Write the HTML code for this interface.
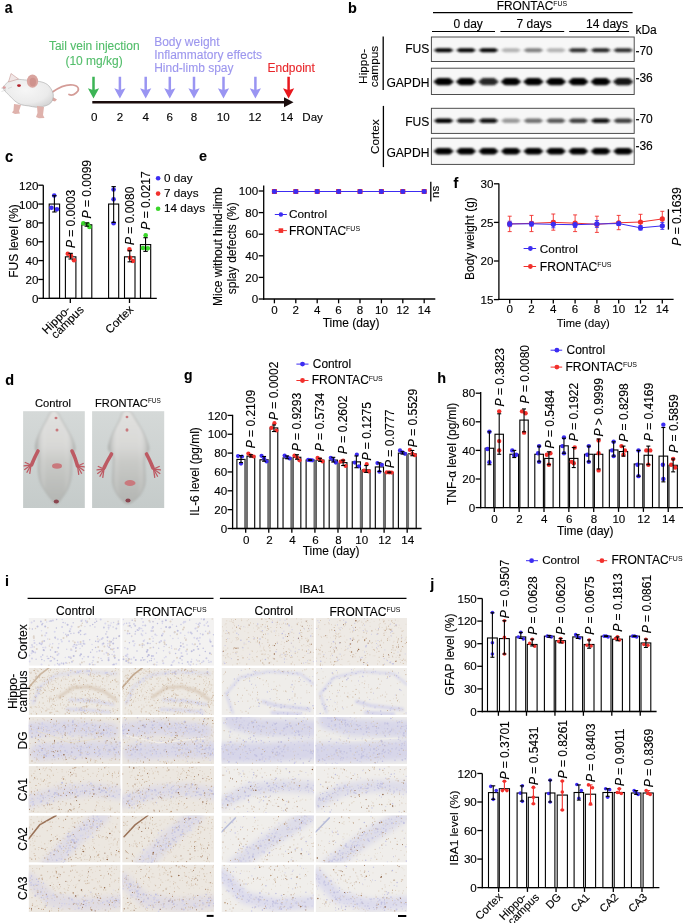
<!DOCTYPE html><html><head><meta charset="utf-8"><style>html,body{margin:0;padding:0;background:#fff;}svg{display:block;will-change:transform;}</style></head><body><svg width="685" height="923" viewBox="0 0 685 923" font-family="'Liberation Sans', sans-serif">
<defs>
<filter id="bl" filterUnits="userSpaceOnUse" x="400" y="0" width="285" height="200"><feGaussianBlur stdDeviation="0.8"/></filter>
<filter id="bl2" x="-20%" y="-60%" width="140%" height="220%"><feGaussianBlur stdDeviation="1.4"/></filter>
<filter id="bl3" filterUnits="userSpaceOnUse" x="0" y="0" width="685" height="923"><feGaussianBlur stdDeviation="2.6"/></filter>
<filter id="bl4" filterUnits="userSpaceOnUse" x="0" y="0" width="685" height="923"><feGaussianBlur stdDeviation="0.5"/></filter>
<filter id="bl1" filterUnits="userSpaceOnUse" x="0" y="0" width="685" height="923"><feGaussianBlur stdDeviation="1"/></filter>
</defs>
<style>text{stroke:currentColor;stroke-width:0.12px;paint-order:stroke;} tspan.s{stroke-width:0;}</style>
<rect width="685" height="923" fill="#fff"/>
<text transform="translate(4.8,12.8) scale(0.9,1.1)" font-size="15.5" font-weight="bold">a</text>
<text x="48.9" y="49.9" font-size="12" fill="#52bd6a" color="#52bd6a">Tail vein injection</text>
<text x="65.4" y="65.1" font-size="12" fill="#52bd6a" color="#52bd6a">(10 mg/kg)</text>
<text x="154.2" y="46.4" font-size="12" fill="#9c96ee" color="#9c96ee">Body weight</text>
<text x="154.2" y="59.2" font-size="12" fill="#9c96ee" color="#9c96ee">Inflammatory effects</text>
<text x="154.2" y="71.9" font-size="12" fill="#9c96ee" color="#9c96ee">Hind-limb spay</text>
<text x="267.5" y="71.9" font-size="12" fill="#e8262a" color="#e8262a">Endpoint</text>
<path d="M92.25,76.7 H94.75 V89.7 L99.1,88.2 L93.5,98.4 L87.9,88.2 L92.25,89.7 Z" fill="#3cb455"/>
<path d="M118.65,76.7 H121.15 V89.7 L125.5,88.2 L119.9,98.4 L114.3,88.2 L118.65,89.7 Z" fill="#9a95f2"/>
<path d="M144.45,76.7 H146.95 V89.7 L151.3,88.2 L145.7,98.4 L140.1,88.2 L144.45,89.7 Z" fill="#9a95f2"/>
<path d="M168.55,76.7 H171.05 V89.7 L175.4,88.2 L169.8,98.4 L164.2,88.2 L168.55,89.7 Z" fill="#9a95f2"/>
<path d="M192.75,76.7 H195.25 V89.7 L199.6,88.2 L194,98.4 L188.4,88.2 L192.75,89.7 Z" fill="#9a95f2"/>
<path d="M222.25,76.7 H224.75 V89.7 L229.1,88.2 L223.5,98.4 L217.9,88.2 L222.25,89.7 Z" fill="#9a95f2"/>
<path d="M254.15,76.7 H256.65 V89.7 L261,88.2 L255.4,98.4 L249.8,88.2 L254.15,89.7 Z" fill="#9a95f2"/>
<path d="M287.35,76.7 H289.85 V89.7 L294.2,88.2 L288.6,98.4 L283,88.2 L287.35,89.7 Z" fill="#e8181e"/>
<path d="M92.3,101 H284 V97.3 L293.5,102.3 L284,107.3 V103.6 H92.3 Z" fill="#1a0c0c"/>
<text x="94.3" y="121" font-size="11.6" text-anchor="middle">0</text>
<text x="119.9" y="121" font-size="11.6" text-anchor="middle">2</text>
<text x="145.7" y="121" font-size="11.6" text-anchor="middle">4</text>
<text x="169.8" y="121" font-size="11.6" text-anchor="middle">6</text>
<text x="194" y="121" font-size="11.6" text-anchor="middle">8</text>
<text x="223.3" y="121" font-size="11.6" text-anchor="middle">10</text>
<text x="255" y="121" font-size="11.6" text-anchor="middle">12</text>
<text x="286.7" y="121" font-size="11.6" text-anchor="middle">14</text>
<text x="302.3" y="121" font-size="11.6">Day</text>
<defs><radialGradient id="mbody" cx="0.45" cy="0.4" r="0.65"><stop offset="0" stop-color="#f6f6f6"/><stop offset="0.7" stop-color="#ebebeb"/><stop offset="1" stop-color="#d6d6d6"/></radialGradient></defs>
<path d="M52.5,92 C58,88 66,84 73,85 C79,86 80,90 76,93 C73,95.5 70,95 69,94.5" fill="none" stroke="#d49c97" stroke-width="1.7" stroke-linecap="round"/>
<path d="M51,96 L57,99.5 L55,101.5 L50,100 Z" fill="#dba8a2"/>
<path d="M3.1,87.3 C3.5,85.9 5.9,83.9 7.4,82.4 C9.0,81.0 10.5,79.1 12.4,78.6 C14.3,78.1 16.5,79.1 18.6,79.3 C20.7,79.5 21.7,79.6 24.8,79.9 C27.9,80.2 33.7,80.5 37.2,81.1 C40.7,81.7 43.6,82.3 45.9,83.6 C48.2,84.8 49.7,86.7 50.9,88.6 C52.1,90.5 53.1,92.7 53.3,94.8 C53.5,96.9 52.9,99.3 52.1,101.0 C51.3,102.7 50.0,103.8 48.4,104.7 C46.8,105.6 44.3,106.2 42.2,106.6 C40.1,107.0 38.3,107.3 36.0,107.2 C33.7,107.1 31.0,106.3 28.5,105.9 C26.0,105.5 23.4,105.5 21.1,104.7 C18.8,103.9 16.8,102.5 14.9,101.0 C13.0,99.5 11.6,97.7 9.9,96.0 C8.2,94.3 6.1,92.5 5.0,91.0 C3.9,89.5 2.7,88.7 3.1,87.3Z" fill="url(#mbody)" stroke="#a9a9a9" stroke-width="0.6"/>
<path d="M14,104 L13.5,110.5 L12,112.5 L15,114 L20,113.5 L19,111 L21,105 Z" fill="#dfb2ac"/>
<path d="M37,106 L37.5,113 L36,117 L39,118.3 L44.5,118 L43,115 L44,107 Z" fill="#dfb2ac"/>
<path d="M8.5,82 L11,73.5 L18.5,79 Z" fill="#f0e6e6" stroke="#c89a96" stroke-width="0.6"/>
<ellipse cx="32.5" cy="81.2" rx="5.6" ry="6.6" fill="#d9a49f"/>
<ellipse cx="32.8" cy="82" rx="3.2" ry="4.2" fill="#cf928d"/>
<ellipse cx="19" cy="85.6" rx="1.9" ry="1.3" fill="#b0202a"/>
<ellipse cx="4.2" cy="87.6" rx="1.6" ry="1.3" fill="#dc9c9c"/>
<path d="M6,89 L1,88 M6,90 L1.5,91.5 M8,88.5 L12,87" stroke="#b8b8b8" stroke-width="0.4"/>
<text transform="translate(348.1,12.7) scale(0.93,1.0)" font-size="15.5" font-weight="bold">b</text>
<text x="496.7" y="10.2" font-size="11.9">FRONTAC<tspan class="s" font-size="6.9" dy="-4.4">FUS</tspan></text>
<line x1="433" y1="12.6" x2="632.6" y2="12.6" stroke="#000" stroke-width="1.2"/>
<line x1="432" y1="31.5" x2="495" y2="31.5" stroke="#000" stroke-width="1.2"/>
<line x1="500.4" y1="31.5" x2="564.2" y2="31.5" stroke="#000" stroke-width="1.2"/>
<line x1="569.2" y1="31.5" x2="629.1" y2="31.5" stroke="#000" stroke-width="1.2"/>
<text x="453.5" y="28" font-size="12">0 day</text>
<text x="516.5" y="28" font-size="12">7 days</text>
<text x="586.1" y="28" font-size="12">14 days</text>
<text x="635.4" y="34" font-size="12">kDa</text>
<rect x="431.4" y="37" width="202.8" height="24.5" fill="#f7f7f7" stroke="#454545" stroke-width="0.95"/>
<rect x="431.4" y="68.2" width="202.8" height="26.3" fill="#f7f7f7" stroke="#454545" stroke-width="0.95"/>
<rect x="431.4" y="108.3" width="202.8" height="25.1" fill="#f7f7f7" stroke="#454545" stroke-width="0.95"/>
<rect x="431.4" y="138.2" width="202.8" height="26.2" fill="#f7f7f7" stroke="#454545" stroke-width="0.95"/>
<g filter="url(#bl)">
<rect x="435.4" y="48.2" width="16.4" height="4" rx="2" fill="rgb(0,0,0)"/>
<ellipse cx="443.6" cy="50.2" rx="10.25" ry="1.32" fill="rgb(0,0,0)"/>
<rect x="457.85" y="48.2" width="16.4" height="4" rx="2" fill="rgb(7,7,7)"/>
<ellipse cx="466.05" cy="50.2" rx="10.25" ry="1.32" fill="rgb(7,7,7)"/>
<rect x="480.3" y="48.2" width="16.4" height="4" rx="2" fill="rgb(7,7,7)"/>
<ellipse cx="488.5" cy="50.2" rx="10.25" ry="1.32" fill="rgb(7,7,7)"/>
<rect x="502.75" y="48.2" width="16.4" height="4" rx="2" fill="rgb(178,178,178)"/>
<ellipse cx="510.95" cy="50.2" rx="10.25" ry="1.32" fill="rgb(178,178,178)"/>
<rect x="525.2" y="48.2" width="16.4" height="4" rx="2" fill="rgb(127,127,127)"/>
<ellipse cx="533.4" cy="50.2" rx="10.25" ry="1.32" fill="rgb(127,127,127)"/>
<rect x="547.65" y="48.2" width="16.4" height="4" rx="2" fill="rgb(178,178,178)"/>
<ellipse cx="555.85" cy="50.2" rx="10.25" ry="1.32" fill="rgb(178,178,178)"/>
<rect x="570.1" y="48.2" width="16.4" height="4" rx="2" fill="rgb(45,45,45)"/>
<ellipse cx="578.3" cy="50.2" rx="10.25" ry="1.32" fill="rgb(45,45,45)"/>
<rect x="592.55" y="48.2" width="16.4" height="4" rx="2" fill="rgb(33,33,33)"/>
<ellipse cx="600.75" cy="50.2" rx="10.25" ry="1.32" fill="rgb(33,33,33)"/>
<rect x="615" y="48.2" width="16.4" height="4" rx="2" fill="rgb(45,45,45)"/>
<ellipse cx="623.2" cy="50.2" rx="10.25" ry="1.32" fill="rgb(45,45,45)"/>
<rect x="435.4" y="78.1" width="16.4" height="7.2" rx="3.6" fill="rgb(0,0,0)"/>
<ellipse cx="443.6" cy="81.7" rx="10.25" ry="2.38" fill="rgb(0,0,0)"/>
<rect x="457.85" y="78.1" width="16.4" height="7.2" rx="3.6" fill="rgb(0,0,0)"/>
<ellipse cx="466.05" cy="81.7" rx="10.25" ry="2.38" fill="rgb(0,0,0)"/>
<rect x="480.3" y="78.1" width="16.4" height="7.2" rx="3.6" fill="rgb(38,38,38)"/>
<ellipse cx="488.5" cy="81.7" rx="10.25" ry="2.38" fill="rgb(38,38,38)"/>
<rect x="502.75" y="78.1" width="16.4" height="7.2" rx="3.6" fill="rgb(0,0,0)"/>
<ellipse cx="510.95" cy="81.7" rx="10.25" ry="2.38" fill="rgb(0,0,0)"/>
<rect x="525.2" y="78.1" width="16.4" height="7.2" rx="3.6" fill="rgb(0,0,0)"/>
<ellipse cx="533.4" cy="81.7" rx="10.25" ry="2.38" fill="rgb(0,0,0)"/>
<rect x="547.65" y="78.1" width="16.4" height="7.2" rx="3.6" fill="rgb(0,0,0)"/>
<ellipse cx="555.85" cy="81.7" rx="10.25" ry="2.38" fill="rgb(0,0,0)"/>
<rect x="570.1" y="78.1" width="16.4" height="7.2" rx="3.6" fill="rgb(0,0,0)"/>
<ellipse cx="578.3" cy="81.7" rx="10.25" ry="2.38" fill="rgb(0,0,0)"/>
<rect x="592.55" y="78.1" width="16.4" height="7.2" rx="3.6" fill="rgb(0,0,0)"/>
<ellipse cx="600.75" cy="81.7" rx="10.25" ry="2.38" fill="rgb(0,0,0)"/>
<rect x="615" y="78.1" width="16.4" height="7.2" rx="3.6" fill="rgb(25,25,25)"/>
<ellipse cx="623.2" cy="81.7" rx="10.25" ry="2.38" fill="rgb(25,25,25)"/>
<rect x="435.4" y="118.5" width="16.4" height="4.4" rx="2.2" fill="rgb(0,0,0)"/>
<ellipse cx="443.6" cy="120.7" rx="10.25" ry="1.45" fill="rgb(0,0,0)"/>
<rect x="457.85" y="118.5" width="16.4" height="4.4" rx="2.2" fill="rgb(25,25,25)"/>
<ellipse cx="466.05" cy="120.7" rx="10.25" ry="1.45" fill="rgb(25,25,25)"/>
<rect x="480.3" y="118.5" width="16.4" height="4.4" rx="2.2" fill="rgb(12,12,12)"/>
<ellipse cx="488.5" cy="120.7" rx="10.25" ry="1.45" fill="rgb(12,12,12)"/>
<rect x="502.75" y="118.5" width="16.4" height="4.4" rx="2.2" fill="rgb(153,153,153)"/>
<ellipse cx="510.95" cy="120.7" rx="10.25" ry="1.45" fill="rgb(153,153,153)"/>
<rect x="525.2" y="118.5" width="16.4" height="4.4" rx="2.2" fill="rgb(114,114,114)"/>
<ellipse cx="533.4" cy="120.7" rx="10.25" ry="1.45" fill="rgb(114,114,114)"/>
<rect x="547.65" y="118.5" width="16.4" height="4.4" rx="2.2" fill="rgb(89,89,89)"/>
<ellipse cx="555.85" cy="120.7" rx="10.25" ry="1.45" fill="rgb(89,89,89)"/>
<rect x="570.1" y="118.5" width="16.4" height="4.4" rx="2.2" fill="rgb(63,63,63)"/>
<ellipse cx="578.3" cy="120.7" rx="10.25" ry="1.45" fill="rgb(63,63,63)"/>
<rect x="592.55" y="118.5" width="16.4" height="4.4" rx="2.2" fill="rgb(12,12,12)"/>
<ellipse cx="600.75" cy="120.7" rx="10.25" ry="1.45" fill="rgb(12,12,12)"/>
<rect x="615" y="118.5" width="16.4" height="4.4" rx="2.2" fill="rgb(63,63,63)"/>
<ellipse cx="623.2" cy="120.7" rx="10.25" ry="1.45" fill="rgb(63,63,63)"/>
<rect x="435.4" y="148" width="16.4" height="6.4" rx="3.2" fill="rgb(0,0,0)"/>
<ellipse cx="443.6" cy="151.2" rx="10.25" ry="2.11" fill="rgb(0,0,0)"/>
<rect x="457.85" y="148" width="16.4" height="6.4" rx="3.2" fill="rgb(0,0,0)"/>
<ellipse cx="466.05" cy="151.2" rx="10.25" ry="2.11" fill="rgb(0,0,0)"/>
<rect x="480.3" y="148" width="16.4" height="6.4" rx="3.2" fill="rgb(0,0,0)"/>
<ellipse cx="488.5" cy="151.2" rx="10.25" ry="2.11" fill="rgb(0,0,0)"/>
<rect x="502.75" y="148" width="16.4" height="6.4" rx="3.2" fill="rgb(0,0,0)"/>
<ellipse cx="510.95" cy="151.2" rx="10.25" ry="2.11" fill="rgb(0,0,0)"/>
<rect x="525.2" y="148" width="16.4" height="6.4" rx="3.2" fill="rgb(0,0,0)"/>
<ellipse cx="533.4" cy="151.2" rx="10.25" ry="2.11" fill="rgb(0,0,0)"/>
<rect x="547.65" y="148" width="16.4" height="6.4" rx="3.2" fill="rgb(0,0,0)"/>
<ellipse cx="555.85" cy="151.2" rx="10.25" ry="2.11" fill="rgb(0,0,0)"/>
<rect x="570.1" y="148" width="16.4" height="6.4" rx="3.2" fill="rgb(0,0,0)"/>
<ellipse cx="578.3" cy="151.2" rx="10.25" ry="2.11" fill="rgb(0,0,0)"/>
<rect x="592.55" y="148" width="16.4" height="6.4" rx="3.2" fill="rgb(0,0,0)"/>
<ellipse cx="600.75" cy="151.2" rx="10.25" ry="2.11" fill="rgb(0,0,0)"/>
<rect x="615" y="148" width="16.4" height="6.4" rx="3.2" fill="rgb(0,0,0)"/>
<ellipse cx="623.2" cy="151.2" rx="10.25" ry="2.11" fill="rgb(0,0,0)"/>
</g>
<text x="429.4" y="52.8" font-size="12.1" text-anchor="end">FUS</text>
<text x="429.4" y="87.2" font-size="12.1" text-anchor="end">GAPDH</text>
<text x="429.4" y="125.5" font-size="12.1" text-anchor="end">FUS</text>
<text x="429.4" y="156.6" font-size="12.1" text-anchor="end">GAPDH</text>
<text x="635.4" y="54.5" font-size="12">-70</text>
<text x="635.4" y="82.1" font-size="12">-36</text>
<text x="635.4" y="122.8" font-size="12">-70</text>
<text x="635.4" y="150.4" font-size="12">-36</text>
<line x1="383.2" y1="36.6" x2="383.2" y2="89.9" stroke="#000" stroke-width="1.3"/>
<line x1="383.4" y1="105.9" x2="383.4" y2="167.1" stroke="#000" stroke-width="1.3"/>
<text transform="translate(367.4,66.5) rotate(-90)" font-size="11.8" text-anchor="middle">Hippo-</text>
<text transform="translate(378.2,66.5) rotate(-90)" font-size="11.8" text-anchor="middle">campus</text>
<text transform="translate(378.6,136.7) rotate(-90)" font-size="11.8" text-anchor="middle">Cortex</text>
<text transform="translate(5.1,161.7) scale(0.95,1.06)" font-size="15.5" font-weight="bold">c</text>
<rect x="49.2" y="204.05" width="10.4" height="94.25" fill="#fff" stroke="#000" stroke-width="1.1"/>
<rect x="65.4" y="256.83" width="10.5" height="41.47" fill="#fff" stroke="#000" stroke-width="1.1"/>
<rect x="81.8" y="224.79" width="10" height="73.51" fill="#fff" stroke="#000" stroke-width="1.1"/>
<rect x="108.6" y="204.05" width="10.1" height="94.25" fill="#fff" stroke="#000" stroke-width="1.1"/>
<rect x="124.5" y="256.83" width="10.5" height="41.47" fill="#fff" stroke="#000" stroke-width="1.1"/>
<rect x="140.4" y="244.58" width="10.3" height="53.72" fill="#fff" stroke="#000" stroke-width="1.1"/>
<circle cx="54.2" cy="195.57" r="2.3" fill="#3c2cf2"/>
<circle cx="51.4" cy="207.82" r="2.3" fill="#3c2cf2"/>
<circle cx="56.9" cy="209.33" r="2.3" fill="#3c2cf2"/>
<line x1="54.4" y1="195.76" x2="54.4" y2="211.97" stroke="#000" stroke-width="1.1"/>
<line x1="52.2" y1="195.76" x2="56.6" y2="195.76" stroke="#000" stroke-width="1.1"/>
<line x1="52.2" y1="211.97" x2="56.6" y2="211.97" stroke="#000" stroke-width="1.1"/>
<circle cx="67.8" cy="253.81" r="2.3" fill="#f2302c"/>
<circle cx="71" cy="255.89" r="2.3" fill="#f2302c"/>
<circle cx="74" cy="260.22" r="2.3" fill="#f2302c"/>
<line x1="70.65" y1="253.34" x2="70.65" y2="259" stroke="#000" stroke-width="1.1"/>
<line x1="68.45" y1="253.34" x2="72.85" y2="253.34" stroke="#000" stroke-width="1.1"/>
<line x1="68.45" y1="259" x2="72.85" y2="259" stroke="#000" stroke-width="1.1"/>
<circle cx="83.3" cy="223.28" r="2.3" fill="#3ad62a"/>
<circle cx="87.9" cy="224.41" r="2.3" fill="#3ad62a"/>
<circle cx="89.5" cy="227.05" r="2.3" fill="#3ad62a"/>
<line x1="86.8" y1="222.9" x2="86.8" y2="226.2" stroke="#000" stroke-width="1.1"/>
<line x1="84.6" y1="222.9" x2="89" y2="222.9" stroke="#000" stroke-width="1.1"/>
<line x1="84.6" y1="226.2" x2="89" y2="226.2" stroke="#000" stroke-width="1.1"/>
<circle cx="113.6" cy="189.44" r="2.3" fill="#3c2cf2"/>
<circle cx="113.6" cy="199.34" r="2.3" fill="#3c2cf2"/>
<circle cx="113.6" cy="223.28" r="2.3" fill="#3c2cf2"/>
<line x1="113.65" y1="186.61" x2="113.65" y2="222.43" stroke="#000" stroke-width="1.1"/>
<line x1="111.45" y1="186.61" x2="115.85" y2="186.61" stroke="#000" stroke-width="1.1"/>
<line x1="111.45" y1="222.43" x2="115.85" y2="222.43" stroke="#000" stroke-width="1.1"/>
<circle cx="129.4" cy="249.38" r="2.3" fill="#f2302c"/>
<circle cx="130.2" cy="257.77" r="2.3" fill="#f2302c"/>
<circle cx="132.9" cy="260.98" r="2.3" fill="#f2302c"/>
<line x1="129.75" y1="250.7" x2="129.75" y2="261.83" stroke="#000" stroke-width="1.1"/>
<line x1="127.55" y1="250.7" x2="131.95" y2="250.7" stroke="#000" stroke-width="1.1"/>
<line x1="127.55" y1="261.83" x2="131.95" y2="261.83" stroke="#000" stroke-width="1.1"/>
<circle cx="145.7" cy="235.34" r="2.3" fill="#3ad62a"/>
<circle cx="143" cy="248.06" r="2.3" fill="#3ad62a"/>
<circle cx="147.8" cy="248.35" r="2.3" fill="#3ad62a"/>
<line x1="145.55" y1="237.7" x2="145.55" y2="251.36" stroke="#000" stroke-width="1.1"/>
<line x1="143.35" y1="237.7" x2="147.75" y2="237.7" stroke="#000" stroke-width="1.1"/>
<line x1="143.35" y1="251.36" x2="147.75" y2="251.36" stroke="#000" stroke-width="1.1"/>
<line x1="43.3" y1="185.2" x2="43.3" y2="298.95" stroke="#000" stroke-width="1.3"/>
<line x1="38.3" y1="298.3" x2="43.3" y2="298.3" stroke="#000" stroke-width="1.3"/>
<text x="38.4" y="302.9" font-size="11.6" text-anchor="end">0</text>
<line x1="38.3" y1="279.45" x2="43.3" y2="279.45" stroke="#000" stroke-width="1.3"/>
<text x="38.4" y="284.05" font-size="11.6" text-anchor="end">20</text>
<line x1="38.3" y1="260.6" x2="43.3" y2="260.6" stroke="#000" stroke-width="1.3"/>
<text x="38.4" y="265.2" font-size="11.6" text-anchor="end">40</text>
<line x1="38.3" y1="241.75" x2="43.3" y2="241.75" stroke="#000" stroke-width="1.3"/>
<text x="38.4" y="246.35" font-size="11.6" text-anchor="end">60</text>
<line x1="38.3" y1="222.9" x2="43.3" y2="222.9" stroke="#000" stroke-width="1.3"/>
<text x="38.4" y="227.5" font-size="11.6" text-anchor="end">80</text>
<line x1="38.3" y1="204.05" x2="43.3" y2="204.05" stroke="#000" stroke-width="1.3"/>
<text x="38.4" y="208.65" font-size="11.6" text-anchor="end">100</text>
<line x1="38.3" y1="185.2" x2="43.3" y2="185.2" stroke="#000" stroke-width="1.3"/>
<text x="38.4" y="189.8" font-size="11.6" text-anchor="end">120</text>
<line x1="42.65" y1="298.3" x2="156.8" y2="298.3" stroke="#000" stroke-width="1.3"/>
<line x1="70.3" y1="298.3" x2="70.3" y2="303" stroke="#000" stroke-width="1.3"/>
<line x1="129.5" y1="298.3" x2="129.5" y2="303" stroke="#000" stroke-width="1.3"/>
<text transform="translate(75.4,248.1) rotate(-90)" font-size="12"><tspan font-style="italic">P</tspan> = 0.0003</text>
<text transform="translate(90.6,218.4) rotate(-90)" font-size="12"><tspan font-style="italic">P</tspan> = 0.0099</text>
<text transform="translate(134.2,245) rotate(-90)" font-size="12"><tspan font-style="italic">P</tspan> = 0.0080</text>
<text transform="translate(150.4,229.7) rotate(-90)" font-size="12"><tspan font-style="italic">P</tspan> = 0.0217</text>
<text transform="translate(17.5,241) rotate(-90)" font-size="11.9" text-anchor="middle">FUS level (%)</text>
<text transform="translate(71,310.5) rotate(-45)" font-size="11.6" text-anchor="end">Hippo-</text>
<text transform="translate(84.5,310.5) rotate(-45)" font-size="11.6" text-anchor="end">campus</text>
<text transform="translate(134.2,310.1) rotate(-45)" font-size="11.6" text-anchor="end">Cortex</text>
<circle cx="158.1" cy="178.3" r="2.3" fill="#3c2cf2"/>
<text x="164.1" y="181.9" font-size="11.7">0 day</text>
<circle cx="158.1" cy="193.6" r="2.3" fill="#f2302c"/>
<text x="164.1" y="197.2" font-size="11.7">7 days</text>
<circle cx="158.1" cy="208.7" r="2.3" fill="#3ad62a"/>
<text x="164.1" y="212.3" font-size="11.7">14 days</text>
<text transform="translate(199.1,161.3) scale(0.93,1.0)" font-size="15.5" font-weight="bold">e</text>
<line x1="263.7" y1="185.4" x2="263.7" y2="299.65" stroke="#000" stroke-width="1.3"/>
<line x1="258.7" y1="299" x2="263.7" y2="299" stroke="#000" stroke-width="1.3"/>
<text x="258.2" y="303.1" font-size="11.6" text-anchor="end">0</text>
<line x1="258.7" y1="277.4" x2="263.7" y2="277.4" stroke="#000" stroke-width="1.3"/>
<text x="258.2" y="281.5" font-size="11.6" text-anchor="end">20</text>
<line x1="258.7" y1="255.8" x2="263.7" y2="255.8" stroke="#000" stroke-width="1.3"/>
<text x="258.2" y="259.9" font-size="11.6" text-anchor="end">40</text>
<line x1="258.7" y1="234.2" x2="263.7" y2="234.2" stroke="#000" stroke-width="1.3"/>
<text x="258.2" y="238.3" font-size="11.6" text-anchor="end">60</text>
<line x1="258.7" y1="212.6" x2="263.7" y2="212.6" stroke="#000" stroke-width="1.3"/>
<text x="258.2" y="216.7" font-size="11.6" text-anchor="end">80</text>
<line x1="258.7" y1="191" x2="263.7" y2="191" stroke="#000" stroke-width="1.3"/>
<text x="258.2" y="195.1" font-size="11.6" text-anchor="end">100</text>
<line x1="263.05" y1="299" x2="435.3" y2="299" stroke="#000" stroke-width="1.3"/>
<line x1="274.4" y1="299" x2="274.4" y2="303.3" stroke="#000" stroke-width="1.3"/>
<text x="274.4" y="314.1" font-size="11.6" text-anchor="middle">0</text>
<line x1="295.8" y1="299" x2="295.8" y2="303.3" stroke="#000" stroke-width="1.3"/>
<text x="295.8" y="314.1" font-size="11.6" text-anchor="middle">2</text>
<line x1="317.2" y1="299" x2="317.2" y2="303.3" stroke="#000" stroke-width="1.3"/>
<text x="317.2" y="314.1" font-size="11.6" text-anchor="middle">4</text>
<line x1="338.6" y1="299" x2="338.6" y2="303.3" stroke="#000" stroke-width="1.3"/>
<text x="338.6" y="314.1" font-size="11.6" text-anchor="middle">6</text>
<line x1="360" y1="299" x2="360" y2="303.3" stroke="#000" stroke-width="1.3"/>
<text x="360" y="314.1" font-size="11.6" text-anchor="middle">8</text>
<line x1="381.4" y1="299" x2="381.4" y2="303.3" stroke="#000" stroke-width="1.3"/>
<text x="381.4" y="314.1" font-size="11.6" text-anchor="middle">10</text>
<line x1="402.8" y1="299" x2="402.8" y2="303.3" stroke="#000" stroke-width="1.3"/>
<text x="402.8" y="314.1" font-size="11.6" text-anchor="middle">12</text>
<line x1="424.2" y1="299" x2="424.2" y2="303.3" stroke="#000" stroke-width="1.3"/>
<text x="424.2" y="314.1" font-size="11.6" text-anchor="middle">14</text>
<text x="351.1" y="326.6" font-size="12" text-anchor="middle">Time (day)</text>
<line x1="274.4" y1="191.5" x2="424.2" y2="191.5" stroke="#f2302c" stroke-width="1"/>
<line x1="274.4" y1="191.5" x2="424.2" y2="191.5" stroke="#3c2cf2" stroke-width="1"/>
<rect x="271.9" y="189" width="5" height="5" fill="#f2302c"/>
<circle cx="274.4" cy="191.5" r="2.5" fill="#3c2cf2"/>
<rect x="293.3" y="189" width="5" height="5" fill="#f2302c"/>
<circle cx="295.8" cy="191.5" r="2.5" fill="#3c2cf2"/>
<rect x="314.7" y="189" width="5" height="5" fill="#f2302c"/>
<circle cx="317.2" cy="191.5" r="2.5" fill="#3c2cf2"/>
<rect x="336.1" y="189" width="5" height="5" fill="#f2302c"/>
<circle cx="338.6" cy="191.5" r="2.5" fill="#3c2cf2"/>
<rect x="357.5" y="189" width="5" height="5" fill="#f2302c"/>
<circle cx="360" cy="191.5" r="2.5" fill="#3c2cf2"/>
<rect x="378.9" y="189" width="5" height="5" fill="#f2302c"/>
<circle cx="381.4" cy="191.5" r="2.5" fill="#3c2cf2"/>
<rect x="400.3" y="189" width="5" height="5" fill="#f2302c"/>
<circle cx="402.8" cy="191.5" r="2.5" fill="#3c2cf2"/>
<rect x="421.7" y="189" width="5" height="5" fill="#f2302c"/>
<circle cx="424.2" cy="191.5" r="2.5" fill="#3c2cf2"/>
<line x1="274.8" y1="214.5" x2="286.9" y2="214.5" stroke="#3c2cf2" stroke-width="1"/>
<circle cx="280.9" cy="214.5" r="2.2" fill="#3c2cf2"/>
<text x="289" y="217.7" font-size="11.8">Control</text>
<line x1="274.8" y1="230.6" x2="286.9" y2="230.6" stroke="#f2302c" stroke-width="1"/>
<rect x="278.6" y="228.3" width="4.6" height="4.6" fill="#f2302c"/>
<text x="289" y="235" font-size="12">FRONTAC<tspan class="s" font-size="6.96" dy="-3.6">FUS</tspan></text>
<line x1="430.8" y1="181.8" x2="430.8" y2="201.4" stroke="#000" stroke-width="1.3"/>
<text transform="translate(439.3,197.9) rotate(-90)" font-size="11.5">ns</text>
<text transform="translate(222.3,246.6) rotate(-90)" font-size="12" text-anchor="middle">Mice without hind-limb</text>
<text transform="translate(235.5,248.2) rotate(-90)" font-size="12" text-anchor="middle">splay defects (%)</text>
<text transform="translate(453.5,188.2) scale(0.93,1.0)" font-size="15.5" font-weight="bold">f</text>
<line x1="498.9" y1="183.4" x2="498.9" y2="299.95" stroke="#000" stroke-width="1.3"/>
<line x1="493.9" y1="299.6" x2="498.9" y2="299.6" stroke="#000" stroke-width="1.3"/>
<text x="493.4" y="303.7" font-size="11.6" text-anchor="end">15</text>
<line x1="493.9" y1="261" x2="498.9" y2="261" stroke="#000" stroke-width="1.3"/>
<text x="493.4" y="265.1" font-size="11.6" text-anchor="end">20</text>
<line x1="493.9" y1="222.4" x2="498.9" y2="222.4" stroke="#000" stroke-width="1.3"/>
<text x="493.4" y="226.5" font-size="11.6" text-anchor="end">25</text>
<line x1="493.9" y1="183.8" x2="498.9" y2="183.8" stroke="#000" stroke-width="1.3"/>
<text x="493.4" y="187.9" font-size="11.6" text-anchor="end">30</text>
<line x1="498.25" y1="299.3" x2="673.6" y2="299.3" stroke="#000" stroke-width="1.3"/>
<line x1="509.7" y1="299.3" x2="509.7" y2="303.6" stroke="#000" stroke-width="1.3"/>
<text x="509.7" y="313.4" font-size="11.6" text-anchor="middle">0</text>
<line x1="531.5" y1="299.3" x2="531.5" y2="303.6" stroke="#000" stroke-width="1.3"/>
<text x="531.5" y="313.4" font-size="11.6" text-anchor="middle">2</text>
<line x1="553.3" y1="299.3" x2="553.3" y2="303.6" stroke="#000" stroke-width="1.3"/>
<text x="553.3" y="313.4" font-size="11.6" text-anchor="middle">4</text>
<line x1="575.1" y1="299.3" x2="575.1" y2="303.6" stroke="#000" stroke-width="1.3"/>
<text x="575.1" y="313.4" font-size="11.6" text-anchor="middle">6</text>
<line x1="596.9" y1="299.3" x2="596.9" y2="303.6" stroke="#000" stroke-width="1.3"/>
<text x="596.9" y="313.4" font-size="11.6" text-anchor="middle">8</text>
<line x1="618.7" y1="299.3" x2="618.7" y2="303.6" stroke="#000" stroke-width="1.3"/>
<text x="618.7" y="313.4" font-size="11.6" text-anchor="middle">10</text>
<line x1="640.5" y1="299.3" x2="640.5" y2="303.6" stroke="#000" stroke-width="1.3"/>
<text x="640.5" y="313.4" font-size="11.6" text-anchor="middle">12</text>
<line x1="662.3" y1="299.3" x2="662.3" y2="303.6" stroke="#000" stroke-width="1.3"/>
<text x="662.3" y="313.4" font-size="11.6" text-anchor="middle">14</text>
<text x="583.3" y="326.8" font-size="11.2" text-anchor="middle">Time (day)</text>
<line x1="509.7" y1="216.2" x2="509.7" y2="231.6" stroke="#f2302c" stroke-width="0.9"/>
<line x1="507.7" y1="216.2" x2="511.7" y2="216.2" stroke="#f2302c" stroke-width="0.9"/>
<line x1="507.7" y1="231.6" x2="511.7" y2="231.6" stroke="#f2302c" stroke-width="0.9"/>
<line x1="531.5" y1="215.4" x2="531.5" y2="231.6" stroke="#f2302c" stroke-width="0.9"/>
<line x1="529.5" y1="215.4" x2="533.5" y2="215.4" stroke="#f2302c" stroke-width="0.9"/>
<line x1="529.5" y1="231.6" x2="533.5" y2="231.6" stroke="#f2302c" stroke-width="0.9"/>
<line x1="553.3" y1="214" x2="553.3" y2="230.2" stroke="#f2302c" stroke-width="0.9"/>
<line x1="551.3" y1="214" x2="555.3" y2="214" stroke="#f2302c" stroke-width="0.9"/>
<line x1="551.3" y1="230.2" x2="555.3" y2="230.2" stroke="#f2302c" stroke-width="0.9"/>
<line x1="575.1" y1="214.9" x2="575.1" y2="231.6" stroke="#f2302c" stroke-width="0.9"/>
<line x1="573.1" y1="214.9" x2="577.1" y2="214.9" stroke="#f2302c" stroke-width="0.9"/>
<line x1="573.1" y1="231.6" x2="577.1" y2="231.6" stroke="#f2302c" stroke-width="0.9"/>
<line x1="596.9" y1="216.2" x2="596.9" y2="232.4" stroke="#f2302c" stroke-width="0.9"/>
<line x1="594.9" y1="216.2" x2="598.9" y2="216.2" stroke="#f2302c" stroke-width="0.9"/>
<line x1="594.9" y1="232.4" x2="598.9" y2="232.4" stroke="#f2302c" stroke-width="0.9"/>
<line x1="618.7" y1="215.4" x2="618.7" y2="229.7" stroke="#f2302c" stroke-width="0.9"/>
<line x1="616.7" y1="215.4" x2="620.7" y2="215.4" stroke="#f2302c" stroke-width="0.9"/>
<line x1="616.7" y1="229.7" x2="620.7" y2="229.7" stroke="#f2302c" stroke-width="0.9"/>
<line x1="640.5" y1="214.3" x2="640.5" y2="228.4" stroke="#f2302c" stroke-width="0.9"/>
<line x1="638.5" y1="214.3" x2="642.5" y2="214.3" stroke="#f2302c" stroke-width="0.9"/>
<line x1="638.5" y1="228.4" x2="642.5" y2="228.4" stroke="#f2302c" stroke-width="0.9"/>
<line x1="662.3" y1="211.3" x2="662.3" y2="226.8" stroke="#f2302c" stroke-width="0.9"/>
<line x1="660.3" y1="211.3" x2="664.3" y2="211.3" stroke="#f2302c" stroke-width="0.9"/>
<line x1="660.3" y1="226.8" x2="664.3" y2="226.8" stroke="#f2302c" stroke-width="0.9"/>
<line x1="509.7" y1="221.24" x2="509.7" y2="226.65" stroke="#3c2cf2" stroke-width="0.9"/>
<line x1="507.7" y1="221.24" x2="511.7" y2="221.24" stroke="#3c2cf2" stroke-width="0.9"/>
<line x1="507.7" y1="226.65" x2="511.7" y2="226.65" stroke="#3c2cf2" stroke-width="0.9"/>
<line x1="531.5" y1="221.47" x2="531.5" y2="226.11" stroke="#3c2cf2" stroke-width="0.9"/>
<line x1="529.5" y1="221.47" x2="533.5" y2="221.47" stroke="#3c2cf2" stroke-width="0.9"/>
<line x1="529.5" y1="226.11" x2="533.5" y2="226.11" stroke="#3c2cf2" stroke-width="0.9"/>
<line x1="553.3" y1="220.86" x2="553.3" y2="227.8" stroke="#3c2cf2" stroke-width="0.9"/>
<line x1="551.3" y1="220.86" x2="555.3" y2="220.86" stroke="#3c2cf2" stroke-width="0.9"/>
<line x1="551.3" y1="227.8" x2="555.3" y2="227.8" stroke="#3c2cf2" stroke-width="0.9"/>
<line x1="575.1" y1="222.01" x2="575.1" y2="227.42" stroke="#3c2cf2" stroke-width="0.9"/>
<line x1="573.1" y1="222.01" x2="577.1" y2="222.01" stroke="#3c2cf2" stroke-width="0.9"/>
<line x1="573.1" y1="227.42" x2="577.1" y2="227.42" stroke="#3c2cf2" stroke-width="0.9"/>
<line x1="596.9" y1="220.47" x2="596.9" y2="227.42" stroke="#3c2cf2" stroke-width="0.9"/>
<line x1="594.9" y1="220.47" x2="598.9" y2="220.47" stroke="#3c2cf2" stroke-width="0.9"/>
<line x1="594.9" y1="227.42" x2="598.9" y2="227.42" stroke="#3c2cf2" stroke-width="0.9"/>
<line x1="618.7" y1="221.63" x2="618.7" y2="225.49" stroke="#3c2cf2" stroke-width="0.9"/>
<line x1="616.7" y1="221.63" x2="620.7" y2="221.63" stroke="#3c2cf2" stroke-width="0.9"/>
<line x1="616.7" y1="225.49" x2="620.7" y2="225.49" stroke="#3c2cf2" stroke-width="0.9"/>
<line x1="640.5" y1="225.49" x2="640.5" y2="230.12" stroke="#3c2cf2" stroke-width="0.9"/>
<line x1="638.5" y1="225.49" x2="642.5" y2="225.49" stroke="#3c2cf2" stroke-width="0.9"/>
<line x1="638.5" y1="230.12" x2="642.5" y2="230.12" stroke="#3c2cf2" stroke-width="0.9"/>
<line x1="662.3" y1="222.4" x2="662.3" y2="229.35" stroke="#3c2cf2" stroke-width="0.9"/>
<line x1="660.3" y1="222.4" x2="664.3" y2="222.4" stroke="#3c2cf2" stroke-width="0.9"/>
<line x1="660.3" y1="229.35" x2="664.3" y2="229.35" stroke="#3c2cf2" stroke-width="0.9"/>
<polyline points="509.7,223.94 531.5,223.33 553.3,222.4 575.1,223.17 596.9,224.33 618.7,222.79 640.5,222.01 662.3,218.93" fill="none" stroke="#f2302c" stroke-width="1"/>
<polyline points="509.7,223.94 531.5,223.79 553.3,224.33 575.1,224.72 596.9,223.94 618.7,223.56 640.5,227.8 662.3,225.87" fill="none" stroke="#3c2cf2" stroke-width="1"/>
<circle cx="509.7" cy="223.94" r="2.6" fill="#f2302c"/>
<circle cx="531.5" cy="223.33" r="2.6" fill="#f2302c"/>
<circle cx="553.3" cy="222.4" r="2.6" fill="#f2302c"/>
<circle cx="575.1" cy="223.17" r="2.6" fill="#f2302c"/>
<circle cx="596.9" cy="224.33" r="2.6" fill="#f2302c"/>
<circle cx="618.7" cy="222.79" r="2.6" fill="#f2302c"/>
<circle cx="640.5" cy="222.01" r="2.6" fill="#f2302c"/>
<circle cx="662.3" cy="218.93" r="2.6" fill="#f2302c"/>
<circle cx="509.7" cy="223.94" r="2.6" fill="#3c2cf2"/>
<circle cx="531.5" cy="223.79" r="2.6" fill="#3c2cf2"/>
<circle cx="553.3" cy="224.33" r="2.6" fill="#3c2cf2"/>
<circle cx="575.1" cy="224.72" r="2.6" fill="#3c2cf2"/>
<circle cx="596.9" cy="223.94" r="2.6" fill="#3c2cf2"/>
<circle cx="618.7" cy="223.56" r="2.6" fill="#3c2cf2"/>
<circle cx="640.5" cy="227.8" r="2.6" fill="#3c2cf2"/>
<circle cx="662.3" cy="225.87" r="2.6" fill="#3c2cf2"/>
<line x1="523.6" y1="248.5" x2="536.1" y2="248.5" stroke="#3c2cf2" stroke-width="1"/>
<circle cx="530.4" cy="248.5" r="2.4" fill="#3c2cf2"/>
<text x="539.8" y="252.5" font-size="11.8">Control</text>
<line x1="523.6" y1="266.5" x2="536.1" y2="266.5" stroke="#f2302c" stroke-width="1"/>
<circle cx="530.4" cy="266.5" r="2.4" fill="#f2302c"/>
<text x="539.8" y="270.6" font-size="12.1">FRONTAC<tspan class="s" font-size="7.02" dy="-3.63">FUS</tspan></text>
<line x1="668.4" y1="209.2" x2="668.4" y2="229.6" stroke="#000" stroke-width="1.3"/>
<text transform="translate(680.6,245.7) rotate(-90)" font-size="12"><tspan font-style="italic">P</tspan> = 0.1639</text>
<text transform="translate(473.7,238.6) rotate(-90)" font-size="11.9" text-anchor="middle">Body weight (g)</text>
<text transform="translate(5.3,384.5) scale(0.93,1.0)" font-size="15.5" font-weight="bold">d</text>
<text x="34.9" y="406.8" font-size="11.2">Control</text>
<text x="95.1" y="406.8" font-size="11.1">FRONTAC<tspan class="s" font-size="6.44" dy="-3.33">FUS</tspan></text>
<defs><linearGradient id="mp1" x1="0" y1="0" x2="0" y2="1"><stop offset="0" stop-color="#d5d9d8"/><stop offset="1" stop-color="#c5cbca"/></linearGradient><linearGradient id="mp1b" x1="0" y1="0" x2="0" y2="1"><stop offset="0" stop-color="#e2e2e0"/><stop offset="0.38" stop-color="#d8d8d6"/><stop offset="0.55" stop-color="#c9cac7"/><stop offset="0.8" stop-color="#bcbebb"/><stop offset="1" stop-color="#b3b5b2"/></linearGradient><linearGradient id="mp1s" x1="0" y1="0" x2="1" y2="0"><stop offset="0" stop-color="#8e9290" stop-opacity="0.6"/><stop offset="0.28" stop-color="#ffffff" stop-opacity="0"/><stop offset="0.72" stop-color="#ffffff" stop-opacity="0"/><stop offset="1" stop-color="#8e9290" stop-opacity="0.5"/></linearGradient><clipPath id="mp1c"><rect x="23.1" y="411.2" width="61.7" height="96.8"/></clipPath><filter id="mp1f" filterUnits="userSpaceOnUse" x="18.1" y="406.2" width="71.7" height="106.8"><feGaussianBlur stdDeviation="0.8"/></filter></defs>
<rect x="23.1" y="411.2" width="61.7" height="96.8" fill="url(#mp1)"/>
<g clip-path="url(#mp1c)">
<g filter="url(#mp1f)"><path d="M51.3,411.5 C52.97,410.08 54.75,410.08 56.5,411.5 C58.25,412.92 59.97,416.92 61.8,420 C63.63,423.08 65.68,426.67 67.5,430 C69.32,433.33 71.45,436.83 72.7,440 C73.95,443.17 75,446.75 75,449 C75,451.25 73.28,451.67 72.7,453.5 C72.12,455.33 71.7,457.25 71.5,460 C71.3,462.75 71.67,466.67 71.5,470 C71.33,473.33 71.25,476.67 70.5,480 C69.75,483.33 68.58,486.83 67,490 C65.42,493.17 62.75,496.67 61,499 C59.25,501.33 58,503.83 56.5,504 C55,504.17 53.75,502 52,500 C50.25,498 47.92,495 46,492 C44.08,489 41.75,485.67 40.5,482 C39.25,478.33 38.78,473.67 38.5,470 C38.22,466.33 38.87,462.75 38.8,460 C38.73,457.25 38.63,455.33 38.1,453.5 C37.57,451.67 35.82,451.25 35.6,449 C35.38,446.75 35.87,443.17 36.8,440 C37.73,436.83 39.58,433.33 41.2,430 C42.82,426.67 44.82,423.08 46.5,420 C48.18,416.92 49.63,412.92 51.3,411.5Z" fill="url(#mp1b)"/>
<path d="M51.3,411.5 C52.97,410.08 54.75,410.08 56.5,411.5 C58.25,412.92 59.97,416.92 61.8,420 C63.63,423.08 65.68,426.67 67.5,430 C69.32,433.33 71.45,436.83 72.7,440 C73.95,443.17 75,446.75 75,449 C75,451.25 73.28,451.67 72.7,453.5 C72.12,455.33 71.7,457.25 71.5,460 C71.3,462.75 71.67,466.67 71.5,470 C71.33,473.33 71.25,476.67 70.5,480 C69.75,483.33 68.58,486.83 67,490 C65.42,493.17 62.75,496.67 61,499 C59.25,501.33 58,503.83 56.5,504 C55,504.17 53.75,502 52,500 C50.25,498 47.92,495 46,492 C44.08,489 41.75,485.67 40.5,482 C39.25,478.33 38.78,473.67 38.5,470 C38.22,466.33 38.87,462.75 38.8,460 C38.73,457.25 38.63,455.33 38.1,453.5 C37.57,451.67 35.82,451.25 35.6,449 C35.38,446.75 35.87,443.17 36.8,440 C37.73,436.83 39.58,433.33 41.2,430 C42.82,426.67 44.82,423.08 46.5,420 C48.18,416.92 49.63,412.92 51.3,411.5Z" fill="url(#mp1s)" stroke="#a4a6a3" stroke-width="0.8"/></g>
<path d="M38,451 C37.42,452.17 35.58,455.67 34.5,458 C33.42,460.33 32,463.83 31.5,465" stroke="#bd5a63" stroke-width="3.6" stroke-linecap="round" fill="none"/>
<path d="M72,451 C72.5,452.17 74.08,455.5 75,458 C75.92,460.5 77.08,464.67 77.5,466" stroke="#bd5a63" stroke-width="3.6" stroke-linecap="round" fill="none"/>
<line x1="31" y1="465" x2="25.27" y2="462.48" stroke="#bd5a63" stroke-width="1.3" stroke-linecap="round"/>
<line x1="31" y1="465" x2="24.03" y2="465.89" stroke="#bd5a63" stroke-width="1.3" stroke-linecap="round"/>
<line x1="31" y1="465" x2="24.66" y2="469.46" stroke="#bd5a63" stroke-width="1.3" stroke-linecap="round"/>
<line x1="31" y1="465" x2="26.98" y2="472.23" stroke="#bd5a63" stroke-width="1.3" stroke-linecap="round"/>
<line x1="31" y1="465" x2="29.78" y2="473.39" stroke="#bd5a63" stroke-width="1.3" stroke-linecap="round"/>
<line x1="77.5" y1="466" x2="83.23" y2="463.48" stroke="#bd5a63" stroke-width="1.3" stroke-linecap="round"/>
<line x1="77.5" y1="466" x2="84.47" y2="466.89" stroke="#bd5a63" stroke-width="1.3" stroke-linecap="round"/>
<line x1="77.5" y1="466" x2="83.84" y2="470.46" stroke="#bd5a63" stroke-width="1.3" stroke-linecap="round"/>
<line x1="77.5" y1="466" x2="81.52" y2="473.23" stroke="#bd5a63" stroke-width="1.3" stroke-linecap="round"/>
<line x1="77.5" y1="466" x2="78.72" y2="474.39" stroke="#bd5a63" stroke-width="1.3" stroke-linecap="round"/>
<ellipse cx="57" cy="466" rx="5" ry="2.8" fill="#c9797d"/>
<ellipse cx="56" cy="418" rx="1.5" ry="1.2" fill="#c9797d"/>
<ellipse cx="57" cy="430" rx="1.5" ry="1.5" fill="#c9797d"/>
<ellipse cx="56.3" cy="501.5" rx="2.6" ry="2" fill="#8a4650"/>
</g>
<defs><linearGradient id="mp2" x1="0" y1="0" x2="0" y2="1"><stop offset="0" stop-color="#d5d9d8"/><stop offset="1" stop-color="#c5cbca"/></linearGradient><linearGradient id="mp2b" x1="0" y1="0" x2="0" y2="1"><stop offset="0" stop-color="#e2e2e0"/><stop offset="0.38" stop-color="#d8d8d6"/><stop offset="0.55" stop-color="#c9cac7"/><stop offset="0.8" stop-color="#bcbebb"/><stop offset="1" stop-color="#b3b5b2"/></linearGradient><linearGradient id="mp2s" x1="0" y1="0" x2="1" y2="0"><stop offset="0" stop-color="#8e9290" stop-opacity="0.6"/><stop offset="0.28" stop-color="#ffffff" stop-opacity="0"/><stop offset="0.72" stop-color="#ffffff" stop-opacity="0"/><stop offset="1" stop-color="#8e9290" stop-opacity="0.5"/></linearGradient><clipPath id="mp2c"><rect x="92.1" y="411.2" width="72.1" height="96.8"/></clipPath><filter id="mp2f" filterUnits="userSpaceOnUse" x="87.1" y="406.2" width="82.1" height="106.8"><feGaussianBlur stdDeviation="0.8"/></filter></defs>
<rect x="92.1" y="411.2" width="72.1" height="96.8" fill="url(#mp2)"/>
<g clip-path="url(#mp2c)">
<g filter="url(#mp2f)"><path d="M123.2,411.5 C124.95,410.08 128.08,410.08 130.2,411.5 C132.32,412.92 133.93,416.92 135.9,420 C137.87,423.08 140.25,426.67 142,430 C143.75,433.33 145.27,436.83 146.4,440 C147.53,443.17 148.95,446.33 148.8,449 C148.65,451.67 146.27,453.83 145.5,456 C144.73,458.17 144.28,458.83 144.2,462 C144.12,465.17 144.95,471.17 145,475 C145.05,478.83 145.33,481.67 144.5,485 C143.67,488.33 142.08,492.17 140,495 C137.92,497.83 134,500.58 132,502 C130,503.42 129.33,503.5 128,503.5 C126.67,503.5 125.83,503.58 124,502 C122.17,500.42 118.83,497 117,494 C115.17,491 113.67,487.67 113,484 C112.33,480.33 112.9,475.67 113,472 C113.1,468.33 113.58,464.67 113.6,462 C113.62,459.33 113.93,458.17 113.1,456 C112.27,453.83 109.07,451.67 108.6,449 C108.13,446.33 109.33,443.17 110.3,440 C111.27,436.83 112.83,433.33 114.4,430 C115.97,426.67 118.23,423.08 119.7,420 C121.17,416.92 121.45,412.92 123.2,411.5Z" fill="url(#mp2b)"/>
<path d="M123.2,411.5 C124.95,410.08 128.08,410.08 130.2,411.5 C132.32,412.92 133.93,416.92 135.9,420 C137.87,423.08 140.25,426.67 142,430 C143.75,433.33 145.27,436.83 146.4,440 C147.53,443.17 148.95,446.33 148.8,449 C148.65,451.67 146.27,453.83 145.5,456 C144.73,458.17 144.28,458.83 144.2,462 C144.12,465.17 144.95,471.17 145,475 C145.05,478.83 145.33,481.67 144.5,485 C143.67,488.33 142.08,492.17 140,495 C137.92,497.83 134,500.58 132,502 C130,503.42 129.33,503.5 128,503.5 C126.67,503.5 125.83,503.58 124,502 C122.17,500.42 118.83,497 117,494 C115.17,491 113.67,487.67 113,484 C112.33,480.33 112.9,475.67 113,472 C113.1,468.33 113.58,464.67 113.6,462 C113.62,459.33 113.93,458.17 113.1,456 C112.27,453.83 109.07,451.67 108.6,449 C108.13,446.33 109.33,443.17 110.3,440 C111.27,436.83 112.83,433.33 114.4,430 C115.97,426.67 118.23,423.08 119.7,420 C121.17,416.92 121.45,412.92 123.2,411.5Z" fill="url(#mp2s)" stroke="#a4a6a3" stroke-width="0.8"/></g>
<path d="M111.5,454 C110.83,455.17 108.75,458.67 107.5,461 C106.25,463.33 104.58,466.83 104,468" stroke="#bd5a63" stroke-width="3.6" stroke-linecap="round" fill="none"/>
<path d="M146.5,454 C147.08,455.17 148.92,458.67 150,461 C151.08,463.33 152.5,466.83 153,468" stroke="#bd5a63" stroke-width="3.6" stroke-linecap="round" fill="none"/>
<line x1="104" y1="469" x2="98.27" y2="466.48" stroke="#bd5a63" stroke-width="1.3" stroke-linecap="round"/>
<line x1="104" y1="469" x2="97.03" y2="469.89" stroke="#bd5a63" stroke-width="1.3" stroke-linecap="round"/>
<line x1="104" y1="469" x2="97.66" y2="473.46" stroke="#bd5a63" stroke-width="1.3" stroke-linecap="round"/>
<line x1="104" y1="469" x2="99.98" y2="476.23" stroke="#bd5a63" stroke-width="1.3" stroke-linecap="round"/>
<line x1="104" y1="469" x2="102.78" y2="477.39" stroke="#bd5a63" stroke-width="1.3" stroke-linecap="round"/>
<line x1="153.5" y1="469" x2="159.23" y2="466.48" stroke="#bd5a63" stroke-width="1.3" stroke-linecap="round"/>
<line x1="153.5" y1="469" x2="160.47" y2="469.89" stroke="#bd5a63" stroke-width="1.3" stroke-linecap="round"/>
<line x1="153.5" y1="469" x2="159.84" y2="473.46" stroke="#bd5a63" stroke-width="1.3" stroke-linecap="round"/>
<line x1="153.5" y1="469" x2="157.52" y2="476.23" stroke="#bd5a63" stroke-width="1.3" stroke-linecap="round"/>
<line x1="153.5" y1="469" x2="154.72" y2="477.39" stroke="#bd5a63" stroke-width="1.3" stroke-linecap="round"/>
<ellipse cx="130" cy="483" rx="5.5" ry="3" fill="#c9797d"/>
<ellipse cx="127" cy="417" rx="1.4" ry="1.2" fill="#c9797d"/>
<ellipse cx="127" cy="430" rx="1.5" ry="1.8" fill="#c9797d"/>
<ellipse cx="128" cy="500.5" rx="2.6" ry="2" fill="#8a4650"/>
</g>
<text transform="translate(183.9,379.6) scale(0.9,1.0)" font-size="15.5" font-weight="bold">g</text>
<rect x="236.9" y="459.41" width="8.2" height="69.09" fill="#fff" stroke="#000" stroke-width="1.1"/>
<rect x="247" y="456.12" width="7.7" height="72.38" fill="#fff" stroke="#000" stroke-width="1.1"/>
<rect x="259.97" y="459.79" width="8.2" height="68.71" fill="#fff" stroke="#000" stroke-width="1.1"/>
<rect x="270.07" y="427.94" width="7.7" height="100.56" fill="#fff" stroke="#000" stroke-width="1.1"/>
<rect x="283.04" y="457.91" width="8.2" height="70.59" fill="#fff" stroke="#000" stroke-width="1.1"/>
<rect x="293.14" y="457.25" width="7.7" height="71.25" fill="#fff" stroke="#000" stroke-width="1.1"/>
<rect x="306.11" y="460.07" width="8.2" height="68.43" fill="#fff" stroke="#000" stroke-width="1.1"/>
<rect x="316.21" y="460.07" width="7.7" height="68.43" fill="#fff" stroke="#000" stroke-width="1.1"/>
<rect x="329.18" y="460.07" width="8.2" height="68.43" fill="#fff" stroke="#000" stroke-width="1.1"/>
<rect x="339.28" y="462.62" width="7.7" height="65.88" fill="#fff" stroke="#000" stroke-width="1.1"/>
<rect x="352.25" y="461.87" width="8.2" height="66.63" fill="#fff" stroke="#000" stroke-width="1.1"/>
<rect x="362.35" y="469.88" width="7.7" height="58.62" fill="#fff" stroke="#000" stroke-width="1.1"/>
<rect x="375.32" y="466.95" width="8.2" height="61.55" fill="#fff" stroke="#000" stroke-width="1.1"/>
<rect x="385.42" y="472.42" width="7.7" height="56.08" fill="#fff" stroke="#000" stroke-width="1.1"/>
<rect x="398.39" y="453.1" width="8.2" height="75.4" fill="#fff" stroke="#000" stroke-width="1.1"/>
<rect x="408.49" y="453.85" width="7.7" height="74.65" fill="#fff" stroke="#000" stroke-width="1.1"/>
<rect x="244.6" y="459.41" width="2.9" height="69.09" fill="#707070"/>
<rect x="267.67" y="459.79" width="2.9" height="68.71" fill="#707070"/>
<rect x="290.74" y="457.91" width="2.9" height="70.59" fill="#707070"/>
<rect x="313.81" y="460.07" width="2.9" height="68.43" fill="#707070"/>
<rect x="336.88" y="462.62" width="2.9" height="65.88" fill="#707070"/>
<rect x="359.95" y="469.88" width="2.9" height="58.62" fill="#707070"/>
<rect x="383.02" y="472.42" width="2.9" height="56.08" fill="#707070"/>
<rect x="406.09" y="453.85" width="2.9" height="74.65" fill="#707070"/>
<circle cx="238" cy="456.12" r="2.1" fill="#3c2cf2"/>
<circle cx="242" cy="456.49" r="2.1" fill="#3c2cf2"/>
<circle cx="241" cy="463.56" r="2.1" fill="#3c2cf2"/>
<line x1="241" y1="455.55" x2="241" y2="462.52" stroke="#000" stroke-width="1.1"/>
<line x1="239" y1="455.55" x2="243" y2="455.55" stroke="#000" stroke-width="1.1"/>
<line x1="239" y1="462.52" x2="243" y2="462.52" stroke="#000" stroke-width="1.1"/>
<circle cx="248.35" cy="453.57" r="2.1" fill="#f2302c"/>
<circle cx="250.85" cy="455.55" r="2.1" fill="#f2302c"/>
<circle cx="253.65" cy="456.49" r="2.1" fill="#f2302c"/>
<line x1="250.85" y1="454.7" x2="250.85" y2="457.06" stroke="#000" stroke-width="1.1"/>
<line x1="248.85" y1="454.7" x2="252.85" y2="454.7" stroke="#000" stroke-width="1.1"/>
<line x1="248.85" y1="457.06" x2="252.85" y2="457.06" stroke="#000" stroke-width="1.1"/>
<circle cx="261.57" cy="455.83" r="2.1" fill="#3c2cf2"/>
<circle cx="264.07" cy="458.57" r="2.1" fill="#3c2cf2"/>
<circle cx="266.57" cy="461.49" r="2.1" fill="#3c2cf2"/>
<line x1="264.07" y1="456.49" x2="264.07" y2="461.21" stroke="#000" stroke-width="1.1"/>
<line x1="262.07" y1="456.49" x2="266.07" y2="456.49" stroke="#000" stroke-width="1.1"/>
<line x1="262.07" y1="461.21" x2="266.07" y2="461.21" stroke="#000" stroke-width="1.1"/>
<circle cx="274.42" cy="423.22" r="2.1" fill="#f2302c"/>
<circle cx="271.42" cy="427.94" r="2.1" fill="#f2302c"/>
<circle cx="276.42" cy="430.48" r="2.1" fill="#f2302c"/>
<line x1="273.92" y1="425.01" x2="273.92" y2="431.52" stroke="#000" stroke-width="1.1"/>
<line x1="271.92" y1="425.01" x2="275.92" y2="425.01" stroke="#000" stroke-width="1.1"/>
<line x1="271.92" y1="431.52" x2="275.92" y2="431.52" stroke="#000" stroke-width="1.1"/>
<circle cx="284.64" cy="455.55" r="2.1" fill="#3c2cf2"/>
<circle cx="287.14" cy="457.25" r="2.1" fill="#3c2cf2"/>
<circle cx="289.64" cy="458.38" r="2.1" fill="#3c2cf2"/>
<line x1="287.14" y1="455.93" x2="287.14" y2="458.75" stroke="#000" stroke-width="1.1"/>
<line x1="285.14" y1="455.93" x2="289.14" y2="455.93" stroke="#000" stroke-width="1.1"/>
<line x1="285.14" y1="458.75" x2="289.14" y2="458.75" stroke="#000" stroke-width="1.1"/>
<circle cx="294.49" cy="455.55" r="2.1" fill="#f2302c"/>
<circle cx="296.99" cy="457.25" r="2.1" fill="#f2302c"/>
<circle cx="299.49" cy="460.36" r="2.1" fill="#f2302c"/>
<line x1="296.99" y1="454.7" x2="296.99" y2="459.23" stroke="#000" stroke-width="1.1"/>
<line x1="294.99" y1="454.7" x2="298.99" y2="454.7" stroke="#000" stroke-width="1.1"/>
<line x1="294.99" y1="459.23" x2="298.99" y2="459.23" stroke="#000" stroke-width="1.1"/>
<circle cx="308.21" cy="459.89" r="2.1" fill="#3c2cf2"/>
<circle cx="310.21" cy="460.17" r="2.1" fill="#3c2cf2"/>
<circle cx="312.21" cy="460.36" r="2.1" fill="#3c2cf2"/>
<line x1="310.21" y1="459.7" x2="310.21" y2="460.45" stroke="#000" stroke-width="1.1"/>
<line x1="308.21" y1="459.7" x2="312.21" y2="459.7" stroke="#000" stroke-width="1.1"/>
<line x1="308.21" y1="460.45" x2="312.21" y2="460.45" stroke="#000" stroke-width="1.1"/>
<circle cx="317.56" cy="457.91" r="2.1" fill="#f2302c"/>
<circle cx="320.06" cy="459.41" r="2.1" fill="#f2302c"/>
<circle cx="322.56" cy="461.49" r="2.1" fill="#f2302c"/>
<line x1="320.06" y1="458.28" x2="320.06" y2="461.39" stroke="#000" stroke-width="1.1"/>
<line x1="318.06" y1="458.28" x2="322.06" y2="458.28" stroke="#000" stroke-width="1.1"/>
<line x1="318.06" y1="461.39" x2="322.06" y2="461.39" stroke="#000" stroke-width="1.1"/>
<circle cx="330.78" cy="457.81" r="2.1" fill="#3c2cf2"/>
<circle cx="333.28" cy="460.07" r="2.1" fill="#3c2cf2"/>
<circle cx="335.78" cy="462.62" r="2.1" fill="#3c2cf2"/>
<line x1="333.28" y1="457.34" x2="333.28" y2="462.05" stroke="#000" stroke-width="1.1"/>
<line x1="331.28" y1="457.34" x2="335.28" y2="457.34" stroke="#000" stroke-width="1.1"/>
<line x1="331.28" y1="462.05" x2="335.28" y2="462.05" stroke="#000" stroke-width="1.1"/>
<circle cx="340.63" cy="461.58" r="2.1" fill="#f2302c"/>
<circle cx="343.13" cy="460.64" r="2.1" fill="#f2302c"/>
<circle cx="345.63" cy="466.01" r="2.1" fill="#f2302c"/>
<line x1="343.13" y1="460.17" x2="343.13" y2="465.54" stroke="#000" stroke-width="1.1"/>
<line x1="341.13" y1="460.17" x2="345.13" y2="460.17" stroke="#000" stroke-width="1.1"/>
<line x1="341.13" y1="465.54" x2="345.13" y2="465.54" stroke="#000" stroke-width="1.1"/>
<circle cx="356.85" cy="454.61" r="2.1" fill="#3c2cf2"/>
<circle cx="354.85" cy="462.62" r="2.1" fill="#3c2cf2"/>
<circle cx="358.85" cy="466.3" r="2.1" fill="#3c2cf2"/>
<line x1="356.35" y1="455.93" x2="356.35" y2="467.71" stroke="#000" stroke-width="1.1"/>
<line x1="354.35" y1="455.93" x2="358.35" y2="455.93" stroke="#000" stroke-width="1.1"/>
<line x1="354.35" y1="467.71" x2="358.35" y2="467.71" stroke="#000" stroke-width="1.1"/>
<circle cx="366.7" cy="464.13" r="2.1" fill="#f2302c"/>
<circle cx="364.2" cy="470.72" r="2.1" fill="#f2302c"/>
<circle cx="368.7" cy="471.38" r="2.1" fill="#f2302c"/>
<line x1="366.2" y1="465.54" x2="366.2" y2="472.42" stroke="#000" stroke-width="1.1"/>
<line x1="364.2" y1="465.54" x2="368.2" y2="465.54" stroke="#000" stroke-width="1.1"/>
<line x1="364.2" y1="472.42" x2="368.2" y2="472.42" stroke="#000" stroke-width="1.1"/>
<circle cx="377.42" cy="463.09" r="2.1" fill="#3c2cf2"/>
<circle cx="381.92" cy="464.79" r="2.1" fill="#3c2cf2"/>
<circle cx="379.42" cy="471.76" r="2.1" fill="#3c2cf2"/>
<line x1="379.42" y1="462.81" x2="379.42" y2="471.48" stroke="#000" stroke-width="1.1"/>
<line x1="377.42" y1="462.81" x2="381.42" y2="462.81" stroke="#000" stroke-width="1.1"/>
<line x1="377.42" y1="471.48" x2="381.42" y2="471.48" stroke="#000" stroke-width="1.1"/>
<circle cx="386.77" cy="472.33" r="2.1" fill="#f2302c"/>
<circle cx="389.27" cy="472.42" r="2.1" fill="#f2302c"/>
<circle cx="391.77" cy="472.61" r="2.1" fill="#f2302c"/>
<line x1="389.27" y1="471.95" x2="389.27" y2="472.89" stroke="#000" stroke-width="1.1"/>
<line x1="387.27" y1="471.95" x2="391.27" y2="471.95" stroke="#000" stroke-width="1.1"/>
<line x1="387.27" y1="472.89" x2="391.27" y2="472.89" stroke="#000" stroke-width="1.1"/>
<circle cx="399.99" cy="450.46" r="2.1" fill="#3c2cf2"/>
<circle cx="402.49" cy="452.44" r="2.1" fill="#3c2cf2"/>
<circle cx="404.99" cy="453.85" r="2.1" fill="#3c2cf2"/>
<line x1="402.49" y1="451.69" x2="402.49" y2="454.04" stroke="#000" stroke-width="1.1"/>
<line x1="400.49" y1="451.69" x2="404.49" y2="451.69" stroke="#000" stroke-width="1.1"/>
<line x1="400.49" y1="454.04" x2="404.49" y2="454.04" stroke="#000" stroke-width="1.1"/>
<circle cx="409.84" cy="449.9" r="2.1" fill="#f2302c"/>
<circle cx="412.34" cy="453.85" r="2.1" fill="#f2302c"/>
<circle cx="414.84" cy="455.27" r="2.1" fill="#f2302c"/>
<line x1="412.34" y1="450.46" x2="412.34" y2="455.74" stroke="#000" stroke-width="1.1"/>
<line x1="410.34" y1="450.46" x2="414.34" y2="450.46" stroke="#000" stroke-width="1.1"/>
<line x1="410.34" y1="455.74" x2="414.34" y2="455.74" stroke="#000" stroke-width="1.1"/>
<line x1="232.6" y1="414.8" x2="232.6" y2="529.15" stroke="#000" stroke-width="1.3"/>
<line x1="227.6" y1="528.5" x2="232.6" y2="528.5" stroke="#000" stroke-width="1.3"/>
<text x="227.1" y="532.6" font-size="11.6" text-anchor="end">0</text>
<line x1="227.6" y1="509.65" x2="232.6" y2="509.65" stroke="#000" stroke-width="1.3"/>
<text x="227.1" y="513.75" font-size="11.6" text-anchor="end">20</text>
<line x1="227.6" y1="490.8" x2="232.6" y2="490.8" stroke="#000" stroke-width="1.3"/>
<text x="227.1" y="494.9" font-size="11.6" text-anchor="end">40</text>
<line x1="227.6" y1="471.95" x2="232.6" y2="471.95" stroke="#000" stroke-width="1.3"/>
<text x="227.1" y="476.05" font-size="11.6" text-anchor="end">60</text>
<line x1="227.6" y1="453.1" x2="232.6" y2="453.1" stroke="#000" stroke-width="1.3"/>
<text x="227.1" y="457.2" font-size="11.6" text-anchor="end">80</text>
<line x1="227.6" y1="434.25" x2="232.6" y2="434.25" stroke="#000" stroke-width="1.3"/>
<text x="227.1" y="438.35" font-size="11.6" text-anchor="end">100</text>
<line x1="227.6" y1="415.4" x2="232.6" y2="415.4" stroke="#000" stroke-width="1.3"/>
<text x="227.1" y="419.5" font-size="11.6" text-anchor="end">120</text>
<line x1="231.95" y1="528.5" x2="421.6" y2="528.5" stroke="#000" stroke-width="1.3"/>
<line x1="245.7" y1="528.5" x2="245.7" y2="532.8" stroke="#000" stroke-width="1.3"/>
<text x="246.3" y="544.2" font-size="11.6" text-anchor="middle">0</text>
<line x1="268.77" y1="528.5" x2="268.77" y2="532.8" stroke="#000" stroke-width="1.3"/>
<text x="269.37" y="544.2" font-size="11.6" text-anchor="middle">2</text>
<line x1="291.84" y1="528.5" x2="291.84" y2="532.8" stroke="#000" stroke-width="1.3"/>
<text x="292.44" y="544.2" font-size="11.6" text-anchor="middle">4</text>
<line x1="314.91" y1="528.5" x2="314.91" y2="532.8" stroke="#000" stroke-width="1.3"/>
<text x="315.51" y="544.2" font-size="11.6" text-anchor="middle">6</text>
<line x1="337.98" y1="528.5" x2="337.98" y2="532.8" stroke="#000" stroke-width="1.3"/>
<text x="338.58" y="544.2" font-size="11.6" text-anchor="middle">8</text>
<line x1="361.05" y1="528.5" x2="361.05" y2="532.8" stroke="#000" stroke-width="1.3"/>
<text x="361.65" y="544.2" font-size="11.6" text-anchor="middle">10</text>
<line x1="384.12" y1="528.5" x2="384.12" y2="532.8" stroke="#000" stroke-width="1.3"/>
<text x="384.72" y="544.2" font-size="11.6" text-anchor="middle">12</text>
<line x1="407.19" y1="528.5" x2="407.19" y2="532.8" stroke="#000" stroke-width="1.3"/>
<text x="407.79" y="544.2" font-size="11.6" text-anchor="middle">14</text>
<text x="331.1" y="554.8" font-size="12" text-anchor="middle">Time (day)</text>
<text transform="translate(199.1,471.5) rotate(-90)" font-size="11.9" text-anchor="middle">IL-6 level (pg/ml)</text>
<text transform="translate(255.15,448.3) rotate(-90)" font-size="12"><tspan font-style="italic">P</tspan> = 0.2109</text>
<text transform="translate(278.22,420) rotate(-90)" font-size="12"><tspan font-style="italic">P</tspan> = 0.0002</text>
<text transform="translate(301.29,451.3) rotate(-90)" font-size="12"><tspan font-style="italic">P</tspan> = 0.9293</text>
<text transform="translate(324.36,451.3) rotate(-90)" font-size="12"><tspan font-style="italic">P</tspan> = 0.5734</text>
<text transform="translate(347.43,454) rotate(-90)" font-size="12"><tspan font-style="italic">P</tspan> = 0.2602</text>
<text transform="translate(370.5,460.5) rotate(-90)" font-size="12"><tspan font-style="italic">P</tspan> = 0.1275</text>
<text transform="translate(393.57,468) rotate(-90)" font-size="12"><tspan font-style="italic">P</tspan> = 0.0777</text>
<text transform="translate(416.64,447.2) rotate(-90)" font-size="12"><tspan font-style="italic">P</tspan> = 0.5529</text>
<line x1="296.4" y1="364.1" x2="308.5" y2="364.1" stroke="#3c2cf2" stroke-width="1"/>
<circle cx="302.5" cy="364.1" r="2.4" fill="#3c2cf2"/>
<text x="312.8" y="367.9" font-size="11.9">Control</text>
<line x1="296.4" y1="380.5" x2="308.5" y2="380.5" stroke="#f2302c" stroke-width="1"/>
<circle cx="302.5" cy="380.5" r="2.4" fill="#f2302c"/>
<text x="311.7" y="384.3" font-size="12">FRONTAC<tspan class="s" font-size="6.96" dy="-3.6">FUS</tspan></text>
<text transform="translate(437.3,383.3) scale(0.93,1.0)" font-size="15.5" font-weight="bold">h</text>
<rect x="485.1" y="448.25" width="8.6" height="59.35" fill="#fff" stroke="#000" stroke-width="1.1"/>
<rect x="495" y="434.24" width="8.4" height="73.36" fill="#fff" stroke="#000" stroke-width="1.1"/>
<rect x="509.95" y="454.26" width="8.6" height="53.34" fill="#fff" stroke="#000" stroke-width="1.1"/>
<rect x="519.85" y="420.08" width="8.4" height="87.52" fill="#fff" stroke="#000" stroke-width="1.1"/>
<rect x="534.8" y="454.26" width="8.6" height="53.34" fill="#fff" stroke="#000" stroke-width="1.1"/>
<rect x="544.7" y="458.41" width="8.4" height="49.19" fill="#fff" stroke="#000" stroke-width="1.1"/>
<rect x="559.65" y="445.82" width="8.6" height="61.78" fill="#fff" stroke="#000" stroke-width="1.1"/>
<rect x="569.55" y="458.41" width="8.4" height="49.19" fill="#fff" stroke="#000" stroke-width="1.1"/>
<rect x="584.5" y="454.26" width="8.6" height="53.34" fill="#fff" stroke="#000" stroke-width="1.1"/>
<rect x="594.4" y="454.26" width="8.4" height="53.34" fill="#fff" stroke="#000" stroke-width="1.1"/>
<rect x="609.35" y="449.97" width="8.6" height="57.63" fill="#fff" stroke="#000" stroke-width="1.1"/>
<rect x="619.25" y="451.54" width="8.4" height="56.06" fill="#fff" stroke="#000" stroke-width="1.1"/>
<rect x="634.2" y="463.99" width="8.6" height="43.62" fill="#fff" stroke="#000" stroke-width="1.1"/>
<rect x="644.1" y="455.26" width="8.4" height="52.34" fill="#fff" stroke="#000" stroke-width="1.1"/>
<rect x="659.05" y="456.12" width="8.6" height="51.48" fill="#fff" stroke="#000" stroke-width="1.1"/>
<rect x="668.95" y="465.27" width="8.4" height="42.33" fill="#fff" stroke="#000" stroke-width="1.1"/>
<circle cx="489.4" cy="431.81" r="2.2" fill="#3c2cf2"/>
<circle cx="487.4" cy="448.97" r="2.2" fill="#3c2cf2"/>
<circle cx="489.4" cy="462.13" r="2.2" fill="#3c2cf2"/>
<line x1="489.4" y1="431.81" x2="489.4" y2="464.7" stroke="#000" stroke-width="1.1"/>
<line x1="487.4" y1="431.81" x2="491.4" y2="431.81" stroke="#000" stroke-width="1.1"/>
<line x1="487.4" y1="464.7" x2="491.4" y2="464.7" stroke="#000" stroke-width="1.1"/>
<circle cx="499.2" cy="411.36" r="2.2" fill="#f2302c"/>
<circle cx="499.2" cy="441.11" r="2.2" fill="#f2302c"/>
<circle cx="499.2" cy="450.4" r="2.2" fill="#f2302c"/>
<line x1="499.2" y1="413.79" x2="499.2" y2="454.26" stroke="#000" stroke-width="1.1"/>
<line x1="497.2" y1="413.79" x2="501.2" y2="413.79" stroke="#000" stroke-width="1.1"/>
<line x1="497.2" y1="454.26" x2="501.2" y2="454.26" stroke="#000" stroke-width="1.1"/>
<circle cx="512.25" cy="450.4" r="2.2" fill="#3c2cf2"/>
<circle cx="514.25" cy="455.41" r="2.2" fill="#3c2cf2"/>
<circle cx="516.25" cy="454.69" r="2.2" fill="#3c2cf2"/>
<line x1="514.25" y1="450.4" x2="514.25" y2="457.55" stroke="#000" stroke-width="1.1"/>
<line x1="512.25" y1="450.4" x2="516.25" y2="450.4" stroke="#000" stroke-width="1.1"/>
<line x1="512.25" y1="457.55" x2="516.25" y2="457.55" stroke="#000" stroke-width="1.1"/>
<circle cx="522.05" cy="411.36" r="2.2" fill="#f2302c"/>
<circle cx="525.55" cy="413.22" r="2.2" fill="#f2302c"/>
<circle cx="524.05" cy="432.67" r="2.2" fill="#f2302c"/>
<line x1="524.05" y1="408.93" x2="524.05" y2="431.81" stroke="#000" stroke-width="1.1"/>
<line x1="522.05" y1="408.93" x2="526.05" y2="408.93" stroke="#000" stroke-width="1.1"/>
<line x1="522.05" y1="431.81" x2="526.05" y2="431.81" stroke="#000" stroke-width="1.1"/>
<circle cx="539.1" cy="446.11" r="2.2" fill="#3c2cf2"/>
<circle cx="538.1" cy="453.26" r="2.2" fill="#3c2cf2"/>
<circle cx="539.1" cy="461.84" r="2.2" fill="#3c2cf2"/>
<line x1="539.1" y1="446.11" x2="539.1" y2="461.84" stroke="#000" stroke-width="1.1"/>
<line x1="537.1" y1="446.11" x2="541.1" y2="446.11" stroke="#000" stroke-width="1.1"/>
<line x1="537.1" y1="461.84" x2="541.1" y2="461.84" stroke="#000" stroke-width="1.1"/>
<circle cx="546.9" cy="454.69" r="2.2" fill="#f2302c"/>
<circle cx="550.4" cy="453.26" r="2.2" fill="#f2302c"/>
<circle cx="548.9" cy="464.7" r="2.2" fill="#f2302c"/>
<line x1="548.9" y1="451.83" x2="548.9" y2="464.7" stroke="#000" stroke-width="1.1"/>
<line x1="546.9" y1="451.83" x2="550.9" y2="451.83" stroke="#000" stroke-width="1.1"/>
<line x1="546.9" y1="464.7" x2="550.9" y2="464.7" stroke="#000" stroke-width="1.1"/>
<circle cx="563.95" cy="437.53" r="2.2" fill="#3c2cf2"/>
<circle cx="562.45" cy="446.11" r="2.2" fill="#3c2cf2"/>
<circle cx="563.95" cy="453.26" r="2.2" fill="#3c2cf2"/>
<line x1="563.95" y1="438.25" x2="563.95" y2="453.26" stroke="#000" stroke-width="1.1"/>
<line x1="561.95" y1="438.25" x2="565.95" y2="438.25" stroke="#000" stroke-width="1.1"/>
<line x1="561.95" y1="453.26" x2="565.95" y2="453.26" stroke="#000" stroke-width="1.1"/>
<circle cx="574.75" cy="447.54" r="2.2" fill="#f2302c"/>
<circle cx="571.75" cy="461.84" r="2.2" fill="#f2302c"/>
<circle cx="573.75" cy="463.27" r="2.2" fill="#f2302c"/>
<line x1="573.75" y1="447.54" x2="573.75" y2="467.56" stroke="#000" stroke-width="1.1"/>
<line x1="571.75" y1="447.54" x2="575.75" y2="447.54" stroke="#000" stroke-width="1.1"/>
<line x1="571.75" y1="467.56" x2="575.75" y2="467.56" stroke="#000" stroke-width="1.1"/>
<circle cx="588.8" cy="446.11" r="2.2" fill="#3c2cf2"/>
<circle cx="587.3" cy="454.69" r="2.2" fill="#3c2cf2"/>
<circle cx="588.8" cy="461.84" r="2.2" fill="#3c2cf2"/>
<line x1="588.8" y1="446.11" x2="588.8" y2="461.84" stroke="#000" stroke-width="1.1"/>
<line x1="586.8" y1="446.11" x2="590.8" y2="446.11" stroke="#000" stroke-width="1.1"/>
<line x1="586.8" y1="461.84" x2="590.8" y2="461.84" stroke="#000" stroke-width="1.1"/>
<circle cx="598.6" cy="440.39" r="2.2" fill="#f2302c"/>
<circle cx="598.6" cy="453.26" r="2.2" fill="#f2302c"/>
<circle cx="598.6" cy="470.42" r="2.2" fill="#f2302c"/>
<line x1="598.6" y1="438.96" x2="598.6" y2="468.99" stroke="#000" stroke-width="1.1"/>
<line x1="596.6" y1="438.96" x2="600.6" y2="438.96" stroke="#000" stroke-width="1.1"/>
<line x1="596.6" y1="468.99" x2="600.6" y2="468.99" stroke="#000" stroke-width="1.1"/>
<circle cx="613.65" cy="441.82" r="2.2" fill="#3c2cf2"/>
<circle cx="612.15" cy="450.4" r="2.2" fill="#3c2cf2"/>
<circle cx="613.65" cy="456.12" r="2.2" fill="#3c2cf2"/>
<line x1="613.65" y1="441.82" x2="613.65" y2="456.12" stroke="#000" stroke-width="1.1"/>
<line x1="611.65" y1="441.82" x2="615.65" y2="441.82" stroke="#000" stroke-width="1.1"/>
<line x1="611.65" y1="456.12" x2="615.65" y2="456.12" stroke="#000" stroke-width="1.1"/>
<circle cx="621.45" cy="446.11" r="2.2" fill="#f2302c"/>
<circle cx="624.95" cy="450.4" r="2.2" fill="#f2302c"/>
<circle cx="623.45" cy="454.69" r="2.2" fill="#f2302c"/>
<line x1="623.45" y1="446.11" x2="623.45" y2="456.12" stroke="#000" stroke-width="1.1"/>
<line x1="621.45" y1="446.11" x2="625.45" y2="446.11" stroke="#000" stroke-width="1.1"/>
<line x1="621.45" y1="456.12" x2="625.45" y2="456.12" stroke="#000" stroke-width="1.1"/>
<circle cx="638.5" cy="450.4" r="2.2" fill="#3c2cf2"/>
<circle cx="637.5" cy="464.7" r="2.2" fill="#3c2cf2"/>
<circle cx="638.5" cy="476.14" r="2.2" fill="#3c2cf2"/>
<line x1="638.5" y1="450.4" x2="638.5" y2="476.14" stroke="#000" stroke-width="1.1"/>
<line x1="636.5" y1="450.4" x2="640.5" y2="450.4" stroke="#000" stroke-width="1.1"/>
<line x1="636.5" y1="476.14" x2="640.5" y2="476.14" stroke="#000" stroke-width="1.1"/>
<circle cx="646.3" cy="450.4" r="2.2" fill="#f2302c"/>
<circle cx="650.3" cy="450.4" r="2.2" fill="#f2302c"/>
<circle cx="648.3" cy="464.7" r="2.2" fill="#f2302c"/>
<line x1="648.3" y1="446.11" x2="648.3" y2="464.7" stroke="#000" stroke-width="1.1"/>
<line x1="646.3" y1="446.11" x2="650.3" y2="446.11" stroke="#000" stroke-width="1.1"/>
<line x1="646.3" y1="464.7" x2="650.3" y2="464.7" stroke="#000" stroke-width="1.1"/>
<circle cx="663.35" cy="424.66" r="2.2" fill="#3c2cf2"/>
<circle cx="662.85" cy="464.7" r="2.2" fill="#3c2cf2"/>
<circle cx="663.35" cy="479" r="2.2" fill="#3c2cf2"/>
<line x1="663.35" y1="427.52" x2="663.35" y2="481.86" stroke="#000" stroke-width="1.1"/>
<line x1="661.35" y1="427.52" x2="665.35" y2="427.52" stroke="#000" stroke-width="1.1"/>
<line x1="661.35" y1="481.86" x2="665.35" y2="481.86" stroke="#000" stroke-width="1.1"/>
<circle cx="673.15" cy="458.98" r="2.2" fill="#f2302c"/>
<circle cx="671.15" cy="464.7" r="2.2" fill="#f2302c"/>
<circle cx="675.15" cy="467.56" r="2.2" fill="#f2302c"/>
<line x1="673.15" y1="458.98" x2="673.15" y2="471.85" stroke="#000" stroke-width="1.1"/>
<line x1="671.15" y1="458.98" x2="675.15" y2="458.98" stroke="#000" stroke-width="1.1"/>
<line x1="671.15" y1="471.85" x2="675.15" y2="471.85" stroke="#000" stroke-width="1.1"/>
<line x1="480.7" y1="392.1" x2="480.7" y2="508.25" stroke="#000" stroke-width="1.3"/>
<line x1="475.7" y1="507.6" x2="480.7" y2="507.6" stroke="#000" stroke-width="1.3"/>
<text x="475.2" y="511.7" font-size="11.6" text-anchor="end">0</text>
<line x1="475.7" y1="479" x2="480.7" y2="479" stroke="#000" stroke-width="1.3"/>
<text x="475.2" y="483.1" font-size="11.6" text-anchor="end">20</text>
<line x1="475.7" y1="450.4" x2="480.7" y2="450.4" stroke="#000" stroke-width="1.3"/>
<text x="475.2" y="454.5" font-size="11.6" text-anchor="end">40</text>
<line x1="475.7" y1="421.8" x2="480.7" y2="421.8" stroke="#000" stroke-width="1.3"/>
<text x="475.2" y="425.9" font-size="11.6" text-anchor="end">60</text>
<line x1="475.7" y1="393.2" x2="480.7" y2="393.2" stroke="#000" stroke-width="1.3"/>
<text x="475.2" y="397.3" font-size="11.6" text-anchor="end">80</text>
<line x1="480.05" y1="507.6" x2="683" y2="507.6" stroke="#000" stroke-width="1.3"/>
<line x1="494.3" y1="507.6" x2="494.3" y2="511.9" stroke="#000" stroke-width="1.3"/>
<text x="494.6" y="522.9" font-size="11.6" text-anchor="middle">0</text>
<line x1="519.15" y1="507.6" x2="519.15" y2="511.9" stroke="#000" stroke-width="1.3"/>
<text x="519.45" y="522.9" font-size="11.6" text-anchor="middle">2</text>
<line x1="544" y1="507.6" x2="544" y2="511.9" stroke="#000" stroke-width="1.3"/>
<text x="544.3" y="522.9" font-size="11.6" text-anchor="middle">4</text>
<line x1="568.85" y1="507.6" x2="568.85" y2="511.9" stroke="#000" stroke-width="1.3"/>
<text x="569.15" y="522.9" font-size="11.6" text-anchor="middle">6</text>
<line x1="593.7" y1="507.6" x2="593.7" y2="511.9" stroke="#000" stroke-width="1.3"/>
<text x="594" y="522.9" font-size="11.6" text-anchor="middle">8</text>
<line x1="618.55" y1="507.6" x2="618.55" y2="511.9" stroke="#000" stroke-width="1.3"/>
<text x="618.85" y="522.9" font-size="11.6" text-anchor="middle">10</text>
<line x1="643.4" y1="507.6" x2="643.4" y2="511.9" stroke="#000" stroke-width="1.3"/>
<text x="643.7" y="522.9" font-size="11.6" text-anchor="middle">12</text>
<line x1="668.25" y1="507.6" x2="668.25" y2="511.9" stroke="#000" stroke-width="1.3"/>
<text x="668.55" y="522.9" font-size="11.6" text-anchor="middle">14</text>
<text x="585.3" y="535.4" font-size="11.9" text-anchor="middle">Time (day)</text>
<text transform="translate(455.7,453.9) rotate(-90)" font-size="11.9" text-anchor="middle">TNF-α level (pg/ml)</text>
<text transform="translate(503.8,406.4) rotate(-90)" font-size="12"><tspan font-style="italic">P</tspan> = 0.3823</text>
<text transform="translate(528.65,403.4) rotate(-90)" font-size="12"><tspan font-style="italic">P</tspan> = 0.0080</text>
<text transform="translate(553.5,448.4) rotate(-90)" font-size="12"><tspan font-style="italic">P</tspan> = 0.5484</text>
<text transform="translate(578.35,441.2) rotate(-90)" font-size="12"><tspan font-style="italic">P</tspan> = 0.1922</text>
<text transform="translate(603.2,436.5) rotate(-90)" font-size="12"><tspan font-style="italic">P</tspan> &gt; 0.9999</text>
<text transform="translate(628.05,441.8) rotate(-90)" font-size="12"><tspan font-style="italic">P</tspan> = 0.8298</text>
<text transform="translate(652.9,441.2) rotate(-90)" font-size="12"><tspan font-style="italic">P</tspan> = 0.4169</text>
<text transform="translate(677.75,452.8) rotate(-90)" font-size="12"><tspan font-style="italic">P</tspan> = 0.5859</text>
<line x1="550.6" y1="350.2" x2="562.2" y2="350.2" stroke="#3c2cf2" stroke-width="1"/>
<circle cx="556.9" cy="350.2" r="2.4" fill="#3c2cf2"/>
<text x="566.5" y="354" font-size="12">Control</text>
<line x1="550.6" y1="367.1" x2="562.2" y2="367.1" stroke="#f2302c" stroke-width="1"/>
<circle cx="556.9" cy="367.1" r="2.4" fill="#f2302c"/>
<text x="565.4" y="371" font-size="12.1">FRONTAC<tspan class="s" font-size="7.02" dy="-3.63">FUS</tspan></text>
<text transform="translate(4.9,586) scale(0.93,1.0)" font-size="15.5" font-weight="bold">i</text>
<text x="120.3" y="593.6" font-size="12" text-anchor="middle">GFAP</text>
<line x1="27.6" y1="598.4" x2="213.5" y2="598.4" stroke="#000" stroke-width="1.3"/>
<text x="312.1" y="593.1" font-size="11.7" text-anchor="middle">IBA1</text>
<line x1="219.9" y1="598.4" x2="406.5" y2="598.4" stroke="#000" stroke-width="1.3"/>
<text x="56.1" y="614.5" font-size="12">Control</text>
<text x="135.5" y="616" font-size="12">FRONTAC<tspan class="s" font-size="6.96" dy="-3.6">FUS</tspan></text>
<text x="254.6" y="614.5" font-size="12">Control</text>
<text x="329.4" y="616" font-size="12">FRONTAC<tspan class="s" font-size="6.96" dy="-3.6">FUS</tspan></text>
<clipPath id="tc00"><rect x="28.6" y="618" width="92" height="47.8"/></clipPath>
<g clip-path="url(#tc00)">
<rect x="28.6" y="618" width="92" height="47.8" fill="#f3f2f1"/>
<path d="M41.0 656.7h0M86.9 622.5h0M84.6 644.0h0M40.1 643.6h0M58.6 653.8h0M54.7 631.7h0M105.3 623.4h0M71.5 650.1h0M29.6 661.5h0M85.5 634.1h0M110.2 625.4h0M31.6 653.2h0M45.4 647.6h0M113.9 651.7h0M70.4 628.9h0M41.5 664.4h0M57.8 639.3h0M86.1 621.5h0M61.9 641.5h0M77.8 642.3h0M32.6 646.7h0M73.2 646.6h0M45.2 635.6h0M116.2 663.7h0M109.7 643.2h0M31.6 622.4h0" stroke="#d9d8ec" stroke-width="2.0" stroke-linecap="round"/>
<path d="M63.5 663.9h0M95.7 641.2h0M50.7 656.4h0M63.6 663.3h0M94.9 622.5h0M56.6 619.5h0M116.2 638.3h0M55.1 637.5h0M34.1 620.9h0M51.2 660.7h0M41.8 659.6h0M75.6 648.0h0M42.7 655.0h0M32.0 645.0h0M97.4 636.5h0M110.7 649.1h0M76.8 645.1h0M92.7 624.6h0M75.6 651.3h0M102.0 660.5h0M63.1 622.4h0M70.9 658.3h0M48.7 658.5h0M105.9 634.0h0M50.5 650.1h0M96.6 621.2h0M56.4 628.1h0M32.4 629.0h0M81.1 620.9h0M90.6 652.2h0M44.0 650.6h0M57.4 660.4h0M39.4 643.2h0M113.8 638.3h0M66.8 635.7h0M81.6 620.9h0M95.6 647.6h0M82.2 646.1h0M74.3 644.6h0" stroke="#bfbfdd" stroke-width="1.5" stroke-linecap="round"/>
<path d="M47.5 658.5h0M94.9 664.8h0M95.8 619.0h0M101.0 658.4h0M113.4 648.7h0M34.1 640.4h0M112.6 664.7h0M47.1 656.3h0M118.4 620.9h0M99.8 639.9h0M113.6 622.6h0M58.9 643.7h0M114.0 648.5h0M92.1 662.7h0M107.9 643.8h0M82.1 620.1h0M44.3 660.7h0M82.4 658.8h0M107.4 640.7h0M43.0 647.6h0M96.9 651.8h0M85.6 620.4h0M49.4 621.3h0M65.3 623.0h0M66.7 649.2h0M78.9 644.3h0M52.7 643.8h0M84.0 656.8h0M47.8 638.9h0M107.5 645.9h0M108.3 625.3h0" stroke="#d2d1e8" stroke-width="1.5" stroke-linecap="round"/>
<path d="M36.8 644.7h0M58.5 664.8h0M108.5 660.7h0M104.0 654.1h0M31.0 647.5h0M46.6 622.0h0M117.0 624.8h0M84.9 626.6h0M102.3 644.8h0M108.6 629.1h0M73.9 646.3h0M50.0 644.3h0M65.3 657.6h0M63.5 632.7h0M62.2 619.4h0M53.0 657.4h0M112.1 654.5h0M54.8 665.1h0M102.3 643.8h0M75.5 645.1h0M41.5 630.8h0M70.6 649.9h0M80.0 648.4h0M92.0 644.4h0M111.1 622.9h0M59.6 664.1h0" stroke="#d9d8ec" stroke-width="1.5" stroke-linecap="round"/>
<path d="M109.1 647.2h0M98.2 641.4h0M80.1 655.5h0M88.2 656.7h0M54.4 658.7h0M42.0 624.5h0M114.5 655.6h0M58.2 647.7h0M103.9 627.5h0M29.3 655.6h0M44.2 641.0h0M41.4 644.2h0M40.9 621.5h0M89.7 664.2h0M55.1 637.4h0M117.8 647.9h0M118.8 660.0h0M72.0 661.8h0M75.9 647.8h0M51.0 620.9h0M83.6 643.6h0M68.1 635.1h0M116.3 628.4h0M99.5 650.7h0" stroke="#c9c9e2" stroke-width="2.0" stroke-linecap="round"/>
<path d="M80.4 664.8h0M80.6 634.4h0M87.3 622.3h0M36.1 659.2h0M55.5 637.9h0M84.3 634.4h0M65.8 634.3h0M94.9 626.9h0M106.8 631.8h0M61.1 639.8h0M93.0 660.8h0M57.6 663.4h0M42.7 623.6h0M90.1 625.7h0M70.9 633.5h0M73.2 622.8h0M92.4 649.8h0M73.9 633.3h0M92.7 664.8h0M113.1 627.0h0M109.2 654.4h0M89.7 639.7h0M113.0 639.9h0" stroke="#c9c9e2" stroke-width="1.5" stroke-linecap="round"/>
<path d="M73.1 660.7h0M87.5 621.3h0M80.0 664.0h0M35.5 628.6h0M66.9 663.3h0M79.2 626.6h0M93.4 664.7h0M119.0 636.4h0M108.0 655.2h0M66.7 636.7h0M49.3 645.9h0M76.3 651.1h0M107.9 621.6h0M52.5 657.3h0M118.2 622.1h0M48.9 665.3h0M98.5 657.8h0M89.4 618.8h0M57.1 651.7h0M73.0 640.9h0M49.6 639.3h0M71.0 649.0h0M71.0 657.3h0M84.1 661.7h0M34.3 647.0h0M69.4 662.7h0M47.9 627.8h0M97.9 639.1h0M111.2 649.3h0M82.3 623.2h0" stroke="#ddd2c8" stroke-width="1.5" stroke-linecap="round"/>
<path d="M66.0 662.8h0M62.1 626.9h0M52.9 620.4h0M102.7 637.9h0M34.5 643.0h0M93.5 657.2h0M46.4 633.0h0M108.6 627.5h0M80.7 643.9h0M35.2 652.6h0M100.7 619.6h0M97.7 662.0h0M42.1 643.1h0M106.6 652.7h0M108.5 658.0h0M83.4 641.1h0M71.6 626.6h0M68.8 657.1h0M57.5 655.0h0M50.4 661.0h0M59.4 664.8h0M101.7 639.0h0M61.6 663.2h0M69.1 641.2h0M32.0 658.5h0M70.2 657.6h0" stroke="#d2d1e8" stroke-width="2.0" stroke-linecap="round"/>
<path d="M33.2 651.7h0M119.3 636.1h0M32.4 651.0h0M118.4 623.7h0M81.0 654.3h0M80.4 630.8h0M111.0 641.7h0M73.7 655.9h0M69.7 631.2h0M113.2 643.5h0M78.7 632.5h0M107.5 637.3h0M67.6 624.8h0M45.2 626.6h0M113.9 664.4h0M55.4 652.1h0M43.6 650.1h0M108.6 660.1h0M114.8 657.8h0M103.4 643.5h0M37.5 626.4h0" stroke="#bfbfdd" stroke-width="2.0" stroke-linecap="round"/>
<path d="M102.2 651.1h0M42.4 641.4h0M109.9 645.3h0M98.2 647.0h0M104.4 646.6h0M33.9 638.0h0M36.8 648.9h0M63.5 638.1h0M97.8 662.1h0M33.8 636.2h0M78.4 627.0h0M81.3 625.6h0M112.5 649.4h0M33.7 637.0h0M29.3 628.6h0M114.1 656.2h0M80.6 642.1h0M74.8 642.4h0M41.9 635.6h0M109.6 641.4h0M45.5 619.9h0M108.0 653.8h0M81.9 662.6h0M52.1 647.6h0" stroke="#ddd2c8" stroke-width="2.0" stroke-linecap="round"/>
</g>
<clipPath id="tc10"><rect x="122.2" y="618" width="91.8" height="47.8"/></clipPath>
<g clip-path="url(#tc10)">
<rect x="122.2" y="618" width="91.8" height="47.8" fill="#f3f2f1"/>
<path d="M197.3 646.6h0M157.5 623.5h0M142.5 657.7h0M142.3 645.2h0M199.8 623.6h0M147.5 656.5h0M197.3 630.9h0M203.2 648.2h0M143.4 660.0h0M151.3 660.4h0M129.6 633.6h0M199.9 644.1h0M175.6 653.5h0M176.5 626.2h0M135.1 634.0h0M137.4 629.9h0M182.7 656.3h0M166.2 644.8h0M129.4 642.7h0M134.0 623.9h0M132.2 620.2h0M196.9 638.8h0M198.3 624.2h0M205.3 651.5h0M137.0 650.9h0M199.1 626.1h0M181.3 656.3h0" stroke="#bfbfdd" stroke-width="1.5" stroke-linecap="round"/>
<path d="M181.4 653.0h0M172.6 662.2h0M209.4 632.5h0M143.1 621.9h0M169.5 652.2h0M174.0 660.8h0M164.6 640.6h0M165.9 656.7h0M199.9 637.7h0M162.6 660.4h0M185.3 621.7h0M129.4 623.0h0M142.7 630.8h0M152.9 630.8h0M184.0 621.8h0M188.4 632.4h0M180.6 633.1h0M204.4 625.3h0M183.5 622.7h0M131.3 659.3h0M194.3 637.8h0M151.7 631.0h0M162.9 633.7h0M186.3 651.2h0M134.1 645.4h0M131.4 663.0h0M183.7 646.9h0M151.4 631.0h0M190.4 665.1h0M209.9 640.8h0M142.3 635.3h0M211.0 661.8h0" stroke="#d9d8ec" stroke-width="2.0" stroke-linecap="round"/>
<path d="M209.5 631.3h0M169.2 647.6h0M126.1 659.1h0M162.8 661.0h0M130.3 663.3h0M123.4 656.7h0M211.3 654.2h0M200.3 663.8h0M150.0 647.9h0M159.2 619.0h0M193.3 664.1h0M131.8 636.0h0M125.0 630.5h0M134.9 618.5h0M174.7 649.1h0M142.3 647.0h0M212.2 619.0h0M152.9 621.5h0M150.8 647.8h0M176.2 649.0h0M183.0 644.1h0M184.8 638.0h0M197.9 661.0h0M208.4 626.1h0M133.6 641.6h0M156.3 643.6h0M128.2 625.9h0M125.2 641.2h0M153.2 631.1h0M169.8 653.5h0" stroke="#ddd2c8" stroke-width="1.5" stroke-linecap="round"/>
<path d="M207.5 621.9h0M126.3 656.0h0M151.5 658.6h0M153.3 647.3h0M150.1 643.4h0M153.5 647.6h0M179.6 648.7h0M149.6 660.7h0M182.3 663.5h0M153.1 621.7h0M135.4 620.9h0M153.5 664.6h0M156.5 653.1h0M138.5 630.3h0M182.0 660.0h0M213.5 634.7h0M201.9 662.5h0M199.3 661.1h0M198.5 640.7h0M199.6 655.3h0M181.0 624.4h0M135.5 631.5h0M180.7 642.8h0M144.8 659.7h0M126.6 623.2h0M158.7 648.3h0M153.0 641.3h0M209.0 662.2h0M141.3 634.1h0M150.0 621.9h0M137.4 630.1h0M147.5 662.1h0M189.6 619.9h0M144.0 645.1h0M187.1 653.9h0" stroke="#c9c9e2" stroke-width="1.5" stroke-linecap="round"/>
<path d="M191.7 633.6h0M190.8 632.6h0M148.7 655.2h0M191.2 661.7h0M128.6 662.5h0M198.3 648.9h0M187.8 662.1h0M145.3 625.5h0M141.0 660.2h0M206.4 658.3h0M212.5 646.0h0M159.5 642.3h0M180.2 658.2h0M193.7 650.1h0M153.0 627.1h0M202.8 634.4h0M162.4 621.6h0M135.2 625.8h0" stroke="#c9c9e2" stroke-width="2.0" stroke-linecap="round"/>
<path d="M196.2 623.4h0M184.8 635.5h0M206.4 623.3h0M209.9 639.3h0M153.2 638.2h0M156.8 635.5h0M186.3 638.9h0M123.3 619.6h0M124.4 623.5h0M123.5 624.8h0M191.1 662.3h0M147.3 650.8h0M178.2 638.2h0M196.5 664.4h0M208.5 660.5h0M204.4 619.1h0M171.6 648.2h0M170.3 635.8h0M144.5 639.9h0M198.9 641.0h0M194.0 644.8h0M152.0 636.5h0M161.1 628.5h0M172.4 624.7h0M141.7 628.5h0M164.4 657.7h0M191.7 659.3h0M197.0 628.1h0M134.1 624.0h0M186.1 651.1h0M134.9 643.8h0M127.7 657.1h0M162.4 623.6h0" stroke="#d9d8ec" stroke-width="1.5" stroke-linecap="round"/>
<path d="M146.8 651.7h0M191.7 651.3h0M123.5 659.3h0M139.5 628.5h0M129.8 625.7h0M210.6 641.7h0M147.5 650.0h0M166.1 627.0h0M148.6 654.9h0M177.7 630.7h0M135.8 659.9h0M161.9 635.5h0M209.9 653.3h0M126.2 661.0h0M171.5 665.2h0M180.8 646.0h0M169.3 627.5h0M147.7 643.2h0M170.2 627.3h0M128.7 659.0h0M165.9 620.3h0M203.9 619.5h0M152.0 656.0h0" stroke="#bfbfdd" stroke-width="2.0" stroke-linecap="round"/>
<path d="M143.6 641.0h0M195.4 628.5h0M127.6 633.4h0M127.6 648.7h0M155.3 634.4h0M151.6 630.8h0M152.4 627.9h0M163.3 663.3h0M125.8 655.7h0M197.4 638.2h0M139.4 628.0h0M178.8 650.1h0M153.2 656.0h0M203.4 661.2h0M133.0 641.2h0M161.1 641.0h0M174.5 632.6h0M199.7 623.2h0M133.9 657.4h0M141.8 618.6h0M208.2 626.0h0M127.4 654.4h0" stroke="#d2d1e8" stroke-width="2.0" stroke-linecap="round"/>
<path d="M178.7 662.4h0M187.0 645.1h0M172.2 619.4h0M131.3 627.4h0M199.8 643.4h0M205.6 631.2h0M196.5 660.1h0M145.8 633.2h0M171.5 645.9h0M183.1 643.4h0M124.9 647.8h0M209.7 633.0h0M157.0 662.2h0M133.8 641.0h0M142.9 625.4h0M201.4 618.9h0M164.1 646.6h0M155.4 618.5h0M131.6 636.5h0M192.4 644.0h0M179.0 663.1h0M188.8 663.9h0M163.5 650.8h0M156.7 665.0h0M200.4 633.7h0M154.4 659.1h0M172.9 638.4h0" stroke="#d2d1e8" stroke-width="1.5" stroke-linecap="round"/>
<path d="M135.1 620.5h0M127.9 630.9h0M174.8 631.9h0M149.3 620.8h0M170.5 621.6h0M149.7 639.0h0M142.5 644.0h0M187.1 649.6h0M128.0 660.7h0M195.0 644.3h0M184.0 627.4h0M185.9 639.9h0M207.9 633.6h0M154.5 664.6h0M183.0 629.4h0M164.3 642.2h0M139.6 644.9h0M177.0 657.8h0M164.7 644.0h0M198.2 626.9h0M164.3 631.6h0M129.3 659.3h0M177.1 634.2h0" stroke="#ddd2c8" stroke-width="2.0" stroke-linecap="round"/>
</g>
<clipPath id="tc20"><rect x="221.5" y="618" width="92.5" height="47.8"/></clipPath>
<g clip-path="url(#tc20)">
<rect x="221.5" y="618" width="92.5" height="47.8" fill="#eeeae5"/>
<path d="M309.9 644.2h0M236.9 652.1h0M262.4 662.9h0M263.0 663.2h0M235.6 619.5h0M246.8 664.1h0M301.5 663.3h0M287.1 654.6h0M264.2 650.1h0M265.4 634.1h0M261.1 631.7h0M267.9 642.3h0M308.4 640.8h0M257.2 656.8h0M301.1 632.5h0M280.4 627.5h0M226.3 639.6h0M268.0 657.8h0M302.3 649.9h0M307.9 631.3h0M233.0 622.3h0M277.2 642.2h0M290.9 657.5h0M267.9 640.0h0M233.6 648.8h0" stroke="#c8b198" stroke-width="1.0" stroke-linecap="round"/>
<path d="M227.4 631.6h0M242.0 655.8h0M236.2 640.7h0M277.6 621.1h0M223.5 647.9h0M229.9 657.6h0M226.6 627.2h0M232.5 640.9h0M224.9 624.9h0M276.6 625.4h0M264.8 618.8h0M248.8 624.2h0M256.0 642.0h0M304.8 651.1h0M243.0 650.2h0M307.8 662.5h0M226.8 654.7h0M307.6 620.5h0M286.7 653.2h0M297.7 651.6h0M237.3 651.8h0M278.8 633.8h0M265.4 624.6h0M282.0 628.4h0M302.3 632.9h0M225.1 650.7h0M229.6 638.6h0M223.0 663.7h0M225.0 655.8h0M274.9 658.9h0M248.0 627.3h0M229.4 621.2h0M309.0 650.5h0M260.0 647.0h0M300.1 640.3h0M261.0 624.6h0M307.3 638.2h0M270.1 655.6h0M244.8 631.3h0M275.8 630.9h0M264.0 646.2h0M281.8 641.7h0M260.0 630.9h0M308.6 659.9h0M257.6 627.3h0M256.7 652.4h0M275.7 633.0h0M253.5 628.1h0M286.7 640.9h0M245.2 627.2h0M312.9 657.3h0" stroke="#ddd0bf" stroke-width="0.5" stroke-linecap="round"/>
<path d="M237.1 663.8h0M258.9 628.3h0M241.0 626.4h0M256.6 656.7h0M311.7 628.7h0M236.1 637.6h0M299.3 642.2h0M226.3 662.6h0M227.8 648.1h0M236.8 638.9h0M231.5 619.8h0M291.4 643.4h0M271.1 631.2h0M226.0 623.8h0M233.2 632.2h0M250.7 642.3h0M223.2 655.7h0M292.4 657.1h0M283.4 648.6h0M307.9 645.5h0M312.8 636.4h0M233.1 652.4h0M289.5 655.8h0M235.1 630.9h0M226.0 650.0h0M294.5 664.9h0M248.1 648.1h0M305.8 638.3h0M293.3 640.6h0M309.4 625.8h0M237.2 663.9h0M273.6 658.6h0M272.9 645.3h0M241.7 620.6h0M307.4 625.5h0M235.4 652.4h0M276.7 649.5h0M228.1 656.8h0M242.3 647.3h0M266.0 619.4h0" stroke="#bfa386" stroke-width="0.5" stroke-linecap="round"/>
<path d="M265.4 638.4h0M292.5 662.1h0M232.4 628.1h0M261.2 626.8h0M296.6 624.1h0M313.3 652.5h0M301.4 622.1h0M268.1 654.5h0M261.7 650.9h0M301.5 645.6h0M222.0 636.1h0M264.1 664.8h0M237.7 637.5h0M288.6 633.9h0M277.1 624.2h0M296.7 618.8h0M291.3 656.8h0M247.2 620.8h0M254.7 631.6h0M297.6 624.7h0M259.5 641.6h0M229.6 634.0h0M262.2 643.6h0M284.1 646.4h0M253.4 623.6h0M246.0 644.1h0M297.7 652.6h0M265.2 627.7h0M303.6 628.1h0M289.2 635.7h0M234.4 625.8h0M309.7 653.2h0M308.2 663.6h0M303.8 644.6h0M311.9 619.1h0M262.3 632.1h0M286.1 624.2h0M257.5 629.2h0M247.5 657.4h0M254.2 661.0h0M268.4 646.6h0M257.0 625.9h0M258.8 627.4h0M301.1 619.3h0M273.5 664.7h0M284.3 655.2h0M222.4 626.8h0M231.2 642.3h0M273.2 645.5h0M306.8 640.4h0M284.4 642.7h0M276.2 622.4h0M269.1 663.6h0" stroke="#c8b198" stroke-width="0.5" stroke-linecap="round"/>
<path d="M301.1 635.2h0M263.0 637.4h0M290.0 650.1h0M264.1 654.7h0M300.6 625.3h0M231.1 621.5h0M307.2 622.7h0M293.4 637.4h0M281.8 657.4h0M267.4 625.8h0M248.1 632.8h0M252.3 657.4h0M273.0 658.1h0M302.1 645.9h0M307.6 640.1h0M298.9 659.9h0M253.1 659.3h0M263.6 648.9h0M281.9 634.4h0M311.9 633.9h0M244.1 644.7h0M270.9 627.5h0M279.6 624.1h0M265.9 651.1h0M309.8 663.5h0M269.7 656.2h0M226.8 620.8h0M241.3 619.1h0M293.8 633.3h0M223.4 630.9h0M260.8 660.1h0" stroke="#ddd0bf" stroke-width="1.0" stroke-linecap="round"/>
<path d="M237.6 639.8h0M270.9 662.1h0M304.8 655.7h0M280.5 654.3h0M299.5 640.2h0M280.0 657.0h0M288.0 639.9h0M299.5 660.2h0M278.8 635.6h0M291.8 627.0h0M306.1 646.1h0M309.0 646.6h0M246.4 639.7h0M233.9 624.0h0M253.3 636.5h0M262.3 659.2h0M260.9 626.2h0M257.4 651.2h0M281.1 644.4h0M248.5 619.5h0M266.3 621.9h0M293.0 646.1h0M260.4 645.9h0M281.9 624.2h0M232.7 665.1h0M257.7 624.7h0M263.7 647.4h0M300.5 635.0h0M254.6 637.7h0M263.0 653.9h0M286.8 659.3h0M257.3 642.3h0M251.3 650.9h0M233.5 620.4h0M236.2 653.9h0M272.6 620.4h0M230.6 654.1h0M239.8 663.0h0M268.4 658.8h0M227.1 655.0h0M297.5 656.6h0M256.2 625.9h0M310.4 644.8h0M271.7 632.3h0M295.7 648.1h0M311.4 625.4h0M260.2 651.0h0M263.7 664.7h0M309.5 630.7h0M276.4 630.9h0M312.6 633.5h0M298.2 622.6h0" stroke="#d3bfa8" stroke-width="0.5" stroke-linecap="round"/>
<path d="M262.7 624.7h0M270.0 650.9h0M277.4 622.3h0M288.6 640.5h0M262.0 654.2h0M260.5 660.9h0M257.5 641.0h0M261.9 619.0h0M308.6 628.4h0M285.8 656.2h0M267.4 626.4h0M297.4 624.1h0M263.6 634.6h0M261.8 619.1h0M223.6 651.1h0M307.7 641.7h0M248.8 637.5h0M310.1 660.2h0M262.2 637.0h0M300.4 630.3h0M291.2 663.9h0M268.7 629.0h0M243.0 657.8h0M295.2 653.2h0" stroke="#bfa386" stroke-width="1.0" stroke-linecap="round"/>
<path d="M308.7 639.8h0M265.2 654.1h0M267.3 621.5h0M252.5 651.2h0M288.9 649.0h0M227.8 653.7h0M289.4 652.5h0M277.1 661.2h0M225.7 657.8h0M291.9 632.3h0M280.0 655.7h0M254.0 639.4h0M267.0 630.5h0M240.4 629.2h0M226.3 641.6h0M312.8 619.4h0M267.5 628.4h0M250.5 622.9h0M283.4 623.2h0M276.7 627.5h0M238.5 638.9h0M247.1 639.2h0M269.9 647.9h0M243.0 657.9h0M285.8 636.5h0M275.7 635.5h0M225.9 633.5h0M238.0 656.5h0M271.1 619.1h0M301.9 638.7h0" stroke="#d3bfa8" stroke-width="1.0" stroke-linecap="round"/>
<path d="M304.4 628.9h0M238.6 625.6h0M277.5 643.5h0M283.9 631.2h0M299.0 649.6h0M226.3 630.7h0M238.4 634.7h0M284.5 662.2h0M274.2 631.1h0M244.1 643.1h0M293.3 647.0h0M291.6 655.5h0M225.1 645.6h0M285.2 654.5h0M249.8 654.3h0M291.2 643.1h0M292.1 629.7h0M231.3 658.7h0M295.2 651.4h0M285.3 634.8h0M249.1 659.3h0" stroke="#bebddf" stroke-width="1.0" stroke-linecap="round"/>
<path d="M222.4 651.7h0M307.4 660.8h0M227.8 638.6h0M280.0 620.1h0M282.0 654.4h0M285.5 623.8h0M243.8 626.7h0M308.0 653.4h0M259.7 644.7h0M305.9 662.5h0M265.1 626.7h0M224.0 662.1h0M227.8 633.5h0M268.0 633.9h0M309.0 629.0h0M235.9 653.5h0M288.9 624.5h0M308.6 649.6h0M285.0 620.2h0M290.1 632.0h0M290.9 651.0h0M303.5 663.1h0M313.3 661.6h0" stroke="#c8c7e5" stroke-width="1.0" stroke-linecap="round"/>
<path d="M283.2 638.0h0M248.9 641.4h0M276.0 651.8h0M298.3 638.5h0M254.1 638.2h0M242.9 647.8h0M262.4 630.8h0M224.8 663.4h0M299.5 633.3h0M284.5 659.0h0M257.7 623.9h0M236.8 633.2h0" stroke="#c8c7e5" stroke-width="1.5" stroke-linecap="round"/>
<path d="M310.8 635.9h0M282.3 633.6h0M240.9 640.2h0M265.4 659.5h0M289.1 625.7h0M260.0 639.1h0M272.3 622.3h0" stroke="#bebddf" stroke-width="1.5" stroke-linecap="round"/>
<path d="M274.4 645.6h0M238.0 648.1h0M306.2 621.2h0M298.4 638.2h0M302.2 626.3h0" stroke="#86593a" stroke-width="1.0" stroke-linecap="round"/>
<path d="M238.0 659.7h0M249.1 625.1h0M311.5 644.2h0M286.9 641.4h0M269.2 662.9h0M288.8 633.7h0M274.2 658.9h0M287.6 636.5h0M310.7 652.1h0" stroke="#946848" stroke-width="1.0" stroke-linecap="round"/>
<path d="M234.2 647.8h0M269.2 618.6h0M286.2 651.7h0M259.3 642.9h0M236.6 627.2h0M301.8 636.6h0M275.6 643.7h0M223.2 651.4h0M239.9 628.3h0" stroke="#a57a56" stroke-width="1.0" stroke-linecap="round"/>
<path d="M257.4 638.0h0M303.1 657.5h0M228.8 632.8h0M286.9 619.1h0M283.9 653.0h0M269.3 645.2h0M306.6 651.2h0M287.7 623.9h0" stroke="#b58f6c" stroke-width="1.0" stroke-linecap="round"/>
<path d="M236.0 648.3h0" stroke="#a57a56" stroke-width="1.5" stroke-linecap="round"/>
<path d="M274.4 653.9h0" stroke="#946848" stroke-width="1.5" stroke-linecap="round"/>
</g>
<clipPath id="tc30"><rect x="315.6" y="618" width="91.4" height="47.8"/></clipPath>
<g clip-path="url(#tc30)">
<rect x="315.6" y="618" width="91.4" height="47.8" fill="#eeeae5"/>
<path d="M359.9 627.8h0M378.8 651.4h0M388.9 637.0h0M380.1 623.5h0M339.4 620.6h0M346.9 639.9h0M341.5 656.2h0M362.4 625.2h0M324.9 662.3h0M379.1 624.9h0M331.6 646.4h0M331.6 643.8h0M348.9 661.3h0M385.2 630.0h0M337.2 650.0h0M404.7 660.3h0M316.7 658.2h0M392.0 620.5h0M361.9 622.3h0M333.6 649.5h0M345.8 649.4h0M341.9 659.3h0M331.7 664.4h0M338.5 633.6h0M401.3 649.2h0M331.6 624.7h0M393.5 663.7h0M349.8 629.1h0M324.0 636.4h0M378.4 630.2h0M330.9 662.1h0M318.5 634.7h0M330.5 662.0h0M329.5 630.2h0M367.3 618.7h0M357.2 629.6h0M400.4 662.4h0M355.1 656.8h0M330.7 655.8h0M405.7 660.1h0M340.4 620.7h0M345.4 642.4h0M383.0 656.3h0M323.0 656.9h0M366.2 663.8h0" stroke="#c8b198" stroke-width="0.5" stroke-linecap="round"/>
<path d="M385.1 623.7h0M368.0 620.7h0M372.4 642.6h0M335.7 638.0h0M369.9 654.8h0M379.0 651.4h0M378.6 629.4h0M377.3 648.9h0M318.2 627.1h0M355.6 618.6h0M371.7 643.2h0M357.5 622.0h0M395.3 620.1h0M321.5 645.2h0M365.9 630.7h0M395.3 650.2h0M350.4 655.5h0M392.5 656.2h0M329.2 623.9h0M392.6 622.4h0M392.8 656.9h0M337.0 634.3h0M324.9 624.6h0M398.6 638.5h0M389.1 655.7h0M366.6 633.5h0M328.7 622.8h0M350.7 647.5h0M355.9 653.4h0M397.7 641.0h0M339.0 628.1h0M339.1 659.5h0M330.5 651.2h0M345.7 624.9h0M377.4 664.0h0M363.4 623.8h0M383.1 619.9h0M358.8 621.2h0M335.0 642.4h0M367.3 653.7h0M391.7 649.8h0M336.7 636.7h0M379.5 641.7h0M383.7 642.8h0M352.7 632.1h0M383.9 633.4h0M335.1 647.7h0M335.6 638.8h0M320.1 654.0h0M318.4 649.3h0M334.5 664.6h0" stroke="#bfa386" stroke-width="0.5" stroke-linecap="round"/>
<path d="M402.6 646.5h0M391.6 652.5h0M384.1 635.3h0M316.2 649.4h0M340.8 636.3h0M392.9 645.7h0M364.5 640.7h0M400.9 651.1h0M387.7 638.8h0M339.1 637.0h0M383.0 665.1h0M353.9 639.4h0M331.8 629.9h0M353.1 654.7h0M335.2 635.8h0M394.1 623.4h0M365.2 655.5h0M402.1 631.2h0M383.7 621.8h0M330.3 647.3h0M345.2 623.7h0M333.6 665.1h0M377.9 633.7h0M358.9 640.2h0M393.0 647.8h0M335.9 661.6h0M402.2 660.4h0M397.6 642.3h0M351.7 625.4h0M360.5 660.7h0M353.1 638.1h0" stroke="#bfa386" stroke-width="1.0" stroke-linecap="round"/>
<path d="M325.4 652.7h0M399.3 649.6h0M390.1 663.1h0M348.2 647.8h0M347.7 661.6h0M339.0 654.1h0M384.3 632.6h0M358.1 641.3h0M406.0 624.3h0M349.6 651.5h0M381.5 639.3h0M370.0 622.5h0M316.6 648.0h0M389.5 624.7h0M347.1 649.5h0M354.4 655.2h0M342.1 665.2h0M406.3 661.7h0M386.1 632.6h0M355.7 618.7h0M397.3 648.5h0M344.8 654.7h0M364.2 632.5h0M364.9 658.9h0M370.2 642.5h0M357.3 648.7h0M320.4 636.4h0M402.6 663.4h0M362.9 650.4h0M406.2 637.0h0M398.0 621.1h0M404.8 640.4h0M341.3 648.7h0M358.9 631.0h0M377.4 644.4h0M330.4 637.8h0M392.5 649.7h0M401.5 637.0h0M361.6 621.2h0M337.3 622.0h0M388.7 626.1h0M344.3 636.0h0M383.9 629.4h0M318.2 654.5h0M374.1 621.4h0M373.2 655.8h0M406.1 637.8h0M397.3 655.6h0M393.3 642.4h0M398.7 627.7h0M344.7 641.6h0M329.5 632.1h0" stroke="#ddd0bf" stroke-width="0.5" stroke-linecap="round"/>
<path d="M322.2 645.7h0M376.7 652.2h0M320.4 647.6h0M375.9 641.0h0M340.9 664.6h0M318.8 653.8h0M394.5 626.2h0M322.5 665.1h0M394.0 641.3h0M387.3 639.7h0M393.0 645.7h0M395.9 625.8h0M403.3 630.6h0M330.2 658.8h0M379.4 661.8h0M320.6 663.3h0M328.1 618.5h0M339.9 633.2h0M396.6 637.2h0M320.3 657.5h0M393.9 650.2h0M340.2 630.4h0M345.7 646.4h0M391.9 628.9h0M327.0 637.7h0M344.3 626.2h0" stroke="#ddd0bf" stroke-width="1.0" stroke-linecap="round"/>
<path d="M334.2 652.4h0M398.2 639.2h0M357.5 641.3h0M396.2 625.8h0M355.4 630.4h0M381.2 640.8h0M388.4 626.2h0M357.4 642.2h0M398.6 644.9h0M366.0 621.8h0M335.4 643.8h0M391.4 621.0h0M374.4 650.2h0M334.2 627.5h0M363.8 632.2h0M383.5 664.9h0M323.4 656.2h0M387.5 640.5h0M367.3 620.5h0M383.5 654.3h0M322.3 651.8h0M386.7 629.2h0M389.1 629.0h0M352.9 631.1h0M405.2 643.6h0M379.1 657.3h0M384.2 621.0h0M396.6 661.0h0" stroke="#c8b198" stroke-width="1.0" stroke-linecap="round"/>
<path d="M372.2 647.1h0M370.1 626.3h0M377.1 630.6h0M365.8 657.5h0M405.7 639.3h0M386.4 659.2h0M375.6 629.3h0M371.7 619.1h0M329.0 651.5h0M401.5 635.6h0M401.8 640.9h0M343.8 655.4h0M399.2 625.1h0M382.1 627.5h0M390.7 635.7h0M374.9 655.8h0M328.8 642.3h0M400.9 628.3h0M318.3 625.6h0M396.1 657.3h0M374.0 649.4h0M338.5 634.9h0M331.8 654.3h0M331.9 653.4h0M403.7 647.0h0M366.7 632.4h0M359.5 657.0h0M333.5 636.0h0M392.5 633.4h0M400.1 659.4h0M388.8 620.4h0M353.5 628.3h0M378.0 660.8h0M363.9 660.2h0M349.8 664.0h0M358.7 648.2h0M401.4 635.1h0M324.2 657.1h0M366.4 651.5h0M342.5 628.4h0M327.0 635.7h0M319.9 629.1h0M326.5 658.3h0M398.7 640.2h0M350.3 632.1h0M359.4 620.5h0M389.8 640.2h0" stroke="#d3bfa8" stroke-width="0.5" stroke-linecap="round"/>
<path d="M393.8 633.3h0M401.4 638.7h0M321.6 637.1h0M403.7 659.2h0M335.9 633.2h0M345.0 650.4h0M379.6 619.8h0M365.1 629.1h0M373.3 649.6h0M320.4 620.5h0M399.1 657.3h0M357.9 635.7h0M395.9 661.4h0M394.0 653.4h0M396.2 625.2h0M386.3 627.1h0M337.5 660.9h0M389.0 657.4h0M350.6 638.7h0M386.8 628.8h0M357.9 661.7h0M362.9 637.1h0M335.2 625.3h0M379.4 627.1h0M381.4 647.4h0M403.5 663.5h0" stroke="#d3bfa8" stroke-width="1.0" stroke-linecap="round"/>
<path d="M376.6 647.8h0M390.3 624.1h0M391.3 636.0h0M363.3 664.3h0M332.5 655.6h0M343.7 620.1h0M340.0 629.4h0M378.2 646.1h0M378.6 628.5h0M337.4 624.9h0M384.1 658.6h0M364.7 625.2h0M384.5 664.2h0M324.0 654.6h0M352.1 640.1h0M363.2 630.6h0M364.3 618.7h0M390.7 632.7h0M364.7 652.0h0M401.9 637.7h0M340.1 654.2h0M316.8 628.5h0M367.1 631.2h0M354.8 623.4h0M335.5 631.0h0" stroke="#bebddf" stroke-width="1.0" stroke-linecap="round"/>
<path d="M392.0 631.2h0M320.8 661.3h0M345.9 622.3h0M365.9 646.7h0M333.4 641.8h0M393.1 663.7h0M350.4 638.8h0M390.1 662.5h0M396.0 625.1h0" stroke="#bebddf" stroke-width="1.5" stroke-linecap="round"/>
<path d="M341.1 627.5h0M384.9 649.9h0M333.1 647.9h0M319.1 622.5h0M371.4 634.3h0M335.6 646.7h0M378.0 640.5h0M390.9 661.8h0M376.6 643.5h0M352.9 627.4h0M405.2 654.0h0M329.4 620.2h0M316.5 661.1h0M367.7 662.6h0M347.9 648.6h0M349.2 645.7h0M360.5 658.3h0M398.0 652.1h0M351.2 643.8h0M337.5 658.1h0M317.9 620.7h0" stroke="#c8c7e5" stroke-width="1.0" stroke-linecap="round"/>
<path d="M392.4 663.8h0M337.9 660.3h0M353.8 630.2h0M377.1 634.3h0M387.3 660.6h0M366.2 645.5h0M339.7 642.9h0M362.0 657.6h0" stroke="#c8c7e5" stroke-width="1.5" stroke-linecap="round"/>
<path d="M368.1 643.2h0M357.6 650.9h0M343.6 624.7h0M395.8 661.3h0M398.4 647.0h0M399.9 655.1h0M363.9 662.5h0M388.6 654.8h0M340.1 642.7h0M352.5 640.3h0" stroke="#86593a" stroke-width="1.0" stroke-linecap="round"/>
<path d="M334.3 651.0h0M336.3 648.0h0M360.9 659.7h0M369.7 641.0h0M391.0 630.0h0" stroke="#946848" stroke-width="1.0" stroke-linecap="round"/>
<path d="M320.3 665.1h0M352.8 656.8h0M385.1 630.6h0M334.6 630.4h0M371.9 630.9h0M380.2 645.2h0M355.5 627.4h0M325.7 635.7h0" stroke="#a57a56" stroke-width="1.0" stroke-linecap="round"/>
<path d="M396.7 647.0h0M319.9 650.2h0M383.6 656.4h0M390.1 629.4h0M401.3 641.6h0M406.5 642.4h0M336.8 657.2h0M334.5 661.7h0M366.2 638.3h0" stroke="#b58f6c" stroke-width="1.0" stroke-linecap="round"/>
<path d="M351.5 652.1h0M367.6 665.2h0M350.3 644.1h0M364.7 640.1h0" stroke="#a57a56" stroke-width="1.5" stroke-linecap="round"/>
<path d="M358.6 649.5h0" stroke="#946848" stroke-width="1.5" stroke-linecap="round"/>
<path d="M355.9 620.7h0" stroke="#86593a" stroke-width="1.5" stroke-linecap="round"/>
</g>
<clipPath id="tc01"><rect x="28.6" y="667.9" width="92" height="47"/></clipPath>
<g clip-path="url(#tc01)">
<rect x="28.6" y="667.9" width="92" height="47" fill="#ede9e3"/>
<path d="M33.2,703.15 L39.64,686.7 L56.2,674.95 L83.8,671.66 L116,673.54" fill="none" stroke="#dfdde8" stroke-opacity="0.8" stroke-width="3.76" stroke-linecap="round" stroke-linejoin="round" filter="url(#bl1)"/>
<path d="M70,699.86 L93,700.8 L113.24,704.56" fill="none" stroke="#dcdae8" stroke-opacity="1" stroke-width="3.29" stroke-linecap="round" stroke-linejoin="round" filter="url(#bl1)"/>
<path d="M67.24,709.26 L88.4,710.2 L109.56,712.08" fill="none" stroke="#dcdae8" stroke-opacity="1" stroke-width="3.29" stroke-linecap="round" stroke-linejoin="round" filter="url(#bl1)"/>
<path d="M58.96,697.04 L72.76,687.64 L88.4,686.7 L104.04,691.4 L116,699.86" fill="none" stroke="#c4a88b" stroke-opacity="0.4" stroke-width="3.29" stroke-linecap="round" stroke-linejoin="round" filter="url(#bl1)"/>
<path d="M106.8 673.2h0M31.1 700.5h0M94.4 702.0h0M101.5 712.7h0" stroke="#d0cfe7" stroke-width="1.0" stroke-linecap="round"/>
<path d="M35.9 695.5h0M77.5 671.0h0M79.4 671.6h0M51.5 677.7h0M106.0 703.0h0M86.6 702.1h0M84.0 710.2h0M102.7 711.0h0M93.0 710.7h0" stroke="#d6d5ea" stroke-width="1.5" stroke-linecap="round"/>
<path d="M74.2 672.9h0M90.3 701.6h0" stroke="#d6d5ea" stroke-width="1.0" stroke-linecap="round"/>
<path d="M39.0 693.5h0M68.4 675.2h0M36.0 696.4h0M87.1 670.9h0M88.7 674.8h0M37.7 689.7h0M41.0 686.2h0M78.3 699.7h0M81.1 710.3h0M81.0 707.9h0M84.7 710.8h0" stroke="#c1c0df" stroke-width="1.5" stroke-linecap="round"/>
<path d="M36.9 688.1h0M111.2 674.2h0M113.4 673.7h0" stroke="#c1c0df" stroke-width="1.0" stroke-linecap="round"/>
<path d="M77.7 672.1h0M80.5 671.1h0M104.6 702.9h0" stroke="#d6d5ea" stroke-width="2.0" stroke-linecap="round"/>
<path d="M76.8 673.1h0M33.5 700.9h0M38.2 692.9h0M53.6 676.6h0M99.0 699.9h0M105.2 703.5h0M84.2 701.7h0M76.1 710.2h0" stroke="#d0cfe7" stroke-width="1.5" stroke-linecap="round"/>
<path d="M37.5 690.9h0M82.4 710.2h0M76.7 708.0h0" stroke="#c8c7e2" stroke-width="1.0" stroke-linecap="round"/>
<path d="M105.6 672.9h0M35.2 700.8h0" stroke="#d0cfe7" stroke-width="2.0" stroke-linecap="round"/>
<path d="M40.1 689.2h0M107.0 672.5h0M70.8 670.4h0M78.5 672.5h0M87.7 700.2h0M88.7 700.8h0M82.8 698.9h0M79.7 709.5h0" stroke="#c8c7e2" stroke-width="1.5" stroke-linecap="round"/>
<path d="M89.1 671.1h0" stroke="#c8c7e2" stroke-width="2.0" stroke-linecap="round"/>
<path d="M28.6,687.64 L39.64,674.95 L48.84,667.9" fill="none" stroke="#cbb6a0" stroke-width="1.6" stroke-linecap="round" filter="url(#bl4)"/>
<path d="M69.9 689.3h0M51.1 691.6h0M69.2 702.1h0M82.4 671.5h0M87.1 700.4h0M85.3 695.2h0M54.1 701.2h0M76.2 686.1h0M78.0 688.0h0M53.6 699.4h0M101.2 705.3h0M90.7 673.0h0M42.8 697.8h0M49.6 699.2h0M96.6 712.7h0M85.2 713.5h0M41.3 669.5h0M100.6 714.2h0M38.0 687.1h0M72.9 680.9h0M41.4 711.9h0M102.5 682.0h0M71.9 697.1h0M110.0 710.7h0M71.2 684.7h0M83.1 712.1h0M74.0 684.2h0M89.7 686.9h0M97.0 705.4h0M47.1 680.1h0M36.7 713.7h0M51.3 705.8h0" stroke="#c8b198" stroke-width="1.0" stroke-linecap="round"/>
<path d="M37.2 687.2h0M83.8 682.3h0M52.1 684.7h0M118.1 684.4h0M50.1 670.2h0M86.0 713.9h0M102.7 684.5h0M49.7 677.5h0M89.4 675.8h0M88.1 705.6h0M37.0 670.0h0M70.0 711.0h0M70.7 672.6h0M81.8 707.8h0M81.2 687.5h0M74.7 671.7h0M77.5 713.3h0M114.9 694.7h0M102.8 689.0h0M101.5 714.3h0M43.9 684.7h0M89.7 700.9h0M79.8 680.1h0M60.8 687.4h0M58.4 684.1h0M51.2 679.7h0M39.2 691.7h0M68.6 684.3h0M74.4 680.0h0M39.9 680.6h0M41.9 707.5h0M38.6 688.0h0M117.2 692.6h0M39.1 703.1h0M106.8 680.9h0M97.8 708.2h0M64.4 688.0h0M98.1 680.3h0M41.3 669.5h0M116.3 673.7h0M112.5 671.1h0M71.2 700.4h0M30.3 707.1h0M39.9 673.2h0M99.8 713.8h0M72.1 685.8h0M45.2 690.7h0M49.2 690.6h0M98.4 692.8h0M50.0 712.7h0M35.4 687.1h0M82.9 670.5h0M67.9 674.3h0M84.1 709.0h0M63.8 676.4h0M53.3 698.5h0M60.4 691.2h0M58.4 672.6h0" stroke="#c8b198" stroke-width="0.5" stroke-linecap="round"/>
<path d="M41.3 687.7h0M115.6 668.5h0M96.8 706.5h0M75.6 705.0h0M29.6 703.6h0M39.9 675.7h0M67.0 709.5h0M54.5 714.4h0M47.1 709.0h0M87.4 693.5h0M108.1 676.8h0M36.8 707.2h0M64.7 708.8h0M92.9 673.6h0M89.1 696.9h0M108.7 674.9h0M112.9 709.2h0M85.8 679.6h0M79.3 676.0h0M100.7 706.9h0M42.2 677.4h0M48.1 682.6h0M51.3 698.2h0M106.8 676.7h0M62.2 708.1h0M38.0 671.0h0M33.6 679.5h0M76.2 688.0h0M90.4 668.5h0M81.4 714.3h0M103.3 677.9h0M40.9 694.3h0M69.5 681.3h0M108.7 684.7h0M97.9 704.8h0M41.3 690.7h0M94.5 714.0h0M75.6 704.6h0M79.5 676.3h0M30.7 693.4h0M88.4 691.3h0M49.3 672.5h0M30.5 680.8h0M46.9 710.3h0M108.1 697.6h0M61.2 681.1h0M101.6 701.6h0M80.8 687.9h0" stroke="#bfa386" stroke-width="0.5" stroke-linecap="round"/>
<path d="M52.7 686.7h0M96.8 686.5h0M86.9 674.1h0M48.2 698.3h0M49.3 709.2h0M57.8 679.2h0M80.5 692.0h0M77.8 698.8h0M115.1 709.6h0M101.5 710.6h0M62.7 677.9h0M58.7 711.8h0M85.4 690.4h0M57.7 705.1h0M73.1 681.2h0M83.6 678.9h0M98.4 675.5h0M44.7 705.5h0M48.7 688.7h0M49.7 678.9h0M118.5 694.7h0M56.3 696.9h0M80.5 712.9h0M116.6 701.4h0M55.7 678.5h0M95.5 686.0h0M63.4 705.4h0M35.7 712.2h0M54.3 704.3h0M113.0 702.3h0M52.1 707.5h0M75.8 699.5h0M85.6 699.8h0M35.3 672.2h0M109.2 697.3h0M52.0 701.0h0M81.7 713.9h0M33.0 683.7h0M71.0 676.4h0M82.2 708.1h0M103.7 711.1h0M54.4 669.5h0M29.7 689.2h0M114.8 671.2h0M35.7 682.5h0M34.9 668.7h0M43.2 670.1h0M119.0 682.9h0M65.6 684.7h0M95.1 700.1h0M33.6 711.3h0M48.8 684.2h0M43.2 703.2h0M32.6 686.3h0M44.8 689.6h0M40.2 690.8h0M50.4 682.9h0M99.2 687.4h0M48.4 675.1h0M104.9 670.9h0M102.3 700.4h0M45.6 687.6h0M50.5 713.1h0" stroke="#d3bfa8" stroke-width="0.5" stroke-linecap="round"/>
<path d="M47.6 679.3h0M34.0 670.5h0M74.1 679.2h0M115.2 680.1h0M30.9 673.1h0M82.2 691.4h0M113.4 673.9h0M60.1 697.7h0M36.5 676.1h0M65.2 713.9h0M112.6 680.4h0M53.4 690.0h0M69.4 713.4h0M30.9 684.8h0M54.3 695.7h0M115.2 697.0h0M68.1 705.1h0M99.5 710.2h0M57.2 711.2h0M35.7 697.7h0M104.7 702.5h0M49.6 701.0h0M92.2 701.0h0M36.1 681.4h0M42.9 677.7h0M107.1 674.3h0M117.2 710.4h0M47.7 686.0h0M93.5 694.0h0M97.9 709.6h0" stroke="#bfa386" stroke-width="1.0" stroke-linecap="round"/>
<path d="M73.4 704.2h0M68.6 710.4h0M46.4 684.2h0M88.1 699.1h0M56.0 711.2h0M79.1 710.2h0M55.3 697.8h0M51.8 681.1h0M42.7 693.2h0M91.7 670.8h0M97.2 704.0h0M89.9 689.6h0M60.3 696.3h0M54.5 689.1h0M39.3 707.0h0M79.7 683.0h0M54.3 709.0h0M86.4 702.8h0M53.5 704.4h0M110.8 681.9h0M77.0 686.1h0M29.7 694.7h0M83.6 700.8h0M57.1 673.9h0M75.4 698.3h0M47.7 701.0h0M89.4 701.3h0M41.0 679.9h0M87.4 712.6h0M116.0 681.8h0M50.0 698.1h0M53.0 684.3h0M39.4 702.1h0M105.6 710.3h0" stroke="#d3bfa8" stroke-width="1.0" stroke-linecap="round"/>
<path d="M74.1 686.8h0M56.9 671.8h0M66.0 706.2h0M81.9 689.0h0M90.3 672.8h0M59.8 713.0h0M96.4 679.8h0M82.8 679.1h0M35.3 678.4h0M91.8 713.4h0M82.0 696.0h0M59.9 670.9h0M34.7 672.1h0M89.7 686.6h0M81.0 678.2h0M33.8 686.0h0M106.0 670.1h0M98.5 686.3h0M95.4 690.1h0M33.0 679.3h0M76.4 693.6h0M92.1 704.6h0M53.8 671.6h0M92.2 712.0h0M67.4 679.3h0M75.1 693.3h0M91.9 675.9h0M120.1 693.1h0M31.9 677.9h0M97.5 700.9h0M105.5 689.3h0M72.2 669.0h0M48.5 676.3h0M69.6 710.3h0M45.9 679.3h0M91.8 704.3h0M111.5 675.1h0M100.6 714.1h0M29.2 688.6h0M40.1 691.4h0M113.6 710.8h0M36.2 679.5h0" stroke="#ddd0bf" stroke-width="0.5" stroke-linecap="round"/>
<path d="M62.2 699.9h0M35.4 706.5h0M88.7 711.5h0M55.6 674.2h0M91.3 676.7h0M95.0 701.1h0M53.2 672.5h0M43.2 702.8h0M73.7 687.9h0M69.7 712.8h0M113.3 703.8h0M99.9 697.0h0M95.7 684.0h0M118.6 701.9h0M61.8 688.6h0M106.0 705.5h0M47.5 676.8h0M51.9 699.2h0M75.7 700.8h0M86.5 703.3h0M75.8 695.0h0M79.9 698.0h0M113.0 708.5h0M37.2 682.2h0M82.2 694.4h0M48.3 687.6h0M108.4 700.2h0M50.3 707.0h0M93.7 678.3h0M107.0 679.0h0M43.1 703.5h0M95.4 695.1h0M71.1 692.7h0" stroke="#ddd0bf" stroke-width="1.0" stroke-linecap="round"/>
<path d="M108.3 705.5h0M68.9 686.8h0M50.9 696.0h0M35.4 679.1h0M109.9 689.0h0M35.9 707.4h0M79.7 680.5h0M49.3 702.7h0M95.7 710.9h0M45.8 710.7h0M32.8 689.4h0M78.9 707.8h0M34.2 706.8h0M96.7 676.5h0M31.5 689.9h0M75.4 681.6h0M42.0 672.4h0M35.9 673.8h0M67.0 711.0h0M115.3 712.3h0M56.5 700.1h0M60.5 697.6h0M116.1 668.9h0M87.7 684.8h0M100.0 686.7h0M29.4 693.9h0M79.7 708.9h0M43.6 688.6h0M40.2 710.1h0M51.5 675.9h0M35.0 680.3h0M48.3 709.1h0M98.4 674.8h0M37.0 692.4h0M63.7 679.1h0M49.5 697.1h0M78.4 680.8h0M97.6 705.3h0" stroke="#d3bfa8" stroke-width="0.5" stroke-linecap="round"/>
<path d="M89.5 702.1h0M66.2 689.3h0M112.5 693.3h0M52.6 704.0h0M60.5 703.7h0M44.1 679.6h0M90.6 700.2h0M86.6 710.4h0M86.5 705.4h0M110.7 703.2h0M78.7 680.7h0M29.4 698.7h0M75.7 683.7h0M55.5 681.0h0M117.9 681.3h0M53.8 698.2h0M68.6 668.7h0M36.3 714.1h0M103.4 702.0h0M92.5 697.8h0M56.8 695.2h0M66.1 706.7h0M51.7 676.3h0M31.5 713.9h0M54.7 687.7h0M88.7 694.4h0M94.6 699.7h0M50.5 670.3h0M86.3 703.2h0M72.6 701.3h0M37.9 677.6h0M81.6 712.8h0M78.7 680.5h0M109.8 675.6h0M64.3 669.3h0M67.9 704.2h0M58.0 678.1h0M72.5 702.0h0M97.9 692.4h0M98.8 702.6h0M87.3 706.4h0M46.6 696.2h0M57.2 671.5h0M50.9 699.1h0M91.2 686.6h0M68.6 713.5h0M64.1 704.7h0M110.7 682.2h0M110.5 712.6h0M62.1 673.2h0M117.9 708.7h0" stroke="#bfa386" stroke-width="0.5" stroke-linecap="round"/>
<path d="M54.1 680.6h0M65.2 678.9h0M56.5 669.4h0M72.3 693.8h0M96.7 673.0h0M40.5 689.9h0M72.2 670.8h0M109.1 702.1h0M58.1 669.2h0M35.8 688.4h0M118.5 669.7h0M68.8 692.2h0M52.0 709.6h0M108.5 689.0h0M39.7 675.9h0M104.2 688.5h0M30.5 690.5h0M60.7 705.2h0M94.5 674.4h0M39.5 676.6h0M103.9 700.8h0M98.0 705.7h0M37.0 690.8h0M116.6 681.6h0M44.0 689.3h0M44.5 684.3h0M90.5 676.1h0M84.7 713.5h0M89.8 695.4h0M33.6 689.5h0M73.6 690.2h0M114.5 679.7h0M93.4 712.4h0M42.7 681.0h0M100.5 686.0h0M109.2 701.1h0M119.0 695.0h0M57.7 673.9h0M52.4 699.9h0M31.3 672.2h0M117.8 710.6h0M50.1 675.6h0M40.1 668.6h0M29.7 687.0h0M91.3 669.3h0M62.6 702.3h0M90.4 713.6h0M99.1 672.7h0M66.4 700.3h0M72.7 680.0h0M68.3 699.6h0" stroke="#c8b198" stroke-width="0.5" stroke-linecap="round"/>
<path d="M58.0 688.8h0M65.5 677.0h0M114.8 679.9h0M82.1 707.0h0M51.9 674.8h0M39.4 678.2h0M106.4 675.9h0M34.3 682.5h0M38.8 671.7h0M105.3 703.3h0M83.1 680.8h0M50.9 711.9h0M59.2 696.0h0M88.5 687.5h0M82.7 670.1h0M38.6 707.7h0M96.9 676.5h0M31.8 706.4h0M31.0 707.4h0M80.1 673.8h0M46.9 691.7h0M29.4 683.4h0M41.7 697.3h0M50.6 676.3h0M60.1 693.0h0M50.9 679.3h0M35.8 669.5h0M54.4 674.0h0M96.4 686.1h0M119.7 674.1h0M46.7 707.4h0M82.4 709.4h0M77.4 679.1h0M69.1 689.8h0M95.0 712.2h0M96.4 712.9h0M71.8 687.9h0M51.6 669.5h0M84.3 708.4h0M120.1 670.8h0M100.7 699.5h0M99.8 707.5h0M55.9 680.0h0M50.1 684.3h0M43.7 709.5h0M66.3 697.8h0M104.8 682.1h0M52.4 708.1h0" stroke="#ddd0bf" stroke-width="0.5" stroke-linecap="round"/>
<path d="M73.8 711.0h0M55.8 678.5h0M31.0 707.3h0M97.5 698.4h0M48.5 681.2h0M112.3 693.4h0M110.5 688.7h0M68.6 710.1h0M95.9 697.6h0M46.0 711.0h0M40.1 687.4h0M84.6 706.8h0M85.1 695.0h0M83.2 706.7h0M112.0 671.5h0M44.5 681.3h0M91.9 683.4h0M86.7 681.0h0M61.4 680.2h0M35.0 700.9h0M101.4 694.6h0M35.9 673.7h0M90.7 698.1h0M54.5 687.8h0M43.4 692.6h0" stroke="#c8b198" stroke-width="1.0" stroke-linecap="round"/>
<path d="M81.2 677.8h0M31.3 685.1h0M35.4 677.0h0M48.5 683.0h0M81.1 698.4h0M63.2 696.5h0M102.9 678.8h0M55.3 705.5h0M90.3 674.8h0M93.8 676.2h0M83.4 684.5h0M113.2 711.1h0M113.8 689.4h0M104.8 690.5h0M99.6 675.9h0M83.9 712.1h0M52.0 689.5h0M75.3 672.0h0M45.0 690.3h0M67.2 712.3h0M119.3 695.8h0M34.3 670.4h0M57.5 688.4h0M50.0 712.9h0M89.1 699.9h0M80.3 702.7h0M86.3 706.6h0" stroke="#bfa386" stroke-width="1.0" stroke-linecap="round"/>
<path d="M68.5 702.2h0M114.6 713.3h0M30.2 697.1h0M95.0 690.3h0M31.9 708.3h0M100.0 691.5h0M56.2 682.5h0M117.0 682.4h0M101.6 681.1h0M87.6 701.8h0M60.6 685.3h0M42.8 687.3h0M84.9 706.9h0M71.9 690.9h0M112.5 701.5h0M89.4 694.8h0M73.5 686.5h0M35.6 700.0h0M29.3 689.5h0M115.6 670.5h0M100.3 711.1h0M65.2 671.7h0M60.3 704.1h0M115.9 678.8h0M92.7 684.0h0M68.6 677.1h0M38.7 705.3h0M86.7 710.6h0M63.2 671.3h0M34.8 684.3h0M76.8 685.3h0M31.0 713.6h0M88.6 691.8h0M35.1 677.0h0" stroke="#ddd0bf" stroke-width="1.0" stroke-linecap="round"/>
<path d="M92.5 680.2h0M87.1 698.3h0M51.8 712.6h0M75.2 697.4h0M37.4 690.6h0M44.8 677.7h0M86.8 707.4h0M29.9 688.4h0M29.7 672.2h0M66.0 679.3h0M39.4 677.6h0M97.4 676.6h0M37.9 671.2h0M87.0 669.2h0M34.4 696.9h0M48.6 670.9h0M62.6 699.5h0M97.1 714.2h0M33.4 693.4h0M116.8 701.9h0M104.9 685.9h0M68.1 670.4h0M39.9 675.0h0M60.1 698.2h0M50.5 669.9h0M42.8 708.4h0M69.2 688.0h0M116.4 686.9h0M83.0 673.4h0M85.9 706.1h0M100.6 676.1h0M94.1 678.6h0" stroke="#d3bfa8" stroke-width="1.0" stroke-linecap="round"/>
</g>
<clipPath id="tc11"><rect x="122.2" y="667.9" width="91.8" height="47"/></clipPath>
<g clip-path="url(#tc11)">
<rect x="122.2" y="667.9" width="91.8" height="47" fill="#ede9e3"/>
<path d="M126.79,703.15 L133.22,686.7 L149.74,674.95 L177.28,671.66 L209.41,673.54" fill="none" stroke="#dfdde8" stroke-opacity="0.8" stroke-width="3.76" stroke-linecap="round" stroke-linejoin="round" filter="url(#bl1)"/>
<path d="M163.51,699.86 L186.46,700.8 L206.66,704.56" fill="none" stroke="#dcdae8" stroke-opacity="1" stroke-width="3.29" stroke-linecap="round" stroke-linejoin="round" filter="url(#bl1)"/>
<path d="M160.76,709.26 L181.87,710.2 L202.98,712.08" fill="none" stroke="#dcdae8" stroke-opacity="1" stroke-width="3.29" stroke-linecap="round" stroke-linejoin="round" filter="url(#bl1)"/>
<path d="M152.49,697.04 L166.26,687.64 L181.87,686.7 L197.48,691.4 L209.41,699.86" fill="none" stroke="#c4a88b" stroke-opacity="0.4" stroke-width="3.29" stroke-linecap="round" stroke-linejoin="round" filter="url(#bl1)"/>
<path d="M207.3 673.0h0M185.9 672.9h0M188.6 673.1h0M152.9 674.9h0M188.4 702.4h0M183.1 699.5h0M198.7 704.3h0M198.1 711.3h0" stroke="#d0cfe7" stroke-width="1.5" stroke-linecap="round"/>
<path d="M172.8 672.6h0M207.2 672.0h0M126.1 702.0h0M174.8 672.2h0M143.1 678.4h0M151.2 677.1h0M185.8 700.7h0M181.6 700.5h0M170.0 699.8h0M167.5 710.2h0M202.4 714.2h0" stroke="#c8c7e2" stroke-width="1.5" stroke-linecap="round"/>
<path d="M127.8 700.8h0M191.4 670.1h0M137.0 686.7h0M157.8 673.3h0M156.1 674.7h0M188.0 672.1h0M199.2 704.2h0M161.9 710.0h0M189.9 709.9h0M174.5 711.3h0" stroke="#d6d5ea" stroke-width="1.5" stroke-linecap="round"/>
<path d="M165.2 674.0h0M174.9 671.9h0M165.3 673.3h0M130.7 695.8h0M207.7 672.1h0M174.3 701.1h0M200.3 713.1h0" stroke="#c1c0df" stroke-width="1.5" stroke-linecap="round"/>
<path d="M140.1 682.0h0M192.3 671.9h0M130.7 694.8h0M200.9 709.5h0" stroke="#d0cfe7" stroke-width="2.0" stroke-linecap="round"/>
<path d="M178.3 669.9h0M144.2 681.0h0" stroke="#c8c7e2" stroke-width="1.0" stroke-linecap="round"/>
<path d="M175.6 674.0h0M197.4 702.8h0" stroke="#c8c7e2" stroke-width="2.0" stroke-linecap="round"/>
<path d="M130.5 691.9h0M126.4 702.1h0" stroke="#d6d5ea" stroke-width="1.0" stroke-linecap="round"/>
<path d="M168.4 671.8h0M166.6 673.3h0M171.1 700.1h0M173.0 700.8h0" stroke="#d0cfe7" stroke-width="1.0" stroke-linecap="round"/>
<path d="M171.5 698.9h0M189.8 711.7h0M189.2 710.3h0" stroke="#d6d5ea" stroke-width="2.0" stroke-linecap="round"/>
<path d="M170.7 709.7h0" stroke="#c1c0df" stroke-width="1.0" stroke-linecap="round"/>
<path d="M122.2,687.64 L133.22,674.95 L142.4,667.9" fill="none" stroke="#c2a88e" stroke-width="1.6" stroke-linecap="round" filter="url(#bl4)"/>
<path d="M212.9 671.9h0M160.3 695.2h0M203.2 705.8h0M145.5 678.3h0M172.5 690.4h0M185.1 696.8h0M204.8 676.3h0M158.4 693.3h0M163.9 710.2h0M127.8 678.0h0M125.2 708.7h0M175.2 709.2h0M127.0 677.1h0M133.3 689.8h0M182.1 669.7h0M203.7 683.5h0M143.1 686.1h0M130.2 692.3h0M181.6 705.9h0M205.5 705.4h0M177.9 689.7h0M163.6 687.0h0M145.3 680.8h0M177.2 700.1h0M153.5 688.8h0M175.7 703.3h0M189.7 682.4h0M137.6 692.0h0M132.2 691.5h0M198.8 672.3h0M189.1 670.9h0M167.3 685.9h0" stroke="#ddd0bf" stroke-width="1.0" stroke-linecap="round"/>
<path d="M176.9 677.9h0M175.7 702.4h0M146.7 692.6h0M209.3 707.3h0M207.2 669.0h0M188.8 675.4h0M167.8 679.9h0M135.6 697.2h0M194.8 678.7h0M211.2 685.0h0M152.4 677.2h0M131.8 713.0h0M175.2 711.7h0M137.5 689.5h0M171.5 696.1h0M168.9 680.7h0M206.4 692.1h0M184.4 669.9h0M180.9 683.2h0M201.4 702.9h0M130.3 693.7h0M168.3 703.7h0M213.2 700.8h0M194.1 679.3h0M211.7 698.3h0M197.9 676.2h0M151.0 679.2h0M180.9 699.4h0M170.4 678.7h0M167.7 678.2h0M184.7 711.1h0" stroke="#c8b198" stroke-width="1.0" stroke-linecap="round"/>
<path d="M195.6 687.8h0M127.4 687.7h0M182.1 683.4h0M122.7 689.7h0M124.3 700.3h0M128.5 679.9h0M205.6 685.2h0M186.6 707.7h0M210.4 704.3h0M196.9 712.7h0M160.2 678.2h0M178.2 695.3h0M199.8 676.6h0M126.2 675.4h0M172.5 696.1h0M199.6 701.7h0M208.7 705.8h0M201.1 674.7h0M134.8 675.2h0M201.3 696.7h0M125.0 676.8h0M177.3 713.3h0M127.2 694.3h0M175.9 711.4h0M126.2 692.1h0M191.9 709.9h0M150.1 706.7h0M196.6 695.4h0M158.0 710.5h0M130.7 693.7h0M151.4 672.3h0M208.6 706.1h0M193.2 691.4h0" stroke="#d3bfa8" stroke-width="1.0" stroke-linecap="round"/>
<path d="M191.8 671.0h0M175.3 698.1h0M123.3 685.1h0M184.6 670.3h0M126.6 689.4h0M127.8 678.3h0M209.6 681.8h0M146.0 671.2h0M158.9 711.5h0M212.6 697.0h0M131.5 699.7h0M129.6 685.7h0M138.3 678.3h0M174.1 705.3h0M205.0 694.1h0M179.8 705.9h0M139.4 695.7h0M182.0 668.7h0M146.0 711.8h0M131.3 705.5h0M151.2 684.3h0M176.2 694.9h0M173.7 694.3h0M174.9 673.2h0M149.2 713.1h0M176.0 671.2h0M178.3 678.3h0M174.1 714.4h0M166.4 689.0h0M168.4 679.2h0" stroke="#bfa386" stroke-width="1.0" stroke-linecap="round"/>
<path d="M167.9 713.8h0M193.3 711.2h0M122.8 671.6h0M145.2 691.6h0M139.2 680.7h0M187.2 703.2h0M154.2 688.4h0M185.5 689.4h0M161.6 700.4h0M206.4 690.7h0M140.8 700.3h0M125.1 698.4h0M204.4 710.1h0M138.4 700.2h0M200.1 709.7h0M129.9 686.4h0M172.6 685.1h0M174.5 681.8h0M149.9 688.4h0M128.7 709.6h0M135.8 701.2h0M139.5 706.6h0M181.4 709.1h0M198.8 675.0h0M151.8 691.4h0M196.1 687.9h0M148.4 697.0h0M132.0 677.2h0M165.9 676.4h0M206.8 712.4h0M209.1 705.9h0M177.6 712.9h0M147.2 672.1h0M203.8 679.5h0M209.6 690.5h0M173.9 692.7h0M178.6 711.2h0M158.8 686.4h0M187.7 693.9h0M189.0 691.1h0M205.9 703.9h0M154.8 701.1h0M139.9 673.9h0M192.5 674.3h0M142.4 689.0h0M175.2 676.5h0M198.1 691.5h0M174.7 686.0h0M151.1 690.0h0M195.4 689.0h0M212.8 685.0h0M173.3 673.1h0" stroke="#d3bfa8" stroke-width="0.5" stroke-linecap="round"/>
<path d="M126.3 678.2h0M133.3 701.2h0M188.0 710.4h0M133.0 702.4h0M180.7 703.2h0M164.4 671.8h0M174.0 689.0h0M141.4 711.6h0M161.2 669.5h0M131.2 714.0h0M182.9 673.6h0M191.3 702.0h0M158.4 671.7h0M149.5 672.2h0M208.0 687.2h0M129.6 670.6h0M130.6 711.8h0M154.1 689.8h0M151.7 697.0h0M208.2 674.8h0M191.2 701.4h0M176.3 701.0h0M132.8 689.4h0M147.8 683.1h0M149.9 705.5h0M209.5 684.0h0M198.5 703.0h0M191.5 705.1h0M127.2 700.9h0M177.5 695.3h0M130.1 700.6h0M199.8 676.3h0M163.8 690.1h0M147.2 675.3h0M148.1 669.3h0M206.1 673.0h0M210.1 689.0h0M170.7 670.6h0M168.3 683.5h0M176.1 695.7h0M204.3 681.7h0M168.2 693.3h0" stroke="#bfa386" stroke-width="0.5" stroke-linecap="round"/>
<path d="M160.2 707.6h0M156.3 702.7h0M154.1 708.2h0M125.3 681.8h0M141.0 690.6h0M175.4 694.2h0M158.5 699.6h0M148.4 671.8h0M201.6 677.2h0M135.1 673.6h0M210.9 710.6h0M182.7 679.9h0M194.3 713.9h0M182.1 694.2h0M150.7 699.4h0M138.0 698.6h0M165.8 684.6h0M164.4 685.8h0M125.6 675.4h0M140.4 670.0h0M175.1 693.6h0M129.0 714.0h0M138.8 672.0h0M207.5 694.3h0M185.2 712.5h0M149.9 693.3h0M163.8 696.3h0M123.3 688.7h0M144.0 706.7h0M185.6 669.1h0M165.9 671.7h0M162.4 687.0h0M143.9 673.2h0M143.1 694.8h0M146.9 705.1h0M208.4 678.7h0M144.0 673.4h0M172.7 685.2h0M193.2 686.8h0M164.7 699.6h0M187.9 677.2h0M190.4 671.3h0M187.6 687.5h0M141.5 712.7h0M152.7 689.3h0M164.0 698.4h0M199.9 692.2h0M131.8 690.1h0M192.5 707.7h0M211.9 703.8h0M168.0 674.2h0M197.2 686.2h0M205.1 689.7h0M133.1 672.8h0M127.5 674.5h0M126.1 703.8h0M196.6 699.2h0M188.4 690.7h0M186.4 683.1h0M137.0 689.3h0M186.2 669.5h0M152.1 704.9h0M137.3 693.2h0M151.1 710.7h0" stroke="#c8b198" stroke-width="0.5" stroke-linecap="round"/>
<path d="M144.6 697.1h0M151.2 675.0h0M196.2 702.8h0M124.6 694.1h0M141.7 697.6h0M200.3 676.5h0M211.1 689.7h0M129.9 706.4h0M158.3 681.6h0M187.5 691.2h0M134.4 698.9h0M125.8 680.0h0M205.3 692.6h0M194.6 710.1h0M125.9 696.2h0M180.2 708.1h0M164.6 701.7h0M170.7 681.7h0M143.2 705.1h0M149.9 689.7h0M167.7 669.9h0M192.4 704.2h0M202.6 709.4h0M165.7 713.9h0M145.5 673.5h0M172.9 696.1h0M170.6 671.2h0M152.6 676.7h0M147.8 671.6h0M188.2 692.8h0M155.8 703.3h0M128.8 713.1h0M161.6 681.3h0M206.2 687.9h0M172.2 691.0h0M146.3 705.6h0M201.3 695.9h0M141.6 673.7h0M128.7 692.2h0M144.4 685.1h0M155.3 707.4h0M153.6 712.5h0M131.2 694.4h0M204.7 698.6h0M145.0 669.6h0M140.6 711.4h0M136.0 709.2h0M156.2 703.7h0M183.0 684.1h0M136.1 694.0h0M178.7 712.5h0M138.2 679.2h0M207.6 702.6h0M205.8 676.2h0M155.0 675.3h0M186.4 703.1h0" stroke="#ddd0bf" stroke-width="0.5" stroke-linecap="round"/>
<path d="M141.1 710.8h0M141.6 691.8h0M190.1 687.2h0M152.1 693.9h0M190.3 710.7h0M189.1 702.8h0M125.1 714.2h0M191.2 704.4h0M158.6 714.0h0M206.7 683.3h0M171.4 679.9h0M189.1 695.9h0M127.9 675.7h0M207.5 691.2h0M140.3 687.4h0M135.7 693.4h0M167.6 688.9h0M193.9 669.9h0M196.0 683.5h0M188.2 710.6h0M146.1 696.8h0M156.1 675.1h0M205.5 711.4h0M163.3 690.6h0M211.5 714.4h0M182.0 680.5h0M178.2 669.6h0M131.6 704.1h0M168.6 700.9h0M174.3 676.0h0M154.0 700.4h0M140.4 674.3h0M166.5 686.5h0M206.3 677.9h0M194.9 687.8h0M175.4 697.6h0M152.3 705.4h0M144.1 669.9h0M138.6 682.3h0M162.9 712.8h0M132.8 679.2h0M126.1 696.0h0M184.6 707.4h0M138.9 683.1h0M133.1 694.4h0M130.4 677.0h0M182.1 703.7h0M167.5 687.7h0M174.1 702.0h0M153.1 674.1h0M147.6 690.5h0" stroke="#bfa386" stroke-width="0.5" stroke-linecap="round"/>
<path d="M158.7 711.7h0M191.9 692.5h0M173.6 690.6h0M148.8 702.2h0M130.6 700.5h0M138.8 707.1h0M203.2 692.9h0M165.3 698.6h0M172.8 708.3h0M157.9 673.5h0M129.0 683.3h0M185.4 685.2h0M187.3 701.4h0M180.2 686.6h0M195.7 673.6h0M149.5 668.7h0M152.8 687.7h0M211.5 700.6h0M128.4 675.3h0M170.6 700.4h0M161.6 691.9h0M179.8 704.2h0M141.9 669.2h0M170.6 673.5h0M180.2 712.7h0M138.5 671.8h0M135.6 677.4h0M131.3 673.7h0M147.0 681.8h0M129.4 705.3h0M212.8 692.4h0M199.6 689.4h0" stroke="#d3bfa8" stroke-width="1.0" stroke-linecap="round"/>
<path d="M176.9 680.5h0M125.7 699.4h0M143.1 671.9h0M143.5 682.3h0M161.2 691.5h0M171.3 705.3h0M153.8 671.2h0M178.7 713.8h0M179.5 679.0h0M177.0 708.8h0M131.4 704.6h0M173.5 687.3h0M157.1 670.2h0M188.9 703.7h0M142.9 696.3h0M199.7 671.7h0M157.8 698.6h0M127.1 693.9h0M144.6 687.1h0M180.1 691.5h0M142.8 708.3h0M130.6 697.3h0M206.2 710.0h0M173.4 702.9h0M148.8 686.5h0M169.2 708.8h0M177.2 673.3h0M162.0 712.4h0M189.6 709.2h0M208.3 704.0h0M193.0 669.4h0M189.8 680.1h0M134.3 707.2h0M159.6 680.1h0M188.7 689.7h0M199.6 710.2h0M210.8 684.2h0M133.7 700.9h0M143.2 675.7h0M129.5 697.8h0M157.3 677.7h0M158.4 700.6h0M142.9 684.3h0M166.5 683.6h0M138.8 672.7h0M135.5 695.3h0M145.7 677.3h0M133.7 700.5h0" stroke="#ddd0bf" stroke-width="0.5" stroke-linecap="round"/>
<path d="M146.9 678.7h0M181.6 677.8h0M130.5 697.8h0M134.5 668.8h0M149.2 673.5h0M211.6 688.0h0M208.4 685.1h0M205.6 691.3h0M154.8 670.1h0M150.4 690.3h0M157.9 693.7h0M190.9 671.5h0M164.1 706.3h0M169.7 710.2h0M186.0 702.8h0M130.8 710.6h0M195.0 689.0h0M164.4 699.1h0M180.6 712.9h0M190.8 678.5h0M163.5 702.7h0M123.3 691.3h0M133.6 679.6h0M180.6 705.9h0M204.3 673.4h0M198.3 704.7h0M144.4 699.9h0M182.7 713.4h0M154.1 673.3h0M155.6 707.8h0M209.5 713.6h0M165.7 712.7h0M187.1 698.5h0M156.9 683.4h0M141.6 670.5h0M203.6 680.0h0M191.7 668.6h0M158.1 683.9h0M129.0 683.0h0M213.0 695.2h0M146.0 698.9h0M172.9 684.3h0M189.8 695.9h0M138.5 681.0h0" stroke="#c8b198" stroke-width="0.5" stroke-linecap="round"/>
<path d="M177.4 686.9h0M124.7 694.3h0M164.5 693.3h0M136.4 682.8h0M180.7 704.2h0M127.0 669.0h0M189.6 671.3h0M156.8 679.2h0M131.5 711.9h0M209.4 682.8h0M135.2 686.1h0M158.5 677.9h0M177.4 699.0h0M178.6 711.8h0M149.2 702.1h0M156.3 678.7h0M141.6 689.9h0M157.5 679.1h0M212.8 696.2h0M182.7 685.4h0M212.2 673.8h0M145.4 683.9h0M206.1 680.8h0M162.9 674.1h0M132.7 684.7h0M128.1 710.9h0M213.1 705.3h0M156.2 693.9h0M126.6 682.2h0M170.8 702.9h0" stroke="#ddd0bf" stroke-width="1.0" stroke-linecap="round"/>
<path d="M183.1 702.3h0M212.6 679.4h0M185.6 707.0h0M144.0 707.3h0M181.3 678.6h0M127.1 692.5h0M163.7 696.1h0M189.7 706.9h0M179.8 703.5h0M189.2 676.9h0M139.6 685.7h0M187.3 690.1h0M141.6 705.0h0M131.1 685.5h0M194.1 670.5h0M125.7 707.5h0M172.7 688.0h0M190.5 703.5h0M142.2 672.5h0M145.9 702.3h0M163.1 680.8h0M186.6 672.0h0M175.5 680.6h0M159.7 702.6h0M174.8 682.8h0M186.8 683.3h0M134.2 672.6h0M158.4 681.0h0M129.3 671.5h0M182.6 714.2h0M170.1 683.3h0M149.8 678.1h0M203.8 694.3h0M203.8 691.7h0M156.2 696.0h0M142.3 695.9h0M122.7 696.7h0M182.9 705.1h0M199.9 677.1h0M210.1 675.6h0M153.8 694.8h0M210.5 690.9h0M151.8 694.1h0M149.5 679.1h0M123.7 693.3h0M168.0 682.9h0M206.0 693.6h0M149.4 670.6h0M186.4 698.9h0M183.7 676.1h0M148.4 699.6h0M199.5 699.0h0M177.4 683.6h0M197.4 705.7h0M124.2 684.9h0" stroke="#d3bfa8" stroke-width="0.5" stroke-linecap="round"/>
<path d="M209.5 707.1h0M187.6 705.9h0M208.4 702.1h0M123.6 688.5h0M181.4 702.5h0M203.8 690.3h0M199.7 684.3h0M172.0 690.7h0M201.4 705.6h0M163.8 685.5h0M167.5 699.7h0M126.9 702.6h0M196.2 670.6h0M211.8 702.9h0M141.6 684.7h0M158.6 707.8h0M151.7 690.4h0M155.0 686.3h0" stroke="#c8b198" stroke-width="1.0" stroke-linecap="round"/>
<path d="M164.9 669.4h0M181.7 670.8h0M187.4 670.9h0M167.5 697.5h0M168.0 669.6h0M207.3 673.3h0M208.0 704.6h0M149.8 671.3h0M162.8 684.3h0M135.4 668.7h0M187.7 701.7h0M152.0 705.6h0M156.5 710.6h0M181.6 675.2h0M204.3 688.8h0M172.2 674.0h0M185.5 669.7h0M141.8 709.0h0M199.4 698.3h0M123.6 681.0h0M144.8 698.5h0M213.2 695.4h0M157.7 700.5h0M170.9 681.8h0M128.6 693.0h0M195.4 702.5h0M150.7 714.3h0M185.4 706.0h0" stroke="#bfa386" stroke-width="1.0" stroke-linecap="round"/>
</g>
<clipPath id="tc21"><rect x="221.5" y="667.9" width="92.5" height="47"/></clipPath>
<g clip-path="url(#tc21)">
<rect x="221.5" y="667.9" width="92.5" height="47" fill="#efedea"/>
<path d="M232.6,712.55 L226.12,693.75 L240,677.3 L267.75,671.66 L300.12,673.54 L314,684.35" fill="none" stroke="#dcdbea" stroke-opacity="1" stroke-width="2.82" stroke-linecap="round" stroke-linejoin="round" filter="url(#bl1)"/>
<path d="M263.12,701.74 L277,705.5 L309.38,709.26" fill="none" stroke="#d9d8ea" stroke-opacity="1" stroke-width="3.76" stroke-linecap="round" stroke-linejoin="round" filter="url(#bl1)"/>
<path d="M272.38,712.55 L300.12,713.96" fill="none" stroke="#d8d7ea" stroke-opacity="1" stroke-width="3.76" stroke-linecap="round" stroke-linejoin="round" filter="url(#bl1)"/>
<path d="M260.1 672.7h0M234.4 684.8h0M242.8 676.9h0M266.3 671.8h0M257.9 672.9h0M264.1 701.0h0M283.2 707.6h0" stroke="#d6d5ea" stroke-width="1.0" stroke-linecap="round"/>
<path d="M307.0 678.7h0M297.4 673.6h0M287.7 671.9h0M264.3 673.3h0M280.5 672.7h0M256.8 672.1h0M301.4 707.5h0M288.3 713.6h0M281.1 712.9h0" stroke="#d6d5ea" stroke-width="1.5" stroke-linecap="round"/>
<path d="M230.5 707.1h0M288.3 672.7h0M274.8 671.5h0M276.0 705.2h0M281.0 704.8h0M266.1 702.0h0M274.1 705.9h0M277.9 713.8h0M283.6 712.8h0" stroke="#c8c7e2" stroke-width="1.5" stroke-linecap="round"/>
<path d="M283.2 671.7h0M310.1 680.8h0M281.1 707.6h0" stroke="#c8c7e2" stroke-width="2.0" stroke-linecap="round"/>
<path d="M248.0 674.3h0M234.6 685.2h0M231.3 710.3h0M296.9 673.1h0M295.5 708.1h0M267.8 705.0h0M287.6 713.8h0M287.7 712.8h0" stroke="#d0cfe7" stroke-width="1.5" stroke-linecap="round"/>
<path d="M292.7 673.7h0M251.3 674.9h0M245.4 677.0h0M238.5 680.6h0M284.5 706.8h0M284.4 706.2h0M307.4 707.8h0M293.1 706.7h0M297.3 714.8h0" stroke="#c1c0df" stroke-width="1.5" stroke-linecap="round"/>
<path d="M237.6 679.0h0M246.5 676.2h0" stroke="#d0cfe7" stroke-width="1.0" stroke-linecap="round"/>
<path d="M269.6 672.6h0" stroke="#c1c0df" stroke-width="1.0" stroke-linecap="round"/>
<path d="M226.9 693.8h0" stroke="#d6d5ea" stroke-width="2.0" stroke-linecap="round"/>
<path d="M298.9 708.1h0" stroke="#d0cfe7" stroke-width="2.0" stroke-linecap="round"/>
<path d="M226.9 709.9h0M292.4 681.1h0M297.6 697.9h0M275.8 689.3h0M301.0 697.9h0M242.6 701.3h0M287.5 699.4h0M291.5 670.9h0M246.9 678.7h0M306.6 669.2h0M224.9 693.1h0M278.8 669.6h0M303.8 674.7h0M262.8 673.6h0M249.2 677.8h0M241.8 676.4h0M295.3 680.9h0M265.4 702.8h0M244.7 688.2h0M275.0 673.6h0M306.8 690.9h0M286.3 691.8h0M248.8 694.0h0M306.3 709.5h0M246.0 711.5h0M301.0 685.3h0M263.4 684.7h0M252.4 698.9h0M246.0 711.2h0M302.6 670.8h0" stroke="#c8b198" stroke-width="0.5" stroke-linecap="round"/>
<path d="M259.8 703.8h0M236.6 682.9h0M252.2 683.8h0M293.1 704.7h0M294.9 684.1h0M285.7 678.9h0M254.9 679.0h0M236.9 679.2h0M299.0 678.7h0M277.0 699.2h0M273.7 710.2h0M288.3 702.0h0M312.7 682.8h0M270.6 698.9h0M256.9 706.6h0M283.4 672.9h0M265.7 682.0h0M297.5 712.3h0M230.6 685.2h0M292.7 710.1h0" stroke="#ddd0bf" stroke-width="0.5" stroke-linecap="round"/>
<path d="M224.4 673.8h0M263.0 680.1h0M258.8 699.1h0M222.4 682.6h0M256.6 687.3h0M276.4 693.9h0M285.0 704.7h0M250.9 706.7h0M274.0 669.9h0M253.5 688.2h0M230.0 712.5h0M288.7 671.0h0M253.6 706.2h0M269.4 691.5h0M228.2 694.4h0M274.1 700.6h0M268.2 684.0h0" stroke="#ddd0bf" stroke-width="1.0" stroke-linecap="round"/>
<path d="M273.3 689.4h0M294.6 670.4h0M252.5 692.1h0M261.3 701.8h0M242.6 695.3h0M257.6 677.5h0M250.3 695.2h0M291.0 687.2h0M247.9 701.1h0M257.5 694.7h0M293.3 689.0h0M234.8 702.8h0" stroke="#d3bfa8" stroke-width="1.0" stroke-linecap="round"/>
<path d="M309.4 702.2h0M294.3 712.5h0M274.0 681.8h0M305.3 714.1h0M230.7 701.5h0M284.1 671.2h0M281.1 671.1h0M277.6 670.3h0M293.3 700.7h0M245.3 679.8h0M268.6 686.3h0M274.4 708.7h0M227.2 687.9h0M227.6 688.1h0M223.3 674.6h0M255.6 701.0h0M306.8 684.7h0M309.7 676.7h0M280.1 685.9h0M279.3 685.1h0M240.8 710.6h0M283.7 691.2h0" stroke="#d3bfa8" stroke-width="0.5" stroke-linecap="round"/>
<path d="M258.8 702.6h0M266.4 680.8h0M312.9 669.1h0M243.9 680.4h0M304.9 669.8h0M257.6 692.3h0M227.3 695.4h0M246.9 690.4h0M248.2 713.1h0M235.1 704.4h0" stroke="#c8b198" stroke-width="1.0" stroke-linecap="round"/>
<path d="M277.1 690.7h0M237.5 694.8h0M295.0 694.1h0M311.2 685.9h0M294.9 696.0h0M282.3 671.5h0M270.0 707.7h0M249.7 668.7h0M285.7 691.1h0M313.4 708.2h0M222.5 695.6h0M225.5 672.1h0M259.9 678.6h0M299.0 681.6h0M309.6 702.7h0" stroke="#bfa386" stroke-width="1.0" stroke-linecap="round"/>
<path d="M241.1 698.0h0M290.2 708.7h0M294.2 687.0h0M276.5 686.3h0M274.9 689.1h0M256.9 698.0h0M306.9 692.8h0M223.4 681.4h0M292.1 698.0h0M299.6 677.5h0M238.6 674.7h0M259.1 670.9h0M274.9 710.7h0M238.2 688.3h0M293.7 673.5h0M250.2 707.5h0M287.4 671.3h0M275.8 703.1h0M287.6 675.4h0M242.1 712.1h0M309.3 692.5h0M255.5 670.5h0M279.7 699.5h0M249.4 678.8h0M245.2 669.4h0M276.9 697.5h0M253.7 674.3h0" stroke="#bfa386" stroke-width="0.5" stroke-linecap="round"/>
<path d="M271.5 689.4h0M298.0 674.9h0M253.1 671.2h0M270.1 698.7h0M308.7 679.7h0M255.5 673.2h0M309.8 711.6h0M301.7 712.8h0M312.8 676.6h0M292.5 691.6h0M249.6 708.5h0M300.5 703.2h0M308.4 708.6h0" stroke="#c8c7e5" stroke-width="1.0" stroke-linecap="round"/>
<path d="M304.1 681.5h0M228.3 692.3h0M251.6 684.4h0M270.9 706.8h0M279.0 671.0h0M229.3 699.5h0M255.7 685.2h0M287.3 714.2h0M300.3 679.8h0M238.3 701.5h0M241.2 670.3h0" stroke="#bebddf" stroke-width="1.0" stroke-linecap="round"/>
<path d="M234.4 679.1h0M254.9 671.8h0M267.4 692.0h0M258.9 706.2h0M249.6 681.0h0" stroke="#c8c7e5" stroke-width="1.5" stroke-linecap="round"/>
<path d="M257.9 700.1h0M292.0 684.7h0M289.6 699.7h0M259.4 703.6h0M313.0 705.7h0M295.1 703.8h0" stroke="#bebddf" stroke-width="1.5" stroke-linecap="round"/>
</g>
<clipPath id="tc31"><rect x="315.6" y="667.9" width="91.4" height="47"/></clipPath>
<g clip-path="url(#tc31)">
<rect x="315.6" y="667.9" width="91.4" height="47" fill="#efedea"/>
<path d="M326.57,712.55 L320.17,693.75 L333.88,677.3 L361.3,671.66 L393.29,673.54 L407,684.35" fill="none" stroke="#dcdbea" stroke-opacity="1" stroke-width="2.82" stroke-linecap="round" stroke-linejoin="round" filter="url(#bl1)"/>
<path d="M356.73,701.74 L370.44,705.5 L402.43,709.26" fill="none" stroke="#d9d8ea" stroke-opacity="1" stroke-width="3.76" stroke-linecap="round" stroke-linejoin="round" filter="url(#bl1)"/>
<path d="M365.87,712.55 L393.29,713.96" fill="none" stroke="#d8d7ea" stroke-opacity="1" stroke-width="3.76" stroke-linecap="round" stroke-linejoin="round" filter="url(#bl1)"/>
<path d="M385.5 674.0h0M371.5 672.4h0M375.0 707.0h0" stroke="#c1c0df" stroke-width="1.0" stroke-linecap="round"/>
<path d="M331.8 678.9h0M345.1 675.9h0M325.2 708.3h0M351.9 672.4h0M324.0 705.4h0M363.6 672.5h0M322.2 704.1h0M373.2 672.0h0M330.7 683.0h0M326.8 706.5h0M358.7 701.1h0M363.3 703.1h0M364.0 701.9h0M367.5 711.5h0" stroke="#c8c7e2" stroke-width="1.5" stroke-linecap="round"/>
<path d="M385.7 672.4h0M401.0 708.4h0" stroke="#d6d5ea" stroke-width="1.0" stroke-linecap="round"/>
<path d="M334.3 677.8h0M360.8 671.4h0" stroke="#d0cfe7" stroke-width="1.0" stroke-linecap="round"/>
<path d="M389.7 672.8h0M358.1 671.8h0M324.2 707.8h0M331.5 678.8h0M370.6 706.1h0M357.1 701.9h0M391.6 713.9h0M373.6 712.8h0" stroke="#d6d5ea" stroke-width="1.5" stroke-linecap="round"/>
<path d="M337.0 676.5h0M391.7 707.6h0M382.2 706.9h0" stroke="#c8c7e2" stroke-width="1.0" stroke-linecap="round"/>
<path d="M375.4 671.6h0M324.3 688.8h0M398.6 677.5h0M357.1 702.3h0M375.0 707.7h0M393.2 708.9h0M398.9 708.6h0" stroke="#d0cfe7" stroke-width="1.5" stroke-linecap="round"/>
<path d="M333.5 678.0h0" stroke="#d6d5ea" stroke-width="2.0" stroke-linecap="round"/>
<path d="M396.5 675.7h0M356.0 673.4h0M380.7 711.0h0M381.4 714.5h0M367.8 711.3h0" stroke="#c1c0df" stroke-width="1.5" stroke-linecap="round"/>
<path d="M323.5 690.5h0" stroke="#c8c7e2" stroke-width="2.0" stroke-linecap="round"/>
<path d="M325.5 688.8h0" stroke="#c1c0df" stroke-width="2.0" stroke-linecap="round"/>
<path d="M390.6 708.8h0" stroke="#d0cfe7" stroke-width="2.0" stroke-linecap="round"/>
<path d="M386.8 694.2h0M364.2 687.6h0M364.8 668.8h0M329.4 691.4h0M337.4 690.4h0M323.1 678.3h0M394.5 675.2h0M347.0 707.1h0M344.4 693.0h0M381.6 681.1h0M392.4 705.8h0M365.0 700.9h0M359.3 692.8h0M339.6 683.9h0M362.1 682.7h0M363.5 708.3h0M329.5 697.1h0M404.4 670.5h0M325.2 704.3h0" stroke="#bfa386" stroke-width="0.5" stroke-linecap="round"/>
<path d="M369.4 710.5h0M344.2 677.0h0M402.8 709.6h0M346.9 696.5h0M404.1 713.7h0M370.7 689.5h0M390.2 676.0h0M397.4 701.0h0M338.3 711.4h0M345.1 676.3h0M386.9 673.9h0M390.8 685.7h0M357.9 701.2h0M366.9 672.3h0M325.5 676.8h0M368.7 684.8h0M400.0 682.1h0M333.6 710.2h0M364.9 681.1h0M332.4 693.6h0M383.1 705.8h0M388.5 672.4h0M322.2 682.9h0M379.1 688.4h0M351.4 705.6h0M399.7 710.6h0M339.8 685.1h0M319.8 698.1h0" stroke="#c8b198" stroke-width="0.5" stroke-linecap="round"/>
<path d="M399.1 708.2h0M385.2 696.9h0M318.8 679.5h0M333.0 673.9h0M371.0 692.3h0M342.4 681.3h0M347.8 697.1h0M352.4 705.1h0M368.2 712.9h0M342.3 686.5h0M320.0 696.1h0M354.2 712.9h0M396.3 698.0h0" stroke="#c8b198" stroke-width="1.0" stroke-linecap="round"/>
<path d="M332.4 706.1h0M367.7 676.1h0M322.5 695.2h0M372.8 673.8h0M403.8 694.9h0M366.9 705.3h0M322.9 713.6h0M350.0 694.7h0M337.6 707.0h0M393.4 698.7h0M390.9 670.1h0M323.0 671.7h0M323.6 713.1h0M334.4 701.2h0M328.8 701.9h0M373.8 699.1h0M345.8 675.9h0M325.1 696.3h0M340.5 677.7h0M337.5 673.7h0M365.1 703.8h0M398.4 699.5h0M355.1 685.6h0M365.8 710.4h0M340.4 696.2h0M327.9 685.7h0M354.7 668.5h0M388.6 675.1h0" stroke="#ddd0bf" stroke-width="0.5" stroke-linecap="round"/>
<path d="M346.0 686.7h0M339.6 690.3h0M353.0 691.4h0M380.0 684.3h0M380.8 696.0h0M342.3 706.9h0M366.8 692.8h0M317.4 672.8h0M351.7 680.9h0M379.1 705.3h0M390.1 700.6h0M382.4 695.1h0M350.9 675.4h0M364.4 683.7h0" stroke="#d3bfa8" stroke-width="1.0" stroke-linecap="round"/>
<path d="M359.2 698.1h0M355.3 694.4h0M347.8 696.4h0M378.3 679.0h0M331.8 685.7h0M387.4 677.0h0M405.9 674.6h0M392.6 671.2h0M396.4 695.2h0M352.9 697.1h0M387.6 710.5h0M377.6 687.9h0M335.5 709.0h0M361.1 710.3h0M336.9 696.1h0M394.8 709.8h0M356.1 689.4h0M397.4 700.7h0" stroke="#bfa386" stroke-width="1.0" stroke-linecap="round"/>
<path d="M316.8 685.1h0M329.5 705.7h0M337.5 672.2h0M376.4 688.6h0M397.3 683.6h0M348.0 693.0h0M348.8 697.9h0M353.4 670.0h0M406.5 681.4h0M377.7 697.9h0M337.3 702.2h0M316.4 673.3h0" stroke="#ddd0bf" stroke-width="1.0" stroke-linecap="round"/>
<path d="M316.7 689.2h0M337.0 704.0h0M328.6 686.4h0M322.9 682.8h0M359.6 684.6h0M363.3 705.2h0M371.9 689.2h0M368.5 687.1h0M373.6 668.9h0M342.3 700.8h0M328.9 710.8h0M364.9 670.6h0M367.6 697.3h0M371.3 688.4h0M399.4 702.0h0M373.2 669.8h0M358.9 691.0h0M359.8 677.0h0M385.5 692.1h0M391.8 703.5h0M386.7 701.1h0" stroke="#d3bfa8" stroke-width="0.5" stroke-linecap="round"/>
<path d="M348.0 678.2h0M399.8 689.6h0M346.8 679.7h0M327.1 699.8h0M332.4 672.9h0M320.2 713.5h0" stroke="#bebddf" stroke-width="1.5" stroke-linecap="round"/>
<path d="M335.1 702.5h0M342.6 707.7h0M321.4 668.6h0M330.7 699.5h0M379.9 674.0h0M395.3 695.0h0M363.2 676.7h0" stroke="#c8c7e5" stroke-width="1.0" stroke-linecap="round"/>
<path d="M343.2 708.9h0M364.0 706.8h0M372.7 713.4h0M373.4 693.2h0M351.7 669.7h0M398.7 707.8h0M346.3 674.6h0M390.2 710.5h0M406.0 713.0h0M369.8 699.6h0M324.9 709.4h0M338.1 692.6h0M339.2 678.5h0M398.6 672.9h0M387.1 678.5h0M401.0 690.6h0M328.4 683.6h0M358.5 680.9h0M336.3 670.5h0" stroke="#bebddf" stroke-width="1.0" stroke-linecap="round"/>
<path d="M389.7 676.6h0M344.9 675.7h0M362.6 676.3h0" stroke="#c8c7e5" stroke-width="1.5" stroke-linecap="round"/>
</g>
<clipPath id="tc02"><rect x="28.6" y="716.9" width="92" height="47.1"/></clipPath>
<g clip-path="url(#tc02)">
<rect x="28.6" y="716.9" width="92" height="47.1" fill="#ebe6df"/>
<path d="M28.6,730.09 L65.4,727.26 L111.4,731.03" fill="none" stroke="#dad8e7" stroke-opacity="1" stroke-width="15.07" stroke-linecap="round" stroke-linejoin="round" filter="url(#bl3)"/>
<path d="M37.8,752.23 L74.6,749.87 L120.6,749.87" fill="none" stroke="#dad8e7" stroke-opacity="1" stroke-width="16.96" stroke-linecap="round" stroke-linejoin="round" filter="url(#bl3)"/>
<path d="M103.0 732.9h0M37.3 728.9h0M107.1 732.4h0M110.1 749.7h0M120.1 742.8h0M46.2 756.1h0M98.8 751.0h0M116.2 747.3h0M95.5 753.2h0M54.4 757.1h0M80.6 751.4h0M100.0 754.1h0M65.1 750.7h0" stroke="#c8c7e2" stroke-width="2.0" stroke-linecap="round"/>
<path d="M54.4 735.6h0M53.6 725.9h0M68.6 726.2h0M38.7 726.9h0M41.8 728.4h0M110.8 730.3h0M40.4 736.7h0M84.8 724.8h0M38.8 728.3h0M59.5 728.9h0M106.3 733.1h0M65.0 729.1h0M35.5 736.3h0M53.8 731.4h0M31.0 730.7h0M86.0 733.0h0M86.0 735.8h0M62.4 737.4h0M81.9 736.1h0M108.5 728.6h0M73.0 720.4h0M95.7 725.2h0M94.9 726.5h0M107.0 745.2h0M80.3 752.1h0M111.9 746.2h0M46.3 756.3h0M80.7 748.9h0M114.5 750.2h0M58.0 743.0h0M51.2 751.2h0M98.5 755.4h0M67.1 752.3h0M108.2 754.3h0M120.0 746.2h0M43.9 748.2h0M61.4 746.6h0M86.8 754.1h0" stroke="#c8c7e2" stroke-width="1.5" stroke-linecap="round"/>
<path d="M95.5 729.5h0M73.3 736.1h0M42.0 726.6h0M47.7 728.1h0M98.6 730.8h0M44.7 733.4h0M109.6 734.0h0M86.8 726.7h0M36.2 729.8h0M45.6 726.2h0M83.7 725.5h0M87.2 727.0h0M102.5 731.7h0M104.4 723.8h0M57.7 730.3h0M98.5 731.3h0M42.3 722.8h0M60.6 732.1h0M90.7 731.8h0M29.9 731.7h0M50.1 732.4h0M34.0 727.3h0M86.3 730.0h0M53.7 745.2h0M94.7 750.4h0M64.0 747.2h0M39.2 745.8h0M105.5 745.6h0M41.5 749.9h0M43.5 744.9h0M80.8 753.1h0M76.6 757.4h0M59.1 755.6h0M116.6 752.7h0M119.3 752.9h0M83.9 748.1h0M117.0 744.7h0M60.8 747.0h0M111.3 750.6h0M71.1 743.9h0M62.0 746.1h0M114.2 749.8h0M107.4 751.6h0" stroke="#d0cfe7" stroke-width="1.5" stroke-linecap="round"/>
<path d="M93.7 731.3h0M31.2 724.6h0M42.3 731.6h0M46.9 726.5h0M78.0 726.3h0M63.5 731.1h0M89.4 753.6h0M80.0 746.8h0M60.6 746.1h0M113.4 749.7h0M39.6 752.2h0M70.2 754.1h0" stroke="#c1c0df" stroke-width="1.0" stroke-linecap="round"/>
<path d="M61.2 727.2h0M44.5 724.4h0M106.9 727.5h0M77.6 724.7h0M108.5 736.5h0M106.2 732.5h0M45.9 736.8h0M38.1 730.2h0M36.6 729.6h0M76.4 731.1h0M29.6 731.8h0M81.6 737.8h0M69.0 733.7h0M74.0 723.8h0M72.1 736.4h0M86.5 730.8h0M62.0 733.9h0M108.3 726.3h0M72.8 725.5h0M39.6 737.1h0M67.1 750.4h0M71.1 748.8h0M52.0 747.0h0M43.8 752.7h0M89.9 749.1h0M48.6 755.7h0M102.6 745.6h0M79.3 755.2h0M60.7 747.1h0M61.6 741.1h0M95.0 749.5h0M61.4 753.7h0M77.1 750.3h0M73.7 746.2h0M59.5 747.0h0M87.4 749.9h0M49.5 754.3h0M41.8 747.9h0M92.6 744.2h0M91.7 744.4h0M102.4 752.8h0M99.0 750.0h0" stroke="#d6d5ea" stroke-width="1.5" stroke-linecap="round"/>
<path d="M36.9 732.2h0M72.8 728.6h0M42.3 723.9h0M95.1 738.0h0M58.4 756.1h0M105.5 741.6h0M88.6 745.9h0M90.7 746.7h0" stroke="#d0cfe7" stroke-width="2.0" stroke-linecap="round"/>
<path d="M103.9 730.2h0M94.6 736.6h0M38.4 728.2h0M69.4 733.6h0M108.4 752.1h0M49.1 752.8h0M82.3 747.7h0M41.9 750.6h0" stroke="#d0cfe7" stroke-width="1.0" stroke-linecap="round"/>
<path d="M92.3 731.8h0M86.2 731.6h0M46.8 731.1h0M57.1 730.4h0M86.7 723.7h0M55.6 725.8h0M70.7 732.0h0M72.9 724.7h0M92.1 724.9h0M86.8 723.5h0M95.1 730.1h0M79.2 740.8h0M46.6 753.3h0M86.9 747.5h0M77.2 748.6h0M44.7 754.7h0M38.4 750.9h0M39.1 740.9h0M80.8 749.3h0M60.8 751.9h0M99.8 750.1h0M81.2 746.8h0M116.1 752.5h0M58.5 754.4h0M75.6 758.5h0M88.0 754.4h0M53.8 747.2h0M40.2 746.6h0" stroke="#c1c0df" stroke-width="1.5" stroke-linecap="round"/>
<path d="M31.9 737.1h0M101.2 733.8h0M72.8 721.9h0M71.9 752.2h0M44.3 755.1h0M109.2 750.0h0M41.9 750.3h0M113.9 748.4h0M80.5 754.7h0" stroke="#c1c0df" stroke-width="2.0" stroke-linecap="round"/>
<path d="M79.9 728.6h0M66.7 726.9h0M64.6 722.7h0M70.0 734.4h0M51.2 746.4h0M45.7 750.4h0M87.9 749.5h0" stroke="#d6d5ea" stroke-width="2.0" stroke-linecap="round"/>
<path d="M41.4 727.9h0M29.0 725.7h0M62.5 735.9h0M65.0 729.4h0M88.4 746.9h0M47.6 752.2h0M70.9 742.2h0M46.0 743.8h0M58.0 751.8h0M113.2 748.2h0" stroke="#c8c7e2" stroke-width="1.0" stroke-linecap="round"/>
<path d="M61.8 727.5h0M32.9 724.8h0M120.3 750.5h0M43.0 752.9h0M82.0 748.6h0M51.0 748.0h0M89.0 744.0h0" stroke="#d6d5ea" stroke-width="1.0" stroke-linecap="round"/>
<path d="M37.8,731.03 L70,742.8 L102.2,738.1" fill="none" stroke="#e6ded2" stroke-width="1" stroke-linecap="round" filter="url(#bl4)"/>
<path d="M42.2 748.5h0M118.6 752.0h0M56.5 721.1h0M55.7 750.7h0M38.2 739.6h0M35.7 738.1h0M38.6 728.2h0M100.4 758.8h0M76.7 725.7h0M115.7 759.1h0M98.8 736.9h0" stroke="#b58f6c" stroke-width="1.0" stroke-linecap="round"/>
<path d="M75.2 728.8h0M100.3 720.2h0M65.2 733.0h0M86.5 758.5h0M61.2 741.8h0M32.0 761.0h0M35.3 742.5h0M44.7 742.3h0M74.7 731.0h0" stroke="#a57a56" stroke-width="1.0" stroke-linecap="round"/>
<path d="M29.6 718.8h0M57.4 751.2h0M116.0 742.0h0M66.1 759.5h0M30.9 726.2h0M115.0 733.7h0M65.3 735.2h0M103.9 730.3h0M103.7 729.8h0M53.3 755.6h0" stroke="#946848" stroke-width="1.0" stroke-linecap="round"/>
<path d="M45.7 736.1h0M53.2 751.6h0M51.5 719.5h0M65.2 727.1h0M114.5 739.2h0M54.5 741.8h0M99.4 727.2h0M30.4 754.8h0M64.0 725.4h0M107.1 740.6h0M85.9 758.1h0M84.7 743.2h0M38.4 735.2h0M54.6 740.4h0" stroke="#86593a" stroke-width="1.0" stroke-linecap="round"/>
<path d="M117.5 718.9h0M63.9 754.8h0" stroke="#86593a" stroke-width="1.5" stroke-linecap="round"/>
<path d="M96.7 733.2h0" stroke="#b58f6c" stroke-width="1.5" stroke-linecap="round"/>
<path d="M44.0 757.2h0" stroke="#a57a56" stroke-width="1.5" stroke-linecap="round"/>
<path d="M82.0 722.3h0M97.8 731.8h0M118.4 737.4h0M82.4 737.8h0M84.3 740.9h0M86.6 742.6h0M116.1 746.0h0M111.3 760.4h0M49.4 736.6h0M104.5 746.6h0M65.3 757.0h0M65.2 760.1h0M108.6 726.8h0M42.0 742.7h0M43.9 756.0h0M112.6 732.2h0M43.8 719.4h0M38.7 760.7h0M51.1 748.7h0M41.4 755.7h0M35.1 762.6h0M50.7 719.6h0M33.8 729.8h0M41.7 739.7h0" stroke="#ddd0bf" stroke-width="1.0" stroke-linecap="round"/>
<path d="M105.1 752.1h0M31.3 761.2h0M32.3 749.8h0M119.5 748.1h0M119.9 717.6h0M79.2 732.2h0M72.2 735.7h0M101.9 720.7h0M69.4 741.3h0M78.7 723.1h0M70.8 737.3h0M110.1 749.5h0M94.0 747.6h0M97.2 761.4h0M65.6 728.1h0M109.0 744.1h0M90.4 758.9h0M110.8 732.5h0M39.4 755.1h0M42.3 752.8h0M59.3 722.3h0M65.1 724.2h0M53.1 735.8h0M48.2 747.1h0M78.3 723.2h0M108.5 763.3h0M37.7 740.0h0M55.9 742.5h0M32.1 737.4h0M114.8 719.0h0M90.8 724.0h0M47.1 759.9h0M91.3 738.6h0M91.0 722.8h0M83.3 746.8h0M89.3 717.8h0M42.2 732.5h0M113.6 752.3h0M62.3 744.6h0M118.4 746.4h0M50.0 741.7h0M87.0 760.1h0M113.5 757.7h0M37.5 730.8h0M95.5 732.7h0M32.4 729.8h0M113.4 753.6h0M29.6 729.1h0" stroke="#ddd0bf" stroke-width="0.5" stroke-linecap="round"/>
<path d="M70.6 755.9h0M62.5 758.3h0M44.2 760.4h0M70.3 742.4h0M110.3 735.0h0M45.6 748.6h0M85.5 745.0h0M59.6 748.2h0M63.6 759.9h0M112.1 743.9h0M74.9 724.9h0M46.2 729.4h0M40.4 728.2h0M36.9 759.4h0M53.0 747.5h0M113.7 737.6h0M71.8 758.3h0M108.6 719.6h0M33.2 719.1h0M38.2 726.6h0M109.5 752.3h0M82.2 757.1h0M56.5 721.9h0M78.9 735.7h0M52.6 749.4h0M106.7 718.0h0M78.6 730.9h0M79.7 739.5h0M112.9 726.3h0M110.4 732.5h0M62.2 735.8h0M46.6 751.3h0M79.0 737.7h0M99.3 727.8h0M76.9 745.7h0M108.4 724.8h0M102.6 756.4h0M77.9 720.7h0M91.7 735.8h0M62.7 744.5h0M59.0 737.6h0M108.2 751.3h0M81.8 721.6h0" stroke="#d3bfa8" stroke-width="0.5" stroke-linecap="round"/>
<path d="M54.9 759.8h0M92.1 723.0h0M105.8 743.5h0M64.2 755.0h0M43.1 740.7h0M82.2 758.1h0M100.3 733.4h0M103.7 748.5h0M61.0 733.8h0M39.9 724.2h0M67.6 733.0h0M47.8 720.8h0M53.6 724.1h0M71.3 751.9h0M106.6 730.1h0M110.9 744.0h0M97.7 756.5h0M47.4 734.3h0M33.4 751.0h0M65.2 729.0h0M65.8 758.7h0M92.0 734.5h0M55.0 729.5h0M73.2 758.3h0M68.6 720.4h0M52.2 763.5h0M110.0 725.5h0M58.7 751.1h0M71.3 756.0h0M88.8 729.1h0M54.7 724.2h0M95.7 760.7h0M74.8 748.3h0M109.9 760.0h0M73.8 747.3h0M77.9 742.8h0M38.9 723.4h0M56.7 724.1h0M115.1 756.8h0M71.7 748.1h0M67.5 738.2h0M106.0 726.7h0M98.3 748.6h0" stroke="#bfa386" stroke-width="0.5" stroke-linecap="round"/>
<path d="M119.7 759.8h0M88.8 727.8h0M111.8 738.2h0M84.4 730.3h0M81.1 730.7h0M98.6 732.9h0M91.0 733.8h0M82.2 728.4h0M64.6 734.6h0M117.2 744.4h0M119.3 754.1h0M113.5 719.5h0M37.5 754.8h0M92.9 725.5h0M43.7 758.1h0M37.1 759.2h0M75.0 724.3h0M57.2 731.7h0M71.0 742.4h0M50.5 722.4h0M43.6 729.9h0M68.0 724.9h0M79.7 741.6h0M82.9 729.2h0M112.0 758.6h0M90.0 730.7h0M54.1 743.6h0M69.2 757.8h0M65.5 757.1h0M89.6 747.7h0M106.2 741.9h0" stroke="#c8b198" stroke-width="1.0" stroke-linecap="round"/>
<path d="M71.0 742.8h0M51.9 751.6h0M90.4 760.7h0M91.5 720.2h0M81.3 737.2h0M49.5 734.5h0M114.8 749.5h0M117.1 728.2h0M75.0 759.6h0M111.2 742.7h0M52.5 743.9h0M115.1 754.9h0M101.5 736.5h0M90.9 759.2h0M81.0 752.8h0M32.1 733.2h0M99.0 741.3h0M29.6 748.5h0M78.5 750.7h0M31.4 729.0h0M102.7 762.7h0M95.1 762.1h0M100.2 725.7h0M34.6 751.7h0M74.2 743.8h0M94.6 752.4h0M54.2 752.5h0M97.4 747.0h0M60.3 750.7h0M94.4 749.5h0M87.8 752.2h0M58.4 758.8h0M103.7 734.9h0M87.5 762.2h0M84.4 721.8h0M81.1 718.1h0" stroke="#bfa386" stroke-width="1.0" stroke-linecap="round"/>
<path d="M110.0 751.2h0M82.2 753.0h0M39.8 752.5h0M54.1 743.2h0M96.0 760.6h0M84.8 718.9h0M58.4 733.1h0M46.9 754.0h0M36.8 749.9h0M62.6 726.6h0M110.2 717.7h0M58.9 723.4h0M105.7 742.3h0M68.4 721.1h0M99.1 721.0h0M72.3 725.6h0M51.9 727.2h0M44.0 755.9h0M48.2 753.1h0M32.0 752.2h0M75.0 756.8h0M45.1 749.9h0M91.2 744.7h0M105.4 749.9h0M88.7 734.2h0M36.5 758.1h0M84.3 741.5h0" stroke="#d3bfa8" stroke-width="1.0" stroke-linecap="round"/>
<path d="M111.2 725.5h0M49.7 730.3h0M73.5 759.5h0M104.4 748.2h0M93.1 728.6h0M97.9 720.7h0M52.1 759.8h0M115.2 759.6h0M117.1 727.5h0M50.4 746.0h0M77.4 746.3h0M99.1 752.8h0M97.0 735.1h0M48.0 750.9h0M89.6 747.1h0M81.2 745.7h0M94.2 760.1h0M30.2 743.5h0M97.8 733.1h0M101.2 732.4h0M64.7 741.5h0M91.8 719.4h0M110.2 741.7h0M65.2 733.1h0M99.3 730.7h0M35.4 745.8h0M80.1 750.4h0M79.3 739.0h0M35.7 722.7h0M37.7 719.9h0M74.8 719.1h0M61.6 755.6h0M36.4 760.2h0M75.7 739.7h0M70.3 740.1h0M48.6 750.6h0M44.6 720.1h0M42.6 743.5h0M34.8 757.5h0M100.6 736.4h0M75.9 726.5h0M73.2 739.6h0M94.7 719.9h0M48.2 730.5h0M67.0 762.9h0M38.3 750.2h0M40.2 733.2h0M68.3 754.9h0M42.9 718.6h0M85.7 751.6h0M43.4 727.5h0M103.6 750.0h0M119.3 721.9h0M94.0 739.2h0" stroke="#c8b198" stroke-width="0.5" stroke-linecap="round"/>
</g>
<clipPath id="tc12"><rect x="122.2" y="716.9" width="91.8" height="47.1"/></clipPath>
<g clip-path="url(#tc12)">
<rect x="122.2" y="716.9" width="91.8" height="47.1" fill="#ebe6df"/>
<path d="M122.2,730.09 L158.92,727.26 L204.82,731.03" fill="none" stroke="#dad8e7" stroke-opacity="1" stroke-width="15.07" stroke-linecap="round" stroke-linejoin="round" filter="url(#bl3)"/>
<path d="M131.38,752.23 L168.1,749.87 L214,749.87" fill="none" stroke="#dad8e7" stroke-opacity="1" stroke-width="16.96" stroke-linecap="round" stroke-linejoin="round" filter="url(#bl3)"/>
<path d="M187.3 731.2h0M151.2 727.6h0M161.6 726.4h0M143.4 726.1h0M203.0 724.9h0M160.8 725.2h0M203.2 730.0h0M124.8 729.5h0M197.2 737.5h0M189.8 738.7h0M125.4 719.9h0M194.2 731.0h0M175.9 728.8h0M180.1 724.7h0M151.7 722.1h0M188.6 750.1h0M154.6 750.2h0M196.4 748.5h0M166.6 751.7h0M197.3 749.9h0M185.9 753.9h0M195.7 741.6h0M160.5 753.3h0M158.4 759.9h0M151.2 754.9h0M189.7 750.1h0M185.8 749.4h0M211.4 751.1h0M199.4 747.9h0M137.5 750.3h0M172.7 747.0h0M147.5 738.5h0M213.2 749.0h0M164.3 751.1h0M156.4 753.8h0M146.9 753.0h0M175.2 751.4h0M210.5 744.8h0" stroke="#c8c7e2" stroke-width="1.5" stroke-linecap="round"/>
<path d="M179.4 726.4h0M181.4 731.2h0M142.6 729.1h0M184.1 725.4h0M126.3 728.9h0M182.3 730.4h0M145.6 725.6h0M166.6 727.9h0M164.4 725.0h0M175.0 735.5h0M164.3 727.2h0M139.3 721.3h0M140.4 720.9h0M171.3 735.4h0M159.3 722.8h0M154.9 754.0h0M168.4 755.2h0M155.7 754.5h0M157.9 746.2h0M137.4 750.3h0M167.4 761.0h0M197.1 755.5h0M192.5 752.2h0M152.5 751.1h0M187.4 748.6h0M158.5 756.5h0M211.3 754.2h0M208.8 749.5h0M139.9 756.1h0M210.4 742.1h0M210.8 752.8h0M136.3 750.5h0M148.6 739.2h0" stroke="#d6d5ea" stroke-width="1.5" stroke-linecap="round"/>
<path d="M199.0 732.0h0M185.2 728.1h0M123.5 733.5h0M181.0 727.6h0M175.7 723.6h0M139.5 731.1h0M186.6 725.6h0M200.1 731.6h0M148.2 737.7h0M122.4 726.8h0M191.2 729.0h0M161.3 741.7h0M145.3 757.2h0M200.8 744.4h0M204.2 749.5h0M208.2 752.7h0M156.2 751.7h0M165.0 749.5h0M135.2 752.0h0M204.7 756.1h0M150.2 751.0h0M177.0 748.0h0M175.7 754.8h0M205.3 749.3h0M182.3 748.3h0M199.4 751.7h0M136.9 745.3h0M141.0 749.0h0" stroke="#c1c0df" stroke-width="1.5" stroke-linecap="round"/>
<path d="M189.3 728.9h0M177.0 724.8h0M168.8 729.0h0M204.1 719.6h0M184.7 721.5h0M153.0 728.1h0M182.9 745.1h0M139.8 750.6h0M178.4 743.7h0M197.6 751.2h0" stroke="#d0cfe7" stroke-width="2.0" stroke-linecap="round"/>
<path d="M197.8 730.3h0M153.0 736.8h0M159.9 724.3h0M178.9 731.7h0M192.9 731.6h0M148.2 733.0h0M146.8 731.3h0M184.3 733.8h0M178.9 727.7h0M162.1 723.1h0M174.8 731.4h0M136.5 734.8h0M199.8 737.3h0M154.7 724.2h0M137.6 717.5h0M195.7 725.3h0M165.7 734.5h0M172.1 735.0h0M171.6 728.1h0M213.4 754.7h0M185.5 744.8h0M209.4 746.8h0M187.3 747.8h0M185.6 748.8h0M210.1 760.2h0M178.2 745.6h0M172.0 751.7h0M139.3 754.0h0M176.3 754.0h0M165.6 746.6h0M199.0 744.0h0M179.6 747.6h0M206.2 751.1h0M138.4 746.9h0M181.2 745.1h0M186.8 755.6h0" stroke="#d0cfe7" stroke-width="1.5" stroke-linecap="round"/>
<path d="M125.9 724.6h0M195.7 727.4h0M137.5 732.8h0M186.6 730.7h0M202.8 737.5h0M176.7 734.7h0M187.2 728.9h0M169.9 728.3h0M195.6 730.0h0M151.2 745.0h0M173.7 747.9h0M209.9 755.5h0M187.4 761.3h0M213.0 749.6h0M136.8 746.6h0" stroke="#c1c0df" stroke-width="1.0" stroke-linecap="round"/>
<path d="M122.4 725.1h0M140.2 721.6h0M189.5 726.1h0M203.3 731.9h0M126.2 728.9h0M159.1 725.2h0M191.4 725.0h0M198.0 748.0h0M209.1 750.1h0M171.6 748.3h0M157.0 741.7h0M168.7 752.7h0M207.1 748.5h0" stroke="#c8c7e2" stroke-width="1.0" stroke-linecap="round"/>
<path d="M190.8 731.7h0M172.6 728.6h0M166.9 725.7h0M164.4 725.2h0M171.4 735.8h0M204.0 732.0h0M210.6 745.1h0M136.5 741.8h0M152.1 750.1h0M153.4 750.5h0M211.5 745.3h0" stroke="#d6d5ea" stroke-width="2.0" stroke-linecap="round"/>
<path d="M138.2 730.2h0M143.8 730.4h0M158.6 726.9h0M133.4 730.3h0M169.5 726.4h0M160.0 751.3h0M201.0 752.7h0M210.3 749.5h0M131.5 754.0h0M177.6 751.6h0" stroke="#d6d5ea" stroke-width="1.0" stroke-linecap="round"/>
<path d="M195.1 723.6h0M173.3 727.9h0M189.7 732.7h0M140.5 752.5h0M196.7 754.2h0M135.3 756.6h0" stroke="#d0cfe7" stroke-width="1.0" stroke-linecap="round"/>
<path d="M152.7 725.3h0M184.7 722.0h0M144.7 727.3h0M123.3 730.6h0M143.5 725.4h0M196.9 739.8h0M178.6 740.2h0M201.0 747.0h0M210.7 754.0h0M140.6 744.3h0M133.3 749.5h0M203.0 741.2h0M209.4 747.8h0" stroke="#c1c0df" stroke-width="2.0" stroke-linecap="round"/>
<path d="M195.2 729.7h0M144.4 725.4h0M131.7 754.6h0M205.9 748.2h0M144.7 739.6h0M181.8 753.0h0M141.0 749.6h0M196.8 746.1h0M209.6 748.8h0" stroke="#c8c7e2" stroke-width="2.0" stroke-linecap="round"/>
<path d="M126.79,735.74 L158.92,742.8 L204.82,738.1" fill="none" stroke="#f1ede8" stroke-width="1.4" stroke-linecap="round" filter="url(#bl4)"/>
<path d="M166.6 751.7h0M184.6 743.8h0M141.4 735.6h0M127.2 733.5h0M149.3 760.1h0M143.4 762.1h0M204.9 753.4h0M155.1 732.4h0M203.6 721.3h0M194.4 744.0h0M165.8 742.4h0M188.5 752.4h0" stroke="#946848" stroke-width="1.0" stroke-linecap="round"/>
<path d="M133.2 736.0h0M126.0 749.6h0M174.4 760.4h0M135.3 747.2h0M190.8 752.2h0M185.9 727.4h0M179.0 744.3h0M202.3 745.9h0M138.8 728.3h0M171.3 742.1h0M144.8 733.1h0M212.5 720.5h0" stroke="#a57a56" stroke-width="1.0" stroke-linecap="round"/>
<path d="M137.1 749.8h0M175.9 732.7h0M198.9 762.4h0M142.9 725.3h0M172.2 740.1h0M175.1 737.5h0M179.0 750.0h0M208.1 718.8h0M166.4 717.7h0M154.0 721.2h0" stroke="#86593a" stroke-width="1.0" stroke-linecap="round"/>
<path d="M192.8 742.0h0M130.8 750.4h0M146.5 719.2h0M166.5 763.4h0M188.1 756.3h0M128.3 745.6h0M132.3 725.8h0M190.8 751.1h0M168.3 741.3h0M213.0 723.5h0" stroke="#b58f6c" stroke-width="1.0" stroke-linecap="round"/>
<path d="M177.1 735.8h0" stroke="#b58f6c" stroke-width="1.5" stroke-linecap="round"/>
<path d="M169.6 724.1h0" stroke="#a57a56" stroke-width="1.5" stroke-linecap="round"/>
<path d="M128.7 730.3h0" stroke="#946848" stroke-width="1.5" stroke-linecap="round"/>
<path d="M161.5 727.8h0" stroke="#86593a" stroke-width="1.5" stroke-linecap="round"/>
<path d="M129.5 752.1h0M158.9 719.6h0M179.3 726.6h0M178.7 728.2h0M211.6 717.8h0M185.8 762.3h0M199.1 731.8h0M140.2 736.1h0M168.9 744.1h0M125.4 736.3h0M206.9 719.7h0M148.1 740.0h0M154.0 733.0h0M211.6 763.0h0M140.8 720.7h0M184.0 747.3h0M137.9 753.2h0M190.3 744.5h0M179.2 757.5h0M176.7 718.8h0M143.2 717.6h0M212.0 735.0h0M178.2 756.5h0M143.3 719.2h0M199.4 723.9h0M188.7 741.9h0M178.4 760.8h0M179.2 755.5h0M170.4 724.3h0M189.9 746.9h0M127.0 752.8h0M139.5 744.0h0M132.7 762.7h0M156.9 726.8h0M186.5 726.8h0M200.4 737.3h0M145.4 753.3h0M181.4 721.7h0M129.4 755.7h0M160.9 754.7h0M169.6 722.0h0M133.4 759.6h0M145.0 744.5h0" stroke="#ddd0bf" stroke-width="0.5" stroke-linecap="round"/>
<path d="M165.6 761.4h0M192.1 758.1h0M144.8 741.1h0M150.5 732.3h0M207.1 736.5h0M174.0 759.2h0M141.1 753.6h0M154.3 749.4h0M137.9 740.4h0M138.5 736.7h0M166.9 725.8h0M208.5 754.1h0M202.4 758.0h0M129.2 739.7h0M185.0 731.9h0M176.3 738.4h0M181.8 736.2h0M207.1 740.3h0M199.1 732.3h0M172.0 725.9h0M205.8 718.2h0M190.5 763.2h0M197.7 762.4h0M175.4 727.8h0M186.7 758.7h0M159.7 740.0h0M169.4 738.7h0M151.3 737.3h0M197.9 743.1h0M178.9 723.6h0M208.2 742.9h0M206.8 729.4h0M168.7 762.1h0M213.3 732.2h0M193.0 726.5h0M193.6 737.6h0M194.1 728.7h0M148.2 737.5h0M185.3 742.6h0M133.0 733.6h0M167.7 733.5h0M152.0 751.1h0M182.8 736.0h0M210.3 717.9h0M195.0 755.3h0M130.4 755.2h0M202.6 731.2h0M160.2 717.9h0M125.6 724.7h0" stroke="#c8b198" stroke-width="0.5" stroke-linecap="round"/>
<path d="M186.8 754.1h0M148.5 749.9h0M206.5 725.2h0M195.6 762.7h0M169.3 731.4h0M124.6 726.9h0M137.3 760.1h0M194.4 758.7h0M163.4 750.2h0M175.2 732.3h0M149.5 742.5h0M145.2 749.6h0M179.3 755.8h0M153.5 718.6h0M201.3 749.7h0M211.6 734.1h0M188.7 733.0h0M162.2 756.2h0M207.8 755.0h0M166.3 752.2h0M163.9 728.9h0M137.7 722.8h0M133.4 726.1h0M128.9 755.3h0M197.1 752.5h0M136.5 762.7h0M149.0 762.8h0M167.1 720.8h0M154.5 742.4h0M183.2 755.2h0M157.7 760.4h0M163.1 740.7h0M137.3 743.5h0M143.1 762.9h0M123.1 740.0h0M186.3 761.1h0M180.6 747.2h0M178.0 731.0h0M174.7 723.1h0M203.9 760.6h0M178.3 722.9h0M193.2 719.9h0M187.9 763.2h0M187.7 744.4h0M205.7 757.0h0M181.0 754.3h0M178.1 744.1h0M202.0 745.0h0M180.3 740.8h0M205.3 737.1h0M213.4 741.2h0M137.6 740.2h0M192.6 719.2h0" stroke="#d3bfa8" stroke-width="0.5" stroke-linecap="round"/>
<path d="M171.3 741.2h0M174.4 739.1h0M183.0 760.2h0M179.2 750.8h0M182.7 749.7h0M166.0 722.0h0M182.3 745.1h0M128.5 723.2h0M167.6 756.7h0M200.4 741.3h0M198.2 723.4h0M206.1 746.2h0M141.9 720.7h0M203.9 723.0h0M187.4 745.3h0M123.3 748.3h0M186.9 729.1h0M205.7 758.2h0M183.6 755.3h0M208.4 758.3h0M147.8 740.0h0M183.9 753.7h0M155.0 732.0h0M130.6 747.7h0M127.6 741.9h0M123.5 739.7h0M171.1 726.7h0M130.8 726.2h0M123.6 735.8h0M206.3 733.2h0M194.2 753.8h0M193.7 751.1h0" stroke="#ddd0bf" stroke-width="1.0" stroke-linecap="round"/>
<path d="M185.7 757.1h0M140.1 720.6h0M183.2 724.5h0M202.5 729.7h0M154.0 749.7h0M166.0 749.7h0M174.0 744.8h0M212.6 736.1h0M168.6 740.9h0M204.3 742.8h0M133.5 748.1h0M144.7 756.9h0M197.2 739.4h0M131.2 746.1h0M172.0 762.2h0M203.0 753.7h0M127.6 752.0h0M166.2 762.4h0M187.1 738.8h0M209.9 738.0h0M137.3 718.0h0M142.2 731.5h0M161.3 719.6h0M164.4 762.9h0M174.9 748.0h0M131.7 746.1h0M173.6 740.0h0M211.4 730.0h0M204.4 736.5h0M160.1 761.6h0M171.1 763.2h0M183.5 734.0h0M207.7 745.4h0M211.2 735.4h0M157.2 722.4h0M187.1 749.0h0M199.1 732.4h0M149.8 721.0h0M135.3 749.2h0M184.8 752.9h0M152.6 736.4h0M206.6 757.5h0M138.0 758.6h0M210.8 755.2h0M157.9 745.7h0M204.4 726.1h0M177.1 734.0h0M147.7 758.5h0M199.5 719.9h0M142.0 755.1h0" stroke="#bfa386" stroke-width="0.5" stroke-linecap="round"/>
<path d="M152.9 747.3h0M140.9 742.3h0M171.1 732.5h0M204.5 718.6h0M192.2 762.2h0M183.2 732.6h0M145.1 726.7h0M168.6 720.2h0M177.5 755.9h0M202.4 724.0h0M201.3 753.9h0M152.3 729.1h0M164.4 737.6h0M175.5 735.5h0M161.4 737.5h0M182.0 723.4h0M180.6 743.3h0M148.8 719.5h0M181.2 740.9h0M133.5 734.9h0M133.8 726.5h0M212.4 753.1h0M167.8 726.9h0M146.6 724.4h0M202.8 749.3h0M202.9 723.8h0M163.8 761.8h0M124.3 742.5h0" stroke="#bfa386" stroke-width="1.0" stroke-linecap="round"/>
<path d="M168.9 718.1h0M180.3 749.5h0M200.6 739.0h0M145.4 736.8h0M212.1 727.0h0M167.2 754.2h0M180.3 729.9h0M165.1 731.6h0M185.0 722.7h0M126.6 718.9h0M140.7 738.6h0M158.9 729.5h0M198.3 727.2h0M166.7 743.5h0M188.0 756.8h0M128.4 748.7h0M194.9 748.3h0M182.1 741.5h0M196.3 738.9h0M152.6 753.7h0M163.4 718.3h0M141.0 725.8h0M206.9 745.1h0M129.7 736.9h0M128.2 761.9h0M196.3 737.4h0M145.1 746.1h0M177.8 743.6h0M174.6 725.3h0M181.3 745.4h0M191.6 739.8h0M151.9 743.3h0M154.4 727.6h0M139.8 738.6h0" stroke="#d3bfa8" stroke-width="1.0" stroke-linecap="round"/>
<path d="M157.8 749.3h0M207.5 723.4h0M196.0 730.3h0M194.0 718.3h0M206.3 724.5h0M188.8 752.7h0M210.2 745.5h0M150.3 737.2h0M140.4 761.0h0M201.9 734.9h0M128.2 760.2h0M124.8 717.6h0M165.0 723.9h0M152.2 740.3h0M185.7 722.1h0M164.7 730.2h0M136.8 744.6h0" stroke="#c8b198" stroke-width="1.0" stroke-linecap="round"/>
</g>
<clipPath id="tc22"><rect x="221.5" y="716.9" width="92.5" height="47.1"/></clipPath>
<g clip-path="url(#tc22)">
<rect x="221.5" y="716.9" width="92.5" height="47.1" fill="#eeedea"/>
<path d="M232.6,720.67 L258.5,727.26 L314,728.67" fill="none" stroke="#d8d7e9" stroke-opacity="1" stroke-width="16.96" stroke-linecap="round" stroke-linejoin="round" filter="url(#bl3)"/>
<path d="M221.5,752.7 L267.75,752.7 L314,749.87" fill="none" stroke="#d7d6e9" stroke-opacity="1" stroke-width="19.78" stroke-linecap="round" stroke-linejoin="round" filter="url(#bl3)"/>
<path d="M276.2 728.4h0M308.5 737.4h0M248.7 738.4h0M301.8 736.1h0M306.2 721.1h0M273.7 722.9h0M258.3 727.9h0M258.6 729.2h0M241.1 717.8h0M270.6 732.0h0M242.1 722.6h0M309.5 733.5h0M244.2 720.8h0M243.1 752.4h0M291.0 742.8h0M277.9 755.4h0M278.8 755.8h0M222.8 748.9h0M264.5 748.4h0M229.9 757.3h0M280.7 759.4h0M267.5 747.2h0M262.9 749.1h0M288.0 750.9h0M234.8 752.5h0M267.1 752.0h0M290.7 751.0h0M259.6 759.2h0M283.6 756.0h0M239.8 758.7h0M298.6 741.7h0M231.1 752.1h0M232.7 749.6h0" stroke="#d0cfe7" stroke-width="1.5" stroke-linecap="round"/>
<path d="M235.5 722.2h0M246.7 721.6h0M296.9 731.4h0M304.1 717.4h0M257.9 727.3h0M291.1 727.4h0M296.3 731.1h0M302.9 726.8h0M295.6 727.7h0M240.1 728.4h0M235.8 727.6h0M265.1 727.4h0M274.1 733.8h0M308.7 727.5h0M289.4 731.4h0M285.7 730.0h0M274.9 731.7h0M306.2 732.0h0M266.2 735.0h0M301.1 724.3h0M307.5 728.3h0M311.9 724.2h0M258.8 725.8h0M240.3 730.3h0M264.2 754.0h0M302.4 755.5h0M267.1 756.1h0M270.1 752.8h0M260.7 753.3h0M282.5 748.1h0M228.8 749.1h0M264.7 757.7h0M286.1 752.5h0M248.2 745.2h0M277.2 758.9h0M229.3 742.5h0M293.3 750.7h0M238.4 755.3h0M255.5 751.6h0M292.9 751.9h0M224.4 745.9h0M243.5 760.7h0M278.6 761.2h0M244.1 743.1h0M252.8 759.5h0M298.8 746.0h0M285.9 752.4h0M234.5 756.2h0M265.5 753.3h0M237.5 754.9h0M304.6 749.3h0M279.0 752.9h0" stroke="#d6d5ea" stroke-width="1.5" stroke-linecap="round"/>
<path d="M276.5 723.3h0M272.6 725.2h0M296.3 724.9h0M243.3 727.9h0M243.5 725.6h0M276.2 729.4h0M283.9 728.7h0M238.7 728.2h0M264.1 726.4h0M287.3 724.3h0M248.2 724.9h0M295.7 732.5h0M255.0 720.2h0M253.5 726.6h0M240.9 724.7h0M253.9 736.1h0M253.6 722.3h0M261.0 731.5h0M247.7 728.1h0M299.0 723.2h0M236.9 718.0h0M285.7 720.6h0M233.2 754.3h0M312.2 753.6h0M275.3 754.3h0M265.4 756.3h0M228.9 761.9h0M313.9 751.8h0M236.3 762.3h0M249.3 748.7h0M303.3 762.9h0M256.3 741.8h0M238.3 748.8h0M283.6 749.6h0M228.5 754.3h0M285.0 745.1h0M272.9 749.8h0M279.7 753.7h0M247.3 753.6h0M309.3 761.2h0M300.4 758.8h0M288.7 738.3h0M270.0 757.0h0M224.8 745.0h0" stroke="#c1c0df" stroke-width="1.5" stroke-linecap="round"/>
<path d="M298.4 731.3h0M299.2 734.7h0M252.3 722.8h0M275.1 724.0h0M290.9 726.1h0M287.2 726.8h0M284.3 728.3h0M261.7 754.3h0M278.4 746.7h0M311.1 751.7h0M281.2 741.9h0M256.2 755.7h0M272.9 752.2h0M259.7 759.7h0M277.1 752.3h0" stroke="#c1c0df" stroke-width="2.0" stroke-linecap="round"/>
<path d="M266.7 722.2h0M280.2 733.5h0M262.8 726.4h0M239.6 726.6h0M230.7 742.1h0M282.0 751.4h0M277.7 754.4h0M245.2 746.4h0" stroke="#c8c7e2" stroke-width="2.0" stroke-linecap="round"/>
<path d="M285.9 724.7h0M296.8 730.7h0M234.2 729.8h0M309.4 735.2h0M269.6 741.5h0M253.3 750.3h0M248.8 758.9h0M221.6 746.5h0M293.0 749.1h0M294.6 744.6h0" stroke="#c1c0df" stroke-width="1.0" stroke-linecap="round"/>
<path d="M278.7 727.6h0M244.7 730.2h0M301.8 726.4h0M260.3 740.2h0M249.6 723.0h0M236.2 754.8h0M263.4 748.1h0M306.4 753.9h0M229.3 736.8h0M302.9 755.4h0M295.6 751.4h0M293.2 750.0h0M292.8 756.5h0" stroke="#d6d5ea" stroke-width="1.0" stroke-linecap="round"/>
<path d="M230.9 728.1h0M307.5 728.6h0M303.5 724.6h0M300.7 731.3h0M256.5 727.4h0M233.5 721.7h0M306.0 734.0h0M300.2 734.4h0M239.7 721.4h0M274.1 731.0h0M283.2 755.3h0M274.7 758.0h0M252.2 751.3h0M235.6 749.9h0M245.2 759.2h0" stroke="#d0cfe7" stroke-width="1.0" stroke-linecap="round"/>
<path d="M250.5 737.6h0M304.6 724.7h0M294.9 735.3h0M289.4 725.0h0M236.3 722.1h0M274.0 733.7h0M249.1 723.3h0M283.1 731.1h0M259.7 725.9h0M273.0 736.1h0M236.6 721.8h0M284.2 734.9h0M304.7 727.5h0M236.2 719.4h0M278.5 742.1h0M232.3 753.1h0M250.7 750.4h0M256.8 756.4h0M255.7 748.4h0M231.6 746.9h0M311.0 758.3h0M313.8 750.4h0M262.9 757.0h0M298.1 754.2h0M288.1 749.2h0M271.8 751.5h0M221.9 748.7h0M232.8 744.9h0M227.7 749.8h0M264.4 761.3h0M280.8 748.7h0M309.6 745.0h0M228.9 761.6h0M301.3 738.6h0M310.3 752.9h0M288.0 747.3h0M282.2 755.7h0M232.4 753.2h0M303.6 750.5h0M247.0 758.3h0M262.3 759.0h0M279.4 752.9h0" stroke="#c8c7e2" stroke-width="1.5" stroke-linecap="round"/>
<path d="M244.4 732.0h0M309.5 729.3h0M302.2 722.5h0M257.9 729.2h0M268.9 756.2h0M287.0 749.0h0M244.7 747.9h0M279.2 746.0h0M279.4 749.2h0" stroke="#c8c7e2" stroke-width="1.0" stroke-linecap="round"/>
<path d="M285.1 727.4h0M276.2 727.7h0M230.3 731.8h0M228.5 750.4h0M304.2 745.6h0M232.9 753.6h0M269.2 758.9h0M263.7 742.7h0M284.1 747.9h0M246.0 741.8h0M284.7 752.0h0M254.1 749.5h0" stroke="#d0cfe7" stroke-width="2.0" stroke-linecap="round"/>
<path d="M248.8 716.9h0M273.8 725.4h0M243.3 725.2h0M253.5 729.2h0M305.2 755.8h0M289.5 749.9h0M244.0 755.6h0M262.1 751.5h0M265.2 756.4h0M238.7 756.5h0M256.3 760.5h0M257.9 754.0h0" stroke="#d6d5ea" stroke-width="2.0" stroke-linecap="round"/>
<path d="M226.8 750.2h0M243.5 745.3h0M268.2 737.6h0M256.4 760.6h0M308.0 726.9h0M237.6 763.2h0M285.1 745.8h0M294.4 731.2h0M292.3 727.9h0M266.3 728.1h0M236.9 741.0h0" stroke="#d3bfa8" stroke-width="1.0" stroke-linecap="round"/>
<path d="M312.4 738.5h0M270.8 744.1h0M262.0 723.3h0M227.7 744.5h0M261.3 726.6h0M262.2 760.3h0M248.6 754.1h0M229.7 745.6h0M300.1 727.7h0M294.6 757.1h0M228.9 731.4h0M232.1 734.1h0M293.4 737.8h0M252.6 759.5h0M243.9 744.7h0M230.9 754.2h0M292.4 758.9h0M306.2 724.7h0" stroke="#ddd0bf" stroke-width="0.5" stroke-linecap="round"/>
<path d="M238.7 735.1h0M255.2 732.3h0M309.5 726.6h0M276.0 752.8h0M234.9 744.1h0M273.9 756.7h0M307.3 742.9h0M260.9 734.3h0M245.7 756.7h0M293.5 751.8h0M261.3 731.6h0M295.2 751.3h0M230.4 753.1h0M225.4 747.2h0M296.3 761.9h0M228.4 731.9h0M242.3 727.2h0M225.0 720.2h0M251.6 732.1h0M262.7 753.7h0M248.9 731.5h0M227.6 750.8h0" stroke="#d3bfa8" stroke-width="0.5" stroke-linecap="round"/>
<path d="M284.2 735.4h0M308.7 761.4h0M309.7 731.3h0M274.5 731.6h0M234.8 724.6h0M233.0 720.0h0M253.9 750.0h0M226.5 745.0h0M230.8 752.5h0M269.8 733.2h0M280.8 718.1h0M301.6 721.3h0M312.4 751.0h0M292.2 759.6h0M224.0 758.9h0M276.1 748.6h0M270.1 727.1h0M240.8 718.1h0M227.5 760.3h0M242.5 749.8h0" stroke="#c8b198" stroke-width="0.5" stroke-linecap="round"/>
<path d="M302.3 741.4h0M266.6 732.8h0M246.0 751.6h0M294.5 755.3h0M225.4 722.6h0M302.6 736.4h0M228.0 741.8h0M228.9 744.3h0M250.4 752.3h0M245.2 730.7h0M283.4 756.0h0M226.1 749.7h0M278.7 742.1h0M310.7 750.0h0M311.1 728.4h0M261.3 729.7h0M294.4 758.7h0M223.5 751.9h0M284.1 746.8h0M265.8 758.9h0M240.5 754.4h0M277.9 760.1h0" stroke="#bfa386" stroke-width="0.5" stroke-linecap="round"/>
<path d="M256.7 722.2h0M253.5 727.0h0M267.4 723.0h0M240.0 746.7h0M236.1 749.2h0M298.4 723.4h0M264.5 751.6h0M224.1 730.7h0M262.8 749.5h0" stroke="#bfa386" stroke-width="1.0" stroke-linecap="round"/>
<path d="M303.2 725.3h0M258.5 740.5h0M264.8 742.4h0M270.5 761.2h0M299.8 747.5h0M291.9 728.6h0M289.4 723.6h0M281.9 730.4h0M249.8 733.4h0M287.9 750.2h0M260.8 718.9h0M301.8 750.2h0M295.2 738.7h0M275.6 732.5h0M295.1 737.1h0" stroke="#ddd0bf" stroke-width="1.0" stroke-linecap="round"/>
<path d="M254.0 733.3h0M241.4 744.2h0M248.4 731.5h0M244.5 741.7h0M239.3 725.1h0M252.6 763.3h0M259.0 748.0h0M237.1 738.3h0M298.5 724.3h0M272.7 752.9h0M251.9 721.4h0M301.4 721.5h0M274.0 729.7h0M290.0 723.0h0M302.3 729.0h0M230.0 737.3h0M288.6 740.3h0M276.1 755.3h0M307.5 719.1h0" stroke="#c8b198" stroke-width="1.0" stroke-linecap="round"/>
<path d="M253.5 735.5h0M250.3 739.4h0M292.1 733.0h0M274.5 748.6h0M256.9 726.2h0M258.6 725.4h0M268.3 735.1h0M286.1 734.1h0M260.5 730.8h0M249.9 750.4h0M308.0 751.2h0M237.0 750.1h0M310.1 760.0h0M229.7 735.2h0M301.8 731.0h0M255.5 738.9h0M232.3 719.2h0M292.8 729.0h0M289.5 760.8h0M253.0 740.9h0M240.0 738.2h0" stroke="#bebddf" stroke-width="1.0" stroke-linecap="round"/>
<path d="M243.3 740.2h0M298.6 732.0h0M226.8 719.0h0M309.7 727.3h0M254.9 754.7h0M240.1 757.8h0" stroke="#bebddf" stroke-width="1.5" stroke-linecap="round"/>
<path d="M295.0 762.3h0M265.5 750.7h0M294.4 763.2h0M223.9 723.0h0M281.1 761.7h0M252.3 742.0h0M296.1 718.6h0M261.4 740.7h0M303.1 720.7h0M306.0 750.3h0" stroke="#c8c7e5" stroke-width="1.5" stroke-linecap="round"/>
<path d="M261.1 743.9h0M223.2 752.7h0M226.4 723.8h0M274.7 747.4h0M240.0 757.0h0" stroke="#c8c7e5" stroke-width="1.0" stroke-linecap="round"/>
</g>
<clipPath id="tc32"><rect x="315.6" y="716.9" width="91.4" height="47.1"/></clipPath>
<g clip-path="url(#tc32)">
<rect x="315.6" y="716.9" width="91.4" height="47.1" fill="#eeedea"/>
<path d="M326.57,720.67 L352.16,727.26 L407,728.67" fill="none" stroke="#d8d7e9" stroke-opacity="1" stroke-width="16.96" stroke-linecap="round" stroke-linejoin="round" filter="url(#bl3)"/>
<path d="M315.6,752.7 L361.3,752.7 L407,749.87" fill="none" stroke="#d7d6e9" stroke-opacity="1" stroke-width="19.78" stroke-linecap="round" stroke-linejoin="round" filter="url(#bl3)"/>
<path d="M327.9 718.3h0M383.5 733.2h0M329.0 723.9h0M371.3 723.5h0M340.3 727.9h0M401.3 728.5h0M363.5 734.2h0M388.5 732.7h0M357.1 751.6h0M395.0 760.3h0M318.0 750.1h0M395.7 743.5h0M382.1 753.6h0M334.0 754.7h0M391.2 752.2h0" stroke="#d0cfe7" stroke-width="2.0" stroke-linecap="round"/>
<path d="M404.5 735.9h0M400.1 732.3h0M332.8 729.4h0M389.9 730.7h0M388.7 725.8h0M379.7 725.2h0M331.1 718.7h0M382.6 731.7h0M331.3 721.1h0M391.7 728.3h0M384.6 728.4h0M365.7 726.0h0M331.0 727.9h0M388.1 724.0h0M393.9 730.1h0M340.0 724.7h0M395.9 733.0h0M401.6 720.9h0M400.2 740.8h0M405.1 741.6h0M318.8 755.3h0M373.2 753.0h0M317.6 751.9h0M325.7 748.0h0M368.7 757.8h0M330.8 753.9h0M360.0 761.6h0M380.6 758.8h0M316.8 749.3h0M333.9 748.1h0M353.8 755.0h0M342.5 759.9h0M329.1 745.3h0M355.4 758.6h0M383.1 748.9h0M362.6 756.6h0M323.7 746.5h0" stroke="#d0cfe7" stroke-width="1.5" stroke-linecap="round"/>
<path d="M347.1 730.3h0M377.3 728.7h0M384.0 731.7h0M395.3 730.6h0M329.4 717.5h0M398.8 725.4h0M335.7 718.0h0M395.0 731.6h0M392.4 726.9h0M361.6 730.4h0M368.3 728.0h0M374.3 728.8h0M360.6 723.1h0M384.1 726.0h0M332.5 748.1h0M373.7 749.3h0M387.0 750.2h0M319.1 744.5h0M401.9 750.9h0M375.9 754.1h0M385.2 747.2h0M327.6 752.5h0M365.3 742.7h0M404.8 743.1h0M346.2 752.8h0M371.8 754.0h0M400.0 755.2h0M388.8 744.4h0M379.9 747.6h0M319.7 749.7h0M374.8 751.9h0M350.1 758.4h0M369.3 747.0h0M396.9 746.5h0M370.3 756.2h0M398.1 753.7h0M382.5 757.0h0M364.7 758.1h0M366.2 750.3h0M370.3 745.1h0M367.9 755.7h0M400.2 753.7h0M384.6 746.6h0M398.3 756.1h0" stroke="#d6d5ea" stroke-width="1.5" stroke-linecap="round"/>
<path d="M352.2 720.6h0M389.9 732.0h0M404.9 729.8h0M345.5 730.1h0M401.3 745.7h0M342.8 754.0h0M347.1 757.1h0M346.0 743.4h0" stroke="#c1c0df" stroke-width="1.0" stroke-linecap="round"/>
<path d="M390.4 731.5h0M377.1 733.2h0M378.6 727.9h0M376.6 728.0h0M401.6 726.5h0M403.9 732.7h0M385.0 723.0h0M359.9 725.6h0M366.5 731.7h0M345.5 722.6h0M358.2 726.3h0M372.9 726.6h0M391.6 730.1h0M356.4 724.8h0M403.8 733.4h0M360.6 728.7h0M376.1 731.0h0M397.6 726.3h0M397.5 722.7h0M406.9 728.2h0M387.5 728.8h0M344.9 724.0h0M355.4 729.5h0M399.2 721.9h0M399.2 750.3h0M382.3 751.2h0M388.5 753.1h0M382.7 744.4h0M357.3 760.3h0M361.6 754.0h0M384.7 752.4h0M324.8 760.3h0M384.7 745.6h0M382.5 761.3h0M321.6 748.0h0M370.4 750.1h0M364.8 749.2h0M401.4 748.4h0M402.1 743.8h0M392.0 748.7h0M346.8 752.9h0M388.2 750.1h0M340.9 751.1h0M315.6 745.7h0M402.5 760.0h0M373.9 753.1h0M350.1 748.5h0M363.2 752.1h0M363.6 755.7h0M361.2 757.9h0M390.3 738.9h0M376.5 750.4h0M339.1 748.4h0M343.3 758.0h0M405.2 758.8h0" stroke="#c1c0df" stroke-width="1.5" stroke-linecap="round"/>
<path d="M342.1 722.2h0M406.1 725.7h0M349.2 725.9h0M354.1 732.2h0M328.2 726.3h0M368.6 727.3h0M329.2 726.4h0M399.7 722.0h0M385.3 736.3h0M398.5 739.2h0M337.6 719.2h0M350.3 717.1h0M340.1 719.7h0M351.6 725.3h0M347.1 732.1h0M349.3 726.6h0M361.2 729.2h0M384.9 723.9h0M338.3 719.9h0M385.0 735.5h0M340.6 758.7h0M398.7 737.2h0M370.4 749.0h0M376.7 757.2h0M330.6 738.9h0M359.0 754.4h0M375.3 763.1h0M362.2 755.6h0M395.8 749.1h0M396.5 747.8h0M383.7 749.5h0M335.8 751.7h0M334.5 754.2h0M389.7 751.0h0M354.5 755.0h0M385.4 751.5h0M323.0 759.4h0M357.2 752.1h0M326.7 754.8h0M404.5 745.2h0M340.1 751.7h0M382.1 753.7h0M368.5 757.9h0M341.7 757.5h0M366.9 754.2h0" stroke="#c8c7e2" stroke-width="1.5" stroke-linecap="round"/>
<path d="M367.6 728.0h0M335.7 718.4h0M342.7 720.0h0M362.2 739.5h0M381.3 740.2h0M350.6 751.0h0M382.9 750.8h0" stroke="#c8c7e2" stroke-width="2.0" stroke-linecap="round"/>
<path d="M354.9 722.7h0M343.6 733.2h0M385.2 731.4h0M346.9 720.6h0M381.9 727.2h0M337.1 763.7h0M366.3 749.9h0M341.3 745.8h0M336.9 755.9h0" stroke="#d6d5ea" stroke-width="2.0" stroke-linecap="round"/>
<path d="M335.3 725.1h0M387.4 723.4h0M403.6 735.5h0M347.6 724.5h0M361.7 756.8h0M336.3 750.2h0M378.9 754.0h0M374.0 748.9h0M319.2 759.9h0M381.6 741.5h0" stroke="#c1c0df" stroke-width="2.0" stroke-linecap="round"/>
<path d="M345.7 724.8h0M331.2 717.0h0M365.3 729.0h0M350.1 732.2h0M353.8 724.1h0M345.0 721.0h0M351.6 722.0h0M350.2 745.7h0M364.4 751.2h0M368.5 746.5h0M378.2 760.0h0M397.4 753.4h0M390.1 754.2h0M359.2 750.3h0M402.6 748.5h0M355.9 752.1h0M328.7 741.6h0" stroke="#c8c7e2" stroke-width="1.0" stroke-linecap="round"/>
<path d="M326.2 724.2h0M334.0 726.0h0M402.9 734.8h0M342.6 719.1h0M342.9 754.2h0M319.7 756.9h0M338.2 743.1h0M326.2 757.9h0M383.6 752.6h0M388.9 744.2h0" stroke="#d0cfe7" stroke-width="1.0" stroke-linecap="round"/>
<path d="M399.7 731.0h0M349.9 751.4h0M334.9 755.6h0M403.6 742.8h0M382.2 754.7h0M343.9 750.0h0M386.3 757.1h0M321.9 748.9h0" stroke="#d6d5ea" stroke-width="1.0" stroke-linecap="round"/>
<path d="M320.17,733.38 L352.16,740.45 L397.86,738.1" fill="none" stroke="#efedea" stroke-width="1.4" stroke-linecap="round" filter="url(#bl4)"/>
<path d="M361.8 748.2h0M318.3 761.3h0M351.7 726.2h0M346.7 740.9h0M355.2 758.4h0M378.0 757.1h0M402.0 722.6h0M375.1 757.7h0M349.4 742.0h0M405.6 731.1h0M370.2 756.3h0M350.7 762.2h0" stroke="#c8b198" stroke-width="1.0" stroke-linecap="round"/>
<path d="M392.8 720.1h0M347.1 752.4h0M336.7 728.8h0M350.6 758.0h0M395.9 728.1h0M396.5 756.7h0M405.9 737.6h0M317.4 743.7h0M382.8 731.8h0M387.1 745.8h0M399.6 752.2h0M364.6 743.1h0M349.5 735.1h0M379.5 757.0h0M322.7 761.4h0M319.0 737.5h0M375.3 751.3h0M346.8 759.1h0M350.0 728.0h0M331.6 738.4h0M393.2 730.9h0M332.8 758.8h0M361.5 762.0h0M360.3 717.6h0M362.4 737.2h0M344.3 719.3h0M366.4 759.6h0M380.2 733.1h0M405.6 755.8h0M403.6 735.7h0" stroke="#ddd0bf" stroke-width="0.5" stroke-linecap="round"/>
<path d="M322.0 743.7h0M369.0 732.5h0M331.9 755.8h0M343.0 743.6h0M342.3 724.3h0M320.0 730.6h0M389.7 734.7h0M321.8 751.0h0M344.0 741.5h0M383.3 749.8h0M373.0 738.5h0M392.1 743.9h0M322.3 758.7h0M340.2 752.1h0M371.8 717.6h0M339.8 720.3h0M385.0 745.9h0M356.3 721.1h0M379.8 753.4h0M366.0 722.7h0M366.2 725.4h0M388.7 743.0h0" stroke="#bfa386" stroke-width="0.5" stroke-linecap="round"/>
<path d="M384.4 735.2h0M378.3 742.8h0M333.5 758.8h0M343.5 732.7h0M381.0 740.4h0M317.0 721.9h0M322.6 722.4h0M365.1 756.5h0M382.1 741.6h0M393.0 729.0h0M384.7 757.5h0M326.9 757.4h0M329.0 759.0h0M340.3 756.8h0M405.5 737.0h0M383.9 732.8h0M331.5 759.0h0M367.8 735.1h0M318.1 723.2h0M333.3 733.2h0M369.0 728.9h0M389.0 732.1h0M339.6 750.4h0M373.0 742.2h0M356.0 717.9h0M402.3 726.5h0M369.2 736.4h0M375.3 748.9h0M334.1 744.0h0M329.3 734.1h0M362.1 727.3h0M322.2 722.7h0M375.3 742.7h0M340.3 736.3h0" stroke="#d3bfa8" stroke-width="0.5" stroke-linecap="round"/>
<path d="M357.7 746.4h0M374.2 724.9h0M371.7 722.3h0M349.1 736.1h0M371.2 746.2h0M400.6 727.5h0M352.8 754.0h0M331.5 725.9h0M405.8 750.4h0M399.1 731.2h0M327.8 749.9h0M380.2 745.3h0M360.5 745.0h0M337.4 749.9h0M379.8 741.6h0M318.4 731.2h0M402.5 737.9h0M392.7 717.5h0M354.2 729.3h0M348.8 731.5h0M353.8 757.9h0M383.5 756.1h0" stroke="#ddd0bf" stroke-width="1.0" stroke-linecap="round"/>
<path d="M365.3 740.1h0M376.1 726.5h0M357.2 729.4h0M322.3 744.9h0M328.9 756.6h0M337.0 752.9h0M403.3 750.2h0M375.0 762.5h0M377.2 723.3h0M335.6 719.6h0M369.6 745.0h0M377.4 754.4h0M334.7 717.7h0M320.0 741.9h0M370.9 760.0h0M341.4 721.9h0M400.0 754.4h0M362.0 750.2h0" stroke="#bfa386" stroke-width="1.0" stroke-linecap="round"/>
<path d="M334.9 720.5h0M355.7 752.4h0M376.2 734.6h0M337.1 731.9h0M337.9 755.2h0M399.3 744.8h0M350.8 723.9h0M383.4 756.2h0M372.8 742.7h0M373.3 721.4h0M355.9 748.0h0M390.5 751.2h0M366.4 741.1h0M340.2 740.0h0M376.7 747.8h0" stroke="#d3bfa8" stroke-width="1.0" stroke-linecap="round"/>
<path d="M385.5 731.1h0M316.3 735.0h0M325.0 731.6h0M372.9 755.0h0M326.8 735.8h0M336.0 729.0h0M331.9 746.6h0M378.6 749.4h0M379.7 745.6h0M396.8 721.0h0M404.3 743.2h0M357.7 724.7h0M369.2 752.6h0M366.6 727.4h0M344.6 731.0h0M383.0 743.2h0M397.8 733.8h0" stroke="#c8b198" stroke-width="0.5" stroke-linecap="round"/>
<path d="M341.3 753.4h0M339.6 726.9h0M335.3 762.8h0M390.0 744.2h0M354.7 718.8h0M357.4 725.4h0M349.0 721.8h0M329.9 718.6h0M384.3 756.4h0M326.1 763.4h0M369.4 729.3h0M372.1 739.3h0M384.9 742.4h0M366.6 755.9h0M340.8 760.3h0" stroke="#c8c7e5" stroke-width="1.0" stroke-linecap="round"/>
<path d="M367.0 756.8h0M377.5 762.0h0M332.2 763.4h0M402.0 759.9h0M338.6 756.0h0M339.2 739.0h0M400.7 728.7h0M329.3 741.5h0M341.0 751.8h0M377.8 746.4h0M339.6 724.0h0M355.6 739.2h0M366.8 732.4h0M378.4 749.3h0M374.2 726.1h0M403.9 726.3h0M366.8 729.0h0" stroke="#bebddf" stroke-width="1.0" stroke-linecap="round"/>
<path d="M336.5 742.5h0M324.2 749.7h0M332.5 729.4h0M335.3 726.1h0M348.2 738.3h0" stroke="#c8c7e5" stroke-width="1.5" stroke-linecap="round"/>
<path d="M345.6 726.0h0M345.1 720.2h0M390.9 718.6h0M344.2 751.7h0M331.8 720.9h0" stroke="#bebddf" stroke-width="1.5" stroke-linecap="round"/>
</g>
<clipPath id="tc03"><rect x="28.6" y="766.1" width="92" height="47.2"/></clipPath>
<g clip-path="url(#tc03)">
<rect x="28.6" y="766.1" width="92" height="47.2" fill="#ece7e0"/>
<path d="M28.6,801.5 L60.8,792.06 L93,789.7 L120.6,793.48" fill="none" stroke="#dfdce5" stroke-opacity="1" stroke-width="13.22" stroke-linecap="round" stroke-linejoin="round" filter="url(#bl3)"/>
<path d="M33.0 801.8h0M82.5 785.5h0M93.5 790.5h0M93.5 787.4h0M100.5 792.2h0M53.5 801.0h0M94.8 793.7h0M58.6 795.4h0M52.1 796.6h0M109.4 795.0h0" stroke="#c1c0df" stroke-width="1.5" stroke-linecap="round"/>
<path d="M89.4 789.1h0M68.0 793.8h0M76.7 791.7h0M70.8 792.9h0M103.8 790.0h0M87.0 785.6h0M63.1 790.9h0M73.9 790.8h0M83.4 793.8h0M86.8 785.1h0M111.3 796.6h0M34.1 804.8h0M70.0 784.6h0M84.7 787.9h0M72.2 790.4h0M95.8 789.1h0M38.3 792.3h0M67.2 792.4h0" stroke="#d6d5ea" stroke-width="1.5" stroke-linecap="round"/>
<path d="M32.7 805.0h0M43.3 797.9h0M39.9 799.1h0M116.6 790.9h0M70.7 790.8h0M115.1 797.6h0M65.3 795.0h0M74.2 785.2h0M100.5 784.4h0M71.0 793.9h0M120.3 789.7h0M62.0 795.9h0M56.2 792.7h0M71.9 793.6h0M64.6 788.8h0M65.4 793.9h0M43.1 795.7h0M47.1 802.7h0M37.6 798.3h0" stroke="#d0cfe7" stroke-width="1.5" stroke-linecap="round"/>
<path d="M40.5 802.1h0M86.9 791.3h0M40.6 795.6h0M108.8 789.4h0M31.2 802.3h0" stroke="#d6d5ea" stroke-width="2.0" stroke-linecap="round"/>
<path d="M41.4 801.2h0M49.2 790.9h0M55.0 793.1h0M99.4 788.9h0M85.1 791.2h0M47.5 803.4h0M101.8 790.5h0M62.1 782.7h0M106.1 792.2h0" stroke="#c1c0df" stroke-width="2.0" stroke-linecap="round"/>
<path d="M72.0 790.6h0M97.1 789.8h0M94.3 787.6h0M43.4 799.6h0M57.3 790.4h0M105.8 787.8h0M50.3 793.8h0" stroke="#d0cfe7" stroke-width="1.0" stroke-linecap="round"/>
<path d="M57.3 794.3h0M77.9 795.8h0M113.2 796.0h0" stroke="#c8c7e2" stroke-width="2.0" stroke-linecap="round"/>
<path d="M66.4 791.7h0M89.5 784.9h0M49.9 795.6h0M83.2 792.9h0M92.2 793.2h0M76.5 791.1h0" stroke="#d6d5ea" stroke-width="1.0" stroke-linecap="round"/>
<path d="M80.5 791.4h0M119.1 794.6h0M115.7 786.4h0M99.4 787.5h0M43.0 797.5h0M109.8 787.9h0M54.5 794.6h0M48.1 795.4h0M102.9 791.0h0M104.3 790.4h0M89.9 791.5h0M89.8 793.8h0M82.3 790.9h0M92.1 785.3h0M75.2 794.0h0M49.1 790.3h0" stroke="#c8c7e2" stroke-width="1.5" stroke-linecap="round"/>
<path d="M30.8 794.7h0M85.1 790.6h0M113.3 796.4h0M45.3 797.5h0" stroke="#c1c0df" stroke-width="1.0" stroke-linecap="round"/>
<path d="M40.8 795.8h0M32.1 798.7h0M90.9 783.5h0M33.4 804.0h0M76.2 789.8h0M76.7 791.9h0" stroke="#d0cfe7" stroke-width="2.0" stroke-linecap="round"/>
<path d="M80.0 794.1h0M68.8 792.1h0" stroke="#c8c7e2" stroke-width="1.0" stroke-linecap="round"/>
<path d="M107.2 796.3h0M70.8 810.0h0M29.5 809.3h0M70.7 772.4h0M72.5 792.8h0M59.1 809.6h0M117.1 784.3h0M70.7 804.0h0M76.6 800.6h0M68.2 811.0h0" stroke="#86593a" stroke-width="1.0" stroke-linecap="round"/>
<path d="M63.5 793.3h0M64.4 789.4h0M44.5 779.9h0M37.3 790.1h0M112.3 775.8h0M36.0 785.5h0M74.1 808.7h0M47.5 804.9h0M118.5 773.1h0M99.5 780.5h0M58.7 794.0h0M49.8 804.9h0M80.7 781.6h0M76.1 776.1h0M107.3 774.5h0" stroke="#b58f6c" stroke-width="1.0" stroke-linecap="round"/>
<path d="M93.0 789.6h0M66.4 795.6h0M79.7 804.4h0M74.9 767.7h0M92.3 796.5h0M72.0 774.7h0M99.1 789.1h0M69.4 792.6h0M39.6 769.4h0M104.8 767.8h0M84.4 792.9h0" stroke="#946848" stroke-width="1.0" stroke-linecap="round"/>
<path d="M105.6 788.1h0M73.0 768.3h0M60.9 795.4h0M31.3 791.9h0M44.0 805.8h0M34.4 777.8h0M65.6 785.7h0M69.7 809.6h0M34.4 794.6h0" stroke="#a57a56" stroke-width="1.0" stroke-linecap="round"/>
<path d="M63.5 779.0h0" stroke="#b58f6c" stroke-width="1.5" stroke-linecap="round"/>
<path d="M75.8 796.9h0" stroke="#86593a" stroke-width="1.5" stroke-linecap="round"/>
<path d="M93.8 794.0h0" stroke="#a57a56" stroke-width="1.5" stroke-linecap="round"/>
<path d="M116.5 777.5h0M40.2 773.5h0M90.6 776.5h0M55.9 796.5h0M47.9 783.9h0M70.2 795.1h0M112.2 808.0h0M41.6 781.0h0M46.8 812.1h0M58.4 789.1h0M109.9 806.0h0M47.6 803.1h0M62.1 771.8h0M114.4 771.9h0M119.8 775.7h0M69.7 787.8h0M108.6 786.1h0M108.6 771.2h0M103.5 774.1h0M30.8 800.3h0M90.8 798.2h0M68.5 771.5h0M102.4 806.7h0M74.0 800.9h0M107.3 790.5h0M75.3 797.1h0M65.6 780.0h0M61.0 787.7h0M50.1 777.9h0M77.1 788.0h0" stroke="#ddd0bf" stroke-width="1.0" stroke-linecap="round"/>
<path d="M110.0 792.0h0M58.2 786.6h0M107.3 784.7h0M49.0 800.6h0M104.0 808.1h0M33.7 779.7h0M40.6 773.8h0M111.1 781.5h0M61.8 778.5h0M95.9 806.9h0M47.8 804.3h0M67.7 812.2h0M35.2 795.2h0M65.5 805.2h0M51.5 767.2h0M94.5 810.4h0M108.8 767.6h0M79.0 768.0h0M104.6 801.4h0M112.6 777.7h0M117.2 811.2h0M98.2 802.9h0M78.6 807.7h0M31.7 791.3h0M42.2 795.0h0M53.6 794.2h0M31.3 793.6h0M88.0 774.0h0M85.9 803.6h0M37.3 805.7h0M60.2 812.2h0M106.1 766.6h0M47.9 792.0h0M114.5 772.3h0M64.0 776.5h0M42.0 804.7h0M44.8 770.6h0M57.0 792.4h0M101.6 779.6h0M67.8 791.7h0M110.2 800.8h0M119.1 812.3h0M38.8 807.1h0M43.6 798.2h0" stroke="#c8b198" stroke-width="0.5" stroke-linecap="round"/>
<path d="M104.3 810.4h0M60.2 789.0h0M55.5 787.1h0M101.6 796.5h0M66.6 772.0h0M70.5 793.6h0M69.0 812.7h0M97.0 802.2h0M112.2 783.7h0M77.2 800.9h0M49.0 795.7h0M49.3 809.0h0M74.6 789.0h0M116.8 785.3h0M33.8 799.0h0M115.5 786.8h0M106.5 798.3h0M74.8 793.3h0M47.2 778.4h0M38.0 811.8h0M70.4 782.0h0M93.9 793.6h0M83.3 777.5h0M108.1 808.7h0M88.7 796.3h0M53.1 774.1h0M109.1 785.2h0M96.5 794.4h0M72.6 788.1h0M35.3 788.3h0M70.7 780.8h0M38.0 769.4h0M65.9 811.8h0M115.0 773.5h0M70.7 798.3h0M33.9 810.4h0M46.1 780.8h0M77.2 795.6h0M105.1 798.0h0M84.3 800.1h0M107.7 780.9h0M45.6 784.2h0M92.5 811.9h0M33.9 793.5h0M58.1 802.3h0M74.7 795.0h0" stroke="#d3bfa8" stroke-width="0.5" stroke-linecap="round"/>
<path d="M112.5 782.9h0M89.7 784.6h0M66.4 803.8h0M43.3 768.2h0M96.6 776.1h0M50.6 769.7h0M61.5 787.7h0M42.8 800.8h0M71.6 804.9h0M29.5 795.2h0M106.9 788.9h0M40.2 784.7h0M103.1 796.8h0M104.2 810.6h0M103.3 776.0h0M33.9 773.5h0M62.1 769.7h0M91.2 786.0h0M114.1 792.1h0M38.7 783.5h0M109.4 809.8h0M60.7 804.1h0M90.4 793.2h0M82.0 809.6h0M75.2 786.8h0M49.2 769.3h0M73.6 773.2h0M34.5 791.4h0M87.8 769.3h0M63.5 792.4h0M98.6 771.5h0M30.5 782.3h0M49.7 776.2h0M98.4 768.8h0M88.6 800.2h0M78.6 787.1h0M35.0 771.1h0" stroke="#d3bfa8" stroke-width="1.0" stroke-linecap="round"/>
<path d="M66.2 783.3h0M110.5 809.8h0M30.2 806.0h0M52.1 808.2h0M41.7 794.0h0M72.0 782.7h0M34.1 808.8h0M96.4 805.3h0M71.5 810.8h0M82.8 766.7h0M35.0 778.2h0M49.5 804.2h0M103.8 787.6h0M93.3 785.8h0M115.0 812.4h0M33.2 811.4h0M47.3 775.2h0M48.1 786.2h0M31.7 775.8h0M112.4 773.7h0M101.0 785.4h0M51.8 804.5h0M111.3 790.8h0M61.3 809.5h0M75.6 787.0h0M75.9 767.4h0M48.6 791.2h0" stroke="#bfa386" stroke-width="1.0" stroke-linecap="round"/>
<path d="M109.8 796.0h0M99.1 800.6h0M57.8 772.5h0M106.8 793.3h0M99.2 806.0h0M31.2 774.2h0M74.6 796.0h0M44.6 807.7h0M70.7 780.7h0M42.5 781.3h0M31.1 770.9h0M31.5 787.8h0M97.8 786.4h0M87.4 782.7h0M51.1 810.3h0M96.8 801.7h0M67.5 799.3h0M79.0 783.7h0M53.7 807.6h0M36.2 776.3h0M32.5 798.4h0M47.8 774.8h0M54.4 801.6h0M31.9 775.8h0M92.5 792.7h0M84.0 810.0h0M42.7 769.3h0M94.0 785.2h0M57.0 808.9h0M74.1 810.2h0M82.3 792.4h0M102.2 808.8h0M56.1 790.3h0M54.4 799.9h0M81.2 776.0h0M39.0 791.6h0M56.2 781.9h0M34.1 800.3h0M46.5 793.9h0M114.2 783.0h0M40.1 789.5h0M110.3 807.1h0M29.3 795.4h0M60.0 798.7h0M45.8 804.4h0M79.0 779.9h0M70.7 773.5h0M111.7 775.0h0" stroke="#ddd0bf" stroke-width="0.5" stroke-linecap="round"/>
<path d="M73.2 809.4h0M74.9 797.5h0M61.1 784.4h0M37.3 779.0h0M49.1 782.8h0M58.7 801.4h0M54.5 797.5h0M95.5 810.6h0M53.3 775.4h0M43.6 781.0h0M101.5 769.3h0M29.4 782.1h0M62.8 801.6h0M85.2 770.9h0M105.1 797.2h0M86.7 790.9h0M79.5 806.9h0M66.1 803.0h0M112.3 786.9h0M51.3 770.9h0M70.5 776.0h0M43.3 781.5h0M119.4 804.1h0M71.0 789.7h0M58.9 788.0h0" stroke="#c8b198" stroke-width="1.0" stroke-linecap="round"/>
<path d="M44.7 792.8h0M72.3 785.9h0M51.1 804.4h0M74.0 806.8h0M59.5 808.0h0M46.4 767.9h0M82.6 771.0h0M88.6 774.6h0M119.0 771.2h0M70.7 810.2h0M37.0 766.9h0M57.9 785.6h0M76.2 774.1h0M77.5 811.9h0M45.6 808.4h0M34.5 805.3h0M74.4 770.3h0M110.8 808.1h0M109.3 772.9h0M37.8 794.1h0M83.9 771.5h0M118.4 776.5h0M97.3 774.4h0M104.6 795.9h0M83.7 779.5h0M40.9 779.1h0M110.8 808.4h0M103.7 788.3h0M49.7 798.5h0M58.4 806.6h0M95.0 809.4h0M56.5 769.4h0M87.3 785.6h0M62.5 777.0h0M99.1 792.1h0M31.4 810.9h0M68.4 774.7h0M70.0 769.5h0M94.6 786.9h0M85.5 811.6h0M98.6 797.2h0M74.9 768.0h0M75.1 773.7h0M105.3 788.6h0M89.0 781.8h0M54.2 785.3h0M45.3 768.9h0M93.0 773.3h0M50.2 782.6h0" stroke="#bfa386" stroke-width="0.5" stroke-linecap="round"/>
</g>
<clipPath id="tc13"><rect x="122.2" y="766.1" width="91.8" height="47.2"/></clipPath>
<g clip-path="url(#tc13)">
<rect x="122.2" y="766.1" width="91.8" height="47.2" fill="#ece7e0"/>
<path d="M122.2,801.5 L154.33,792.06 L186.46,789.7 L214,793.48" fill="none" stroke="#dfdce5" stroke-opacity="1" stroke-width="13.22" stroke-linecap="round" stroke-linejoin="round" filter="url(#bl3)"/>
<path d="M128.1 800.3h0M205.6 793.7h0M145.7 798.2h0M166.7 791.8h0M155.0 792.2h0M171.6 789.6h0M200.2 792.1h0M144.9 795.5h0M124.0 801.9h0" stroke="#d0cfe7" stroke-width="1.0" stroke-linecap="round"/>
<path d="M151.2 791.3h0M148.5 795.7h0" stroke="#d6d5ea" stroke-width="2.0" stroke-linecap="round"/>
<path d="M139.6 795.9h0M158.5 793.1h0M198.7 788.6h0M140.6 797.9h0M128.3 803.2h0M172.1 792.9h0M128.4 796.2h0M130.0 794.2h0M173.1 786.3h0M176.2 790.9h0M167.2 785.0h0M160.4 797.1h0M178.7 789.1h0M148.8 790.0h0M145.0 798.2h0M203.5 790.7h0M152.3 790.7h0M129.0 803.8h0M140.6 792.0h0M195.7 795.4h0" stroke="#c1c0df" stroke-width="1.5" stroke-linecap="round"/>
<path d="M132.1 805.1h0M170.9 788.9h0M189.3 788.5h0M177.3 789.4h0M209.8 789.8h0M156.2 795.1h0M133.7 792.9h0M171.6 787.6h0M129.3 800.3h0M156.0 791.1h0M199.3 794.5h0M185.4 786.8h0M156.5 802.7h0M169.5 791.8h0M129.1 807.8h0M163.2 792.4h0M175.9 792.1h0" stroke="#c8c7e2" stroke-width="1.5" stroke-linecap="round"/>
<path d="M146.5 791.8h0M185.9 795.1h0" stroke="#d0cfe7" stroke-width="2.0" stroke-linecap="round"/>
<path d="M161.8 787.6h0M189.2 793.4h0M207.8 793.9h0M213.6 787.5h0M136.8 796.6h0M130.6 797.0h0M174.1 791.1h0M164.9 795.7h0M172.6 791.9h0M171.7 793.0h0M187.1 794.7h0M143.4 798.0h0M167.5 786.1h0M164.0 791.9h0M146.7 797.2h0M149.7 787.4h0" stroke="#d6d5ea" stroke-width="1.5" stroke-linecap="round"/>
<path d="M210.0 790.1h0M171.3 796.7h0M186.4 793.7h0M143.7 800.6h0M201.0 794.7h0M129.4 795.9h0M152.4 798.5h0" stroke="#c8c7e2" stroke-width="2.0" stroke-linecap="round"/>
<path d="M130.8 799.8h0M126.5 796.9h0M181.2 790.8h0M130.6 803.5h0" stroke="#d6d5ea" stroke-width="1.0" stroke-linecap="round"/>
<path d="M126.6 800.9h0M146.2 795.2h0M137.4 803.0h0M198.3 792.0h0M209.5 794.6h0M202.8 778.3h0M123.8 798.3h0M173.2 790.1h0" stroke="#c1c0df" stroke-width="1.0" stroke-linecap="round"/>
<path d="M168.5 789.7h0M194.2 788.3h0M188.6 791.3h0M188.1 785.0h0M134.1 804.1h0M160.3 791.7h0M150.9 789.7h0M191.9 796.0h0M134.3 808.0h0M146.5 796.6h0M127.4 795.1h0M172.0 793.2h0M131.2 801.2h0" stroke="#d0cfe7" stroke-width="1.5" stroke-linecap="round"/>
<path d="M196.9 792.2h0M192.3 784.5h0M213.4 793.9h0M211.6 790.9h0M155.0 790.1h0" stroke="#c1c0df" stroke-width="2.0" stroke-linecap="round"/>
<path d="M213.0 793.5h0M160.4 794.6h0" stroke="#c8c7e2" stroke-width="1.0" stroke-linecap="round"/>
<path d="M186.3 777.7h0M211.7 786.3h0M129.8 805.7h0M195.8 784.7h0M138.7 790.3h0M127.9 801.7h0M179.4 779.5h0M204.7 792.9h0M148.8 789.3h0M137.1 791.0h0M186.8 798.4h0M196.4 788.8h0" stroke="#946848" stroke-width="1.0" stroke-linecap="round"/>
<path d="M202.8 801.9h0" stroke="#946848" stroke-width="1.5" stroke-linecap="round"/>
<path d="M178.8 803.4h0M208.1 776.5h0M149.6 785.8h0M179.2 794.4h0M188.3 770.4h0M156.2 767.7h0M204.7 795.3h0M209.1 779.6h0M126.4 803.7h0M212.0 793.8h0M192.0 767.5h0M141.4 785.1h0M179.5 787.1h0" stroke="#b58f6c" stroke-width="1.0" stroke-linecap="round"/>
<path d="M185.0 786.9h0M133.0 786.0h0M122.8 774.0h0M160.6 797.3h0M132.1 799.1h0M202.9 778.6h0M142.7 794.3h0M194.6 776.6h0M137.3 779.4h0" stroke="#a57a56" stroke-width="1.0" stroke-linecap="round"/>
<path d="M129.3 767.1h0M198.6 774.8h0M206.3 803.7h0M137.7 805.9h0M147.6 773.6h0M135.0 784.2h0M154.1 810.8h0M159.4 811.1h0M161.8 798.1h0M168.9 769.9h0" stroke="#86593a" stroke-width="1.0" stroke-linecap="round"/>
<path d="M133.8 768.0h0M178.4 792.8h0" stroke="#86593a" stroke-width="1.5" stroke-linecap="round"/>
<path d="M171.1 811.6h0" stroke="#b58f6c" stroke-width="1.5" stroke-linecap="round"/>
<path d="M166.7 806.2h0M178.2 806.6h0M172.0 781.7h0M135.5 785.3h0M159.6 792.6h0M131.1 775.7h0M211.1 786.7h0M140.3 806.5h0M170.3 777.8h0M182.9 796.5h0M132.0 771.8h0M141.5 806.7h0M204.3 773.9h0M174.4 785.6h0M211.1 781.7h0M173.1 769.8h0M166.8 782.8h0M152.8 803.4h0M157.6 796.6h0M171.4 790.0h0M146.0 769.3h0M159.0 810.0h0M187.0 789.3h0M145.9 792.1h0M132.9 793.6h0M212.9 793.6h0M132.5 770.2h0M128.6 786.1h0M176.0 804.3h0M162.7 784.1h0M138.8 793.2h0M173.4 797.1h0M168.6 791.9h0M166.1 800.5h0M178.1 781.5h0M172.8 807.9h0M149.7 770.4h0M152.5 771.1h0M182.7 771.6h0M137.5 786.5h0M137.0 783.2h0M198.7 805.2h0M187.7 791.5h0M194.5 782.3h0M191.3 810.5h0M148.8 808.2h0M137.9 793.4h0M142.7 770.9h0M178.6 772.9h0M144.0 767.6h0M137.7 789.9h0" stroke="#d3bfa8" stroke-width="0.5" stroke-linecap="round"/>
<path d="M153.9 809.9h0M137.6 775.2h0M148.6 777.0h0M131.9 807.8h0M139.4 772.7h0M134.3 796.9h0M163.6 787.6h0M170.0 782.9h0M184.6 803.6h0M186.6 772.7h0M138.6 775.4h0M141.0 776.0h0M158.0 772.0h0M160.3 792.2h0M127.3 783.6h0M210.6 798.9h0M139.0 793.1h0M144.5 768.1h0M167.6 768.0h0M211.5 778.5h0M146.8 781.5h0M206.1 780.9h0M167.0 809.4h0M178.7 804.0h0M204.4 793.3h0M144.6 782.2h0M139.5 801.7h0M187.2 775.2h0M142.5 779.5h0M191.0 787.1h0M194.0 779.5h0M177.3 809.9h0M128.1 790.6h0" stroke="#bfa386" stroke-width="1.0" stroke-linecap="round"/>
<path d="M208.0 792.3h0M155.2 771.3h0M132.4 791.3h0M179.0 778.7h0M144.6 771.0h0M157.6 784.4h0M184.5 771.2h0M176.4 798.6h0M211.5 804.0h0M170.1 812.5h0M210.9 786.9h0M203.0 808.2h0M171.2 803.1h0M192.2 769.4h0M139.9 783.5h0M205.6 806.7h0M129.8 772.0h0M167.1 799.0h0M125.2 793.2h0M205.4 809.5h0M142.4 808.6h0M131.9 775.4h0M177.6 777.4h0M206.5 779.0h0M213.3 808.3h0M134.9 789.7h0M140.2 802.8h0" stroke="#ddd0bf" stroke-width="1.0" stroke-linecap="round"/>
<path d="M209.6 803.8h0M207.8 810.9h0M181.6 796.5h0M189.5 767.7h0M200.0 770.5h0M148.1 772.8h0M202.3 804.0h0M193.7 802.8h0M210.6 769.5h0M210.4 772.9h0M206.8 799.0h0M176.5 782.9h0M210.1 793.4h0M196.4 787.1h0M209.2 795.4h0M176.6 809.7h0M170.4 798.6h0M163.2 767.6h0M195.0 791.7h0M147.0 788.5h0M193.3 767.2h0M205.1 793.2h0M182.6 779.8h0M165.2 785.4h0M132.7 797.2h0M168.7 770.4h0M139.5 769.7h0M180.0 796.6h0M194.8 805.5h0M204.0 793.7h0M168.6 794.8h0M194.5 810.4h0M163.6 787.7h0M164.7 805.3h0M173.3 796.9h0M189.0 775.4h0M181.7 801.7h0M134.9 777.2h0M164.5 795.6h0M194.9 785.2h0" stroke="#bfa386" stroke-width="0.5" stroke-linecap="round"/>
<path d="M133.6 787.7h0M149.2 774.0h0M153.0 773.8h0M161.8 794.7h0M151.6 768.7h0M161.8 799.9h0M202.4 771.4h0M184.1 803.8h0M202.3 775.8h0M162.2 784.3h0M176.9 797.7h0M190.7 796.9h0M145.7 781.4h0M136.5 767.8h0M188.3 770.6h0M153.8 804.7h0M153.1 802.9h0M163.1 777.3h0M196.7 768.1h0M148.7 791.1h0M205.0 797.0h0M143.3 799.3h0M178.0 775.0h0M183.6 805.2h0M126.8 790.9h0M167.4 771.0h0M177.0 771.4h0M139.5 788.6h0M189.3 767.6h0M136.8 810.0h0M162.4 810.7h0M131.9 812.1h0M157.7 771.4h0M139.7 782.4h0M160.9 794.3h0M145.7 793.8h0M143.5 788.2h0M158.6 774.2h0M181.7 773.3h0M145.3 805.5h0M164.1 784.1h0M179.5 800.6h0M180.0 776.9h0M193.0 772.9h0M166.0 775.6h0M185.0 808.6h0M197.3 785.1h0M183.4 770.5h0M130.3 777.4h0M191.1 776.6h0M139.1 766.8h0" stroke="#c8b198" stroke-width="0.5" stroke-linecap="round"/>
<path d="M147.9 812.8h0M185.5 791.7h0M200.4 798.3h0M154.7 811.7h0M143.4 804.5h0M186.7 807.6h0M200.2 781.9h0M206.2 785.5h0M147.4 800.4h0M135.4 779.2h0M163.2 800.3h0M144.5 771.0h0M171.1 801.2h0M126.4 792.5h0M189.4 771.2h0M206.5 812.5h0M178.1 781.7h0M166.9 770.8h0M197.3 787.3h0M138.8 805.0h0M144.2 797.1h0M177.4 767.1h0M149.2 780.3h0M194.7 785.0h0M145.2 792.9h0M153.3 773.0h0M140.3 804.5h0M134.5 812.2h0M181.1 786.6h0" stroke="#d3bfa8" stroke-width="1.0" stroke-linecap="round"/>
<path d="M129.1 804.7h0M164.9 787.2h0M142.7 775.6h0M137.2 801.0h0M187.2 806.9h0M191.2 784.9h0M152.9 798.6h0M139.1 808.2h0M206.9 778.5h0M180.8 774.2h0M206.6 801.7h0M135.9 792.4h0M142.5 791.0h0M152.6 783.6h0M176.0 792.7h0M159.7 796.6h0M169.4 804.9h0M199.6 799.3h0M128.1 800.6h0M186.8 784.3h0M208.4 789.5h0M139.8 807.3h0M191.3 783.5h0M207.2 800.9h0M182.8 768.9h0M158.5 797.9h0M193.2 791.8h0M132.7 792.8h0M155.3 802.3h0M185.8 784.8h0M178.2 785.7h0M154.3 778.2h0M152.0 794.2h0" stroke="#c8b198" stroke-width="1.0" stroke-linecap="round"/>
<path d="M212.0 780.7h0M200.2 767.3h0M191.0 789.1h0M123.4 802.0h0M157.6 805.0h0M136.2 803.9h0M143.4 779.3h0M140.7 769.1h0M135.0 801.0h0M169.1 802.2h0M185.2 779.4h0M163.3 798.1h0M145.0 797.2h0M142.5 784.2h0M182.0 773.0h0M146.8 801.1h0M208.7 795.4h0M204.3 777.8h0M197.0 776.4h0M161.3 807.0h0M128.6 812.8h0M161.9 806.2h0M207.8 798.5h0M176.6 785.5h0M139.0 781.4h0M132.0 798.7h0M151.0 801.9h0M192.9 803.3h0M174.1 789.5h0M194.7 769.4h0M175.5 801.3h0M182.3 812.8h0M184.3 793.7h0M205.8 777.1h0M137.8 768.2h0M207.2 787.2h0M173.6 803.5h0M165.8 800.1h0M179.0 796.9h0M191.5 781.2h0M135.8 788.5h0M191.7 772.5h0" stroke="#ddd0bf" stroke-width="0.5" stroke-linecap="round"/>
</g>
<clipPath id="tc23"><rect x="221.5" y="766.1" width="92.5" height="47.2"/></clipPath>
<g clip-path="url(#tc23)">
<rect x="221.5" y="766.1" width="92.5" height="47.2" fill="#f0eeeb"/>
<path d="M221.5,802.92 L249.25,789.7 L281.62,785.92 L314,787.34" fill="none" stroke="#dedde9" stroke-opacity="1" stroke-width="12.27" stroke-linecap="round" stroke-linejoin="round" filter="url(#bl3)"/>
<path d="M283.8 783.1h0M312.1 791.2h0M288.4 788.2h0M227.1 799.7h0M313.7 792.6h0M297.3 785.9h0M240.1 789.6h0M265.6 789.7h0M224.4 801.0h0M233.0 793.5h0M238.2 794.0h0M260.5 793.3h0M275.7 792.6h0M301.5 788.6h0M233.6 796.8h0M259.5 786.8h0M250.9 782.3h0M225.4 794.9h0" stroke="#d6d5ea" stroke-width="1.5" stroke-linecap="round"/>
<path d="M227.4 796.8h0M229.0 796.4h0M237.5 796.2h0M251.8 790.0h0M276.3 785.5h0M305.3 787.9h0M260.9 789.3h0M240.4 796.7h0M289.2 790.2h0M273.4 791.7h0M251.2 790.5h0M293.8 789.0h0M298.6 787.7h0" stroke="#c8c7e2" stroke-width="1.5" stroke-linecap="round"/>
<path d="M284.7 785.8h0M245.7 795.8h0M259.2 790.3h0M270.8 788.1h0M311.2 788.1h0M290.5 787.8h0" stroke="#d0cfe7" stroke-width="2.0" stroke-linecap="round"/>
<path d="M285.8 784.8h0M231.4 795.2h0M265.5 788.8h0M260.2 797.4h0M313.3 785.6h0M232.0 800.7h0M257.2 787.8h0M298.0 789.2h0M278.9 789.1h0M237.8 799.7h0M308.5 790.6h0M252.3 789.7h0M261.9 787.9h0" stroke="#d0cfe7" stroke-width="1.5" stroke-linecap="round"/>
<path d="M231.3 797.5h0M278.9 787.6h0M228.2 800.8h0M248.4 788.4h0M308.0 784.2h0M275.3 779.6h0M268.2 786.5h0M292.3 779.6h0M272.9 787.8h0M283.8 783.4h0M242.5 787.5h0M274.9 789.2h0M273.9 784.8h0M307.9 780.7h0M276.6 786.5h0M269.2 785.7h0M299.2 787.5h0" stroke="#c1c0df" stroke-width="1.5" stroke-linecap="round"/>
<path d="M233.2 801.8h0M226.5 807.6h0M276.9 788.3h0M273.0 789.4h0M254.9 781.9h0" stroke="#d6d5ea" stroke-width="1.0" stroke-linecap="round"/>
<path d="M226.2 799.0h0M248.4 796.0h0M245.1 792.2h0M307.3 786.8h0M270.6 790.2h0M267.1 783.2h0" stroke="#c1c0df" stroke-width="2.0" stroke-linecap="round"/>
<path d="M306.0 790.4h0M236.0 799.9h0M308.7 792.1h0M236.1 790.2h0" stroke="#c8c7e2" stroke-width="1.0" stroke-linecap="round"/>
<path d="M258.4 789.5h0M275.4 783.8h0M258.2 787.4h0" stroke="#d0cfe7" stroke-width="1.0" stroke-linecap="round"/>
<path d="M244.4 798.5h0M283.6 786.0h0M250.1 795.1h0M229.8 801.3h0M223.1 803.7h0M230.4 795.6h0" stroke="#d6d5ea" stroke-width="2.0" stroke-linecap="round"/>
<path d="M238.5 798.2h0M251.2 785.7h0M265.8 796.7h0M231.7 797.7h0" stroke="#c8c7e2" stroke-width="2.0" stroke-linecap="round"/>
<path d="M312.1 789.4h0M232.1 799.7h0M264.5 781.3h0" stroke="#c1c0df" stroke-width="1.0" stroke-linecap="round"/>
<path d="M253.3 806.6h0M249.9 789.0h0M289.9 784.1h0M287.8 786.0h0M296.9 801.0h0M264.9 772.7h0M268.7 790.0h0M294.6 802.4h0M264.1 797.3h0M271.9 779.4h0M231.1 803.6h0M225.1 767.5h0M233.6 799.9h0M296.4 801.4h0M238.3 772.7h0M301.2 812.7h0M229.3 771.6h0M280.5 780.0h0M277.8 791.4h0M283.2 787.3h0M270.8 801.9h0M261.6 799.8h0" stroke="#bfa386" stroke-width="0.5" stroke-linecap="round"/>
<path d="M266.0 808.4h0M229.3 773.0h0M225.9 808.0h0M262.2 777.6h0M244.5 791.1h0M277.2 768.7h0M263.5 796.6h0M277.6 799.4h0M259.3 809.1h0M254.7 786.4h0M270.1 796.2h0" stroke="#c8b198" stroke-width="1.0" stroke-linecap="round"/>
<path d="M253.7 789.3h0M299.4 791.2h0M231.3 792.6h0M302.7 799.2h0M294.0 771.5h0M260.4 801.0h0M239.8 787.6h0M260.2 773.1h0M297.5 811.5h0M245.9 780.4h0M257.0 775.2h0M273.9 805.7h0M253.8 782.4h0M282.9 790.7h0M256.5 787.0h0M228.1 769.3h0M293.2 798.4h0M292.8 808.3h0M244.8 774.1h0M229.4 809.3h0M229.4 801.2h0M263.7 811.9h0M313.5 767.9h0M300.0 800.9h0M277.2 783.3h0M238.0 789.2h0M288.4 800.8h0M243.5 773.0h0M280.0 769.4h0M275.6 791.7h0M310.4 788.4h0M227.0 793.6h0" stroke="#d3bfa8" stroke-width="0.5" stroke-linecap="round"/>
<path d="M257.7 798.2h0M243.3 806.0h0M237.4 769.3h0M275.8 771.0h0M300.1 771.0h0M305.0 810.3h0M222.1 807.6h0M252.4 788.7h0M252.1 809.0h0M255.4 784.8h0M254.2 807.2h0M226.1 796.8h0M243.9 774.1h0M278.8 797.4h0M273.3 782.8h0M233.1 798.5h0M225.2 787.0h0M268.9 797.4h0M293.9 779.6h0M280.7 771.1h0M241.7 780.9h0" stroke="#bfa386" stroke-width="1.0" stroke-linecap="round"/>
<path d="M282.7 800.7h0M313.4 790.3h0M253.6 811.5h0M276.1 803.3h0M291.6 782.0h0M286.7 811.3h0M251.4 806.1h0M267.1 803.8h0M300.4 780.2h0M232.3 793.8h0M305.8 800.0h0M288.2 802.2h0M239.9 807.2h0M261.6 768.8h0M257.7 770.3h0M301.8 771.4h0M229.3 781.0h0" stroke="#d3bfa8" stroke-width="1.0" stroke-linecap="round"/>
<path d="M249.3 771.8h0M283.2 779.0h0M286.4 769.9h0M237.7 800.4h0M273.0 770.3h0M310.9 799.1h0M274.7 788.5h0M253.5 796.5h0M264.2 793.1h0M287.8 786.7h0M263.5 806.4h0M281.5 780.0h0M255.5 796.3h0M249.0 811.7h0M266.5 806.0h0M294.1 806.2h0M270.0 783.7h0" stroke="#ddd0bf" stroke-width="0.5" stroke-linecap="round"/>
<path d="M222.5 805.0h0M281.4 808.1h0M236.6 807.3h0M306.1 786.2h0M279.1 806.6h0M247.1 808.6h0M277.5 773.7h0M239.6 773.0h0M231.4 805.1h0M234.2 786.4h0M310.1 811.6h0M255.5 775.7h0M255.9 777.7h0M246.0 788.1h0M222.0 800.0h0M302.6 808.3h0M255.6 797.0h0M241.2 783.8h0M252.0 769.3h0M272.4 805.4h0M224.8 775.2h0M291.8 789.2h0M238.2 812.7h0M260.0 799.8h0M239.0 774.7h0" stroke="#c8b198" stroke-width="0.5" stroke-linecap="round"/>
<path d="M277.7 766.7h0M224.7 793.5h0M296.6 785.3h0M299.3 781.4h0M312.3 767.1h0M249.5 781.6h0M275.2 777.5h0M308.0 775.0h0M274.2 780.4h0M234.2 769.8h0M311.5 773.7h0M293.0 776.5h0M288.5 778.1h0M301.0 800.0h0M266.4 775.5h0M275.6 790.5h0M247.7 777.2h0M281.9 810.5h0M244.4 776.6h0M254.5 772.9h0M264.8 810.3h0M280.1 773.3h0M238.7 796.9h0M274.5 799.7h0M223.2 808.0h0" stroke="#ddd0bf" stroke-width="1.0" stroke-linecap="round"/>
<path d="M253.7 790.4h0M288.8 802.0h0M289.7 771.8h0M223.0 775.2h0M294.2 782.9h0M236.6 781.7h0M267.1 804.2h0" stroke="#a57a56" stroke-width="1.0" stroke-linecap="round"/>
<path d="M230.4 778.2h0M282.2 786.4h0M269.1 800.7h0M297.2 806.7h0" stroke="#946848" stroke-width="1.0" stroke-linecap="round"/>
<path d="M227.7 805.1h0" stroke="#946848" stroke-width="1.5" stroke-linecap="round"/>
<path d="M250.7 786.6h0M232.5 778.9h0M285.7 810.0h0M278.1 806.4h0M248.3 800.1h0M238.3 790.5h0M287.0 808.3h0M282.4 799.4h0" stroke="#86593a" stroke-width="1.0" stroke-linecap="round"/>
<path d="M255.8 790.2h0M312.4 769.5h0" stroke="#86593a" stroke-width="1.5" stroke-linecap="round"/>
<path d="M299.5 785.7h0" stroke="#b58f6c" stroke-width="1.5" stroke-linecap="round"/>
<path d="M256.7 776.2h0M283.7 800.4h0M238.0 806.7h0M270.7 774.9h0M264.0 792.2h0" stroke="#b58f6c" stroke-width="1.0" stroke-linecap="round"/>
<path d="M283.6 789.5h0M286.8 801.4h0M226.6 771.1h0M285.4 785.8h0M283.7 810.8h0M298.8 774.6h0M259.2 802.1h0M285.3 804.8h0M253.3 772.5h0M241.4 776.5h0M262.1 776.9h0M298.7 796.6h0M270.3 796.0h0M245.3 787.3h0M243.0 771.0h0M233.9 801.6h0" stroke="#bebddf" stroke-width="1.0" stroke-linecap="round"/>
<path d="M276.2 778.3h0M253.7 774.8h0M248.9 782.3h0" stroke="#bebddf" stroke-width="1.5" stroke-linecap="round"/>
<path d="M288.9 782.7h0M300.6 790.3h0M252.5 777.9h0M257.9 783.5h0M256.7 776.1h0M240.3 773.7h0M247.7 811.5h0M305.9 772.5h0M266.0 812.5h0" stroke="#c8c7e5" stroke-width="1.0" stroke-linecap="round"/>
<path d="M286.1 768.7h0M263.5 800.7h0M281.9 788.4h0M289.5 772.4h0M234.5 808.9h0M295.2 778.7h0M248.8 801.9h0" stroke="#c8c7e5" stroke-width="1.5" stroke-linecap="round"/>
</g>
<clipPath id="tc33"><rect x="315.6" y="766.1" width="91.4" height="47.2"/></clipPath>
<g clip-path="url(#tc33)">
<rect x="315.6" y="766.1" width="91.4" height="47.2" fill="#f0eeeb"/>
<path d="M315.6,802.92 L343.02,789.7 L375.01,785.92 L407,787.34" fill="none" stroke="#dedde9" stroke-opacity="1" stroke-width="12.27" stroke-linecap="round" stroke-linejoin="round" filter="url(#bl3)"/>
<path d="M405.1 783.7h0M368.2 783.6h0M403.8 786.1h0M360.3 788.2h0M337.4 788.0h0M319.5 798.3h0M387.4 785.4h0M325.9 801.7h0M377.1 785.3h0M361.8 786.6h0M368.9 791.0h0M393.8 787.6h0M371.6 785.9h0M381.1 781.7h0M327.9 799.4h0M377.5 780.8h0M403.3 794.5h0M372.2 780.6h0" stroke="#d6d5ea" stroke-width="1.5" stroke-linecap="round"/>
<path d="M329.5 795.6h0M367.6 791.6h0M331.7 796.5h0M374.7 787.1h0M385.3 787.8h0M351.6 796.8h0" stroke="#c8c7e2" stroke-width="1.0" stroke-linecap="round"/>
<path d="M347.0 787.2h0M390.2 791.3h0M385.7 778.2h0M359.5 790.8h0M330.5 798.4h0M368.6 785.2h0M358.0 785.6h0M336.0 792.9h0M340.6 788.2h0M348.0 789.8h0M345.3 786.4h0M382.3 786.9h0" stroke="#d0cfe7" stroke-width="1.5" stroke-linecap="round"/>
<path d="M328.5 794.8h0M345.6 787.3h0M381.2 787.0h0M396.9 789.6h0M381.6 783.9h0" stroke="#d0cfe7" stroke-width="2.0" stroke-linecap="round"/>
<path d="M337.6 800.2h0M378.2 788.0h0M318.8 800.0h0M344.3 786.0h0M371.3 786.0h0M320.6 800.3h0M344.0 788.2h0M394.0 791.0h0M368.6 784.7h0M349.8 787.0h0M378.1 783.6h0M334.6 792.3h0M365.1 788.2h0M345.4 795.2h0M337.9 791.1h0M326.8 792.6h0M377.7 787.6h0M345.0 785.2h0" stroke="#c8c7e2" stroke-width="1.5" stroke-linecap="round"/>
<path d="M339.2 787.2h0M323.5 798.4h0M337.9 794.8h0M393.4 793.2h0M406.3 792.0h0" stroke="#c1c0df" stroke-width="1.0" stroke-linecap="round"/>
<path d="M338.9 789.3h0M374.6 790.1h0M347.9 791.7h0M341.3 790.5h0" stroke="#d6d5ea" stroke-width="2.0" stroke-linecap="round"/>
<path d="M339.4 788.5h0M378.7 788.4h0M368.1 788.1h0M377.5 785.5h0M318.0 805.6h0M322.4 800.0h0M337.1 784.8h0M385.2 787.2h0M367.0 788.5h0M382.7 783.2h0M389.6 786.0h0M322.8 793.5h0M351.5 790.1h0M380.8 783.6h0M325.9 798.9h0M379.9 786.3h0M332.8 793.5h0M347.6 793.9h0" stroke="#c1c0df" stroke-width="1.5" stroke-linecap="round"/>
<path d="M352.8 790.0h0M406.4 786.2h0M357.4 785.0h0" stroke="#d6d5ea" stroke-width="1.0" stroke-linecap="round"/>
<path d="M360.9 787.7h0M366.3 792.6h0M318.5 806.6h0M354.2 792.5h0" stroke="#c8c7e2" stroke-width="2.0" stroke-linecap="round"/>
<path d="M381.0 785.2h0M353.6 788.7h0" stroke="#d0cfe7" stroke-width="1.0" stroke-linecap="round"/>
<path d="M319.3 798.5h0M323.1 798.6h0" stroke="#c1c0df" stroke-width="2.0" stroke-linecap="round"/>
<path d="M401.6 803.0h0M328.1 777.2h0M381.5 804.4h0M394.8 770.6h0M319.6 797.7h0M372.8 802.8h0M321.9 808.9h0M342.9 790.7h0M383.8 772.7h0M341.9 783.0h0M359.3 795.7h0M336.6 805.9h0M329.8 796.1h0M382.8 788.0h0M343.6 810.0h0M341.9 802.5h0M396.0 780.3h0M403.7 811.1h0M367.7 778.8h0M332.8 800.4h0M346.4 809.2h0M388.4 772.8h0M399.5 800.6h0M323.2 787.0h0M329.0 782.3h0M388.6 790.7h0M389.2 766.9h0M382.4 810.5h0M328.0 786.9h0M328.8 768.9h0M356.7 779.8h0" stroke="#bfa386" stroke-width="0.5" stroke-linecap="round"/>
<path d="M368.4 769.6h0M371.6 784.9h0M404.8 769.7h0M363.0 788.8h0M389.8 789.2h0M337.2 775.4h0M341.0 768.9h0M397.0 778.6h0M349.0 783.3h0M371.8 805.7h0M322.8 786.3h0M391.8 794.3h0M383.7 783.3h0" stroke="#d3bfa8" stroke-width="1.0" stroke-linecap="round"/>
<path d="M330.0 781.8h0M403.6 798.1h0M324.9 791.4h0M333.4 773.1h0M330.9 794.3h0M388.8 799.4h0M330.2 801.3h0M363.1 805.5h0M387.6 804.3h0M365.1 785.7h0M366.7 811.3h0M343.3 802.3h0M376.8 794.4h0M359.9 786.6h0M354.0 801.6h0M358.0 777.0h0M396.7 787.6h0M317.3 806.3h0M354.1 795.6h0M371.7 801.4h0M318.8 803.9h0M382.0 789.1h0M355.8 796.8h0" stroke="#ddd0bf" stroke-width="0.5" stroke-linecap="round"/>
<path d="M347.6 785.0h0M331.3 797.6h0M367.5 784.0h0M350.6 791.0h0M387.1 779.1h0M331.6 777.1h0M343.4 788.2h0M355.1 797.5h0M399.4 794.1h0M384.9 810.1h0M388.9 778.7h0M353.1 775.5h0M400.2 769.5h0M341.6 803.7h0M379.6 804.4h0M373.8 805.9h0M349.9 810.6h0M394.3 796.9h0M333.7 778.2h0M323.9 801.2h0M331.6 785.9h0M369.0 811.3h0M389.4 781.9h0" stroke="#bfa386" stroke-width="1.0" stroke-linecap="round"/>
<path d="M335.2 787.9h0M401.6 797.1h0M373.2 782.3h0M335.0 792.5h0M388.8 802.0h0M339.3 776.1h0M339.4 789.7h0M402.4 803.2h0M382.5 812.2h0M406.0 768.3h0M373.3 803.1h0M352.0 786.4h0M330.2 800.6h0M399.8 771.8h0M371.5 812.0h0M376.5 799.2h0M365.8 786.4h0M405.8 803.6h0" stroke="#d3bfa8" stroke-width="0.5" stroke-linecap="round"/>
<path d="M399.7 804.9h0M375.1 774.6h0M369.0 810.4h0M388.2 766.7h0M352.3 802.8h0M320.1 792.7h0M386.2 790.2h0M320.2 799.0h0M385.2 774.5h0M401.5 812.7h0M363.3 769.4h0M379.7 770.0h0M399.4 792.1h0M404.3 790.0h0M350.7 792.9h0M379.1 774.9h0M339.0 777.1h0M402.7 789.0h0M347.9 777.2h0M327.8 774.0h0M346.2 776.6h0M336.5 768.2h0M366.0 790.5h0M395.3 806.0h0M379.2 804.4h0M332.2 777.4h0M335.3 790.3h0" stroke="#c8b198" stroke-width="0.5" stroke-linecap="round"/>
<path d="M372.5 780.1h0M349.3 805.0h0M402.0 782.5h0M359.5 794.5h0M372.8 767.2h0M343.3 769.1h0M368.4 780.2h0M334.6 789.6h0M394.4 776.8h0M362.2 792.8h0M359.2 794.8h0M318.4 779.6h0M374.4 767.3h0M329.1 806.4h0M338.9 778.6h0M357.4 774.7h0M387.7 793.2h0M327.1 787.9h0" stroke="#c8b198" stroke-width="1.0" stroke-linecap="round"/>
<path d="M334.6 782.7h0M382.1 788.5h0M324.4 770.3h0M403.6 774.3h0M387.1 804.4h0M390.2 800.8h0M351.4 803.1h0M346.6 770.8h0M318.9 779.4h0M357.8 777.2h0M350.5 772.9h0M342.5 772.9h0M349.5 781.7h0M353.8 801.6h0M360.5 802.8h0M393.0 806.9h0M362.3 784.5h0" stroke="#ddd0bf" stroke-width="1.0" stroke-linecap="round"/>
<path d="M327.5 788.4h0M366.1 799.6h0M351.2 778.6h0M404.1 780.3h0M355.0 790.5h0M367.0 808.4h0M326.0 782.1h0M323.7 806.6h0" stroke="#86593a" stroke-width="1.0" stroke-linecap="round"/>
<path d="M382.9 794.4h0M392.6 806.0h0" stroke="#86593a" stroke-width="1.5" stroke-linecap="round"/>
<path d="M381.9 804.7h0M368.7 806.0h0M403.5 783.1h0M361.4 807.2h0M358.9 794.9h0M385.2 810.8h0" stroke="#946848" stroke-width="1.0" stroke-linecap="round"/>
<path d="M359.5 796.5h0M334.2 768.4h0M374.1 769.0h0M365.7 772.9h0M351.1 796.4h0" stroke="#b58f6c" stroke-width="1.0" stroke-linecap="round"/>
<path d="M369.7 770.6h0M404.3 811.3h0M344.6 769.8h0M382.9 770.3h0M398.1 780.9h0M334.7 803.9h0" stroke="#a57a56" stroke-width="1.0" stroke-linecap="round"/>
<path d="M390.3 804.2h0" stroke="#b58f6c" stroke-width="1.5" stroke-linecap="round"/>
<path d="M399.9 790.5h0M399.2 811.7h0M358.4 788.1h0M362.9 770.6h0M379.9 785.0h0M382.2 784.4h0M367.1 788.5h0M406.1 776.4h0M379.5 795.7h0M384.3 768.6h0M390.2 776.5h0M320.4 794.7h0M381.3 797.1h0M331.6 809.9h0" stroke="#bebddf" stroke-width="1.0" stroke-linecap="round"/>
<path d="M355.9 793.2h0M379.7 769.2h0M391.2 774.2h0M330.1 812.0h0M334.2 788.5h0M335.4 774.4h0M326.8 796.7h0" stroke="#bebddf" stroke-width="1.5" stroke-linecap="round"/>
<path d="M392.6 803.7h0M390.0 789.4h0M394.2 792.0h0M320.6 784.4h0M372.0 808.1h0" stroke="#c8c7e5" stroke-width="1.5" stroke-linecap="round"/>
<path d="M324.6 811.4h0M394.6 773.7h0M326.9 806.5h0M394.1 773.9h0M360.7 778.0h0M388.9 779.8h0M385.8 806.6h0M354.7 774.0h0M346.9 790.2h0" stroke="#c8c7e5" stroke-width="1.0" stroke-linecap="round"/>
</g>
<clipPath id="tc04"><rect x="28.6" y="815.5" width="92" height="47.1"/></clipPath>
<g clip-path="url(#tc04)">
<rect x="28.6" y="815.5" width="92" height="47.1" fill="#ece7e0"/>
<path d="M48.84,864.96 L74.6,839.05 L102.2,815.5" fill="none" stroke="#dfdce5" stroke-opacity="1" stroke-width="16.01" stroke-linecap="round" stroke-linejoin="round" filter="url(#bl3)"/>
<path d="M72.3 832.3h0M58.0 846.2h0M93.3 823.4h0M68.0 845.3h0M85.2 830.0h0M87.0 831.5h0M72.2 833.0h0" stroke="#d0cfe7" stroke-width="1.0" stroke-linecap="round"/>
<path d="M76.1 846.2h0M64.9 847.6h0M74.8 843.0h0M70.2 848.0h0M99.5 825.5h0M59.2 858.4h0M66.8 843.4h0M52.5 860.0h0M83.4 822.3h0M87.3 828.2h0M59.5 845.7h0M101.5 820.7h0M70.3 850.5h0M50.6 855.8h0" stroke="#d0cfe7" stroke-width="1.5" stroke-linecap="round"/>
<path d="M95.2 821.1h0M57.1 852.9h0M82.5 835.2h0M91.3 826.7h0M90.6 834.1h0M98.6 821.7h0M93.4 825.7h0M55.4 855.9h0M47.8 861.8h0M90.3 826.2h0M87.4 837.4h0M68.9 839.8h0" stroke="#d6d5ea" stroke-width="1.5" stroke-linecap="round"/>
<path d="M76.3 841.5h0M100.7 821.2h0M69.9 845.6h0M54.3 851.0h0M56.8 860.5h0M94.4 820.1h0M68.3 833.4h0M93.3 818.5h0M67.7 854.9h0M61.5 848.7h0M50.8 853.1h0M93.1 825.1h0M84.0 829.5h0M70.3 835.7h0M92.8 837.2h0M74.5 836.2h0M70.0 836.2h0M81.3 829.7h0M73.8 839.7h0" stroke="#c1c0df" stroke-width="1.5" stroke-linecap="round"/>
<path d="M60.1 846.8h0M80.8 828.6h0M73.4 840.4h0M86.7 824.9h0M74.1 841.9h0" stroke="#c8c7e2" stroke-width="2.0" stroke-linecap="round"/>
<path d="M80.7 835.8h0M68.1 840.5h0M88.3 836.8h0M69.1 847.9h0" stroke="#d6d5ea" stroke-width="2.0" stroke-linecap="round"/>
<path d="M73.6 842.8h0M69.0 837.8h0M74.2 841.4h0" stroke="#c1c0df" stroke-width="1.0" stroke-linecap="round"/>
<path d="M64.6 861.1h0M93.2 815.8h0M48.9 859.5h0M96.7 820.6h0M84.7 828.0h0M63.4 862.4h0M91.4 826.7h0M68.1 850.5h0M98.8 819.0h0M56.5 860.0h0M76.7 842.0h0M66.9 852.5h0" stroke="#c8c7e2" stroke-width="1.5" stroke-linecap="round"/>
<path d="M87.1 822.2h0M67.6 851.6h0M51.6 857.8h0M92.8 823.0h0" stroke="#c8c7e2" stroke-width="1.0" stroke-linecap="round"/>
<path d="M71.8 840.7h0M60.9 856.0h0M68.2 840.3h0" stroke="#d6d5ea" stroke-width="1.0" stroke-linecap="round"/>
<path d="M67.7 836.6h0M72.1 839.7h0M97.1 827.1h0M74.9 848.0h0" stroke="#c1c0df" stroke-width="2.0" stroke-linecap="round"/>
<path d="M97.3 816.4h0M61.5 859.1h0M56.8 850.9h0M78.1 839.7h0" stroke="#d0cfe7" stroke-width="2.0" stroke-linecap="round"/>
<path d="M28.6,839.05 L39.64,824.92 L56.2,815.5" fill="none" stroke="#9a7258" stroke-width="1.5" stroke-linecap="round" filter="url(#bl4)"/>
<path d="M63.2 827.6h0M94.4 848.6h0M35.0 855.7h0M38.9 821.3h0M74.9 822.8h0M97.9 855.2h0M96.9 830.6h0M115.9 854.8h0M35.6 859.0h0M51.6 840.5h0M98.1 855.7h0M93.3 821.7h0M91.0 828.1h0M45.0 849.7h0M72.0 818.8h0" stroke="#b58f6c" stroke-width="1.0" stroke-linecap="round"/>
<path d="M90.6 857.0h0M50.5 841.0h0M57.6 838.9h0M54.0 854.7h0M75.9 854.3h0M89.4 821.0h0M65.7 819.3h0M104.9 853.2h0M84.1 825.2h0" stroke="#86593a" stroke-width="1.0" stroke-linecap="round"/>
<path d="M60.2 840.5h0M65.0 859.3h0M44.8 858.0h0M41.7 821.4h0M31.8 859.2h0M70.2 857.3h0M68.7 858.9h0M67.1 816.2h0M115.7 826.9h0" stroke="#a57a56" stroke-width="1.0" stroke-linecap="round"/>
<path d="M83.3 845.8h0M116.6 850.5h0M71.1 842.2h0M32.4 829.1h0M71.2 859.7h0M102.2 823.9h0M41.8 848.3h0M74.8 827.4h0M74.9 843.0h0M107.3 837.8h0M73.2 834.6h0" stroke="#946848" stroke-width="1.0" stroke-linecap="round"/>
<path d="M83.2 851.5h0M109.9 833.6h0M107.2 859.4h0" stroke="#86593a" stroke-width="1.5" stroke-linecap="round"/>
<path d="M118.7 851.6h0" stroke="#b58f6c" stroke-width="1.5" stroke-linecap="round"/>
<path d="M34.1 845.5h0M34.9 841.2h0M93.7 819.9h0M75.2 851.2h0M40.0 836.1h0M107.7 857.6h0M99.3 837.5h0M66.3 846.0h0M100.2 826.7h0M92.5 833.1h0M92.7 827.1h0M103.1 858.1h0M70.0 857.8h0M117.1 843.9h0M52.4 822.3h0M97.1 823.6h0M78.4 823.1h0M75.4 851.7h0M106.0 839.2h0M85.6 849.0h0M63.1 838.2h0M90.5 824.4h0M99.1 857.5h0M63.8 850.5h0M92.8 839.7h0" stroke="#d3bfa8" stroke-width="1.0" stroke-linecap="round"/>
<path d="M63.0 850.7h0M48.5 843.2h0M113.1 843.4h0M57.1 817.1h0M32.5 840.5h0M108.8 841.0h0M98.9 845.0h0M58.1 852.3h0M41.0 845.8h0M91.7 845.5h0M97.2 823.9h0M56.0 821.9h0M53.6 845.7h0M63.7 846.8h0M68.7 816.2h0M88.7 834.2h0M43.3 817.0h0M112.9 828.9h0M52.5 849.7h0M61.1 852.7h0M67.6 830.8h0M33.0 846.2h0M52.1 821.9h0M70.4 831.5h0M39.6 858.4h0M31.6 825.2h0M52.8 850.4h0M51.4 826.6h0M85.7 834.1h0M61.6 861.5h0M52.4 828.2h0M112.8 823.7h0M88.0 843.2h0M68.8 849.8h0M51.4 849.4h0M50.8 843.9h0M30.3 838.1h0M31.1 824.1h0M59.3 836.6h0M83.0 835.1h0M49.9 841.4h0M52.5 860.1h0M111.9 855.7h0M31.7 851.6h0M61.6 827.6h0M81.0 842.1h0M120.1 831.1h0M72.9 821.3h0M40.4 822.8h0M103.3 825.4h0M74.0 817.1h0M41.5 842.2h0M71.1 825.9h0M34.3 835.4h0M99.3 830.3h0M85.0 852.3h0M35.1 839.2h0" stroke="#ddd0bf" stroke-width="0.5" stroke-linecap="round"/>
<path d="M55.7 836.5h0M119.9 832.2h0M68.8 861.2h0M46.6 821.5h0M49.8 853.0h0M77.9 858.5h0M29.1 827.2h0M47.2 830.7h0M55.2 850.2h0M100.1 824.1h0M89.3 860.2h0M65.9 848.7h0M80.4 821.5h0M34.1 853.6h0M72.5 846.7h0M98.7 835.1h0M88.2 819.5h0M112.0 831.1h0M73.2 847.2h0M44.8 843.8h0M81.8 816.6h0M84.6 846.5h0M41.3 822.9h0M106.3 836.8h0M63.4 846.3h0M119.3 851.6h0M114.9 839.3h0M82.5 822.6h0M68.1 843.0h0M64.2 833.5h0M61.1 843.4h0M33.8 822.7h0M48.1 854.4h0M57.4 850.2h0M94.5 856.9h0M98.7 836.7h0M103.1 836.5h0M38.9 847.5h0M100.6 860.3h0" stroke="#c8b198" stroke-width="1.0" stroke-linecap="round"/>
<path d="M71.5 835.3h0M51.6 847.2h0M96.3 852.4h0M33.2 843.2h0M62.1 856.8h0M43.0 861.8h0M31.6 816.7h0M79.0 844.6h0M106.3 832.4h0M53.3 840.1h0M116.0 828.3h0M43.1 855.4h0M104.5 847.2h0M94.5 859.5h0M42.5 827.4h0M29.5 828.0h0M84.0 846.0h0M116.9 852.7h0M38.4 857.8h0M115.2 827.6h0M118.0 847.6h0M50.9 829.1h0M47.1 857.2h0M100.4 835.5h0M72.7 826.5h0M55.2 848.5h0M109.1 844.3h0M109.9 821.9h0M83.7 849.2h0M68.2 835.9h0M85.2 841.4h0M89.6 858.9h0M118.3 831.0h0M111.8 816.5h0M30.6 841.4h0M99.7 851.5h0M83.3 824.1h0M39.0 828.4h0M49.0 840.7h0M66.9 841.2h0" stroke="#d3bfa8" stroke-width="0.5" stroke-linecap="round"/>
<path d="M61.2 854.8h0M53.2 837.8h0M77.5 821.2h0M75.4 848.6h0M105.7 837.4h0M106.5 857.1h0M88.5 817.3h0M96.4 851.5h0M87.0 859.5h0M93.5 816.9h0M83.8 856.1h0M111.2 837.8h0M34.3 835.7h0M77.8 818.1h0M63.6 820.8h0M111.1 852.8h0M30.1 858.1h0M40.7 823.5h0M79.8 826.4h0M57.0 835.3h0M113.2 845.1h0M65.9 859.9h0M82.8 838.7h0M49.8 822.4h0M77.2 848.7h0M36.7 836.2h0M94.1 843.3h0M108.6 817.7h0M107.3 855.6h0M72.7 823.2h0M108.1 856.0h0M40.0 823.9h0M64.9 838.9h0M104.7 827.3h0M32.6 838.6h0M68.4 848.1h0M85.2 855.2h0M108.8 828.2h0M38.4 849.7h0M115.8 855.8h0M118.8 840.3h0M113.8 861.3h0M79.0 817.7h0M109.7 829.3h0M75.7 837.8h0" stroke="#c8b198" stroke-width="0.5" stroke-linecap="round"/>
<path d="M102.1 836.8h0M84.7 851.3h0M88.4 831.0h0M110.3 847.3h0M84.8 859.4h0M119.6 853.0h0M76.8 839.1h0M111.0 853.0h0M37.2 836.5h0M97.8 861.4h0M47.5 858.9h0M109.4 849.4h0M70.3 845.0h0M50.3 821.9h0M98.7 854.5h0M117.1 845.0h0M36.9 828.0h0M119.6 857.1h0M47.1 847.6h0M63.5 820.2h0M92.5 823.9h0M115.0 838.3h0M80.5 848.2h0M78.2 831.1h0M89.9 826.7h0M63.4 852.7h0M100.2 826.2h0M30.3 844.9h0M96.3 835.5h0M99.1 830.6h0M118.8 838.8h0M56.4 844.3h0M30.0 857.8h0M30.5 833.3h0M116.9 824.2h0M89.6 847.8h0M113.6 840.0h0M31.0 819.6h0M58.2 842.2h0M70.2 840.4h0M74.7 842.9h0M102.8 821.8h0M30.8 824.9h0M92.9 841.4h0M90.8 859.0h0M112.1 835.1h0" stroke="#bfa386" stroke-width="0.5" stroke-linecap="round"/>
<path d="M117.5 842.0h0M117.8 818.2h0M98.8 854.3h0M79.6 830.4h0M93.4 847.2h0M51.5 834.7h0M58.7 818.7h0M43.0 848.6h0M51.0 826.4h0M45.5 849.2h0M69.0 831.9h0M97.7 828.5h0M74.0 826.4h0M110.5 816.0h0M76.0 857.5h0M35.2 849.1h0M82.5 849.6h0M111.3 854.6h0M81.5 854.1h0M59.2 826.6h0M56.4 839.1h0M81.2 860.0h0M85.2 838.6h0M80.1 857.7h0M58.5 851.3h0M68.4 854.8h0M47.8 859.7h0M54.4 849.8h0" stroke="#bfa386" stroke-width="1.0" stroke-linecap="round"/>
<path d="M111.1 843.6h0M33.8 822.9h0M119.5 849.4h0M72.2 856.2h0M114.2 832.1h0M89.5 855.3h0M92.8 829.2h0M41.8 819.2h0M96.4 856.9h0M46.1 851.5h0M48.1 861.1h0M102.0 837.9h0M41.2 821.1h0M33.5 835.3h0M29.9 827.1h0M49.0 822.3h0M85.7 833.0h0M94.1 839.4h0M92.9 850.0h0M64.7 851.2h0M37.2 816.9h0M46.6 854.0h0M106.6 836.9h0M69.0 828.4h0M103.8 859.4h0M33.0 837.0h0" stroke="#ddd0bf" stroke-width="1.0" stroke-linecap="round"/>
</g>
<clipPath id="tc14"><rect x="122.2" y="815.5" width="91.8" height="47.1"/></clipPath>
<g clip-path="url(#tc14)">
<rect x="122.2" y="815.5" width="91.8" height="47.1" fill="#ece7e0"/>
<path d="M142.4,864.96 L168.1,839.05 L195.64,815.5" fill="none" stroke="#dfdce5" stroke-opacity="1" stroke-width="16.01" stroke-linecap="round" stroke-linejoin="round" filter="url(#bl3)"/>
<path d="M155.0 845.3h0M178.3 829.9h0M173.8 839.9h0M189.3 818.8h0M151.6 862.4h0M158.0 842.4h0" stroke="#c1c0df" stroke-width="2.0" stroke-linecap="round"/>
<path d="M185.8 822.5h0M183.0 834.2h0M165.6 847.1h0M189.9 825.6h0M176.3 841.8h0M193.1 818.9h0M172.6 827.5h0M181.3 834.8h0M162.9 849.7h0M148.0 862.4h0M166.7 838.3h0M171.0 847.8h0M149.0 858.0h0M153.9 847.8h0M175.2 827.7h0M163.0 844.9h0" stroke="#c8c7e2" stroke-width="1.5" stroke-linecap="round"/>
<path d="M173.1 835.4h0M173.6 840.5h0M195.8 819.6h0M188.9 819.5h0M153.9 859.1h0M142.1 855.9h0M184.1 825.8h0M188.8 820.4h0M165.7 844.7h0M160.9 847.8h0M174.4 829.7h0M165.2 840.5h0" stroke="#d0cfe7" stroke-width="1.5" stroke-linecap="round"/>
<path d="M174.7 832.1h0M182.4 831.7h0M175.6 827.4h0M170.5 844.0h0M143.7 849.8h0M180.8 834.8h0" stroke="#c8c7e2" stroke-width="2.0" stroke-linecap="round"/>
<path d="M166.2 844.1h0M190.2 827.5h0M179.6 825.6h0M161.6 836.3h0M190.1 828.0h0" stroke="#c8c7e2" stroke-width="1.0" stroke-linecap="round"/>
<path d="M191.2 830.5h0M162.8 839.0h0M156.7 854.8h0M142.3 862.1h0M154.6 852.6h0M147.0 851.9h0M163.6 848.8h0M183.5 819.0h0M198.2 822.7h0M158.5 833.1h0M152.1 850.6h0M189.1 823.9h0M186.4 821.8h0M184.9 821.9h0" stroke="#d6d5ea" stroke-width="1.5" stroke-linecap="round"/>
<path d="M172.1 833.2h0M172.3 838.7h0M156.6 840.0h0M161.6 830.6h0M160.9 849.2h0M169.1 844.0h0M179.0 826.2h0M188.5 817.2h0M175.3 837.4h0M198.5 821.0h0M148.8 856.1h0M179.4 827.5h0M182.7 829.7h0" stroke="#c1c0df" stroke-width="1.5" stroke-linecap="round"/>
<path d="M165.9 838.4h0M151.9 858.8h0M143.3 860.7h0M187.2 831.2h0M178.7 822.0h0" stroke="#c1c0df" stroke-width="1.0" stroke-linecap="round"/>
<path d="M159.6 842.3h0M164.8 845.0h0M157.2 850.5h0M143.4 857.1h0M169.4 844.6h0" stroke="#d0cfe7" stroke-width="1.0" stroke-linecap="round"/>
<path d="M189.5 830.0h0M186.6 827.0h0M166.5 842.8h0M167.4 847.3h0" stroke="#d6d5ea" stroke-width="2.0" stroke-linecap="round"/>
<path d="M191.8 822.6h0M152.6 860.6h0" stroke="#d0cfe7" stroke-width="2.0" stroke-linecap="round"/>
<path d="M153.0 851.5h0M159.6 844.9h0" stroke="#d6d5ea" stroke-width="1.0" stroke-linecap="round"/>
<path d="M124.04,836.7 L135.05,824.92 L147.9,815.5" fill="none" stroke="#9a7258" stroke-width="1.5" stroke-linecap="round" filter="url(#bl4)"/>
<path d="M190.1 854.2h0M201.0 856.7h0M184.4 819.3h0M141.8 831.5h0M126.2 851.8h0M151.5 833.1h0M199.9 823.1h0M207.6 848.1h0M194.7 846.6h0M132.6 861.1h0M190.1 859.1h0" stroke="#86593a" stroke-width="1.0" stroke-linecap="round"/>
<path d="M198.1 833.4h0M182.6 840.5h0M160.2 845.6h0M137.0 846.7h0M193.9 823.7h0M194.6 848.5h0M194.4 842.0h0M142.3 846.2h0M168.4 845.9h0M169.1 841.7h0" stroke="#b58f6c" stroke-width="1.0" stroke-linecap="round"/>
<path d="M162.9 850.1h0M138.5 829.1h0M190.7 818.4h0M157.4 846.3h0M165.1 835.9h0M195.9 817.3h0M126.8 858.3h0M185.8 818.4h0M145.5 828.4h0M202.6 855.9h0M198.9 826.9h0" stroke="#a57a56" stroke-width="1.0" stroke-linecap="round"/>
<path d="M132.6 854.2h0M152.4 817.5h0M181.0 855.9h0M195.0 850.8h0M207.4 858.8h0M198.2 829.3h0M186.7 861.7h0M132.8 816.5h0M189.1 818.9h0M148.9 841.1h0M139.9 859.5h0M201.4 821.9h0M148.6 828.1h0" stroke="#946848" stroke-width="1.0" stroke-linecap="round"/>
<path d="M153.0 853.9h0M153.3 852.4h0M139.3 827.3h0" stroke="#946848" stroke-width="1.5" stroke-linecap="round"/>
<path d="M179.2 847.0h0M209.9 833.4h0M161.1 836.2h0M137.0 828.2h0M145.2 821.9h0M172.5 831.2h0M156.3 856.2h0M193.0 834.8h0M164.8 857.9h0M206.2 818.2h0M180.6 844.9h0M132.9 835.6h0M159.7 840.7h0M134.4 856.9h0M168.4 838.8h0M151.7 830.6h0M187.9 836.4h0M166.8 833.5h0M125.0 823.3h0M192.1 834.4h0M183.8 833.2h0M138.0 829.0h0M132.3 834.9h0M212.0 847.9h0M171.5 861.6h0M145.7 827.2h0M172.9 838.1h0M137.3 844.4h0M175.3 845.7h0M205.1 828.0h0M133.9 843.7h0M201.4 847.4h0M156.8 826.4h0M166.6 834.6h0M179.2 836.2h0M197.9 839.1h0M205.0 849.0h0M164.1 860.0h0M161.8 853.5h0M180.2 859.7h0M141.9 817.3h0M154.2 837.3h0M191.5 837.2h0M198.0 856.5h0M209.2 844.9h0M144.2 824.1h0M142.0 844.0h0M175.1 841.7h0M130.2 829.1h0M158.3 842.9h0M182.1 858.9h0M145.8 823.0h0M145.2 825.0h0M175.5 845.7h0" stroke="#c8b198" stroke-width="0.5" stroke-linecap="round"/>
<path d="M151.8 857.0h0M156.0 854.6h0M127.9 858.3h0M150.5 819.3h0M208.0 860.9h0M199.7 837.7h0M149.1 837.6h0M132.3 861.4h0M154.7 845.6h0M136.3 845.7h0M173.6 861.9h0M207.9 828.2h0M191.9 857.6h0M200.9 818.2h0M154.9 824.5h0M124.2 816.5h0M163.1 854.9h0M201.1 826.5h0M133.2 846.1h0M166.0 848.9h0M209.7 817.3h0M208.6 821.3h0M201.1 845.6h0M152.5 820.6h0M212.2 819.5h0M151.9 832.3h0M183.1 833.5h0M152.5 824.2h0M175.1 844.2h0M200.8 831.8h0M170.6 819.2h0M168.2 852.1h0M194.9 848.0h0M201.4 857.5h0M155.5 858.8h0M176.9 821.9h0M156.7 854.0h0" stroke="#d3bfa8" stroke-width="1.0" stroke-linecap="round"/>
<path d="M202.1 844.6h0M134.4 818.2h0M145.6 859.3h0M212.8 826.3h0M164.0 822.1h0M199.1 839.8h0M195.2 831.5h0M173.5 819.7h0M205.6 851.8h0M157.6 846.4h0M187.6 823.2h0M154.6 844.4h0M125.8 823.1h0M131.3 845.2h0M179.3 844.6h0M168.7 842.7h0M201.3 848.2h0M159.8 820.3h0M173.7 856.2h0M210.7 830.3h0M161.6 824.0h0M154.0 841.1h0M189.8 853.3h0M170.0 816.5h0M169.7 853.0h0M198.0 850.7h0M190.0 837.5h0M181.5 859.7h0M154.8 846.9h0M134.3 831.2h0M129.7 832.3h0M165.0 819.9h0M142.3 853.1h0M135.7 844.5h0M169.1 843.3h0M173.1 840.9h0M188.0 820.2h0M173.2 849.1h0M153.1 847.3h0M126.9 821.7h0M164.4 838.4h0" stroke="#d3bfa8" stroke-width="0.5" stroke-linecap="round"/>
<path d="M199.8 825.3h0M193.9 817.2h0M182.3 821.9h0M201.1 832.0h0M153.5 835.1h0M150.7 845.2h0M194.6 858.5h0M135.3 828.1h0M166.5 839.0h0M189.0 843.0h0M178.0 826.9h0M185.1 827.5h0M147.1 830.9h0M147.8 822.4h0M211.6 844.7h0M208.1 853.5h0M145.1 860.9h0M182.0 829.7h0M131.5 856.3h0M171.5 832.8h0M205.1 829.9h0M144.5 838.5h0M146.8 834.7h0M151.0 816.1h0M161.0 853.4h0M156.0 830.9h0M151.3 858.9h0M149.5 825.3h0M148.8 838.7h0M152.9 825.3h0M145.6 848.7h0M146.0 827.4h0M148.5 859.7h0M195.8 828.2h0M144.3 859.1h0M147.9 853.3h0M151.5 831.4h0M137.9 833.1h0M136.1 861.8h0M152.8 841.3h0M138.0 825.4h0M160.3 820.4h0M183.1 858.4h0M153.7 857.7h0M167.8 854.2h0M142.7 851.9h0M132.4 818.3h0" stroke="#ddd0bf" stroke-width="0.5" stroke-linecap="round"/>
<path d="M146.6 859.1h0M196.2 841.7h0M148.5 858.3h0M177.0 836.9h0M176.0 855.4h0M203.5 851.1h0M163.9 829.1h0M189.9 848.5h0M204.1 860.5h0M175.4 844.5h0M165.0 851.0h0M158.0 834.8h0M176.9 856.7h0M196.8 846.1h0M203.0 845.9h0M156.6 841.5h0M210.4 838.2h0M143.1 828.1h0M140.2 852.1h0M195.5 835.6h0M129.8 828.7h0M201.8 853.5h0M189.8 859.0h0M125.4 824.7h0M167.3 851.5h0M210.9 835.9h0M147.8 845.1h0M183.9 848.6h0M145.4 824.4h0M176.0 822.6h0M184.0 846.4h0M147.3 858.6h0M194.2 856.7h0M151.1 829.7h0M159.3 852.3h0" stroke="#ddd0bf" stroke-width="1.0" stroke-linecap="round"/>
<path d="M150.2 844.1h0M153.5 828.5h0M158.4 830.2h0M163.2 842.3h0M132.3 853.9h0M208.3 842.5h0M178.5 826.5h0M157.5 829.7h0M177.0 827.8h0M166.2 843.5h0M209.6 854.9h0M159.3 847.0h0M175.5 820.5h0M129.7 846.4h0M123.8 825.5h0M174.1 823.3h0M124.0 836.4h0M200.3 833.0h0M132.0 860.3h0M208.2 823.7h0M141.9 841.5h0M206.4 861.4h0M128.6 853.5h0M184.9 834.3h0M135.9 817.6h0M160.1 825.2h0M139.4 828.2h0M209.5 862.0h0M179.0 821.8h0M183.3 817.2h0M167.8 823.6h0M212.3 841.8h0M170.2 845.0h0M156.9 861.2h0M126.4 830.3h0M125.6 841.7h0M146.4 818.8h0M185.5 820.7h0M147.2 836.8h0M156.0 823.6h0M173.6 816.8h0M208.5 844.6h0M138.0 825.3h0M163.5 840.0h0" stroke="#bfa386" stroke-width="0.5" stroke-linecap="round"/>
<path d="M184.4 822.5h0M188.1 850.6h0M144.6 838.3h0M127.4 852.6h0M203.8 848.5h0M207.7 857.1h0M175.2 857.3h0M173.4 846.3h0M123.8 822.3h0M142.0 822.9h0M161.6 846.2h0M177.9 861.6h0M200.5 844.2h0M141.2 836.7h0M195.3 841.5h0M129.5 844.7h0M208.8 845.4h0M204.3 829.9h0M154.6 861.0h0M176.8 827.7h0M149.8 823.1h0M172.2 818.9h0M141.8 822.6h0M170.6 849.9h0M152.5 840.9h0M139.4 842.9h0M150.4 818.0h0M172.8 830.0h0" stroke="#bfa386" stroke-width="1.0" stroke-linecap="round"/>
<path d="M201.4 848.9h0M136.0 843.3h0M190.6 841.8h0M127.0 825.3h0M171.1 852.0h0M127.7 821.4h0M176.0 844.7h0M188.8 826.2h0M191.4 846.3h0M204.3 838.5h0M211.9 828.4h0M183.3 836.4h0M124.0 825.4h0M202.8 827.4h0M125.4 850.5h0M168.4 845.8h0M134.8 841.1h0M133.3 855.8h0M211.4 822.7h0M140.5 856.6h0" stroke="#c8b198" stroke-width="1.0" stroke-linecap="round"/>
</g>
<clipPath id="tc24"><rect x="221.5" y="815.5" width="92.5" height="47.1"/></clipPath>
<g clip-path="url(#tc24)">
<rect x="221.5" y="815.5" width="92.5" height="47.1" fill="#f0eeeb"/>
<path d="M235.38,864.96 L267.75,841.4 L309.38,815.5" fill="none" stroke="#dedde9" stroke-opacity="1" stroke-width="15.07" stroke-linecap="round" stroke-linejoin="round" filter="url(#bl3)"/>
<path d="M268.3 836.5h0M304.8 816.1h0M302.8 821.0h0M269.2 853.1h0M279.9 838.7h0M288.1 827.6h0M243.3 846.5h0M301.7 821.3h0M243.6 859.0h0M292.1 829.3h0M249.4 857.0h0M259.9 845.7h0M295.1 820.7h0" stroke="#c1c0df" stroke-width="1.5" stroke-linecap="round"/>
<path d="M305.5 823.8h0M246.0 849.8h0M267.8 837.5h0M262.1 851.6h0M300.7 823.6h0M299.7 826.8h0" stroke="#d6d5ea" stroke-width="2.0" stroke-linecap="round"/>
<path d="M241.4 861.5h0M296.7 819.5h0M274.1 838.6h0M291.0 832.1h0M260.4 840.6h0M258.9 847.5h0M303.5 818.1h0M263.0 851.0h0M274.5 830.0h0M308.8 818.5h0M243.1 857.7h0M266.4 845.4h0M289.5 831.9h0M269.0 836.6h0M297.2 828.1h0M287.8 832.3h0M266.7 839.4h0M306.4 820.9h0M273.6 838.5h0M252.0 848.2h0M249.4 860.7h0M260.4 843.6h0" stroke="#d6d5ea" stroke-width="1.5" stroke-linecap="round"/>
<path d="M240.8 858.9h0M264.1 853.5h0M251.1 861.3h0M294.2 828.4h0M299.4 824.0h0M282.2 830.7h0M270.6 842.2h0M242.7 859.7h0M294.8 819.4h0M277.9 843.5h0M251.9 846.9h0M312.4 820.5h0M249.1 857.4h0" stroke="#d6d5ea" stroke-width="1.0" stroke-linecap="round"/>
<path d="M300.0 827.9h0M274.8 836.5h0M252.9 856.7h0" stroke="#c1c0df" stroke-width="2.0" stroke-linecap="round"/>
<path d="M296.3 828.6h0M273.1 840.8h0M247.2 847.2h0M260.9 845.9h0" stroke="#c8c7e2" stroke-width="2.0" stroke-linecap="round"/>
<path d="M286.9 829.2h0M253.2 854.0h0M277.0 840.9h0M248.2 853.4h0M264.1 851.9h0" stroke="#d0cfe7" stroke-width="2.0" stroke-linecap="round"/>
<path d="M285.2 836.6h0M240.9 860.9h0M271.1 837.7h0M253.4 844.8h0M263.0 840.6h0M276.7 842.1h0M258.4 841.4h0M248.9 857.9h0M310.7 821.4h0M272.2 833.7h0" stroke="#c8c7e2" stroke-width="1.5" stroke-linecap="round"/>
<path d="M300.7 823.3h0M266.8 835.4h0M269.6 829.4h0M303.9 822.4h0M247.2 851.5h0M237.7 853.2h0M276.5 832.0h0M249.6 847.2h0M310.0 819.1h0M275.5 833.3h0M300.5 830.1h0M245.8 860.9h0M271.2 838.5h0" stroke="#d0cfe7" stroke-width="1.5" stroke-linecap="round"/>
<path d="M283.6 840.3h0M273.4 840.4h0M253.4 854.6h0M306.2 816.5h0M280.2 834.6h0M303.0 823.5h0M261.2 846.4h0" stroke="#c8c7e2" stroke-width="1.0" stroke-linecap="round"/>
<path d="M305.8 823.0h0M239.2 859.9h0M258.3 853.0h0" stroke="#c1c0df" stroke-width="1.0" stroke-linecap="round"/>
<path d="M278.3 837.9h0M295.7 826.6h0M277.0 833.7h0M262.1 852.3h0M241.5 855.0h0M298.1 821.9h0M300.4 828.2h0M248.4 852.6h0" stroke="#d0cfe7" stroke-width="1.0" stroke-linecap="round"/>
<path d="M221.5,831.99 L235.38,817.86" fill="none" stroke="#b8bdd8" stroke-width="1.5" stroke-linecap="round" filter="url(#bl4)"/>
<path d="M311.6 832.5h0M264.8 859.1h0M239.0 850.4h0M232.9 844.6h0M274.9 828.0h0M282.0 854.0h0M249.9 861.0h0M298.3 832.6h0M269.8 855.9h0M287.1 825.8h0M257.9 825.4h0M280.5 848.6h0M309.8 835.6h0M299.4 824.2h0M274.3 837.4h0M241.4 844.3h0M240.0 842.0h0M257.5 829.0h0M268.9 827.4h0M222.5 848.0h0M255.5 820.7h0M263.2 828.3h0M226.3 832.8h0M289.2 828.9h0M301.8 817.1h0M258.5 837.9h0M222.2 857.1h0M288.0 829.8h0" stroke="#bfa386" stroke-width="0.5" stroke-linecap="round"/>
<path d="M312.0 843.5h0M294.0 839.8h0M247.4 829.9h0M295.3 850.9h0M276.1 848.6h0M241.0 843.4h0M298.6 828.9h0M288.2 849.6h0M286.8 823.4h0M247.2 841.3h0M292.0 836.6h0" stroke="#c8b198" stroke-width="1.0" stroke-linecap="round"/>
<path d="M310.1 853.7h0M273.4 849.5h0M274.8 822.9h0M271.6 844.5h0M267.4 848.2h0M297.8 844.1h0M258.3 849.8h0M278.5 854.9h0M300.4 834.0h0M302.4 838.1h0M306.2 843.0h0M222.4 858.9h0M253.0 826.5h0M313.2 860.0h0M277.4 819.6h0M244.8 855.7h0M253.7 861.4h0M288.8 819.9h0M247.3 835.7h0M272.1 850.5h0M295.9 821.3h0M240.1 857.6h0M237.7 831.5h0M283.8 845.6h0M262.0 859.0h0M306.8 824.5h0M307.4 820.8h0M270.7 846.4h0M303.9 837.1h0M271.7 826.7h0M301.4 839.0h0" stroke="#c8b198" stroke-width="0.5" stroke-linecap="round"/>
<path d="M312.1 827.0h0M233.4 823.1h0M292.5 828.0h0M309.6 849.1h0M308.4 836.3h0M268.1 851.1h0M268.3 833.5h0M301.1 858.4h0M261.9 825.0h0M252.4 854.3h0M270.9 841.4h0M291.8 818.4h0M226.4 823.4h0M296.5 860.6h0M230.6 839.4h0M285.8 822.0h0M291.1 829.8h0M271.5 850.2h0M300.6 823.3h0M261.2 852.0h0M260.8 855.8h0M295.2 850.4h0M301.8 858.3h0M275.2 820.7h0M300.9 820.5h0M296.3 827.3h0M290.6 825.2h0" stroke="#ddd0bf" stroke-width="0.5" stroke-linecap="round"/>
<path d="M277.2 842.2h0M224.5 830.1h0M240.3 848.3h0M307.7 845.5h0M237.4 859.5h0M225.6 847.0h0M265.6 856.4h0M273.8 818.7h0M280.0 849.3h0M236.1 837.0h0M242.0 851.4h0M313.4 843.1h0M285.4 822.2h0M250.2 848.1h0M293.8 844.9h0" stroke="#d3bfa8" stroke-width="1.0" stroke-linecap="round"/>
<path d="M263.5 862.0h0M288.3 861.9h0M277.2 843.8h0M280.8 837.6h0M236.4 821.2h0M301.5 830.3h0M257.2 828.7h0M243.0 826.6h0M282.0 836.8h0M237.9 839.1h0M283.6 854.3h0M278.9 827.0h0M281.0 846.7h0M271.2 835.8h0M228.0 848.8h0M291.9 857.7h0M310.8 858.8h0M276.9 820.5h0M272.3 855.3h0M241.8 852.5h0M223.8 852.7h0M283.2 823.8h0M283.6 856.2h0" stroke="#ddd0bf" stroke-width="1.0" stroke-linecap="round"/>
<path d="M308.9 851.9h0M311.7 819.9h0M309.4 830.1h0M263.1 861.6h0M260.8 844.3h0M280.4 825.2h0M298.1 847.6h0M257.9 820.3h0M289.3 852.9h0M269.4 833.6h0M286.6 826.2h0M246.8 818.7h0M224.8 835.7h0M245.1 816.3h0M293.0 834.6h0M264.6 842.2h0M236.0 816.7h0M254.8 822.4h0M302.2 855.7h0M238.2 833.9h0M299.8 835.1h0M307.0 817.0h0" stroke="#d3bfa8" stroke-width="0.5" stroke-linecap="round"/>
<path d="M230.1 817.9h0M246.0 844.4h0M230.6 860.5h0M273.8 845.5h0M238.8 861.0h0M224.0 831.3h0M313.0 846.4h0M301.0 839.1h0M252.8 831.3h0M231.3 829.9h0M242.0 848.7h0M293.3 818.2h0M240.7 829.7h0" stroke="#bfa386" stroke-width="1.0" stroke-linecap="round"/>
<path d="M239.6 845.2h0M277.5 829.4h0M288.5 861.9h0M256.1 846.0h0M254.4 859.2h0M290.0 847.1h0" stroke="#946848" stroke-width="1.0" stroke-linecap="round"/>
<path d="M269.1 839.9h0M301.1 853.8h0" stroke="#86593a" stroke-width="1.5" stroke-linecap="round"/>
<path d="M258.1 848.0h0M284.6 824.1h0" stroke="#b58f6c" stroke-width="1.5" stroke-linecap="round"/>
<path d="M235.9 852.5h0M297.0 848.1h0M238.7 839.1h0M222.0 827.6h0" stroke="#b58f6c" stroke-width="1.0" stroke-linecap="round"/>
<path d="M301.6 822.8h0M291.3 852.2h0M293.0 861.0h0M244.0 838.8h0M299.3 819.6h0M287.3 835.8h0" stroke="#86593a" stroke-width="1.0" stroke-linecap="round"/>
<path d="M267.6 855.0h0M235.2 859.2h0M288.3 853.5h0M254.7 828.8h0M223.0 842.1h0M267.0 859.7h0M278.5 816.7h0" stroke="#a57a56" stroke-width="1.0" stroke-linecap="round"/>
<path d="M279.8 840.5h0" stroke="#946848" stroke-width="1.5" stroke-linecap="round"/>
<path d="M235.2 833.0h0M254.1 849.3h0M225.1 822.2h0M269.0 843.3h0M261.6 833.3h0M254.6 817.5h0M301.6 848.9h0M232.8 820.9h0M308.7 854.2h0" stroke="#c8c7e5" stroke-width="1.5" stroke-linecap="round"/>
<path d="M224.4 828.3h0M301.3 837.8h0M230.4 819.1h0M301.9 850.4h0M278.9 823.0h0M306.7 851.8h0M272.8 844.8h0M240.7 827.0h0M265.5 839.5h0M311.1 837.6h0" stroke="#c8c7e5" stroke-width="1.0" stroke-linecap="round"/>
<path d="M306.1 841.6h0M295.2 849.2h0M269.6 852.6h0" stroke="#bebddf" stroke-width="1.5" stroke-linecap="round"/>
<path d="M285.6 851.3h0M291.7 835.8h0M291.2 859.8h0M252.9 855.7h0M264.9 847.9h0M243.7 816.5h0M232.4 822.7h0M304.8 819.2h0M265.1 844.9h0M234.9 827.0h0M242.5 827.5h0M230.2 831.4h0M238.4 849.3h0" stroke="#bebddf" stroke-width="1.0" stroke-linecap="round"/>
</g>
<clipPath id="tc34"><rect x="315.6" y="815.5" width="91.4" height="47.1"/></clipPath>
<g clip-path="url(#tc34)">
<rect x="315.6" y="815.5" width="91.4" height="47.1" fill="#f0eeeb"/>
<path d="M329.31,864.96 L361.3,841.4 L402.43,815.5" fill="none" stroke="#dedde9" stroke-opacity="1" stroke-width="15.07" stroke-linecap="round" stroke-linejoin="round" filter="url(#bl3)"/>
<path d="M401.3 821.6h0M392.3 822.8h0M354.6 850.8h0M329.7 861.6h0M359.3 845.6h0M361.2 838.4h0M385.3 826.0h0M346.6 857.6h0M331.0 854.1h0M352.9 842.8h0M351.8 849.5h0M328.7 862.1h0M375.0 832.7h0M340.6 858.2h0M362.7 846.3h0M348.3 847.3h0M341.1 853.2h0M387.9 824.0h0M349.9 859.2h0M373.7 824.8h0" stroke="#d0cfe7" stroke-width="1.5" stroke-linecap="round"/>
<path d="M329.9 860.6h0M388.9 818.9h0M395.9 823.4h0" stroke="#d0cfe7" stroke-width="2.0" stroke-linecap="round"/>
<path d="M358.5 841.9h0M354.9 845.2h0M385.9 822.6h0M341.9 858.7h0" stroke="#d0cfe7" stroke-width="1.0" stroke-linecap="round"/>
<path d="M386.2 824.3h0M380.8 821.2h0M367.6 839.8h0M350.7 841.0h0" stroke="#d6d5ea" stroke-width="2.0" stroke-linecap="round"/>
<path d="M342.1 853.0h0M358.5 841.5h0M389.4 826.0h0M368.3 835.3h0M386.6 825.5h0M345.1 851.9h0" stroke="#d6d5ea" stroke-width="1.0" stroke-linecap="round"/>
<path d="M362.0 835.4h0M381.4 832.0h0M354.4 845.9h0M342.5 857.9h0M346.1 844.1h0M385.8 831.0h0M401.1 818.3h0M334.6 859.2h0M332.3 861.1h0M368.4 840.4h0M338.1 859.2h0M364.7 832.6h0M396.6 817.1h0M343.0 852.9h0M383.7 828.6h0" stroke="#c1c0df" stroke-width="1.5" stroke-linecap="round"/>
<path d="M374.7 830.7h0M381.9 829.1h0M357.5 842.4h0M359.4 839.4h0M361.1 840.1h0M392.2 827.7h0M386.0 820.6h0M400.3 817.7h0M372.2 824.4h0M383.5 821.0h0M401.3 815.8h0M395.1 819.4h0M376.2 832.8h0M381.8 827.8h0M333.4 857.1h0M328.5 860.9h0" stroke="#d6d5ea" stroke-width="1.5" stroke-linecap="round"/>
<path d="M351.2 847.6h0M372.5 838.0h0M391.8 823.2h0" stroke="#c8c7e2" stroke-width="2.0" stroke-linecap="round"/>
<path d="M352.7 851.2h0M333.2 859.3h0M357.6 844.8h0M363.6 834.0h0M340.7 860.0h0M350.6 849.5h0M377.7 831.7h0M391.5 819.3h0M376.0 828.5h0M351.7 845.5h0M351.5 851.0h0M369.3 841.2h0M367.9 838.9h0M360.2 829.1h0M346.6 847.1h0M337.1 860.8h0M340.4 855.6h0" stroke="#c8c7e2" stroke-width="1.5" stroke-linecap="round"/>
<path d="M347.2 847.1h0M360.9 849.8h0M335.8 860.3h0M347.5 851.6h0M353.7 852.2h0M377.9 836.1h0M338.4 859.8h0" stroke="#c8c7e2" stroke-width="1.0" stroke-linecap="round"/>
<path d="M338.1 853.8h0M377.5 829.2h0M345.6 845.7h0M403.9 822.9h0" stroke="#c1c0df" stroke-width="2.0" stroke-linecap="round"/>
<path d="M367.6 833.3h0M354.0 841.6h0M331.5 861.1h0M403.2 822.1h0" stroke="#c1c0df" stroke-width="1.0" stroke-linecap="round"/>
<path d="M315.6,831.99 L329.31,817.86" fill="none" stroke="#b8bdd8" stroke-width="1.5" stroke-linecap="round" filter="url(#bl4)"/>
<path d="M376.8 859.3h0M375.9 828.8h0M347.9 856.4h0M373.4 824.6h0M340.4 845.2h0M360.8 828.3h0M329.3 828.6h0M372.6 822.8h0M369.6 830.8h0M398.3 816.2h0M348.8 817.6h0M374.9 821.4h0M342.8 857.0h0M318.4 845.0h0M398.9 859.3h0" stroke="#bfa386" stroke-width="1.0" stroke-linecap="round"/>
<path d="M393.7 833.4h0M372.1 839.7h0M358.2 847.3h0M344.3 838.1h0M374.3 855.6h0M359.2 860.6h0M336.4 857.3h0M377.5 853.4h0M382.4 848.5h0M349.4 835.1h0M344.5 861.8h0M342.9 842.1h0M365.9 836.4h0M318.7 849.7h0M396.9 843.8h0M406.4 844.5h0M327.3 853.7h0M378.7 829.1h0M385.8 820.2h0M406.2 819.0h0M343.7 822.9h0M396.5 849.5h0M344.8 853.3h0M343.3 818.2h0M375.5 853.6h0M358.5 831.5h0M326.4 857.9h0M381.2 859.0h0" stroke="#ddd0bf" stroke-width="0.5" stroke-linecap="round"/>
<path d="M320.9 830.8h0M385.8 823.6h0M347.1 834.0h0M404.0 838.3h0M357.7 854.2h0M328.3 855.4h0M323.1 853.2h0M391.3 861.6h0M344.0 821.7h0M364.2 855.1h0M397.2 841.4h0M397.7 861.1h0M337.7 853.5h0M380.2 829.2h0M362.5 860.4h0M316.5 834.5h0M362.9 846.1h0M322.1 827.5h0M318.8 827.9h0M344.0 833.8h0M406.4 851.9h0M388.3 818.4h0M337.9 854.8h0M365.7 834.9h0" stroke="#ddd0bf" stroke-width="1.0" stroke-linecap="round"/>
<path d="M375.4 836.5h0M334.6 818.6h0M398.4 826.5h0M360.0 835.2h0M329.7 843.5h0M359.8 835.5h0M352.5 838.7h0M356.9 855.9h0M382.4 856.1h0M334.1 821.6h0M343.0 836.8h0M383.2 824.9h0M324.9 860.8h0M364.3 840.4h0M334.5 840.5h0M404.3 855.2h0M395.6 856.0h0M358.9 819.7h0M375.0 857.0h0M399.2 823.8h0M324.3 850.2h0M324.6 861.8h0" stroke="#bfa386" stroke-width="0.5" stroke-linecap="round"/>
<path d="M360.7 832.7h0M358.7 833.1h0M349.4 860.5h0M360.9 847.8h0M387.7 824.4h0M320.4 845.5h0M396.1 821.5h0M371.5 833.9h0M392.6 828.2h0M347.3 859.0h0M321.8 840.9h0M329.7 834.8h0M393.5 830.9h0M329.0 861.5h0M366.8 834.7h0M342.7 854.5h0M326.0 828.3h0M355.9 841.4h0M329.0 861.9h0M359.3 819.4h0M349.3 821.7h0M401.0 850.5h0M352.2 844.3h0M355.7 853.4h0M374.2 819.0h0M362.9 844.4h0" stroke="#c8b198" stroke-width="0.5" stroke-linecap="round"/>
<path d="M342.2 823.3h0M402.1 831.1h0M326.7 852.3h0M356.3 861.7h0M363.8 839.6h0M392.7 848.7h0M353.8 855.7h0M333.7 832.7h0M393.4 823.3h0M343.8 848.2h0M396.2 821.5h0M371.9 830.4h0M372.6 825.6h0" stroke="#d3bfa8" stroke-width="1.0" stroke-linecap="round"/>
<path d="M352.8 822.3h0M328.8 843.2h0M380.4 852.5h0M374.3 841.7h0M352.6 846.7h0M324.3 846.6h0M360.3 854.4h0M325.1 832.8h0M369.1 830.0h0M371.1 833.5h0M344.0 824.3h0M405.5 833.3h0M370.7 860.2h0M360.9 840.7h0M326.5 851.5h0M359.8 852.0h0M321.3 826.9h0M332.5 835.8h0M396.6 816.3h0M368.7 855.5h0M328.7 859.0h0M383.2 843.7h0M335.5 828.3h0M351.7 830.6h0M341.9 816.3h0M358.3 837.6h0M390.0 828.5h0M400.5 839.7h0M373.4 828.7h0" stroke="#d3bfa8" stroke-width="0.5" stroke-linecap="round"/>
<path d="M357.4 834.1h0M382.5 836.2h0M333.6 844.6h0M349.3 818.1h0M401.7 818.4h0M348.9 854.3h0M390.6 842.0h0M385.4 833.6h0M375.1 849.4h0M356.2 850.0h0M382.1 833.9h0M372.7 817.9h0M388.5 838.7h0" stroke="#c8b198" stroke-width="1.0" stroke-linecap="round"/>
<path d="M381.6 822.3h0M335.4 852.1h0" stroke="#b58f6c" stroke-width="1.5" stroke-linecap="round"/>
<path d="M357.3 850.5h0M402.4 844.6h0" stroke="#86593a" stroke-width="1.0" stroke-linecap="round"/>
<path d="M379.6 822.7h0" stroke="#946848" stroke-width="1.5" stroke-linecap="round"/>
<path d="M317.3 857.9h0" stroke="#86593a" stroke-width="1.5" stroke-linecap="round"/>
<path d="M354.5 837.9h0M364.1 831.6h0M336.0 832.2h0M381.5 822.2h0M341.4 845.7h0M350.8 853.3h0M386.8 839.4h0" stroke="#b58f6c" stroke-width="1.0" stroke-linecap="round"/>
<path d="M353.5 823.0h0M395.1 838.4h0M397.2 844.4h0M366.3 826.0h0M324.0 860.5h0M341.7 817.0h0M351.0 849.2h0" stroke="#a57a56" stroke-width="1.0" stroke-linecap="round"/>
<path d="M333.1 841.2h0M383.0 832.5h0M364.0 847.1h0M362.5 832.4h0M339.3 822.6h0M358.2 838.1h0M354.6 847.2h0M381.9 845.1h0" stroke="#946848" stroke-width="1.0" stroke-linecap="round"/>
<path d="M319.1 828.9h0M386.0 829.5h0M385.8 841.2h0M406.3 861.1h0M405.8 846.7h0M335.2 856.4h0" stroke="#c8c7e5" stroke-width="1.5" stroke-linecap="round"/>
<path d="M343.1 839.2h0M332.1 831.1h0M342.5 854.5h0M348.8 852.0h0M323.3 821.9h0M379.7 834.5h0M329.3 841.4h0M357.1 859.3h0M402.9 830.2h0M390.0 821.2h0M371.1 858.3h0M387.3 861.9h0" stroke="#c8c7e5" stroke-width="1.0" stroke-linecap="round"/>
<path d="M372.3 826.0h0M379.7 847.9h0M371.0 816.3h0M335.7 842.3h0M393.5 856.7h0M379.8 823.0h0M337.6 831.1h0M346.1 853.6h0M332.4 832.2h0M385.9 845.2h0M404.7 838.2h0M324.2 821.7h0" stroke="#bebddf" stroke-width="1.0" stroke-linecap="round"/>
<path d="M338.0 834.3h0M364.3 822.4h0M339.7 850.8h0M365.7 860.3h0M356.4 845.8h0" stroke="#bebddf" stroke-width="1.5" stroke-linecap="round"/>
</g>
<clipPath id="tc05"><rect x="28.6" y="864.6" width="92" height="47.4"/></clipPath>
<g clip-path="url(#tc05)">
<rect x="28.6" y="864.6" width="92" height="47.4" fill="#ece7e0"/>
<path d="M28.6,878.82 L51.6,900.15 L83.8,904.89 L120.6,901.57" fill="none" stroke="#dfdae3" stroke-opacity="0.9" stroke-width="13.27" stroke-linecap="round" stroke-linejoin="round" filter="url(#bl3)"/>
<path d="M86.2 903.6h0M92.6 900.1h0M85.9 905.8h0M43.5 883.3h0M30.9 883.0h0M114.4 901.3h0M31.1 885.2h0M46.3 893.7h0M84.0 904.6h0M111.9 897.5h0M117.1 901.2h0M102.6 902.7h0M29.4 881.0h0M30.2 877.9h0" stroke="#c8c7e2" stroke-width="1.5" stroke-linecap="round"/>
<path d="M85.4 894.5h0M116.7 901.4h0M113.7 890.1h0M83.7 903.4h0M69.7 901.2h0" stroke="#d6d5ea" stroke-width="1.0" stroke-linecap="round"/>
<path d="M78.1 904.0h0M41.4 897.5h0M36.6 879.3h0M41.3 892.0h0M37.7 894.1h0M47.4 896.7h0M33.6 885.3h0M31.5 875.9h0M109.1 902.6h0M38.3 881.4h0M46.4 905.4h0" stroke="#c1c0df" stroke-width="1.5" stroke-linecap="round"/>
<path d="M38.4 884.4h0M105.9 910.1h0M64.8 903.8h0M52.9 895.2h0M89.1 904.9h0M114.7 902.9h0M43.4 897.9h0M113.7 904.9h0M53.8 906.2h0M47.7 895.9h0M91.8 901.5h0M34.7 889.2h0M74.0 902.7h0M108.5 903.0h0M46.1 897.1h0M110.1 899.3h0M83.2 897.3h0M54.7 897.2h0M37.6 885.1h0M62.0 903.6h0M69.1 904.2h0M54.0 895.5h0M76.5 903.3h0" stroke="#d0cfe7" stroke-width="1.5" stroke-linecap="round"/>
<path d="M35.3 895.7h0M84.0 901.3h0" stroke="#c1c0df" stroke-width="2.0" stroke-linecap="round"/>
<path d="M107.3 901.0h0M78.7 908.2h0M71.9 899.4h0M69.3 898.3h0" stroke="#c8c7e2" stroke-width="2.0" stroke-linecap="round"/>
<path d="M52.1 899.8h0M104.7 904.4h0M83.6 902.7h0M64.6 899.4h0M78.5 900.7h0M118.3 901.2h0M100.5 903.4h0M90.8 892.2h0M80.8 905.3h0M32.2 884.3h0M75.1 909.2h0M40.5 893.9h0M98.4 899.8h0M37.5 888.7h0M59.9 907.5h0M86.4 901.3h0M113.0 899.6h0" stroke="#d6d5ea" stroke-width="1.5" stroke-linecap="round"/>
<path d="M35.5 884.6h0M118.5 899.9h0M116.0 899.6h0" stroke="#d0cfe7" stroke-width="2.0" stroke-linecap="round"/>
<path d="M60.8 894.2h0M42.8 893.9h0M119.6 895.5h0M40.9 889.8h0M79.7 902.1h0M77.6 904.9h0M53.4 893.8h0M35.2 894.7h0M30.6 882.4h0M41.3 892.3h0M80.8 905.0h0" stroke="#d0cfe7" stroke-width="1.0" stroke-linecap="round"/>
<path d="M54.6 900.5h0M98.7 909.6h0M108.3 905.7h0M31.3 882.3h0M63.1 894.7h0M86.3 900.3h0M76.8 904.0h0" stroke="#c8c7e2" stroke-width="1.0" stroke-linecap="round"/>
<path d="M94.7 910.2h0M119.1 902.3h0M87.8 900.5h0M61.8 905.9h0M32.1 879.8h0M42.4 888.5h0" stroke="#c1c0df" stroke-width="1.0" stroke-linecap="round"/>
<path d="M72.4 900.6h0M46.5 901.0h0M115.8 906.8h0M113.4 901.3h0M103.8 901.9h0" stroke="#d6d5ea" stroke-width="2.0" stroke-linecap="round"/>
<path d="M99.0 900.6h0M31.5 909.9h0M60.2 874.7h0M73.3 904.1h0M59.7 884.6h0M108.5 873.9h0M37.9 892.3h0M84.9 896.0h0M57.0 896.9h0" stroke="#946848" stroke-width="1.0" stroke-linecap="round"/>
<path d="M58.7 908.4h0M109.8 868.8h0M43.5 909.4h0M29.6 908.3h0M32.3 905.6h0M100.9 875.5h0M71.8 866.1h0M42.2 878.2h0M62.2 867.0h0M60.2 892.9h0M90.6 907.9h0M101.1 887.2h0" stroke="#b58f6c" stroke-width="1.0" stroke-linecap="round"/>
<path d="M46.3 894.7h0M49.6 911.1h0M95.8 894.1h0M56.3 871.4h0M112.2 902.4h0M70.8 871.1h0M38.8 908.5h0M56.3 872.9h0M81.3 903.8h0" stroke="#a57a56" stroke-width="1.0" stroke-linecap="round"/>
<path d="M81.5 890.1h0M75.7 895.9h0" stroke="#86593a" stroke-width="1.5" stroke-linecap="round"/>
<path d="M31.5 908.6h0M109.6 904.8h0M97.7 897.7h0M116.1 900.6h0M65.9 881.4h0M50.2 885.5h0M83.2 904.5h0M88.5 871.8h0M95.2 910.9h0M79.1 880.7h0M82.6 907.3h0" stroke="#86593a" stroke-width="1.0" stroke-linecap="round"/>
<path d="M100.4 898.3h0M57.4 877.5h0" stroke="#b58f6c" stroke-width="1.5" stroke-linecap="round"/>
<path d="M104.6 887.7h0M91.7 909.9h0" stroke="#946848" stroke-width="1.5" stroke-linecap="round"/>
<path d="M73.3 893.1h0" stroke="#a57a56" stroke-width="1.5" stroke-linecap="round"/>
<path d="M72.6 870.4h0M59.4 903.2h0M114.7 869.4h0M52.0 898.3h0M61.7 893.2h0M85.5 883.5h0M68.4 898.1h0M99.8 866.3h0M81.8 909.2h0M105.6 865.9h0M103.8 890.1h0M94.9 887.6h0M111.7 875.7h0M53.2 889.1h0M37.3 890.2h0M91.1 892.2h0M60.5 886.7h0M111.8 871.6h0M37.1 891.1h0M85.2 881.0h0M108.6 911.2h0M82.1 891.6h0M38.5 878.7h0M84.1 900.7h0M112.9 896.4h0M42.8 866.3h0M59.0 873.5h0M71.6 880.2h0M75.8 886.6h0M104.2 875.9h0M114.3 881.7h0M117.9 892.4h0M103.5 878.0h0M87.7 883.2h0M107.3 897.4h0M104.3 904.6h0M87.5 883.5h0M118.9 888.9h0M97.8 902.8h0M110.5 878.7h0M67.4 890.2h0M84.3 881.1h0M55.7 868.1h0M92.9 897.2h0M88.4 875.3h0M59.9 876.4h0" stroke="#bfa386" stroke-width="0.5" stroke-linecap="round"/>
<path d="M58.7 908.8h0M82.0 899.0h0M116.6 869.4h0M114.4 907.4h0M40.5 875.3h0M57.0 886.3h0M42.7 895.5h0M103.4 889.6h0M88.8 883.1h0M72.6 870.1h0M61.8 910.0h0M92.7 872.7h0M107.5 871.5h0M63.6 897.1h0M82.9 899.6h0M62.9 909.0h0M99.0 895.5h0M49.8 878.1h0M73.4 865.7h0M91.8 879.8h0M32.5 871.1h0M33.9 889.0h0M53.6 884.5h0M64.5 892.5h0M54.4 888.3h0M59.2 888.3h0M72.6 892.4h0M89.0 883.3h0M32.5 868.5h0M87.7 895.8h0M114.8 880.1h0M44.0 899.5h0M42.2 866.0h0M58.2 882.3h0M76.4 872.2h0M42.0 875.3h0M55.7 870.9h0M88.1 869.9h0M68.3 908.5h0M51.7 908.8h0M119.3 906.6h0M32.1 879.5h0M45.8 888.7h0M38.6 890.8h0M93.7 902.5h0M36.9 868.4h0M119.3 903.3h0M118.6 880.6h0M115.6 902.3h0M69.0 875.8h0" stroke="#c8b198" stroke-width="0.5" stroke-linecap="round"/>
<path d="M104.7 904.5h0M64.2 888.8h0M41.4 882.6h0M78.0 895.1h0M99.8 885.9h0M58.3 874.7h0M36.3 900.8h0M82.2 875.3h0M111.4 867.8h0M92.8 879.9h0M111.4 893.7h0M97.1 866.7h0M115.7 880.3h0M35.1 906.7h0M39.0 879.1h0M85.5 900.3h0M91.0 869.8h0M42.4 887.0h0M86.2 883.8h0M96.3 889.2h0M31.0 889.6h0M55.1 890.7h0M93.5 903.3h0M41.4 902.4h0M65.7 893.0h0M99.6 881.1h0M97.4 881.7h0M69.0 898.8h0M69.1 885.5h0" stroke="#d3bfa8" stroke-width="1.0" stroke-linecap="round"/>
<path d="M94.1 888.5h0M68.4 890.5h0M45.8 903.9h0M76.4 897.6h0M119.5 900.7h0M89.2 868.5h0M79.6 903.0h0M33.9 870.9h0M82.2 870.7h0M101.1 901.4h0M114.2 873.6h0M113.1 906.8h0M70.6 881.5h0M111.8 882.2h0M57.4 887.7h0M95.9 878.7h0M91.3 906.9h0M119.9 887.1h0M101.0 898.3h0M34.7 872.9h0M91.6 869.5h0M117.5 895.9h0M111.9 865.6h0M99.9 895.9h0M111.8 905.4h0M101.6 875.2h0M80.0 874.1h0M38.9 878.5h0M44.5 891.7h0M92.3 893.8h0M87.7 873.4h0M60.6 899.4h0M52.5 872.0h0M52.0 882.8h0M67.7 881.9h0M56.2 895.4h0M81.8 908.7h0M98.5 903.8h0M73.4 885.5h0M29.9 866.3h0M64.8 892.4h0M90.2 876.7h0M112.7 894.7h0M51.1 895.7h0M31.2 884.7h0M113.1 901.4h0M74.6 897.3h0M90.9 894.1h0M36.9 905.9h0M101.5 894.1h0M35.4 896.0h0M92.1 895.7h0" stroke="#d3bfa8" stroke-width="0.5" stroke-linecap="round"/>
<path d="M54.0 876.0h0M41.7 909.4h0M32.7 904.0h0M87.3 880.7h0M69.8 908.9h0M87.4 877.3h0M45.0 907.3h0M99.9 870.4h0M42.6 879.6h0M110.4 874.9h0M74.8 903.6h0M118.4 889.7h0M64.0 872.2h0M55.1 894.8h0M110.5 900.9h0M110.6 908.9h0M105.2 910.1h0M98.5 893.6h0M36.9 885.4h0M118.9 878.2h0M41.3 875.2h0M56.3 872.0h0M58.5 910.8h0M75.3 887.6h0" stroke="#bfa386" stroke-width="1.0" stroke-linecap="round"/>
<path d="M119.8 895.1h0M115.9 891.0h0M46.9 880.3h0M73.1 866.1h0M91.9 867.1h0M65.8 889.8h0M40.0 904.6h0M77.8 883.8h0M99.3 904.1h0M96.6 907.1h0M32.6 893.1h0M95.5 871.4h0M86.0 865.8h0M99.9 887.6h0M38.9 879.2h0M61.2 894.7h0M107.1 901.9h0M100.3 867.1h0M57.1 867.3h0M89.3 892.2h0M44.8 892.5h0M102.6 908.7h0M89.7 882.5h0M106.9 892.9h0M92.7 902.9h0M31.2 907.7h0M37.2 894.7h0M58.3 889.3h0M47.6 891.3h0M43.5 895.0h0M44.3 905.7h0M41.9 908.3h0M119.9 871.1h0M78.8 879.3h0M94.9 897.9h0M119.6 880.2h0M99.5 896.4h0M77.3 892.0h0M99.0 881.9h0M88.1 875.9h0M91.8 910.9h0M72.5 869.5h0" stroke="#ddd0bf" stroke-width="0.5" stroke-linecap="round"/>
<path d="M80.7 876.6h0M69.1 875.5h0M34.1 886.7h0M35.1 885.7h0M77.5 905.3h0M75.8 865.6h0M79.0 875.6h0M60.9 866.6h0M37.7 905.9h0M88.5 890.4h0M30.3 880.4h0M71.5 866.3h0M108.2 903.6h0M98.0 882.9h0M73.3 894.0h0M66.8 903.7h0M57.1 879.3h0M76.1 884.9h0M51.7 910.6h0M118.5 882.2h0M29.1 898.1h0M84.7 896.3h0M53.2 886.8h0M39.2 898.2h0M47.3 904.8h0M115.3 890.6h0M80.1 879.6h0M52.7 887.0h0M40.9 900.7h0M74.8 865.7h0M67.8 884.8h0M44.2 899.1h0M77.8 906.0h0M116.5 867.0h0M96.8 897.1h0M75.6 870.2h0" stroke="#ddd0bf" stroke-width="1.0" stroke-linecap="round"/>
<path d="M47.7 871.7h0M40.6 892.0h0M42.8 895.4h0M96.8 895.7h0M114.7 900.6h0M50.6 876.8h0M80.2 905.3h0M109.7 884.4h0M89.0 902.7h0M74.6 877.2h0M109.9 886.1h0M47.8 898.7h0M39.5 868.9h0M77.2 872.2h0M89.9 867.5h0M68.3 887.8h0M41.8 878.9h0M39.6 878.3h0M47.4 902.8h0M105.8 890.0h0M45.3 905.9h0M32.0 897.7h0M93.9 888.4h0M76.3 904.1h0M94.6 896.6h0M115.8 898.7h0M90.7 909.5h0" stroke="#c8b198" stroke-width="1.0" stroke-linecap="round"/>
</g>
<clipPath id="tc15"><rect x="122.2" y="864.6" width="91.8" height="47.4"/></clipPath>
<g clip-path="url(#tc15)">
<rect x="122.2" y="864.6" width="91.8" height="47.4" fill="#ece7e0"/>
<path d="M122.2,878.82 L145.15,900.15 L177.28,904.89 L214,901.57" fill="none" stroke="#dfdae3" stroke-opacity="0.9" stroke-width="13.27" stroke-linecap="round" stroke-linejoin="round" filter="url(#bl3)"/>
<path d="M173.7 904.2h0M141.6 901.8h0M154.8 902.5h0M207.6 900.8h0M202.7 902.9h0M143.5 901.6h0M139.9 887.7h0M172.2 902.2h0M209.2 903.0h0M128.7 887.2h0M137.5 891.5h0M159.8 909.5h0M131.3 884.9h0M168.6 901.2h0M153.7 907.3h0M126.7 879.5h0M149.0 905.2h0M208.8 898.5h0M143.6 893.9h0M206.1 894.5h0" stroke="#c1c0df" stroke-width="1.5" stroke-linecap="round"/>
<path d="M203.7 902.7h0M143.5 893.6h0M197.5 903.6h0M202.1 900.5h0" stroke="#d0cfe7" stroke-width="1.0" stroke-linecap="round"/>
<path d="M156.9 900.5h0M195.7 906.4h0M163.8 906.8h0M211.7 900.2h0M154.2 898.9h0" stroke="#d0cfe7" stroke-width="2.0" stroke-linecap="round"/>
<path d="M203.8 904.0h0M125.7 877.9h0M194.3 897.4h0M131.0 895.0h0M213.6 903.6h0M194.2 905.2h0M136.4 891.1h0M182.8 900.8h0M146.6 907.4h0M148.3 897.8h0M137.6 883.9h0M171.8 902.2h0M173.9 903.6h0M151.0 895.6h0M202.5 908.9h0M143.9 899.9h0M152.1 905.1h0M130.0 890.5h0M210.4 897.8h0M146.4 894.7h0" stroke="#c8c7e2" stroke-width="1.5" stroke-linecap="round"/>
<path d="M158.7 900.0h0M158.1 895.4h0M158.5 911.5h0M138.5 890.3h0M132.0 889.7h0M181.5 908.5h0M123.2 888.8h0M135.2 889.2h0M135.2 885.7h0M146.5 907.4h0M208.7 900.8h0M153.5 897.4h0M129.5 887.5h0M163.3 903.4h0M183.1 901.4h0M155.0 897.5h0" stroke="#d0cfe7" stroke-width="1.5" stroke-linecap="round"/>
<path d="M200.6 900.8h0M131.0 897.2h0M200.0 897.1h0M186.0 906.3h0M210.1 902.6h0M183.9 905.4h0M168.4 904.2h0M139.9 897.2h0M189.2 900.2h0M184.6 905.3h0M183.5 905.6h0M182.0 903.2h0M126.9 883.6h0M190.3 909.2h0M139.2 894.0h0M151.4 901.2h0M146.1 902.1h0" stroke="#d6d5ea" stroke-width="1.5" stroke-linecap="round"/>
<path d="M141.1 893.9h0M197.8 906.7h0M125.3 881.4h0M158.7 911.1h0" stroke="#d6d5ea" stroke-width="1.0" stroke-linecap="round"/>
<path d="M143.5 894.5h0M183.8 909.4h0M129.7 883.9h0M172.5 901.0h0M182.3 900.1h0M170.1 900.0h0M137.6 896.4h0M130.5 884.0h0M137.1 891.2h0M138.2 893.7h0" stroke="#c8c7e2" stroke-width="2.0" stroke-linecap="round"/>
<path d="M209.0 905.6h0M148.1 898.4h0M155.9 894.6h0" stroke="#c1c0df" stroke-width="2.0" stroke-linecap="round"/>
<path d="M136.3 892.1h0M133.3 882.1h0M141.3 897.5h0M146.3 895.7h0M172.0 907.9h0M143.1 894.9h0" stroke="#c8c7e2" stroke-width="1.0" stroke-linecap="round"/>
<path d="M194.0 903.9h0M163.4 904.8h0M132.5 895.3h0" stroke="#d6d5ea" stroke-width="2.0" stroke-linecap="round"/>
<path d="M126.5 875.8h0M165.2 898.5h0M177.0 905.1h0M184.8 904.5h0" stroke="#c1c0df" stroke-width="1.0" stroke-linecap="round"/>
<path d="M158.9 902.2h0M124.3 908.8h0M195.9 878.3h0M137.8 887.1h0M169.0 901.0h0M160.3 909.3h0M134.1 910.3h0M176.2 865.8h0" stroke="#86593a" stroke-width="1.0" stroke-linecap="round"/>
<path d="M181.9 909.2h0M163.2 890.8h0M183.2 899.6h0M179.0 866.8h0M130.6 886.1h0M174.3 891.7h0M148.5 877.4h0M195.6 884.1h0M170.6 871.8h0M141.3 901.7h0M174.9 900.1h0M145.4 876.0h0M182.3 865.9h0M169.6 893.5h0M194.3 879.2h0M207.0 902.7h0M167.9 874.8h0" stroke="#b58f6c" stroke-width="1.0" stroke-linecap="round"/>
<path d="M205.7 889.3h0M196.5 909.8h0M160.8 895.4h0M210.7 882.7h0M193.5 870.4h0M197.7 880.1h0M132.4 892.5h0M138.8 899.6h0M166.1 889.0h0M141.0 869.5h0M197.8 895.5h0M131.0 903.3h0M127.3 898.3h0" stroke="#946848" stroke-width="1.0" stroke-linecap="round"/>
<path d="M192.6 907.9h0M210.3 872.7h0M210.7 900.7h0M186.0 876.4h0M128.0 902.5h0M199.9 900.7h0M184.2 866.4h0M172.5 896.4h0" stroke="#a57a56" stroke-width="1.0" stroke-linecap="round"/>
<path d="M171.5 876.4h0" stroke="#b58f6c" stroke-width="1.5" stroke-linecap="round"/>
<path d="M178.8 875.4h0" stroke="#86593a" stroke-width="1.5" stroke-linecap="round"/>
<path d="M210.3 890.1h0M139.9 866.8h0M209.2 882.6h0M145.2 865.6h0M130.7 898.3h0M187.0 883.5h0M199.4 875.8h0M185.0 897.0h0M123.9 908.6h0M185.4 907.5h0M159.2 901.5h0M159.7 873.9h0M160.9 879.9h0M152.9 873.7h0M177.9 899.4h0M199.6 872.0h0M141.1 904.8h0M147.0 910.5h0M187.9 910.1h0M146.8 869.1h0M123.6 886.0h0M200.0 904.9h0M185.5 908.3h0M213.3 905.9h0M168.7 879.9h0M171.7 867.6h0M170.9 875.9h0M149.6 894.5h0M130.8 910.5h0M179.3 900.7h0M178.8 867.6h0M191.0 906.4h0M147.7 908.6h0M194.9 907.1h0M179.2 888.6h0M205.9 906.8h0M195.3 903.3h0M128.9 905.5h0M129.5 904.5h0M211.1 894.7h0M134.1 886.4h0M125.9 903.9h0M139.0 887.5h0M201.4 909.1h0M161.1 904.8h0M149.0 886.7h0M174.6 888.0h0M143.8 881.3h0M126.4 878.8h0M138.6 886.1h0M202.8 905.0h0M126.2 877.1h0M152.6 909.7h0M163.6 904.9h0M189.0 885.2h0M203.6 869.6h0M188.6 877.2h0" stroke="#bfa386" stroke-width="0.5" stroke-linecap="round"/>
<path d="M212.3 883.4h0M127.6 908.1h0M149.0 871.6h0M184.3 872.6h0M134.3 905.8h0M209.2 902.5h0M199.3 905.7h0M187.9 903.9h0M204.4 896.5h0M203.9 879.6h0M190.6 907.7h0M164.9 899.6h0M154.0 890.4h0M124.5 878.4h0M141.7 886.8h0M183.2 897.1h0M170.6 900.2h0M212.8 867.1h0M186.7 882.5h0M127.9 888.3h0M194.8 865.7h0M193.6 895.9h0M145.6 909.0h0M160.0 875.2h0M180.0 880.2h0M135.9 873.4h0M207.9 889.3h0M189.0 907.4h0M171.4 909.0h0M190.9 869.7h0M175.1 882.7h0" stroke="#d3bfa8" stroke-width="1.0" stroke-linecap="round"/>
<path d="M172.4 894.8h0M172.3 900.6h0M189.4 878.2h0M149.2 880.0h0M210.8 902.8h0M134.4 907.4h0M159.0 878.4h0M147.9 885.0h0M212.0 910.3h0M206.6 879.9h0M205.8 881.9h0M149.5 870.3h0M206.9 873.7h0M154.0 877.2h0M152.2 907.9h0M193.3 885.2h0M132.8 897.2h0M188.6 906.7h0M202.0 898.2h0M173.8 881.5h0M182.4 880.5h0M170.3 898.7h0M208.5 897.4h0M158.0 867.3h0M162.8 907.6h0M189.2 888.7h0M196.8 885.0h0M135.0 891.2h0M207.2 891.9h0M166.2 908.9h0M193.0 876.5h0M177.5 886.4h0M195.3 896.1h0M167.4 880.2h0M211.3 886.4h0M213.4 865.7h0M140.7 871.5h0M128.3 908.2h0M178.2 887.4h0M136.5 878.9h0" stroke="#c8b198" stroke-width="0.5" stroke-linecap="round"/>
<path d="M186.6 903.5h0M136.4 882.7h0M164.1 903.8h0M195.1 867.7h0M189.3 899.1h0M204.5 876.2h0M191.6 880.7h0M153.1 906.0h0M155.7 885.7h0M174.3 906.6h0M208.0 889.8h0M123.1 871.8h0M134.5 892.8h0M149.4 878.0h0M136.1 899.1h0M173.6 883.9h0M166.1 870.6h0M162.7 867.1h0M172.6 901.9h0M192.2 878.7h0M186.2 867.6h0M204.7 866.0h0M160.5 885.0h0M135.9 908.5h0M140.6 894.7h0M149.6 867.3h0M158.9 866.0h0" stroke="#bfa386" stroke-width="1.0" stroke-linecap="round"/>
<path d="M140.5 878.5h0M128.1 875.5h0M146.4 874.0h0M140.7 902.3h0M194.3 868.0h0M143.2 906.1h0M210.1 897.1h0M151.9 876.9h0M192.2 871.6h0M164.1 872.8h0M172.6 907.6h0M126.7 885.1h0M170.2 872.8h0M164.4 868.0h0M136.6 871.2h0M150.5 905.6h0M191.9 885.7h0M203.9 873.8h0M191.3 884.0h0M201.9 869.0h0M202.6 868.6h0M197.8 875.5h0M124.9 882.2h0M179.4 899.2h0M169.9 868.4h0M146.3 895.4h0M193.5 899.0h0M143.4 883.6h0M126.1 879.5h0M136.6 881.1h0M187.3 881.9h0" stroke="#c8b198" stroke-width="1.0" stroke-linecap="round"/>
<path d="M128.0 908.0h0M143.9 877.0h0M131.2 895.8h0M172.0 876.2h0M143.2 877.0h0M195.7 877.1h0M197.5 884.8h0M130.6 883.2h0M163.3 874.5h0M193.6 894.9h0M195.9 865.2h0M188.3 894.2h0M132.2 871.3h0M192.7 897.0h0M137.7 885.5h0M128.5 879.7h0M133.5 884.7h0M211.5 875.9h0M140.0 903.5h0M199.2 911.4h0M199.5 888.2h0M158.1 888.0h0M127.7 888.7h0M144.2 899.1h0M182.0 878.1h0M166.7 897.3h0M166.0 888.2h0M165.8 873.1h0M172.7 904.5h0M153.9 899.9h0M171.0 898.7h0M200.6 868.2h0M195.6 897.1h0M186.4 901.7h0M130.1 901.3h0M190.9 893.6h0M209.5 892.5h0M186.6 885.7h0M183.8 892.5h0M205.4 876.4h0M123.4 910.9h0M190.7 898.4h0M170.1 881.7h0M142.5 904.0h0M156.4 902.6h0" stroke="#d3bfa8" stroke-width="0.5" stroke-linecap="round"/>
<path d="M201.2 879.0h0M148.4 891.6h0M179.2 896.3h0M207.7 894.1h0M129.3 868.4h0M128.2 878.2h0M206.3 882.3h0M166.7 893.1h0M142.8 894.0h0M190.4 886.7h0M203.6 905.2h0M153.0 904.7h0M145.8 892.5h0M185.9 904.6h0M138.6 867.6h0M165.8 880.7h0M165.1 901.7h0M185.1 867.3h0M165.9 897.3h0M159.6 869.4h0M195.2 874.2h0M163.3 901.2h0M154.9 884.4h0M186.5 898.5h0M185.8 901.4h0M193.8 888.0h0M137.2 866.2h0M208.1 887.5h0M207.9 911.3h0M202.0 886.6h0M205.2 893.7h0M123.6 910.1h0M210.8 900.0h0M150.7 882.0h0M133.8 877.0h0M178.5 872.2h0M159.3 870.0h0M173.7 897.6h0M164.7 901.2h0M155.1 885.0h0M176.6 909.4h0M158.5 904.7h0M138.3 887.8h0M185.7 907.9h0M162.4 891.2h0M126.7 895.6h0M131.9 910.0h0M168.0 880.0h0M177.4 904.5h0" stroke="#ddd0bf" stroke-width="0.5" stroke-linecap="round"/>
<path d="M155.7 904.6h0M185.8 876.4h0M158.4 865.1h0M123.8 897.7h0M154.6 896.3h0M180.5 868.6h0M184.7 875.8h0M157.4 894.0h0M211.7 898.4h0M165.5 869.6h0M162.3 867.3h0M167.9 872.4h0M175.8 882.8h0M159.3 887.5h0M162.8 882.5h0M151.0 869.2h0M139.7 907.2h0M162.0 882.0h0M170.1 886.7h0M128.0 880.9h0M166.9 887.9h0M189.1 872.5h0M210.1 883.1h0M148.6 897.8h0M164.7 867.2h0M184.9 874.0h0" stroke="#ddd0bf" stroke-width="1.0" stroke-linecap="round"/>
</g>
<clipPath id="tc25"><rect x="221.5" y="864.6" width="92.5" height="47.4"/></clipPath>
<g clip-path="url(#tc25)">
<rect x="221.5" y="864.6" width="92.5" height="47.4" fill="#f0eeeb"/>
<path d="M221.5,874.08 L244.62,897.78 L277,904.89 L314,902.52" fill="none" stroke="#dddcec" stroke-opacity="1" stroke-width="12.32" stroke-linecap="round" stroke-linejoin="round" filter="url(#bl3)"/>
<path d="M224.4 880.4h0M256.6 897.9h0M252.0 902.1h0M312.1 905.9h0M233.3 877.0h0M247.5 899.4h0M266.5 900.6h0M242.5 892.1h0M279.2 909.2h0M291.8 906.8h0M226.6 875.5h0M269.9 908.1h0M271.5 898.5h0M246.8 902.2h0M286.1 903.0h0M258.5 906.0h0M277.8 907.1h0M228.3 882.2h0" stroke="#d0cfe7" stroke-width="1.5" stroke-linecap="round"/>
<path d="M286.0 904.3h0M297.3 905.1h0M276.3 900.9h0M231.6 882.9h0M260.1 905.3h0M265.4 907.9h0" stroke="#d6d5ea" stroke-width="1.0" stroke-linecap="round"/>
<path d="M296.8 901.9h0M231.5 881.3h0M254.6 899.5h0M249.3 900.2h0M292.8 899.9h0M273.8 902.7h0M264.8 903.8h0M262.2 897.3h0M281.0 903.7h0M305.9 892.2h0M276.2 903.1h0M302.5 905.7h0M256.0 897.2h0M280.6 906.9h0M227.1 890.3h0M279.4 900.1h0M277.7 903.6h0M249.7 897.0h0M290.9 903.9h0M287.2 900.1h0" stroke="#c8c7e2" stroke-width="1.5" stroke-linecap="round"/>
<path d="M296.6 903.6h0M261.1 900.0h0M311.3 899.5h0M259.9 900.0h0" stroke="#c1c0df" stroke-width="1.0" stroke-linecap="round"/>
<path d="M308.0 899.9h0M230.0 882.8h0M305.3 906.3h0M259.0 902.3h0" stroke="#d0cfe7" stroke-width="1.0" stroke-linecap="round"/>
<path d="M230.3 874.7h0M249.2 901.1h0M265.8 902.6h0M291.3 905.1h0M303.6 902.2h0M223.6 883.2h0M272.7 910.2h0M242.2 888.5h0M239.5 895.3h0M290.2 908.3h0M259.3 900.4h0M275.1 901.7h0" stroke="#d6d5ea" stroke-width="1.5" stroke-linecap="round"/>
<path d="M266.2 908.1h0M272.6 904.1h0M310.5 898.1h0M228.0 879.7h0M291.1 907.5h0M305.5 909.8h0M281.8 904.3h0M240.0 889.6h0M273.0 905.9h0M248.6 900.9h0M251.1 895.0h0M267.3 900.8h0M304.9 902.2h0M307.9 899.1h0M242.8 896.1h0M290.1 907.1h0" stroke="#c1c0df" stroke-width="1.5" stroke-linecap="round"/>
<path d="M267.7 904.2h0M223.0 873.7h0M251.0 898.5h0M232.4 885.5h0M259.9 899.7h0M281.2 903.4h0" stroke="#c8c7e2" stroke-width="1.0" stroke-linecap="round"/>
<path d="M276.5 900.8h0M287.9 908.5h0M232.0 884.0h0M295.7 903.0h0M228.7 891.3h0" stroke="#d0cfe7" stroke-width="2.0" stroke-linecap="round"/>
<path d="M230.6 881.1h0M255.3 907.0h0M243.0 896.3h0M259.2 900.6h0M275.5 903.2h0M259.9 893.0h0" stroke="#c8c7e2" stroke-width="2.0" stroke-linecap="round"/>
<path d="M228.8 885.8h0M248.4 894.8h0M286.1 899.7h0" stroke="#d6d5ea" stroke-width="2.0" stroke-linecap="round"/>
<path d="M258.6 899.3h0M305.4 906.5h0M281.2 909.0h0M237.0 897.6h0M273.0 901.5h0" stroke="#c1c0df" stroke-width="2.0" stroke-linecap="round"/>
<path d="M272.4 873.9h0M308.2 906.8h0M279.4 908.5h0M255.6 866.9h0M286.3 896.4h0M256.3 904.5h0M280.2 872.5h0M279.2 868.3h0M305.9 868.5h0M261.4 877.4h0M307.5 883.9h0M254.4 899.6h0M244.6 879.6h0M224.8 902.1h0M229.1 898.6h0M273.5 909.6h0M244.2 871.2h0M310.9 890.9h0M285.1 898.4h0M280.7 885.3h0M288.2 884.3h0M304.0 902.1h0M300.7 891.9h0M291.0 874.7h0M283.6 899.3h0M238.8 902.6h0" stroke="#ddd0bf" stroke-width="0.5" stroke-linecap="round"/>
<path d="M260.6 899.5h0M249.5 871.6h0M254.6 908.0h0M263.0 889.2h0M238.2 894.5h0M222.3 894.4h0M251.7 883.1h0M288.8 867.9h0M306.5 875.8h0M284.6 866.8h0M311.0 881.5h0M253.3 899.1h0M282.5 897.7h0M271.1 866.4h0M266.8 880.2h0M224.3 868.4h0M281.5 875.9h0M247.0 871.2h0M297.5 887.3h0M286.0 868.4h0M233.1 896.0h0M261.8 885.4h0M279.4 908.2h0M253.4 881.5h0M239.1 890.3h0M226.1 891.3h0M300.6 887.2h0M296.6 877.5h0M281.0 906.7h0M240.7 896.5h0M292.1 874.3h0M263.5 866.8h0M305.9 906.6h0M263.7 877.4h0M235.1 884.6h0M293.0 905.9h0" stroke="#c8b198" stroke-width="0.5" stroke-linecap="round"/>
<path d="M275.5 882.4h0M242.0 899.2h0M227.6 868.8h0M286.0 876.2h0M244.0 884.0h0M305.5 910.0h0M228.9 879.3h0M262.5 884.3h0M275.0 879.1h0M224.1 865.6h0M269.2 868.1h0M305.4 874.5h0M300.1 878.6h0M237.6 893.8h0" stroke="#bfa386" stroke-width="1.0" stroke-linecap="round"/>
<path d="M273.7 879.4h0M301.6 868.1h0M255.2 898.0h0M278.9 870.2h0M286.9 901.7h0M256.6 879.1h0M271.5 889.3h0M233.7 885.0h0M263.6 899.9h0M232.7 876.1h0M270.5 906.5h0M259.8 896.7h0M247.6 884.6h0M232.6 880.1h0M282.4 871.2h0" stroke="#ddd0bf" stroke-width="1.0" stroke-linecap="round"/>
<path d="M230.4 901.8h0M247.4 892.7h0M300.1 886.6h0M259.3 879.5h0M294.6 893.4h0M231.9 911.1h0M241.3 870.8h0M301.8 901.0h0M304.9 876.1h0M283.5 879.2h0M276.0 866.5h0M284.8 906.3h0M292.8 898.4h0M300.7 907.6h0M291.8 899.3h0M279.8 907.1h0M233.7 879.7h0M248.1 883.5h0M248.9 892.1h0M258.3 901.9h0M229.9 909.2h0M274.5 880.6h0M272.4 911.5h0M261.8 866.5h0M236.5 872.0h0" stroke="#bfa386" stroke-width="0.5" stroke-linecap="round"/>
<path d="M275.4 881.2h0M235.9 904.6h0M222.8 882.9h0M268.9 894.2h0M264.6 899.7h0M258.9 865.3h0M242.6 881.0h0M277.5 900.9h0M270.6 869.6h0M298.2 903.2h0M288.7 887.7h0M283.8 865.4h0M284.2 906.7h0M270.7 866.6h0M296.3 883.5h0M239.8 879.7h0M248.3 877.8h0" stroke="#c8b198" stroke-width="1.0" stroke-linecap="round"/>
<path d="M222.1 872.1h0M225.0 874.8h0M274.8 878.5h0M307.9 871.6h0M294.8 900.8h0M226.2 899.8h0M283.2 907.4h0M239.9 873.7h0M299.4 906.7h0M242.2 909.4h0M281.5 879.4h0M237.7 881.2h0M266.0 892.6h0M229.4 865.5h0M311.0 883.4h0M269.3 879.4h0M239.3 891.9h0M273.1 884.0h0M290.2 909.4h0M300.6 896.5h0M312.5 888.9h0M306.5 907.7h0M287.9 891.8h0M275.6 886.1h0" stroke="#d3bfa8" stroke-width="0.5" stroke-linecap="round"/>
<path d="M238.9 898.5h0M297.6 865.7h0M293.7 894.7h0M312.0 893.0h0M260.5 879.3h0M284.3 875.0h0M313.0 884.6h0M282.5 899.4h0M261.7 891.1h0M230.8 904.3h0M291.5 903.7h0M306.2 909.9h0M286.6 909.9h0" stroke="#d3bfa8" stroke-width="1.0" stroke-linecap="round"/>
<path d="M297.1 877.0h0M259.7 867.2h0" stroke="#a57a56" stroke-width="1.5" stroke-linecap="round"/>
<path d="M265.4 906.2h0M230.6 872.2h0M277.6 877.2h0M311.9 898.1h0M282.0 902.7h0M225.9 910.7h0M295.3 887.9h0" stroke="#b58f6c" stroke-width="1.0" stroke-linecap="round"/>
<path d="M270.8 875.6h0M225.0 902.7h0" stroke="#b58f6c" stroke-width="1.5" stroke-linecap="round"/>
<path d="M285.8 878.5h0M264.2 908.5h0M233.1 908.0h0M277.6 866.1h0M227.2 870.7h0M291.1 894.8h0M227.5 903.7h0M298.9 905.2h0" stroke="#a57a56" stroke-width="1.0" stroke-linecap="round"/>
<path d="M274.7 869.9h0M253.6 879.0h0M232.4 888.7h0M283.9 894.5h0M286.9 879.6h0M257.7 878.0h0" stroke="#946848" stroke-width="1.0" stroke-linecap="round"/>
<path d="M293.0 897.7h0M240.3 885.1h0" stroke="#86593a" stroke-width="1.0" stroke-linecap="round"/>
<path d="M300.8 906.5h0" stroke="#946848" stroke-width="1.5" stroke-linecap="round"/>
<path d="M281.5 895.6h0M222.5 877.7h0M251.7 911.1h0M252.5 907.6h0M291.3 878.5h0M230.5 879.8h0M246.0 884.0h0" stroke="#c8c7e5" stroke-width="1.5" stroke-linecap="round"/>
<path d="M251.9 875.9h0M235.8 867.3h0M233.3 871.5h0M293.1 870.2h0M292.3 871.4h0M239.4 890.8h0M292.8 888.9h0M234.0 891.5h0M296.6 884.8h0M235.7 895.7h0M300.2 866.2h0M268.8 893.1h0M295.5 898.4h0" stroke="#bebddf" stroke-width="1.0" stroke-linecap="round"/>
<path d="M262.4 910.0h0M260.0 896.7h0M275.9 893.4h0M265.9 885.7h0" stroke="#bebddf" stroke-width="1.5" stroke-linecap="round"/>
<path d="M240.6 873.5h0M285.1 872.8h0M299.8 874.3h0M283.9 907.5h0M303.5 868.6h0M239.7 891.4h0M313.1 895.2h0M270.4 906.3h0M243.9 888.8h0M277.0 900.1h0M254.9 868.6h0" stroke="#c8c7e5" stroke-width="1.0" stroke-linecap="round"/>
</g>
<clipPath id="tc35"><rect x="315.6" y="864.6" width="91.4" height="47.4"/></clipPath>
<g clip-path="url(#tc35)">
<rect x="315.6" y="864.6" width="91.4" height="47.4" fill="#f0eeeb"/>
<path d="M315.6,874.08 L338.45,897.78 L370.44,904.89 L407,902.52" fill="none" stroke="#dddcec" stroke-opacity="1" stroke-width="12.32" stroke-linecap="round" stroke-linejoin="round" filter="url(#bl3)"/>
<path d="M324.4 890.9h0M405.6 904.0h0M344.1 903.4h0M330.3 893.1h0M340.2 896.7h0M349.7 899.8h0M402.4 908.9h0M341.6 906.3h0M339.6 902.5h0M347.3 903.5h0M320.0 883.4h0M317.8 877.6h0M359.5 905.9h0" stroke="#d6d5ea" stroke-width="1.5" stroke-linecap="round"/>
<path d="M333.1 887.9h0M384.5 900.4h0M380.8 906.8h0M378.7 901.1h0M324.1 894.7h0M318.5 885.8h0M401.2 906.5h0M384.8 904.3h0M346.4 899.4h0M374.2 909.3h0" stroke="#c1c0df" stroke-width="1.0" stroke-linecap="round"/>
<path d="M353.1 909.4h0M381.8 903.8h0M317.0 886.9h0M330.2 885.9h0M369.6 898.5h0" stroke="#d6d5ea" stroke-width="1.0" stroke-linecap="round"/>
<path d="M339.5 887.9h0M377.0 904.5h0M320.5 870.6h0M400.6 901.9h0M393.3 904.7h0M324.2 882.8h0M339.8 898.1h0M396.6 905.1h0M338.1 891.9h0M383.7 908.0h0M337.0 892.3h0M335.1 897.6h0M370.3 899.6h0M404.3 903.7h0M377.8 898.5h0M384.8 903.7h0M365.1 906.0h0M328.1 884.5h0M384.5 910.3h0" stroke="#c8c7e2" stroke-width="1.5" stroke-linecap="round"/>
<path d="M334.2 892.4h0M336.1 899.3h0M381.6 902.5h0" stroke="#c1c0df" stroke-width="2.0" stroke-linecap="round"/>
<path d="M400.1 897.8h0M349.9 892.3h0M318.6 879.0h0M367.9 906.1h0M379.8 900.0h0M369.3 908.4h0M324.2 882.2h0M328.5 882.9h0M362.9 903.6h0M324.4 881.3h0M398.1 899.9h0M353.5 901.3h0M345.4 893.0h0M376.5 905.6h0M326.7 877.4h0" stroke="#c1c0df" stroke-width="1.5" stroke-linecap="round"/>
<path d="M331.0 880.9h0M340.4 899.7h0M325.4 884.9h0M357.2 904.0h0M361.9 902.2h0" stroke="#c8c7e2" stroke-width="2.0" stroke-linecap="round"/>
<path d="M341.5 907.9h0M360.8 899.6h0M319.5 882.8h0M324.9 882.3h0M385.7 906.6h0M394.9 900.5h0M390.7 907.4h0M318.0 875.4h0M337.8 897.7h0M351.3 898.9h0M332.9 895.7h0M342.6 895.8h0M348.5 899.4h0" stroke="#d0cfe7" stroke-width="1.5" stroke-linecap="round"/>
<path d="M401.5 899.1h0M387.1 900.0h0M350.3 898.6h0M371.1 901.6h0M366.4 908.9h0M332.3 889.7h0M317.6 889.1h0" stroke="#d0cfe7" stroke-width="1.0" stroke-linecap="round"/>
<path d="M319.0 881.9h0M317.7 876.6h0M360.7 903.3h0M321.0 876.8h0" stroke="#d6d5ea" stroke-width="2.0" stroke-linecap="round"/>
<path d="M391.0 897.3h0M371.3 899.3h0M396.5 909.3h0M383.7 898.0h0M407.0 904.5h0M319.4 878.9h0" stroke="#d0cfe7" stroke-width="2.0" stroke-linecap="round"/>
<path d="M316.5 878.6h0M368.1 903.4h0M316.7 879.1h0M335.4 896.2h0" stroke="#c8c7e2" stroke-width="1.0" stroke-linecap="round"/>
<path d="M356.4 894.3h0M384.9 884.9h0M350.9 898.5h0M318.9 895.1h0M356.8 876.0h0M353.5 870.3h0M349.1 906.2h0M391.0 909.9h0M354.3 882.6h0M376.5 909.0h0M362.1 903.2h0M383.4 897.1h0M404.8 875.8h0M380.8 881.2h0M370.6 880.5h0M357.0 897.6h0M364.9 877.5h0M336.2 866.2h0M383.4 865.5h0M360.3 870.8h0M402.5 893.1h0M397.7 899.3h0M403.3 890.8h0M338.7 883.2h0M406.4 887.4h0M322.8 903.5h0M353.0 897.2h0M341.0 879.3h0M402.8 879.8h0M385.2 887.0h0" stroke="#bfa386" stroke-width="0.5" stroke-linecap="round"/>
<path d="M325.3 877.7h0M382.7 894.2h0M316.4 875.8h0M357.8 876.6h0M351.1 892.5h0M335.2 867.2h0M357.2 906.4h0M402.8 868.3h0M404.0 869.9h0M375.7 895.0h0M355.0 889.1h0M382.6 909.3h0M348.7 889.1h0M345.0 895.7h0M401.8 867.5h0M346.3 906.8h0M369.5 886.1h0M333.5 879.0h0M331.2 876.0h0M335.3 903.4h0M396.3 894.3h0M398.1 868.9h0M328.5 880.9h0" stroke="#ddd0bf" stroke-width="0.5" stroke-linecap="round"/>
<path d="M337.4 900.2h0M350.2 883.4h0M371.4 881.9h0M354.3 884.2h0M385.0 891.3h0M316.2 874.4h0M340.7 878.0h0M398.9 891.0h0M331.9 899.8h0M328.5 906.2h0M384.4 899.5h0M358.8 909.1h0M377.7 901.8h0M325.2 906.0h0M346.1 868.5h0M394.0 903.4h0M351.1 903.5h0M365.3 911.0h0M351.1 882.8h0M385.1 891.7h0M345.5 879.8h0M316.4 886.1h0M329.7 904.2h0M381.6 874.7h0M335.3 882.8h0" stroke="#c8b198" stroke-width="0.5" stroke-linecap="round"/>
<path d="M337.7 875.0h0M353.2 869.0h0M359.5 882.7h0M361.1 874.7h0M392.5 890.2h0M364.3 872.4h0M338.4 908.8h0M325.9 876.4h0M347.7 892.5h0M344.1 874.9h0M352.6 885.7h0M376.1 897.0h0M386.9 902.8h0M336.0 872.8h0M382.2 888.8h0M397.6 865.6h0M330.3 890.2h0M345.8 881.1h0" stroke="#bfa386" stroke-width="1.0" stroke-linecap="round"/>
<path d="M390.7 882.0h0M334.6 871.9h0M391.7 882.7h0M320.5 898.9h0M342.1 889.4h0M357.8 878.1h0M346.1 906.3h0M366.8 897.2h0M355.1 901.2h0M367.3 886.2h0M330.9 892.5h0M354.5 888.3h0M354.2 909.0h0M363.1 884.7h0M319.9 907.5h0M373.0 872.9h0M340.3 896.2h0M367.9 910.4h0" stroke="#d3bfa8" stroke-width="0.5" stroke-linecap="round"/>
<path d="M392.2 898.3h0M335.8 904.0h0M362.0 908.2h0M389.3 885.6h0M376.8 903.5h0M338.3 870.4h0M325.6 902.5h0M366.0 897.1h0M358.1 879.2h0M357.5 908.0h0M398.8 900.2h0M330.3 875.3h0M396.6 898.6h0M324.1 900.1h0M343.9 881.0h0" stroke="#ddd0bf" stroke-width="1.0" stroke-linecap="round"/>
<path d="M369.6 875.3h0M395.7 890.4h0M354.7 898.7h0M358.8 895.6h0M388.9 893.0h0M361.7 893.3h0M396.0 904.8h0M391.8 871.1h0M352.6 896.5h0M355.6 907.8h0M396.1 872.4h0M339.1 898.5h0M363.8 909.4h0M339.7 870.7h0M329.6 881.0h0M348.8 879.3h0M378.8 891.0h0M325.3 877.2h0M388.2 909.2h0M392.6 900.6h0M319.9 867.9h0" stroke="#d3bfa8" stroke-width="1.0" stroke-linecap="round"/>
<path d="M343.9 896.8h0M392.2 892.9h0M345.0 865.4h0M347.1 882.7h0M319.9 870.1h0M382.5 897.7h0M350.1 876.8h0M394.7 880.1h0M362.1 876.2h0M331.8 884.3h0M355.0 904.4h0M326.1 903.1h0M389.0 898.7h0M401.3 881.3h0M342.8 910.3h0M348.3 887.7h0M392.5 890.4h0M324.7 904.1h0M355.8 872.8h0M377.1 905.1h0" stroke="#c8b198" stroke-width="1.0" stroke-linecap="round"/>
<path d="M341.0 870.9h0M381.4 876.5h0M394.8 910.9h0M399.1 866.6h0M400.5 898.3h0M344.4 892.5h0M386.9 897.9h0" stroke="#86593a" stroke-width="1.0" stroke-linecap="round"/>
<path d="M385.1 907.1h0M381.0 877.3h0" stroke="#86593a" stroke-width="1.5" stroke-linecap="round"/>
<path d="M323.9 874.9h0M405.9 902.5h0M386.0 873.8h0M326.0 901.8h0M364.8 871.1h0M401.2 902.7h0M402.0 879.8h0M378.5 904.3h0" stroke="#b58f6c" stroke-width="1.0" stroke-linecap="round"/>
<path d="M356.1 881.9h0M342.3 871.6h0M364.6 865.4h0M341.7 875.7h0M393.9 880.2h0" stroke="#946848" stroke-width="1.0" stroke-linecap="round"/>
<path d="M366.3 876.2h0" stroke="#a57a56" stroke-width="1.5" stroke-linecap="round"/>
<path d="M361.3 895.4h0M333.6 869.8h0" stroke="#b58f6c" stroke-width="1.5" stroke-linecap="round"/>
<path d="M332.6 900.9h0M376.9 907.7h0" stroke="#a57a56" stroke-width="1.0" stroke-linecap="round"/>
<path d="M317.9 898.5h0" stroke="#946848" stroke-width="1.5" stroke-linecap="round"/>
<path d="M395.1 902.9h0M373.5 907.5h0M396.9 886.1h0M394.2 885.4h0M339.4 890.5h0M335.5 907.8h0M386.5 891.7h0M405.3 910.7h0M375.2 880.5h0M368.5 871.4h0M384.7 894.6h0" stroke="#bebddf" stroke-width="1.0" stroke-linecap="round"/>
<path d="M337.5 879.9h0M376.5 908.4h0M365.0 879.7h0M330.1 902.3h0M372.5 880.0h0M335.8 910.3h0M362.6 884.0h0M325.2 903.5h0M323.8 883.9h0" stroke="#c8c7e5" stroke-width="1.0" stroke-linecap="round"/>
<path d="M374.0 898.7h0M384.4 902.3h0M388.3 892.8h0M338.6 908.9h0M387.4 894.3h0M396.6 909.8h0M373.5 867.3h0" stroke="#c8c7e5" stroke-width="1.5" stroke-linecap="round"/>
<path d="M381.4 903.9h0M397.1 882.5h0M326.9 899.7h0M353.5 906.4h0M345.7 906.5h0M392.4 870.6h0M346.4 866.5h0M345.3 909.6h0" stroke="#bebddf" stroke-width="1.5" stroke-linecap="round"/>
</g>
<text transform="translate(27.4,641.9) rotate(-90)" font-size="12" text-anchor="middle">Cortex</text>
<text transform="translate(27.4,740.45) rotate(-90)" font-size="12" text-anchor="middle">DG</text>
<text transform="translate(27.4,789.7) rotate(-90)" font-size="12" text-anchor="middle">CA1</text>
<text transform="translate(27.4,839.05) rotate(-90)" font-size="12" text-anchor="middle">CA2</text>
<text transform="translate(27.4,888.3) rotate(-90)" font-size="12" text-anchor="middle">CA3</text>
<text transform="translate(17.2,691.4) rotate(-90)" font-size="12" text-anchor="middle">Hippo-</text>
<text transform="translate(27.4,691.4) rotate(-90)" font-size="12" text-anchor="middle">campus</text>
<line x1="206.7" y1="915.9" x2="213.6" y2="915.9" stroke="#000" stroke-width="2"/>
<line x1="398" y1="916" x2="406.3" y2="916" stroke="#000" stroke-width="2"/>
<text transform="translate(430.3,588.6) scale(0.93,1.0)" font-size="15.5" font-weight="bold">j</text>
<line x1="526" y1="560.7" x2="538" y2="560.7" stroke="#3c2cf2" stroke-width="1"/>
<circle cx="531.6" cy="560.7" r="2.4" fill="#3c2cf2"/>
<text x="542.2" y="564.4" font-size="11.6">Control</text>
<line x1="596.6" y1="560.7" x2="607.2" y2="560.7" stroke="#f2302c" stroke-width="1"/>
<circle cx="601.9" cy="560.7" r="2.4" fill="#f2302c"/>
<text x="611.5" y="564.2" font-size="12">FRONTAC<tspan class="s" font-size="6.96" dy="-3.6">FUS</tspan></text>
<rect x="487.5" y="637.98" width="9.8" height="73.52" fill="#fff" stroke="#000" stroke-width="1.1"/>
<rect x="499.5" y="638.58" width="9.8" height="72.92" fill="#fff" stroke="#000" stroke-width="1.1"/>
<rect x="515.9" y="636.92" width="9.8" height="74.58" fill="#fff" stroke="#000" stroke-width="1.1"/>
<rect x="527.3" y="644.46" width="9.8" height="67.04" fill="#fff" stroke="#000" stroke-width="1.1"/>
<rect x="544.4" y="636.17" width="9.8" height="75.33" fill="#fff" stroke="#000" stroke-width="1.1"/>
<rect x="555.7" y="640.69" width="9.8" height="70.81" fill="#fff" stroke="#000" stroke-width="1.1"/>
<rect x="572.8" y="636.92" width="9.8" height="74.58" fill="#fff" stroke="#000" stroke-width="1.1"/>
<rect x="584.2" y="644.46" width="9.8" height="67.04" fill="#fff" stroke="#000" stroke-width="1.1"/>
<rect x="601.2" y="636.17" width="9.8" height="75.33" fill="#fff" stroke="#000" stroke-width="1.1"/>
<rect x="612.6" y="639.18" width="9.8" height="72.32" fill="#fff" stroke="#000" stroke-width="1.1"/>
<rect x="629.7" y="636.17" width="9.8" height="75.33" fill="#fff" stroke="#000" stroke-width="1.1"/>
<rect x="641" y="642.95" width="9.8" height="68.55" fill="#fff" stroke="#000" stroke-width="1.1"/>
<circle cx="492.4" cy="612.59" r="1.8" fill="#3c2cf2"/>
<circle cx="492.4" cy="642.72" r="1.8" fill="#3c2cf2"/>
<circle cx="492.4" cy="654.02" r="1.8" fill="#3c2cf2"/>
<line x1="492.4" y1="612.82" x2="492.4" y2="657.26" stroke="#000" stroke-width="1.1"/>
<line x1="490.4" y1="612.82" x2="494.4" y2="612.82" stroke="#000" stroke-width="1.1"/>
<line x1="490.4" y1="657.26" x2="494.4" y2="657.26" stroke="#000" stroke-width="1.1"/>
<circle cx="504.4" cy="620.73" r="1.8" fill="#f2302c"/>
<circle cx="504.4" cy="637.38" r="1.8" fill="#f2302c"/>
<circle cx="504.4" cy="654.02" r="1.8" fill="#f2302c"/>
<line x1="504.4" y1="620.73" x2="504.4" y2="654.02" stroke="#000" stroke-width="1.1"/>
<line x1="502.4" y1="620.73" x2="506.4" y2="620.73" stroke="#000" stroke-width="1.1"/>
<line x1="502.4" y1="654.02" x2="506.4" y2="654.02" stroke="#000" stroke-width="1.1"/>
<circle cx="520.8" cy="632.4" r="1.8" fill="#3c2cf2"/>
<circle cx="518.3" cy="637" r="1.8" fill="#3c2cf2"/>
<circle cx="523.3" cy="638.88" r="1.8" fill="#3c2cf2"/>
<line x1="520.8" y1="632.4" x2="520.8" y2="638.43" stroke="#000" stroke-width="1.1"/>
<line x1="518.8" y1="632.4" x2="522.8" y2="632.4" stroke="#000" stroke-width="1.1"/>
<line x1="518.8" y1="638.43" x2="522.8" y2="638.43" stroke="#000" stroke-width="1.1"/>
<circle cx="532.2" cy="639.18" r="1.8" fill="#f2302c"/>
<circle cx="529.7" cy="643.33" r="1.8" fill="#f2302c"/>
<circle cx="534.7" cy="646.19" r="1.8" fill="#f2302c"/>
<line x1="532.2" y1="639.18" x2="532.2" y2="645.96" stroke="#000" stroke-width="1.1"/>
<line x1="530.2" y1="639.18" x2="534.2" y2="639.18" stroke="#000" stroke-width="1.1"/>
<line x1="530.2" y1="645.96" x2="534.2" y2="645.96" stroke="#000" stroke-width="1.1"/>
<circle cx="547.3" cy="636.17" r="1.8" fill="#3c2cf2"/>
<circle cx="549.3" cy="636.55" r="1.8" fill="#3c2cf2"/>
<circle cx="551.3" cy="636.92" r="1.8" fill="#3c2cf2"/>
<line x1="549.3" y1="635.42" x2="549.3" y2="637.3" stroke="#000" stroke-width="1.1"/>
<line x1="547.3" y1="635.42" x2="551.3" y2="635.42" stroke="#000" stroke-width="1.1"/>
<line x1="547.3" y1="637.3" x2="551.3" y2="637.3" stroke="#000" stroke-width="1.1"/>
<circle cx="560.6" cy="638.43" r="1.8" fill="#f2302c"/>
<circle cx="558.6" cy="641.44" r="1.8" fill="#f2302c"/>
<circle cx="562.6" cy="642.2" r="1.8" fill="#f2302c"/>
<line x1="560.6" y1="638.43" x2="560.6" y2="642.95" stroke="#000" stroke-width="1.1"/>
<line x1="558.6" y1="638.43" x2="562.6" y2="638.43" stroke="#000" stroke-width="1.1"/>
<line x1="558.6" y1="642.95" x2="562.6" y2="642.95" stroke="#000" stroke-width="1.1"/>
<circle cx="575.7" cy="634.66" r="1.8" fill="#3c2cf2"/>
<circle cx="577.7" cy="636.92" r="1.8" fill="#3c2cf2"/>
<circle cx="579.7" cy="638.05" r="1.8" fill="#3c2cf2"/>
<line x1="577.7" y1="634.66" x2="577.7" y2="638.43" stroke="#000" stroke-width="1.1"/>
<line x1="575.7" y1="634.66" x2="579.7" y2="634.66" stroke="#000" stroke-width="1.1"/>
<line x1="575.7" y1="638.43" x2="579.7" y2="638.43" stroke="#000" stroke-width="1.1"/>
<circle cx="589.1" cy="639.94" r="1.8" fill="#f2302c"/>
<circle cx="587.1" cy="645.21" r="1.8" fill="#f2302c"/>
<circle cx="591.1" cy="645.96" r="1.8" fill="#f2302c"/>
<line x1="589.1" y1="639.94" x2="589.1" y2="648.22" stroke="#000" stroke-width="1.1"/>
<line x1="587.1" y1="639.94" x2="591.1" y2="639.94" stroke="#000" stroke-width="1.1"/>
<line x1="587.1" y1="648.22" x2="591.1" y2="648.22" stroke="#000" stroke-width="1.1"/>
<circle cx="604.1" cy="636.17" r="1.8" fill="#3c2cf2"/>
<circle cx="606.1" cy="636.17" r="1.8" fill="#3c2cf2"/>
<circle cx="608.1" cy="636.92" r="1.8" fill="#3c2cf2"/>
<line x1="606.1" y1="635.79" x2="606.1" y2="636.55" stroke="#000" stroke-width="1.1"/>
<line x1="604.1" y1="635.79" x2="608.1" y2="635.79" stroke="#000" stroke-width="1.1"/>
<line x1="604.1" y1="636.55" x2="608.1" y2="636.55" stroke="#000" stroke-width="1.1"/>
<circle cx="617.5" cy="636.92" r="1.8" fill="#f2302c"/>
<circle cx="615.5" cy="638.43" r="1.8" fill="#f2302c"/>
<circle cx="619.5" cy="639.94" r="1.8" fill="#f2302c"/>
<line x1="617.5" y1="636.92" x2="617.5" y2="640.69" stroke="#000" stroke-width="1.1"/>
<line x1="615.5" y1="636.92" x2="619.5" y2="636.92" stroke="#000" stroke-width="1.1"/>
<line x1="615.5" y1="640.69" x2="619.5" y2="640.69" stroke="#000" stroke-width="1.1"/>
<circle cx="632.6" cy="636.17" r="1.8" fill="#3c2cf2"/>
<circle cx="634.6" cy="636.17" r="1.8" fill="#3c2cf2"/>
<circle cx="636.6" cy="636.92" r="1.8" fill="#3c2cf2"/>
<line x1="634.6" y1="635.79" x2="634.6" y2="636.55" stroke="#000" stroke-width="1.1"/>
<line x1="632.6" y1="635.79" x2="636.6" y2="635.79" stroke="#000" stroke-width="1.1"/>
<line x1="632.6" y1="636.55" x2="636.6" y2="636.55" stroke="#000" stroke-width="1.1"/>
<circle cx="645.9" cy="639.18" r="1.8" fill="#f2302c"/>
<circle cx="643.9" cy="644.46" r="1.8" fill="#f2302c"/>
<circle cx="647.9" cy="645.21" r="1.8" fill="#f2302c"/>
<line x1="645.9" y1="639.18" x2="645.9" y2="647.47" stroke="#000" stroke-width="1.1"/>
<line x1="643.9" y1="639.18" x2="647.9" y2="639.18" stroke="#000" stroke-width="1.1"/>
<line x1="643.9" y1="647.47" x2="647.9" y2="647.47" stroke="#000" stroke-width="1.1"/>
<line x1="482.3" y1="598.5" x2="482.3" y2="712.15" stroke="#000" stroke-width="1.3"/>
<line x1="477.3" y1="711.5" x2="482.3" y2="711.5" stroke="#000" stroke-width="1.3"/>
<text x="476.8" y="715.6" font-size="11.6" text-anchor="end">0</text>
<line x1="477.3" y1="688.9" x2="482.3" y2="688.9" stroke="#000" stroke-width="1.3"/>
<text x="476.8" y="693" font-size="11.6" text-anchor="end">30</text>
<line x1="477.3" y1="666.3" x2="482.3" y2="666.3" stroke="#000" stroke-width="1.3"/>
<text x="476.8" y="670.4" font-size="11.6" text-anchor="end">60</text>
<line x1="477.3" y1="643.7" x2="482.3" y2="643.7" stroke="#000" stroke-width="1.3"/>
<text x="476.8" y="647.8" font-size="11.6" text-anchor="end">90</text>
<line x1="477.3" y1="621.1" x2="482.3" y2="621.1" stroke="#000" stroke-width="1.3"/>
<text x="476.8" y="625.2" font-size="11.6" text-anchor="end">120</text>
<line x1="477.3" y1="598.5" x2="482.3" y2="598.5" stroke="#000" stroke-width="1.3"/>
<text x="476.8" y="602.61" font-size="11.6" text-anchor="end">150</text>
<line x1="481.65" y1="711.5" x2="656.6" y2="711.5" stroke="#000" stroke-width="1.3"/>
<line x1="498.4" y1="711.5" x2="498.4" y2="715.8" stroke="#000" stroke-width="1.3"/>
<line x1="526.5" y1="711.5" x2="526.5" y2="715.8" stroke="#000" stroke-width="1.3"/>
<line x1="554.95" y1="711.5" x2="554.95" y2="715.8" stroke="#000" stroke-width="1.3"/>
<line x1="583.4" y1="711.5" x2="583.4" y2="715.8" stroke="#000" stroke-width="1.3"/>
<line x1="611.8" y1="711.5" x2="611.8" y2="715.8" stroke="#000" stroke-width="1.3"/>
<line x1="640.25" y1="711.5" x2="640.25" y2="715.8" stroke="#000" stroke-width="1.3"/>
<text transform="translate(509,618.2) rotate(-90)" font-size="12"><tspan font-style="italic">P</tspan> = 0.9507</text>
<text transform="translate(536.8,634.8) rotate(-90)" font-size="12"><tspan font-style="italic">P</tspan> = 0.0628</text>
<text transform="translate(565.2,634.8) rotate(-90)" font-size="12"><tspan font-style="italic">P</tspan> = 0.0620</text>
<text transform="translate(593.7,634.8) rotate(-90)" font-size="12"><tspan font-style="italic">P</tspan> = 0.0675</text>
<text transform="translate(622.1,631.8) rotate(-90)" font-size="12"><tspan font-style="italic">P</tspan> = 0.1813</text>
<text transform="translate(650.5,633.3) rotate(-90)" font-size="12"><tspan font-style="italic">P</tspan> = 0.0861</text>
<text transform="translate(454.1,654.5) rotate(-90)" font-size="12" text-anchor="middle">GFAP level (%)</text>
<rect x="488.5" y="792.6" width="9.5" height="95" fill="#fff" stroke="#000" stroke-width="1.1"/>
<rect x="499.3" y="788.7" width="10.2" height="98.9" fill="#fff" stroke="#000" stroke-width="1.1"/>
<rect x="517.1" y="792.98" width="9.5" height="94.62" fill="#fff" stroke="#000" stroke-width="1.1"/>
<rect x="528.3" y="797.25" width="10.2" height="90.35" fill="#fff" stroke="#000" stroke-width="1.1"/>
<rect x="545.4" y="792.98" width="9.5" height="94.62" fill="#fff" stroke="#000" stroke-width="1.1"/>
<rect x="557.2" y="795.07" width="10.2" height="92.53" fill="#fff" stroke="#000" stroke-width="1.1"/>
<rect x="574.1" y="792.5" width="9.5" height="95.1" fill="#fff" stroke="#000" stroke-width="1.1"/>
<rect x="585.4" y="794.21" width="10.2" height="93.39" fill="#fff" stroke="#000" stroke-width="1.1"/>
<rect x="602.9" y="792.5" width="9.5" height="95.1" fill="#fff" stroke="#000" stroke-width="1.1"/>
<rect x="614.2" y="792.5" width="10.2" height="95.1" fill="#fff" stroke="#000" stroke-width="1.1"/>
<rect x="631.4" y="792.98" width="9.5" height="94.62" fill="#fff" stroke="#000" stroke-width="1.1"/>
<rect x="643.1" y="792.98" width="10.2" height="94.62" fill="#fff" stroke="#000" stroke-width="1.1"/>
<circle cx="490.75" cy="786.41" r="1.8" fill="#3c2cf2"/>
<circle cx="496.25" cy="790.6" r="1.8" fill="#3c2cf2"/>
<circle cx="493.25" cy="799.35" r="1.8" fill="#3c2cf2"/>
<line x1="493.25" y1="785.84" x2="493.25" y2="799.35" stroke="#000" stroke-width="1.1"/>
<line x1="491.25" y1="785.84" x2="495.25" y2="785.84" stroke="#000" stroke-width="1.1"/>
<line x1="491.25" y1="799.35" x2="495.25" y2="799.35" stroke="#000" stroke-width="1.1"/>
<circle cx="504.4" cy="781.28" r="1.8" fill="#f2302c"/>
<circle cx="502.4" cy="790.6" r="1.8" fill="#f2302c"/>
<circle cx="506.9" cy="790.6" r="1.8" fill="#f2302c"/>
<line x1="504.4" y1="781.28" x2="504.4" y2="789.65" stroke="#f2302c" stroke-width="1.1"/>
<line x1="502.4" y1="781.28" x2="506.4" y2="781.28" stroke="#f2302c" stroke-width="1.1"/>
<line x1="502.4" y1="789.65" x2="506.4" y2="789.65" stroke="#f2302c" stroke-width="1.1"/>
<circle cx="522.35" cy="785.84" r="1.8" fill="#3c2cf2"/>
<circle cx="520.35" cy="793.17" r="1.8" fill="#3c2cf2"/>
<circle cx="522.35" cy="801.34" r="1.8" fill="#3c2cf2"/>
<line x1="521.85" y1="785.84" x2="521.85" y2="801.06" stroke="#000" stroke-width="1.1"/>
<line x1="519.85" y1="785.84" x2="523.85" y2="785.84" stroke="#000" stroke-width="1.1"/>
<line x1="519.85" y1="801.06" x2="523.85" y2="801.06" stroke="#000" stroke-width="1.1"/>
<circle cx="533.4" cy="787.36" r="1.8" fill="#f2302c"/>
<circle cx="533.4" cy="797.25" r="1.8" fill="#f2302c"/>
<circle cx="533.4" cy="803.82" r="1.8" fill="#f2302c"/>
<line x1="533.4" y1="787.75" x2="533.4" y2="803.91" stroke="#f2302c" stroke-width="1.1"/>
<line x1="531.4" y1="787.75" x2="535.4" y2="787.75" stroke="#f2302c" stroke-width="1.1"/>
<line x1="531.4" y1="803.91" x2="535.4" y2="803.91" stroke="#f2302c" stroke-width="1.1"/>
<circle cx="550.15" cy="780.14" r="1.8" fill="#3c2cf2"/>
<circle cx="548.65" cy="793.45" r="1.8" fill="#3c2cf2"/>
<circle cx="550.15" cy="802.01" r="1.8" fill="#3c2cf2"/>
<line x1="550.15" y1="780.14" x2="550.15" y2="802.01" stroke="#000" stroke-width="1.1"/>
<line x1="548.15" y1="780.14" x2="552.15" y2="780.14" stroke="#000" stroke-width="1.1"/>
<line x1="548.15" y1="802.01" x2="552.15" y2="802.01" stroke="#000" stroke-width="1.1"/>
<circle cx="562.3" cy="781.09" r="1.8" fill="#f2302c"/>
<circle cx="562.3" cy="792.02" r="1.8" fill="#f2302c"/>
<circle cx="562.3" cy="810" r="1.8" fill="#f2302c"/>
<line x1="562.3" y1="781.09" x2="562.3" y2="810" stroke="#f2302c" stroke-width="1.1"/>
<line x1="560.3" y1="781.09" x2="564.3" y2="781.09" stroke="#f2302c" stroke-width="1.1"/>
<line x1="560.3" y1="810" x2="564.3" y2="810" stroke="#f2302c" stroke-width="1.1"/>
<circle cx="576.85" cy="784.51" r="1.8" fill="#3c2cf2"/>
<circle cx="581.35" cy="790.6" r="1.8" fill="#3c2cf2"/>
<circle cx="578.85" cy="798.21" r="1.8" fill="#3c2cf2"/>
<line x1="578.85" y1="784.89" x2="578.85" y2="800.11" stroke="#000" stroke-width="1.1"/>
<line x1="576.85" y1="784.89" x2="580.85" y2="784.89" stroke="#000" stroke-width="1.1"/>
<line x1="576.85" y1="800.11" x2="580.85" y2="800.11" stroke="#000" stroke-width="1.1"/>
<circle cx="588.5" cy="784.89" r="1.8" fill="#f2302c"/>
<circle cx="592.5" cy="787.75" r="1.8" fill="#f2302c"/>
<circle cx="590.5" cy="803.91" r="1.8" fill="#f2302c"/>
<line x1="590.5" y1="784.89" x2="590.5" y2="804.86" stroke="#f2302c" stroke-width="1.1"/>
<line x1="588.5" y1="784.89" x2="592.5" y2="784.89" stroke="#f2302c" stroke-width="1.1"/>
<line x1="588.5" y1="804.86" x2="592.5" y2="804.86" stroke="#f2302c" stroke-width="1.1"/>
<circle cx="605.65" cy="788.7" r="1.8" fill="#3c2cf2"/>
<circle cx="609.65" cy="789.65" r="1.8" fill="#3c2cf2"/>
<circle cx="607.65" cy="797.25" r="1.8" fill="#3c2cf2"/>
<line x1="607.65" y1="788.7" x2="607.65" y2="796.3" stroke="#000" stroke-width="1.1"/>
<line x1="605.65" y1="788.7" x2="609.65" y2="788.7" stroke="#000" stroke-width="1.1"/>
<line x1="605.65" y1="796.3" x2="609.65" y2="796.3" stroke="#000" stroke-width="1.1"/>
<circle cx="619.3" cy="788.7" r="1.8" fill="#f2302c"/>
<circle cx="617.3" cy="792.5" r="1.8" fill="#f2302c"/>
<circle cx="621.3" cy="793.45" r="1.8" fill="#f2302c"/>
<line x1="619.3" y1="788.7" x2="619.3" y2="793.45" stroke="#f2302c" stroke-width="1.1"/>
<line x1="617.3" y1="788.7" x2="621.3" y2="788.7" stroke="#f2302c" stroke-width="1.1"/>
<line x1="617.3" y1="793.45" x2="621.3" y2="793.45" stroke="#f2302c" stroke-width="1.1"/>
<circle cx="634.15" cy="790.6" r="1.8" fill="#3c2cf2"/>
<circle cx="636.15" cy="792.5" r="1.8" fill="#3c2cf2"/>
<circle cx="638.15" cy="794.4" r="1.8" fill="#3c2cf2"/>
<line x1="636.15" y1="790.6" x2="636.15" y2="794.4" stroke="#000" stroke-width="1.1"/>
<line x1="634.15" y1="790.6" x2="638.15" y2="790.6" stroke="#000" stroke-width="1.1"/>
<line x1="634.15" y1="794.4" x2="638.15" y2="794.4" stroke="#000" stroke-width="1.1"/>
<circle cx="646.2" cy="790.6" r="1.8" fill="#f2302c"/>
<circle cx="648.2" cy="793.45" r="1.8" fill="#f2302c"/>
<circle cx="650.2" cy="794.4" r="1.8" fill="#f2302c"/>
<line x1="648.2" y1="790.6" x2="648.2" y2="794.4" stroke="#f2302c" stroke-width="1.1"/>
<line x1="646.2" y1="790.6" x2="650.2" y2="790.6" stroke="#f2302c" stroke-width="1.1"/>
<line x1="646.2" y1="794.4" x2="650.2" y2="794.4" stroke="#f2302c" stroke-width="1.1"/>
<line x1="482.3" y1="773.5" x2="482.3" y2="888.25" stroke="#000" stroke-width="1.3"/>
<line x1="477.3" y1="887.6" x2="482.3" y2="887.6" stroke="#000" stroke-width="1.3"/>
<text x="476.8" y="891.7" font-size="11.6" text-anchor="end">0</text>
<line x1="477.3" y1="859.07" x2="482.3" y2="859.07" stroke="#000" stroke-width="1.3"/>
<text x="476.8" y="863.17" font-size="11.6" text-anchor="end">30</text>
<line x1="477.3" y1="830.54" x2="482.3" y2="830.54" stroke="#000" stroke-width="1.3"/>
<text x="476.8" y="834.64" font-size="11.6" text-anchor="end">60</text>
<line x1="477.3" y1="802.01" x2="482.3" y2="802.01" stroke="#000" stroke-width="1.3"/>
<text x="476.8" y="806.11" font-size="11.6" text-anchor="end">90</text>
<line x1="477.3" y1="773.48" x2="482.3" y2="773.48" stroke="#000" stroke-width="1.3"/>
<text x="476.8" y="777.58" font-size="11.6" text-anchor="end">120</text>
<line x1="481.65" y1="887.6" x2="659.4" y2="887.6" stroke="#000" stroke-width="1.3"/>
<line x1="498.65" y1="887.6" x2="498.65" y2="891.9" stroke="#000" stroke-width="1.3"/>
<line x1="527.45" y1="887.6" x2="527.45" y2="891.9" stroke="#000" stroke-width="1.3"/>
<line x1="556.05" y1="887.6" x2="556.05" y2="891.9" stroke="#000" stroke-width="1.3"/>
<line x1="584.5" y1="887.6" x2="584.5" y2="891.9" stroke="#000" stroke-width="1.3"/>
<line x1="613.3" y1="887.6" x2="613.3" y2="891.9" stroke="#000" stroke-width="1.3"/>
<line x1="642" y1="887.6" x2="642" y2="891.9" stroke="#000" stroke-width="1.3"/>
<text transform="translate(503.15,897.3) rotate(-45)" font-size="11.2" text-anchor="end">Cortex</text>
<text transform="translate(527.15,897.5) rotate(-45)" font-size="11.2" text-anchor="end">Hippo-</text>
<text transform="translate(539.95,898) rotate(-45)" font-size="11.2" text-anchor="end">campus</text>
<text transform="translate(561.85,897.8) rotate(-45)" font-size="11" text-anchor="end">DG</text>
<text transform="translate(590.3,897.8) rotate(-45)" font-size="11" text-anchor="end">CA1</text>
<text transform="translate(619.1,897.8) rotate(-45)" font-size="11" text-anchor="end">CA2</text>
<text transform="translate(647.8,897.8) rotate(-45)" font-size="11" text-anchor="end">CA3</text>
<text transform="translate(509,779.6) rotate(-90)" font-size="12"><tspan font-style="italic">P</tspan> = 0.3701</text>
<text transform="translate(538,785) rotate(-90)" font-size="12"><tspan font-style="italic">P</tspan> = 0.5431</text>
<text transform="translate(566.9,778.4) rotate(-90)" font-size="12"><tspan font-style="italic">P</tspan> = 0.8261</text>
<text transform="translate(595.1,782) rotate(-90)" font-size="12"><tspan font-style="italic">P</tspan> = 0.8403</text>
<text transform="translate(623.9,786) rotate(-90)" font-size="12"><tspan font-style="italic">P</tspan> = 0.9011</text>
<text transform="translate(652.8,787.2) rotate(-90)" font-size="12"><tspan font-style="italic">P</tspan> = 0.8369</text>
<text transform="translate(457.8,828) rotate(-90)" font-size="11.8" text-anchor="middle">IBA1 level (%)</text>
</svg></body></html>
